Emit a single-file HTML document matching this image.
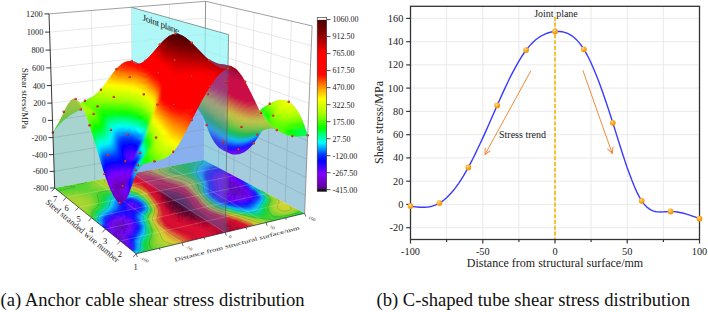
<!DOCTYPE html>
<html><head><meta charset="utf-8"><style>
html,body{margin:0;padding:0;background:#fff;width:708px;height:312px;overflow:hidden}
svg{display:block}
text{font-family:"Liberation Serif",serif}
</style></head><body>
<svg width="708" height="312" viewBox="0 0 708 312">
<defs>
<radialGradient id="dot" cx="0.38" cy="0.35" r="0.65">
<stop offset="0" stop-color="#ffe0a0"/><stop offset="0.45" stop-color="#fbad2a"/><stop offset="1" stop-color="#ef9500"/>
</radialGradient>
<radialGradient id="rdg" cx="0.4" cy="0.35" r="0.7">
<stop offset="0" stop-color="#f05050"/><stop offset="0.6" stop-color="#d01c1c"/><stop offset="1" stop-color="#a81010"/>
</radialGradient>
<circle id="rd" r="1.2" fill="url(#rdg)"/>
<filter id="bl2" x="-5%" y="-5%" width="110%" height="110%"><feGaussianBlur stdDeviation="1.0"/><feComponentTransfer><feFuncA type="linear" slope="3"/></feComponentTransfer></filter>
<clipPath id="sb"><path d="M159.8 44.5L148.2 58L145.4 60.6L142.6 62.6L139.9 63.7L138.2 63.3L135 61.7L131.8 60.9L134.5 63.1L137.2 64L139.1 63.9L154 74.4L156.9 77.6L164.3 87.2L167.2 90.4L168.8 91.7L174.7 94.7L177.7 95.1L183.7 96.4L186.6 97.5L189.6 99.5L192.6 102.2L197.1 107.7L203 116.3L206.2 125.1L209.4 132.9L210.9 136.3L214.1 141.9L217.3 146.1L218.9 147.7L223.7 150.8L225.8 151.6L229.7 153.5L232.8 154.4L236.2 154.6L239.3 154.3L244.3 152.2L247.7 149.7L249.5 148.1L252.9 144.4L258.2 137.2L262.1 131.1L263.5 130.3L267.5 128.9L271.5 128.4L275.4 129.1L278.7 131.2L282 132.9L286.8 134.9L291.7 136.1L294.9 136.5L299.7 136.5L304.5 135.9L307.7 135.2L304 124.2L300.3 115.6L298.4 112.2L296.5 109.2L292.6 104.6L288.8 101.7L284.9 100.2L283 99.9L279.1 100.1L275.3 101.1L269.7 103.7L264.1 107.1L259.6 110.4L249.2 89.2L243.9 79.2L242.2 76.3L240.3 73.7L238.5 71.4L236.8 69.6L235 68.3L231.2 66L223.8 64.2L220.1 64L216.5 62.9L209.2 59.5L205.7 57L195.2 46.2L190.1 41.3L185.1 37.2L181.8 35.3L178.7 34L175.5 33.8L172.1 34.6L168.9 36.1L165.8 38.4L162.8 41.3L159.8 44.5zM151.2 54.8L152.7 54L154.1 53.7L151.2 54.8zM157.3 54.7L154.6 53.7L156 54L157.3 54.7zM156.8 62.3L157.8 63.2L155.7 61.5L156.8 62.3zM157.5 59.2L155.2 57.7L156.4 58.4L157.5 59.2zM152.6 71.9L151.4 70.6L152 71.2L152.6 71.9zM151.6 67.3L152.7 68.5L150.4 66.4L151.6 67.3zM185.3 37.5L186.8 39L188.3 41.3L185.3 37.5zM185 39.3L182.2 35.9L183.7 37.3L185 39.3zM218.8 147L218.4 146.4L219.8 148.1L218.8 147zM281.4 108.2L282.2 107.5L280.6 109.1L281.4 108.2zM293.7 107.5L295.3 109.7L296.8 112.5L293.7 107.5zM283.3 101.8L283.7 101.5L282.9 102.2L283.3 101.8zM284 103.7L285 103.1L282.9 104.5L284 103.7zM280 107.3L280.7 106.5L281.4 105.8L280 107.3zM278.1 111.9L278 112L278.1 111.9L278.1 111.9zM281.1 120.4L282.8 122.4L284.4 125.2L281.1 120.4zM284.8 133.5L281.7 127.6L283.3 130.2L284.8 133.5z"/></clipPath>
<clipPath id="sf"><path d="M89.7 98.3L80.9 103L75.7 98.9L73.2 98.8L70.7 100.5L68.3 103.4L66 107.3L58.5 123.1L56.2 126.6L52.9 132.5L58.4 125.4L62.9 120.9L67.5 117.3L70.3 115.2L76.7 111.6L79.1 110.5L83.3 109.2L86.6 117.1L89.5 125.3L92.4 134.4L102.9 169.2L105.9 178.3L109 186.5L110.5 190.1L113.6 196.2L116.6 200.6L118.2 202L119.7 202.8L121.3 203.1L122.8 202.6L124.4 201.5L125.9 199.7L127.5 197L129.1 193.5L134.3 178.6L138.1 170.6L139.7 168L141.1 166.4L143.4 164.3L147.4 162.9L159.2 160.3L163.2 159L165.1 158.2L169 155.8L170.9 154.1L174.8 149.9L178.7 144.4L182.5 137.9L201.7 101L207.4 90.9L211.2 84.9L216.9 77.1L220.7 73.1L224.4 70.3L228.1 68.8L224.2 68.8L220.4 67.7L216.6 65.9L212.9 63.4L209.3 60.4L205.7 57L191.8 42.8L188.4 39.8L185.1 37.2L181.8 35.3L178.5 34.1L175.3 33.8L172.1 34.6L168.9 36.1L167.4 37.2L164.3 39.8L159.8 44.5L152.4 53.2L149.4 56.6L145.1 60.5L142.1 62.6L139.3 63.7L137.2 63.9L134.5 63L131.8 60.9L128.6 60.9L125.4 61.8L122.2 63.6L118.6 66.5L115.4 69.9L112.1 74L104 85.3L99.1 90.9L93 96.4L89.7 98.3zM116.3 71.8L115.6 72.7L116 72.2L116.3 71.8zM101.7 117.9L100.6 116L101.2 116.9L101.7 117.9zM103.3 87.5L104.4 87.6L102.4 88L103.3 87.5zM90.3 110.9L88.9 109L89.3 109.4L90.3 110.9zM70.4 106.2L70.8 105.5L71.3 104.9L70.4 106.2zM108.6 114.1L110.2 114.1L109.4 114.1L108.6 114.1zM108.7 87.3L108.8 87.3L108.7 87.3L108.7 87.3zM107 105.3L107.4 106L106.7 104.7L107 105.3zM109.3 92.3L107.5 89.8L108.4 90.9L109.3 92.3zM107.1 97.2L107.7 98.2L108.4 99.4L107.1 97.2zM108.3 94.3L108.1 94.5L107.8 94.8L108.3 94.3zM107.8 101.5L107.4 101.8L106.9 102.1L107.8 101.5zM105.5 116L105.6 116.1L105.4 115.8L105.5 116zM105.6 113.8L106.2 113.8L105.9 113.8L105.6 113.8zM123.2 187.9L126 185L124.6 186.6L123.2 187.9zM125.8 172.1L127.4 170L126.6 171.1L125.8 172.1zM130.2 166.1L130.2 166.1L130.2 166L130.2 166.1zM116.8 160.8L118.1 163.6L117.5 162.3L116.8 160.8zM114.6 186.8L113.4 184.8L115.7 188.3L114.6 186.8zM115.3 182.4L114.3 180.2L116.4 184.2L115.3 182.4zM116.1 176L115.2 174L116.9 177.7L116.1 176zM116.1 167.3L117.4 170.2L116.8 168.8L116.1 167.3zM112.9 189.9L111.8 188.3L114 191.1L112.9 189.9zM113.8 188.8L112.6 187.2L114.9 189.9L113.8 188.8zM118.8 66.7L119.9 65.8L121 65.1L118.8 66.7zM116.4 69.1L116.9 68.4L117.5 67.9L116.4 69.1zM121.5 189.6L120.1 190.6L118.6 191.2L121.5 189.6zM121.8 158.6L120.8 156.8L122.8 160L121.8 158.6zM122.4 188.5L120.9 189.6L119.3 190.2L122.4 188.5zM120.2 191.4L119.3 192.3L118.3 193L120.2 191.4zM126.7 154.9L125.8 153L127.6 156.6L126.7 154.9zM125 156.6L127.1 159.9L126.1 158.5L125 156.6zM128.1 161.9L129.8 162.3L129.7 162.3L128.1 161.9zM125.9 177.6L124.8 179L127.1 175.9L125.9 177.6zM125.3 183.2L124 184.7L126.6 181.4L125.3 183.2zM144.7 161.2L146 159.9L147.2 158.7L144.7 161.2zM145.3 156.9L146.5 155.5L147.7 154.2L145.3 156.9zM141.5 165.2L142 164.4L143.3 162.8L141.5 165.2zM152.1 155.5L153.6 157.6L155 160.6L152.1 155.5zM150.9 148.6L151.2 148.4L150.7 148.8L150.9 148.6zM150.4 151.6L151.4 150.8L149.4 152.5L150.4 151.6zM164.7 148.5L166.2 147.6L165.5 148.1L164.7 148.5zM165.4 130.1L166.4 130.8L167.4 131.5L165.4 130.1zM176.3 41.7L177.7 39.8L174.9 44.3L176.3 41.7zM171.8 34.8L168.9 38L170.4 36.1L171.8 34.8zM171.9 39.6L173.3 37.5L174.7 36L171.9 39.6zM170.4 144.4L169.3 145.3L168.2 146.2L170.4 144.4zM170.6 134.4L169 132.9L169.8 133.6L170.6 134.4zM168.9 138L170.3 136.6L169.6 137.3L168.9 138zM169.5 141.2L170.7 142.9L168.3 139.8L169.5 141.2zM215 77.9L213.4 78.2L216.6 77.2L215 77.9zM203.9 66.1L203.3 65.4L204.4 66.7L203.9 66.1zM204.8 74.6L203.8 73.7L202.8 72.7L204.8 74.6zM204.7 69.1L203 70.8L203.8 69.9L204.7 69.1zM203.3 78.1L203.8 77.5L204.2 77L203.3 78.1zM198.4 93.9L201.4 94.9L199.9 94.6L198.4 93.9zM201.3 87.3L200 86.5L198.7 85.6L201.3 87.3zM199.8 82.8L200.1 82.4L200.3 82.1L199.8 82.8z"/></clipPath>
<clipPath id="flc"><polygon points="54.7,188 203.9,160 304.6,213.3 136.1,253.8"/></clipPath>
<clipPath id="jpc"><polygon points="131.3,7.3 228.6,34.6 225.2,232.4 132.9,173.4"/></clipPath>
<clipPath id="band"><rect x="205.6" y="0" width="23" height="260"/></clipPath>
<clipPath id="curc"><polygon points="52.9,132.5 54.9,128.9 56.9,125.6 58.9,122.6 60.9,119.8 62.9,117.3 64.9,115.1 66.9,113 68.9,111.2 70.9,109.5 73,107.9 75,106.5 77,105.2 79,104 81,102.9 83,101.8 85,100.8 87,99.7 89,98.7 91,97.6 93,96.4 95,95 97,93.5 98.9,91.7 100.9,89.7 102.8,87.4 104.8,84.9 106.7,82.2 108.7,79.4 110.6,76.7 112.5,74 114.4,71.4 116.4,69 118.3,67 120.2,65.2 122.2,63.7 124.1,62.5 126,61.6 128,61 129.9,60.8 131.8,60.9 133.7,61.3 135.7,62 137.6,63 139.5,64.1 141.4,65.4 143.3,66.8 145.2,68.2 147.1,69.6 149,70.9 150.9,72.2 152.7,73.5 154.6,74.8 156.5,76 158.3,77.3 160.2,78.7 162,80.1 163.8,81.5 165.7,83 167.5,84.5 169.3,85.9 171.1,87.2 172.9,88.4 174.7,89.5 176.5,90.3 178.3,90.9 180.1,91.3 181.9,91.6 183.7,91.7 185.4,91.8 187.2,92 189,92.1 190.7,92.3 192.5,92.7 194.2,93.3 196,94 197.7,95.1 199.4,96.5 201.1,98.2 202.8,100.4 204.5,103 203.9,160 54.7,188"/><polygon points="307.7,135.2 305.9,129.4 304,124.2 302.1,119.7 300.2,115.6 298.3,112.2 296.4,109.2 294.5,106.7 292.6,104.6 290.7,103 288.7,101.7 286.8,100.8 284.9,100.2 283,99.9 281,99.9 279.1,100.1 277.2,100.5 275.3,101.1 273.4,101.9 271.5,102.8 269.7,103.8 267.8,104.8 266,105.9 264.1,107.1 262.3,108.4 260.5,109.8 258.6,111.2 256.8,112.7 255.1,114.3 253.3,115.9 251.5,117.6 249.8,119.4 248,121.2 246.3,123.1 244.6,124.8 242.9,126.5 241.2,128.1 239.5,129.4 237.8,130.6 236.2,131.5 234.6,132.2 233,132.5 231.4,132.6 229.8,132.3 228.2,131.8 226.7,131.1 225.1,130.1 223.6,129 222.1,127.6 220.6,126.1 219.1,124.4 217.6,122.6 216.1,120.6 214.6,118.6 213.2,116.5 211.7,114.3 210.2,112.1 208.8,109.8 207.4,107.5 205.9,105.2 204.5,103 203.9,160 304.6,213.3"/></clipPath>
<linearGradient id="cbg" x1="0" y1="0" x2="0" y2="1">
<stop offset="0" stop-color="#fff"/><stop offset="0.012" stop-color="#fff"/><stop offset="0.013" stop-color="#4a0000"/><stop offset="0.063" stop-color="#6e0000"/><stop offset="0.111" stop-color="#960000"/><stop offset="0.158" stop-color="#cc0000"/><stop offset="0.208" stop-color="#ff0000"/><stop offset="0.330" stop-color="#ff0800"/><stop offset="0.389" stop-color="#ff8000"/><stop offset="0.429" stop-color="#ffc000"/><stop offset="0.469" stop-color="#ffff00"/><stop offset="0.558" stop-color="#a0ff00"/><stop offset="0.637" stop-color="#00ff00"/><stop offset="0.680" stop-color="#00ff90"/><stop offset="0.720" stop-color="#00ffff"/><stop offset="0.753" stop-color="#00a0ff"/><stop offset="0.786" stop-color="#0040ff"/><stop offset="0.825" stop-color="#0000ff"/><stop offset="0.898" stop-color="#8000ff"/><stop offset="0.944" stop-color="#7000c8"/><stop offset="0.987" stop-color="#5a0090"/><stop offset="0.988" stop-color="#111"/><stop offset="1" stop-color="#111"/>
</linearGradient>
<marker id="ah" markerWidth="8" markerHeight="8" refX="7" refY="4" orient="auto" markerUnits="userSpaceOnUse">
<path d="M1,1 L7,4 L1,7" fill="none" stroke="#f08a3c" stroke-width="1"/>
</marker>
</defs>
<g id="rc">
<g stroke="#e8e8e8" stroke-width="0.9"><line x1="446.6" y1="6.3" x2="446.6" y2="239.5"/><line x1="482.8" y1="6.3" x2="482.8" y2="239.5"/><line x1="518.9" y1="6.3" x2="518.9" y2="239.5"/><line x1="555.0" y1="6.3" x2="555.0" y2="239.5"/><line x1="591.1" y1="6.3" x2="591.1" y2="239.5"/><line x1="627.2" y1="6.3" x2="627.2" y2="239.5"/><line x1="663.4" y1="6.3" x2="663.4" y2="239.5"/><line x1="410.5" y1="227.7" x2="699.5" y2="227.7"/><line x1="410.5" y1="204.4" x2="699.5" y2="204.4"/><line x1="410.5" y1="181.2" x2="699.5" y2="181.2"/><line x1="410.5" y1="157.9" x2="699.5" y2="157.9"/><line x1="410.5" y1="134.7" x2="699.5" y2="134.7"/><line x1="410.5" y1="111.4" x2="699.5" y2="111.4"/><line x1="410.5" y1="88.1" x2="699.5" y2="88.1"/><line x1="410.5" y1="64.9" x2="699.5" y2="64.9"/><line x1="410.5" y1="41.7" x2="699.5" y2="41.7"/><line x1="410.5" y1="18.4" x2="699.5" y2="18.4"/></g>
<g stroke="#3a3a3a" stroke-width="1.2"><line x1="406.2" y1="227.7" x2="410.5" y2="227.7"/><line x1="406.2" y1="204.4" x2="410.5" y2="204.4"/><line x1="406.2" y1="181.2" x2="410.5" y2="181.2"/><line x1="406.2" y1="157.9" x2="410.5" y2="157.9"/><line x1="406.2" y1="134.7" x2="410.5" y2="134.7"/><line x1="406.2" y1="111.4" x2="410.5" y2="111.4"/><line x1="406.2" y1="88.1" x2="410.5" y2="88.1"/><line x1="406.2" y1="64.9" x2="410.5" y2="64.9"/><line x1="406.2" y1="41.7" x2="410.5" y2="41.7"/><line x1="406.2" y1="18.4" x2="410.5" y2="18.4"/><line x1="410.5" y1="239.5" x2="410.5" y2="243.6"/><line x1="482.8" y1="239.5" x2="482.8" y2="243.6"/><line x1="555.0" y1="239.5" x2="555.0" y2="243.6"/><line x1="627.2" y1="239.5" x2="627.2" y2="243.6"/><line x1="699.5" y1="239.5" x2="699.5" y2="243.6"/><line x1="446.6" y1="239.5" x2="446.6" y2="241.9"/><line x1="518.9" y1="239.5" x2="518.9" y2="241.9"/><line x1="591.1" y1="239.5" x2="591.1" y2="241.9"/><line x1="663.4" y1="239.5" x2="663.4" y2="241.9"/></g>
<g font-size="10.3" fill="#222"><text x="403.3" y="231.1" text-anchor="end">-20</text><text x="403.3" y="207.8" text-anchor="end">0</text><text x="403.3" y="184.6" text-anchor="end">20</text><text x="403.3" y="161.3" text-anchor="end">40</text><text x="403.3" y="138.1" text-anchor="end">60</text><text x="403.3" y="114.8" text-anchor="end">80</text><text x="403.3" y="91.5" text-anchor="end">100</text><text x="403.3" y="68.3" text-anchor="end">120</text><text x="403.3" y="45.1" text-anchor="end">140</text><text x="403.3" y="21.8" text-anchor="end">160</text><text x="410.5" y="255.3" text-anchor="middle">-100</text><text x="482.8" y="255.3" text-anchor="middle">-50</text><text x="555.0" y="255.3" text-anchor="middle">0</text><text x="627.2" y="255.3" text-anchor="middle">50</text><text x="699.5" y="255.3" text-anchor="middle">100</text></g>
<line x1="555" y1="17" x2="555" y2="239.5" stroke="#f7b600" stroke-width="1.6" stroke-dasharray="3.9,1.9"/>
<rect x="410.5" y="6.3" width="289" height="233.2" fill="none" stroke="#333" stroke-width="1.3"/>
<path d="M410.5,206.1 L412.9,206.5 L415.3,206.8 L417.7,207.0 L420.1,207.2 L422.5,207.3 L424.9,207.2 L427.4,207.0 L429.8,206.7 L432.2,206.1 L434.6,205.4 L437.0,204.4 L439.4,203.1 L441.8,201.6 L444.2,199.8 L446.6,197.7 L449.0,195.3 L451.4,192.7 L453.9,189.8 L456.3,186.6 L458.7,183.3 L461.1,179.7 L463.5,175.8 L465.9,171.7 L468.3,167.4 L470.7,162.9 L473.1,158.2 L475.5,153.4 L477.9,148.3 L480.3,143.2 L482.8,137.9 L485.2,132.6 L487.6,127.2 L490.0,121.7 L492.4,116.3 L494.8,110.8 L497.2,105.4 L499.6,100.0 L502.0,94.6 L504.4,89.4 L506.8,84.2 L509.2,79.2 L511.6,74.4 L514.1,69.8 L516.5,65.3 L518.9,61.1 L521.3,57.2 L523.7,53.5 L526.1,50.1 L528.5,47.1 L530.9,44.4 L533.3,41.9 L535.7,39.8 L538.1,38.0 L540.5,36.4 L543.0,35.0 L545.4,33.9 L547.8,33.0 L550.2,32.3 L552.6,31.8 L555.0,31.5 L557.4,31.4 L559.8,31.5 L562.2,31.8 L564.6,32.3 L567.0,33.2 L569.5,34.3 L571.9,35.8 L574.3,37.7 L576.7,39.9 L579.1,42.6 L581.5,45.7 L583.9,49.3 L586.3,53.4 L588.7,58.0 L591.1,63.0 L593.5,68.5 L595.9,74.3 L598.4,80.5 L600.8,86.9 L603.2,93.7 L605.6,100.7 L608.0,107.9 L610.4,115.3 L612.8,122.8 L615.2,130.4 L617.6,138.1 L620.0,145.7 L622.4,153.3 L624.8,160.6 L627.2,167.7 L629.7,174.5 L632.1,180.8 L634.5,186.7 L636.9,192.1 L639.3,196.8 L641.7,200.8 L644.1,204.1 L646.5,206.7 L648.9,208.6 L651.3,210.1 L653.7,211.1 L656.1,211.7 L658.6,211.9 L661.0,212.0 L663.4,211.9 L665.8,211.7 L668.2,211.6 L670.6,211.5 L673.2,211.6 L675.9,211.8 L678.5,212.2 L681.1,212.7 L683.7,213.3 L686.4,214.1 L689.0,214.9 L691.6,215.8 L694.2,216.7 L696.9,217.7 L699.5,218.7" fill="none" stroke="#3a3aff" stroke-width="1.4"/>
<g fill="url(#dot)"><circle cx="410.5" cy="206.1" r="2.9"/>
<circle cx="439.4" cy="203.1" r="2.9"/>
<circle cx="468.3" cy="167.4" r="2.9"/>
<circle cx="497.2" cy="105.4" r="2.9"/>
<circle cx="526.1" cy="50.1" r="2.9"/>
<circle cx="555.0" cy="31.5" r="2.9"/>
<circle cx="583.9" cy="49.3" r="2.9"/>
<circle cx="612.8" cy="122.8" r="2.9"/>
<circle cx="641.7" cy="200.8" r="2.9"/>
<circle cx="670.6" cy="211.5" r="2.9"/>
<circle cx="699.5" cy="218.7" r="2.9"/></g>
<line x1="530.8" y1="70.9" x2="485" y2="154.5" stroke="#f08a3c" stroke-width="1" marker-end="url(#ah)"/>
<line x1="582.8" y1="70.2" x2="612.2" y2="153.4" stroke="#f08a3c" stroke-width="1" marker-end="url(#ah)"/>
<text x="556" y="17.2" font-size="10" text-anchor="middle" fill="#222">Joint plane</text>
<text x="499" y="138.3" font-size="10" fill="#222">Stress trend</text>
<text x="555" y="267.2" font-size="12" text-anchor="middle" fill="#222">Distance from structural surface/mm</text>
<text transform="translate(383,122.5) rotate(-90)" font-size="12" text-anchor="middle" fill="#222">Shear stress/MPa</text>
</g>
<text x="0.5" y="305.5" font-size="18.6" fill="#111">(a) Anchor cable shear stress distribution</text>
<text x="376.5" y="305.5" font-size="18.6" fill="#111">(b) C-shaped tube shear stress distribution</text>

<g id="lc">
<g stroke="#d9d9d9" stroke-width="0.6"><line x1="54.2" y1="171.4" x2="204.1" y2="144.8"/><line x1="204.1" y1="144.8" x2="305.3" y2="195.4"/><line x1="53.6" y1="154.6" x2="204.2" y2="129.4"/><line x1="204.2" y1="129.4" x2="306" y2="177.4"/><line x1="53.1" y1="137.6" x2="204.4" y2="113.9"/><line x1="204.4" y1="113.9" x2="306.8" y2="159.2"/><line x1="52.5" y1="120.4" x2="204.6" y2="98.3"/><line x1="204.6" y1="98.3" x2="307.5" y2="140.7"/><line x1="51.9" y1="103.1" x2="204.7" y2="82.5"/><line x1="204.7" y1="82.5" x2="308.3" y2="122.1"/><line x1="51.4" y1="85.6" x2="204.9" y2="66.5"/><line x1="204.9" y1="66.5" x2="309" y2="103.3"/><line x1="50.8" y1="67.9" x2="205.1" y2="50.5"/><line x1="205.1" y1="50.5" x2="309.8" y2="84.3"/><line x1="50.2" y1="50.1" x2="205.3" y2="34.2"/><line x1="205.3" y1="34.2" x2="310.6" y2="65"/><line x1="49.6" y1="32.1" x2="205.4" y2="17.9"/><line x1="205.4" y1="17.9" x2="311.3" y2="45.6"/><line x1="91.2" y1="10.5" x2="94.8" y2="180.5"/><line x1="131.3" y1="7.3" x2="132.9" y2="173.4"/><line x1="169.4" y1="4.2" x2="169.3" y2="166.5"/><line x1="291.5" y1="21.2" x2="285.2" y2="203.1"/><line x1="272.2" y1="16.7" x2="267" y2="193.4"/><line x1="254.1" y1="12.5" x2="249.9" y2="184.4"/><line x1="237" y1="8.6" x2="233.7" y2="175.8"/><line x1="220.8" y1="4.9" x2="218.4" y2="167.7"/></g>
<g stroke="#666" stroke-width="0.7"><line x1="205.6" y1="1.3" x2="203.9" y2="160"/></g>
<polygon points="131.3,7.3 228.6,34.6 225.2,232.4 132.9,173.4" fill="#8ef5f5" fill-opacity="0.7"/>
<polygon points="52.9,132.5 54.9,128.9 56.9,125.6 58.9,122.6 60.9,119.8 62.9,117.3 64.9,115.1 66.9,113 68.9,111.2 70.9,109.5 73,107.9 75,106.5 77,105.2 79,104 81,102.9 83,101.8 85,100.8 87,99.7 89,98.7 91,97.6 93,96.4 95,95 97,93.5 98.9,91.7 100.9,89.7 102.8,87.4 104.8,84.9 106.7,82.2 108.7,79.4 110.6,76.7 112.5,74 114.4,71.4 116.4,69 118.3,67 120.2,65.2 122.2,63.7 124.1,62.5 126,61.6 128,61 129.9,60.8 131.8,60.9 133.7,61.3 135.7,62 137.6,63 139.5,64.1 141.4,65.4 143.3,66.8 145.2,68.2 147.1,69.6 149,70.9 150.9,72.2 152.7,73.5 154.6,74.8 156.5,76 158.3,77.3 160.2,78.7 162,80.1 163.8,81.5 165.7,83 167.5,84.5 169.3,85.9 171.1,87.2 172.9,88.4 174.7,89.5 176.5,90.3 178.3,90.9 180.1,91.3 181.9,91.6 183.7,91.7 185.4,91.8 187.2,92 189,92.1 190.7,92.3 192.5,92.7 194.2,93.3 196,94 197.7,95.1 199.4,96.5 201.1,98.2 202.8,100.4 204.5,103 203.9,160 54.7,188" fill="#a8d4d0"/>
<polygon points="307.7,135.2 305.9,129.4 304,124.2 302.1,119.7 300.2,115.6 298.3,112.2 296.4,109.2 294.5,106.7 292.6,104.6 290.7,103 288.7,101.7 286.8,100.8 284.9,100.2 283,99.9 281,99.9 279.1,100.1 277.2,100.5 275.3,101.1 273.4,101.9 271.5,102.8 269.7,103.8 267.8,104.8 266,105.9 264.1,107.1 262.3,108.4 260.5,109.8 258.6,111.2 256.8,112.7 255.1,114.3 253.3,115.9 251.5,117.6 249.8,119.4 248,121.2 246.3,123.1 244.6,124.8 242.9,126.5 241.2,128.1 239.5,129.4 237.8,130.6 236.2,131.5 234.6,132.2 233,132.5 231.4,132.6 229.8,132.3 228.2,131.8 226.7,131.1 225.1,130.1 223.6,129 222.1,127.6 220.6,126.1 219.1,124.4 217.6,122.6 216.1,120.6 214.6,118.6 213.2,116.5 211.7,114.3 210.2,112.1 208.8,109.8 207.4,107.5 205.9,105.2 204.5,103 203.9,160 304.6,213.3" fill="#a4ccdc"/>
<g clip-path="url(#jpc)"><polygon points="52.9,132.5 54.9,128.9 56.9,125.6 58.9,122.6 60.9,119.8 62.9,117.3 64.9,115.1 66.9,113 68.9,111.2 70.9,109.5 73,107.9 75,106.5 77,105.2 79,104 81,102.9 83,101.8 85,100.8 87,99.7 89,98.7 91,97.6 93,96.4 95,95 97,93.5 98.9,91.7 100.9,89.7 102.8,87.4 104.8,84.9 106.7,82.2 108.7,79.4 110.6,76.7 112.5,74 114.4,71.4 116.4,69 118.3,67 120.2,65.2 122.2,63.7 124.1,62.5 126,61.6 128,61 129.9,60.8 131.8,60.9 133.7,61.3 135.7,62 137.6,63 139.5,64.1 141.4,65.4 143.3,66.8 145.2,68.2 147.1,69.6 149,70.9 150.9,72.2 152.7,73.5 154.6,74.8 156.5,76 158.3,77.3 160.2,78.7 162,80.1 163.8,81.5 165.7,83 167.5,84.5 169.3,85.9 171.1,87.2 172.9,88.4 174.7,89.5 176.5,90.3 178.3,90.9 180.1,91.3 181.9,91.6 183.7,91.7 185.4,91.8 187.2,92 189,92.1 190.7,92.3 192.5,92.7 194.2,93.3 196,94 197.7,95.1 199.4,96.5 201.1,98.2 202.8,100.4 204.5,103 203.9,160 54.7,188" fill="#88b0ee"/><polygon points="307.7,135.2 305.9,129.4 304,124.2 302.1,119.7 300.2,115.6 298.3,112.2 296.4,109.2 294.5,106.7 292.6,104.6 290.7,103 288.7,101.7 286.8,100.8 284.9,100.2 283,99.9 281,99.9 279.1,100.1 277.2,100.5 275.3,101.1 273.4,101.9 271.5,102.8 269.7,103.8 267.8,104.8 266,105.9 264.1,107.1 262.3,108.4 260.5,109.8 258.6,111.2 256.8,112.7 255.1,114.3 253.3,115.9 251.5,117.6 249.8,119.4 248,121.2 246.3,123.1 244.6,124.8 242.9,126.5 241.2,128.1 239.5,129.4 237.8,130.6 236.2,131.5 234.6,132.2 233,132.5 231.4,132.6 229.8,132.3 228.2,131.8 226.7,131.1 225.1,130.1 223.6,129 222.1,127.6 220.6,126.1 219.1,124.4 217.6,122.6 216.1,120.6 214.6,118.6 213.2,116.5 211.7,114.3 210.2,112.1 208.8,109.8 207.4,107.5 205.9,105.2 204.5,103 203.9,160 304.6,213.3" fill="#98d0e2"/></g>
<g stroke="#7d9cb0" stroke-width="0.55" opacity="0.75" clip-path="url(#curc)"><line x1="54.2" y1="171.4" x2="204.1" y2="144.8"/><line x1="204.1" y1="144.8" x2="305.3" y2="195.4"/><line x1="53.6" y1="154.6" x2="204.2" y2="129.4"/><line x1="204.2" y1="129.4" x2="306" y2="177.4"/><line x1="53.1" y1="137.6" x2="204.4" y2="113.9"/><line x1="204.4" y1="113.9" x2="306.8" y2="159.2"/><line x1="52.5" y1="120.4" x2="204.6" y2="98.3"/><line x1="204.6" y1="98.3" x2="307.5" y2="140.7"/><line x1="51.9" y1="103.1" x2="204.7" y2="82.5"/><line x1="204.7" y1="82.5" x2="308.3" y2="122.1"/><line x1="51.4" y1="85.6" x2="204.9" y2="66.5"/><line x1="204.9" y1="66.5" x2="309" y2="103.3"/><line x1="50.8" y1="67.9" x2="205.1" y2="50.5"/><line x1="205.1" y1="50.5" x2="309.8" y2="84.3"/><line x1="50.2" y1="50.1" x2="205.3" y2="34.2"/><line x1="205.3" y1="34.2" x2="310.6" y2="65"/><line x1="49.6" y1="32.1" x2="205.4" y2="17.9"/><line x1="205.4" y1="17.9" x2="311.3" y2="45.6"/><line x1="91.2" y1="10.5" x2="94.8" y2="180.5"/><line x1="131.3" y1="7.3" x2="132.9" y2="173.4"/><line x1="169.4" y1="4.2" x2="169.3" y2="166.5"/><line x1="291.5" y1="21.2" x2="285.2" y2="203.1"/><line x1="272.2" y1="16.7" x2="267" y2="193.4"/><line x1="254.1" y1="12.5" x2="249.9" y2="184.4"/><line x1="237" y1="8.6" x2="233.7" y2="175.8"/><line x1="220.8" y1="4.9" x2="218.4" y2="167.7"/></g>
<g clip-path="url(#flc)"><g fill="currentColor" stroke="currentColor" stroke-width="0.5" filter="url(#bl2)"><path color="#0ed1fe" d="M136.1 253.8l4-.9 -3.3-2.7 -3.9 1zM143.5 232.5l3.7-.8 -3.1-2.4 -3.7 .9zM144.1 229.3l3.6-.8 -3.1-2.3 -3.6 .8zM143.2 215l3.5-.7 -3-2.1 -3.5 .7zM102.5 215.5l3.6-.8 -2.8-2.1 -3.6 .7zM111.2 208.3l3.6-.7 -2.8-2.1 -3.5 .7zM112 205.5l3.5-.7 -2.7-2 -3.5 .7zM112.8 202.8l3.4-.7 -2.7-2 -3.4 .7zM113.5 200.1l3.5-.6 -2.7-2 -3.4 .7z"/><path color="#0ed4a8" d="M140.1 252.9l3.9-1 -3.3-2.6 -3.9 .9zM141.3 245.8l3.8-.9 -3.2-2.5 -3.9 .9zM141.9 242.4l3.8-.9 -3.3-2.5 -3.7 .9zM262.9 205.3l3.1-.7 -3.6-2 -3.1 .7zM257.1 190.4l3-.7 -3.5-1.8 -3 .7zM97 222.2l3.7-.8 -2.8-2.2 -3.7 .8zM147.6 208.6l3.5-.7 -3-2.1 -3.4 .8zM110.9 198.2l3.4-.7 -2.7-1.9 -3.4 .7z"/><path color="#0ed454" d="M144 251.9l3.9-.9 -3.3-2.6 -3.9 .9zM147.7 228.5l3.7-.8 -3.2-2.3 -3.6 .8zM227.2 210.6l3.3-.8 -3.5-2 -3.2 .7zM260.5 192.2l3-.6 -3.4-1.9 -3 .7zM95.2 217l3.6-.8 -2.7-2.1 -3.6 .8zM100.6 210.5l3.6-.7 -2.7-2.1 -3.6 .7zM108.2 196.3l3.4-.7 -2.6-1.9 -3.4 .7z"/><path color="#2dd432" d="M147.9 251l3.8-1 -3.3-2.5 -3.8 .9zM282.3 218.6l3.3-.7 -3.9-2.2 -3.2 .8zM285.6 217.9l3.2-.8 -3.9-2.2 -3.2 .8zM288.8 217.1l3.2-.8 -4-2.1 -3.1 .7zM292 216.3l3.1-.8 -3.9-2.1 -3.2 .8zM295.1 215.5l3.2-.7 -3.9-2.1 -3.2 .7zM258.4 218.2l3.3-.8 -3.8-2.2 -3.2 .8zM149.9 237.3l3.8-.9 -3.3-2.4 -3.7 .9zM150.4 234l3.7-.8 -3.2-2.4 -3.7 .9zM148.2 225.4l3.6-.8 -3.1-2.2 -3.6 .7zM264 194.1l3-.7 -3.5-1.8 -3 .6zM140 197.3l3.3-.7 -2.8-1.9 -3.3 .7zM100.6 200.3l3.4-.7 -2.6-1.9 -3.4 .6zM101.4 197.7l3.4-.7 -2.6-1.9 -3.4 .6zM125 192.9l3.4-.6 -2.7-1.9 -3.3 .7zM105.6 194.4l3.4-.7 -2.6-1.8 -3.3 .6zM109 193.7l3.4-.6 -2.6-1.9 -3.4 .7zM112.4 193.1l3.3-.7 -2.6-1.8 -3.3 .6zM57 189.9l3.4-.7 -2.3-1.8 -3.4 .6z"/><path color="#53d432" d="M151.7 250l3.9-.9 -3.4-2.6 -3.8 1zM262.2 220.3l3.3-.7 -3.8-2.2 -3.3 .8zM275.2 217.2l3.3-.7 -3.9-2.2 -3.2 .8zM271.4 215.1l3.2-.8 -3.8-2.1 -3.2 .8zM248.1 217.5l3.3-.7 -3.7-2.2 -3.2 .8zM91.5 217.8l3.7-.8 -2.7-2.1 -3.6 .7zM97.1 201l3.5-.7 -2.6-2 -3.5 .7zM95.4 196.4l3.4-.7 -2.5-1.8 -3.4 .6zM119 191.7l3.4-.6 -2.7-1.8 -3.3 .6zM96.3 193.9l3.4-.7 -2.5-1.9 -3.4 .7zM99.7 193.2l3.4-.7 -2.6-1.8 -3.3 .6zM103.1 192.5l3.3-.6 -2.5-1.9 -3.4 .7zM106.4 191.9l3.4-.7 -2.6-1.8 -3.3 .6zM75.3 190.9l3.4-.6 -2.4-1.9 -3.4 .7zM78.7 190.3l3.4-.7 -2.4-1.8 -3.4 .6zM59.2 191.7l3.5-.7 -2.3-1.8 -3.4 .7zM62.7 191l3.4-.6 -2.3-1.8 -3.4 .6zM66.1 190.4l3.4-.7 -2.3-1.8 -3.4 .7zM69.5 189.7l3.4-.6 -2.3-1.8 -3.4 .6zM72.9 189.1l3.4-.7 -2.3-1.8 -3.4 .7zM76.3 188.4l3.4-.6 -2.4-1.8 -3.3 .6zM79.7 187.8l3.4-.6 -2.4-1.8 -3.4 .6zM83.1 187.2l3.3-.7 -2.4-1.8 -3.3 .7zM67.2 187.9l3.4-.6 -2.3-1.8 -3.4 .6zM70.6 187.3l3.4-.7 -2.3-1.7 -3.4 .6zM74 186.6l3.3-.6 -2.3-1.8 -3.3 .7zM77.3 186l3.4-.6 -2.4-1.8 -3.3 .6zM80.7 185.4l3.3-.7 -2.3-1.7 -3.4 .6zM84 184.7l3.3-.6 -2.3-1.7 -3.3 .6z"/><path color="#6dd432" d="M155.6 249.1l3.8-.9 -3.3-2.6 -3.9 .9zM152.2 246.5l3.9-.9 -3.4-2.5 -3.8 .9zM278.5 216.5l3.2-.8 -3.9-2.1 -3.2 .7zM270.8 212.2l3.2-.7 -3.7-2.1 -3.2 .7zM270.3 209.4l3.1-.7 -3.7-2.1 -3.1 .7zM151.4 227.7l3.6-.8 -3.2-2.3 -3.6 .8zM271.7 200.5l3.1-.7 -3.7-1.9 -3 .7zM149.7 216.4l3.5-.8 -3-2.1 -3.5 .8zM151.1 207.9l3.4-.8 -3-2 -3.4 .7zM89.8 212.7l3.7-.7 -2.7-2.1 -3.6 .7zM95.3 206.4l3.5-.7 -2.6-2 -3.5 .7zM92 197.1l3.4-.7 -2.5-1.9 -3.4 .7zM89.5 195.2l3.4-.7 -2.5-1.8 -3.4 .6zM83.6 194l3.4-.7 -2.5-1.8 -3.4 .6zM87 193.3l3.4-.6 -2.5-1.9 -3.4 .7zM97.2 191.3l3.3-.6 -2.5-1.8 -3.3 .6zM100.5 190.7l3.4-.7 -2.6-1.8 -3.3 .7zM70.8 194.1l3.5-.7 -2.4-1.8 -3.4 .6zM74.3 193.4l3.4-.6 -2.4-1.9 -3.4 .7zM77.7 192.8l3.4-.7 -2.4-1.8 -3.4 .6zM91.3 190.1l3.4-.6 -2.5-1.8 -3.4 .6zM61.6 193.6l3.4-.7 -2.3-1.9 -3.5 .7zM88.8 188.3l3.4-.6 -2.4-1.8 -3.4 .6zM89.8 185.9l3.3-.6 -2.5-1.8 -3.3 .6zM90.6 183.5l3.3-.6 -2.4-1.8 -3.3 .6z"/><path color="#87d432" d="M159.4 248.2l3.8-.9 -3.4-2.6 -3.7 .9zM281.7 215.7l3.2-.8 -3.9-2.1 -3.2 .8zM297.5 211.9l3.1-.7 -3.9-2.1 -3.1 .7zM251.8 219.7l3.3-.8 -3.7-2.1 -3.3 .7zM274.6 214.3l3.2-.7 -3.8-2.1 -3.2 .7zM154.1 233.2l3.7-.9 -3.2-2.3 -3.7 .8zM149.2 219.4l3.6-.8 -3.1-2.2 -3.5 .8zM91.8 207.1l3.5-.7 -2.6-2 -3.5 .7zM92.7 204.4l3.5-.7 -2.6-2 -3.5 .7zM91.1 199.7l3.4-.7 -2.5-1.9 -3.5 .7zM88.5 197.8l3.5-.7 -2.5-1.9 -3.5 .7zM82.6 196.6l3.4-.7 -2.4-1.9 -3.5 .7zM73.2 196l3.5-.7 -2.4-1.9 -3.5 .7zM76.7 195.3l3.4-.6 -2.4-1.9 -3.4 .6zM98 188.9l3.3-.7 -2.5-1.8 -3.3 .6zM95.5 187l3.3-.6 -2.4-1.8 -3.3 .7zM93.1 185.3l3.3-.7 -2.5-1.7 -3.3 .6z"/><path color="#98d432" d="M163.2 247.3l3.8-.9 -3.4-2.6 -3.8 .9zM284.9 214.9l3.1-.7 -3.8-2.1 -3.2 .7zM294.4 212.7l3.1-.8 -3.9-2.1 -3.1 .8zM244.8 218.3l3.3-.8 -3.6-2.1 -3.3 .7zM274 211.5l3.2-.8 -3.8-2 -3.1 .7zM227.4 213.4l3.3-.8 -3.5-2 -3.2 .7zM86.2 213.5l3.6-.8 -2.6-2.1 -3.6 .8zM88.2 207.8l3.6-.7 -2.6-2 -3.6 .7zM90.1 202.4l3.5-.7 -2.5-2 -3.5 .7zM87.6 200.4l3.5-.7 -2.6-1.9 -3.4 .7zM125.7 190.4l3.3-.6 -2.7-1.8 -3.3 .6zM68.6 199.3l3.6-.7 -2.5-1.9 -3.5 .7zM72.2 198.6l3.4-.7 -2.4-1.9 -3.5 .7zM75.6 197.9l3.5-.7 -2.4-1.9 -3.5 .7zM98.8 186.4l3.3-.6 -2.4-1.8 -3.3 .6z"/><path color="#acd432" d="M167 246.4l3.8-.9 -3.4-2.6 -3.8 .9zM293.6 209.8l3.1-.7 -3.9-2 -3.1 .7zM237.9 216.9l3.3-.8 -3.6-2.1 -3.3 .8zM276 205.2l3.1-.7 -3.7-2 -3.1 .7zM153.6 212.8l3.5-.8 -3-2.1 -3.5 .8zM78.5 207.3l3.6-.8 -2.6-2 -3.5 .7zM82.1 206.5l3.5-.7 -2.5-2 -3.6 .7zM76 205.2l3.5-.7 -2.4-2 -3.6 .7zM79.5 204.5l3.6-.7 -2.5-2 -3.5 .7zM83.1 203.8l3.5-.7 -2.5-2 -3.5 .7zM137.7 192.8l3.3-.6 -2.8-1.9 -3.2 .7zM77.1 202.5l3.5-.7 -2.5-1.9 -3.5 .6zM80.6 201.8l3.5-.7 -2.5-1.9 -3.5 .7z"/><path color="#c0d432" d="M170.8 245.5l3.8-.9 -3.5-2.6 -3.7 .9zM284.2 212.1l3.1-.8 -3.8-2 -3.2 .7zM290.5 210.6l3.1-.8 -3.9-2 -3.1 .7zM160.7 238l3.7-.9 -3.3-2.4 -3.7 .9zM289.7 207.8l3.1-.7 -3.8-2.1 -3.1 .8zM231 215.5l3.3-.7 -3.6-2.2 -3.3 .8zM279.1 204.5l3.1-.7 -3.8-2 -3 .7zM155 226.9l3.6-.8 -3.2-2.3 -3.6 .8zM135 191l3.2-.7 -2.7-1.8 -3.3 .6zM123 188.6l3.3-.6 -2.6-1.8 -3.3 .6z"/><path color="#d4d432" d="M174.6 244.6l3.7-.9 -3.5-2.5 -3.7 .8zM283.5 209.3l3.1-.8 -3.8-2 -3.1 .7zM286.6 208.5l3.1-.7 -3.8-2 -3.1 .7zM149 200.4l3.4-.6 -2.9-2 -3.4 .7zM132.2 189.1l3.3-.6 -2.7-1.8 -3.2 .6zM126.3 188l3.3-.7 -2.7-1.8 -3.2 .7zM107 180.4l3.2-.6 -2.5-1.7 -3.2 .6z"/><path color="#dab432" d="M178.3 243.7l3.7-.9 -3.5-2.5 -3.7 .9zM146.6 195.9l3.3-.7 -2.8-1.8 -3.3 .6zM138.2 190.3l3.3-.6 -2.8-1.9 -3.2 .7zM110.2 179.8l3.2-.6 -2.5-1.7 -3.2 .6z"/><path color="#da8b32" d="M182 242.8l3.7-.9 -3.5-2.5 -3.7 .9zM252.7 225.8l3.3-.8 -3.7-2.3 -3.4 .8zM238.2 219.9l3.3-.8 -3.6-2.2 -3.4 .8zM149.5 197.8l3.3-.7 -2.9-1.9 -3.3 .7zM113.4 179.2l3.2-.6 -2.5-1.7 -3.2 .6z"/><path color="#da5332" d="M185.7 241.9l3.7-.9 -3.5-2.5 -3.7 .9zM182.2 239.4l3.7-.9 -3.5-2.4 -3.6 .9zM178.8 237l3.6-.9 -3.4-2.4 -3.6 .9zM152.4 199.8l3.3-.7 -2.9-2 -3.3 .7zM147.1 193.4l3.2-.7 -2.8-1.9 -3.2 .7z"/><path color="#da2c32" d="M189.4 241l3.7-.9 -3.6-2.4 -3.6 .8zM185.9 238.5l3.6-.8 -3.4-2.5 -3.7 .9zM172 232.2l3.6-.9 -3.3-2.3 -3.6 .8zM149.9 195.2l3.3-.6 -2.9-1.9 -3.2 .7zM124.9 181.4l3.2-.6 -2.6-1.7 -3.2 .6zM122.3 179.7l3.2-.6 -2.6-1.7 -3.1 .6zM122.9 177.4l3.2-.6 -2.5-1.7 -3.2 .6z"/><path color="#da0e32" d="M193.1 240.1l3.6-.9 -3.5-2.4 -3.7 .9zM186.1 235.2l3.6-.8 -3.5-2.4 -3.6 .9zM175.6 231.3l3.6-.8 -3.3-2.3 -3.6 .8zM162.6 222.2l3.5-.8 -3.2-2.2 -3.5 .8zM155.3 201.7l3.3-.7 -2.9-1.9 -3.3 .7zM152.8 197.1l3.3-.6 -2.9-1.9 -3.3 .6zM144.7 189l3.3-.6 -2.8-1.8 -3.2 .6zM139.8 183l3.1-.6 -2.6-1.7 -3.2 .6zM137.1 181.3l3.2-.6 -2.7-1.7 -3.2 .6zM140.3 180.7l3.1-.6 -2.7-1.7 -3.1 .6z"/><path color="#da0d32" d="M196.7 239.2l3.6-.8 -3.5-2.5 -3.6 .9zM245.9 227.4l3.4-.8 -3.7-2.3 -3.4 .8zM193.2 236.8l3.6-.9 -3.5-2.4 -3.6 .9zM189.7 234.4l3.6-.9 -3.5-2.3 -3.6 .8zM238.5 222.9l3.3-.8 -3.6-2.2 -3.4 .7zM182.6 232.9l3.6-.9 -3.4-2.3 -3.6 .8zM227.9 219.2l3.3-.7 -3.5-2.2 -3.4 .8zM172.3 229l3.6-.8 -3.3-2.3 -3.6 .8zM165.8 224.4l3.5-.8 -3.2-2.2 -3.5 .8zM162.9 219.2l3.5-.8 -3.1-2.1 -3.5 .7zM163.3 216.3l3.4-.8 -3.1-2.1 -3.4 .7zM147.5 190.8l3.3-.6 -2.8-1.8 -3.3 .6zM142.5 184.8l3.2-.6 -2.8-1.8 -3.1 .6zM142.9 182.4l3.2-.6 -2.7-1.7 -3.1 .6z"/><path color="#da0c32" d="M200.3 238.4l3.7-.9 -3.6-2.4 -3.6 .8zM196.8 235.9l3.6-.8 -3.6-2.4 -3.5 .8zM242.2 225.1l3.4-.8 -3.8-2.2 -3.3 .8zM193.3 233.5l3.5-.8 -3.4-2.4 -3.6 .9zM186.2 232l3.6-.8 -3.4-2.4 -3.6 .9zM189.8 231.2l3.6-.9 -3.5-2.3 -3.5 .8zM179.2 230.5l3.6-.8 -3.4-2.3 -3.5 .8zM169 226.7l3.6-.8 -3.3-2.3 -3.5 .8zM163.6 213.4l3.5-.8 -3.1-2.1 -3.5 .8zM160.9 208.5l3.4-.8 -3-2 -3.4 .7zM158.3 203.7l3.3-.7 -3-2 -3.3 .7zM155.7 199.1l3.3-.7 -2.9-1.9 -3.3 .6zM150.3 192.7l3.3-.7 -2.8-1.8 -3.3 .6zM145.2 186.6l3.2-.7 -2.7-1.7 -3.2 .6zM145.7 184.2l3.1-.7 -2.7-1.7 -3.2 .6z"/><path color="#da0b32" d="M204 237.5l3.5-.9 -3.6-2.4 -3.5 .9zM200.4 235.1l3.5-.9 -3.5-2.3 -3.6 .8zM196.8 232.7l3.6-.8 -3.5-2.4 -3.5 .8zM231.5 221.4l3.3-.8 -3.6-2.1 -3.3 .7zM182.8 229.7l3.6-.9 -3.4-2.2 -3.6 .8zM175.9 228.2l3.5-.8 -3.3-2.3 -3.5 .8zM172.6 225.9l3.5-.8 -3.2-2.3 -3.6 .8zM169.3 223.6l3.6-.8 -3.3-2.2 -3.5 .8zM166.1 221.4l3.5-.8 -3.2-2.2 -3.5 .8zM166.4 218.4l3.5-.8 -3.2-2.1 -3.4 .8zM153.2 194.6l3.3-.7 -2.9-1.9 -3.3 .7zM148 188.4l3.2-.7 -2.8-1.8 -3.2 .7zM148.4 185.9l3.2-.6 -2.8-1.8 -3.1 .7z"/><path color="#da0a32" d="M207.5 236.6l3.6-.8 -3.6-2.4 -3.6 .8zM242.5 228.2l3.4-.8 -3.7-2.3 -3.4 .8zM203.9 234.2l3.6-.8 -3.6-2.4 -3.5 .9zM238.8 225.9l3.4-.8 -3.7-2.2 -3.4 .8zM200.4 231.9l3.5-.9 -3.5-2.3 -3.5 .8zM235.1 223.7l3.4-.8 -3.7-2.3 -3.3 .8zM193.4 230.3l3.5-.8 -3.4-2.3 -3.6 .8zM196.9 229.5l3.5-.8 -3.4-2.3 -3.5 .8zM186.4 228.8l3.5-.8 -3.4-2.3 -3.5 .9zM189.9 228l3.6-.8 -3.5-2.3 -3.5 .8zM179.4 227.4l3.6-.8 -3.3-2.3 -3.6 .8zM183 226.6l3.5-.9 -3.3-2.2 -3.5 .8zM176.1 225.1l3.6-.8 -3.3-2.3 -3.5 .8zM169.6 220.6l3.5-.8 -3.2-2.2 -3.5 .8zM166.7 215.5l3.5-.8 -3.1-2.1 -3.5 .8zM164 210.5l3.4-.7 -3.1-2.1 -3.4 .8zM161.3 205.7l3.3-.7 -3-2 -3.3 .7zM150.8 190.2l3.2-.7 -2.8-1.8 -3.2 .7z"/><path color="#da0832" d="M211.1 235.8l3.6-.9 -3.6-2.4 -3.6 .9zM239.1 229l3.4-.8 -3.7-2.3 -3.4 .8zM200.4 228.7l3.5-.8 -3.4-2.3 -3.5 .8zM228.1 222.2l3.4-.8 -3.6-2.2 -3.4 .8zM167.1 212.6l3.4-.7 -3.1-2.1 -3.4 .7z"/><path color="#cb0832" d="M214.7 234.9l3.5-.8 -3.6-2.4 -3.5 .8zM235.4 226.7l3.4-.8 -3.7-2.2 -3.4 .8zM203.9 227.9l3.5-.9 -3.5-2.2 -3.4 .8zM179.9 221.3l3.5-.8 -3.3-2.2 -3.5 .8zM170.2 214.7l3.4-.7 -3.1-2.1 -3.4 .7zM161.6 203l3.4-.7 -3-2 -3.4 .7zM159 198.4l3.3-.7 -2.9-1.9 -3.3 .7zM156.5 193.9l3.2-.7 -2.9-1.8 -3.2 .6z"/><path color="#b80832" d="M218.2 234.1l3.5-.9 -3.6-2.3 -3.5 .8zM207.4 227l3.5-.8 -3.5-2.2 -3.5 .8zM183.4 220.5l3.4-.8 -3.3-2.2 -3.4 .8zM156.8 191.4l3.3-.7 -2.9-1.8 -3.2 .6z"/><path color="#aa0832" d="M221.7 233.2l3.5-.8 -3.6-2.4 -3.5 .9zM210.9 226.2l3.5-.8 -3.5-2.2 -3.5 .8zM203.9 224.8l3.5-.8 -3.5-2.3 -3.4 .8zM197 223.3l3.5-.8 -3.4-2.2 -3.5 .8zM180.1 218.3l3.4-.8 -3.2-2.2 -3.5 .8zM170.5 211.9l3.4-.8 -3.1-2 -3.4 .7zM164.6 205l3.4-.7 -3-2 -3.4 .7zM162 200.3l3.3-.7 -3-1.9 -3.3 .7z"/><path color="#8a356e" d="M225.2 232.4l3.5-.9 -3.7-2.3 -3.4 .8zM221.6 230l3.4-.8 -3.6-2.3 -3.4 .8zM218 227.7l3.4-.8 -3.6-2.3 -3.4 .8zM224.9 226.1l3.4-.8 -3.6-2.3 -3.4 .8zM214.3 222.4l3.4-.8 -3.5-2.2 -3.4 .8zM210.8 220.2l3.4-.8 -3.5-2.2 -3.4 .8zM207.3 218l3.4-.8 -3.4-2.1 -3.4 .7zM203.9 215.8l3.4-.7 -3.4-2.2 -3.3 .8zM200.6 213.7l3.3-.8 -3.3-2.1 -3.3 .8zM169.4 191.2l3.2-.6 -2.9-1.8 -3.2 .6zM160.1 190.7l3.2-.6 -2.9-1.9 -3.2 .7z"/><path color="#a30832" d="M228.7 231.5l3.5-.8 -3.7-2.3 -3.5 .8zM228.5 228.4l3.4-.9 -3.6-2.2 -3.4 .8zM176.8 216.1l3.5-.8 -3.2-2.1 -3.5 .8zM173.6 214l3.5-.8 -3.2-2.1 -3.4 .8z"/><path color="#b10832" d="M232.2 230.7l3.5-.8 -3.8-2.4 -3.4 .9zM218.1 230.9l3.5-.9 -3.6-2.3 -3.5 .8zM231.9 227.5l3.5-.8 -3.7-2.2 -3.4 .8zM214.5 228.5l3.5-.8 -3.6-2.3 -3.5 .8zM228.3 225.3l3.4-.8 -3.6-2.3 -3.4 .8zM190.2 221.9l3.4-.8 -3.3-2.2 -3.5 .8zM159.4 195.8l3.2-.7 -2.9-1.9 -3.2 .7z"/><path color="#be0832" d="M235.7 229.9l3.4-.9 -3.7-2.3 -3.5 .8zM214.6 231.7l3.5-.8 -3.6-2.4 -3.5 .9zM211 229.4l3.5-.9 -3.6-2.3 -3.5 .8zM200.5 225.6l3.4-.8 -3.4-2.3 -3.5 .8zM193.5 224.1l3.5-.8 -3.4-2.2 -3.4 .8zM167.4 209.8l3.4-.7 -3.1-2.1 -3.4 .7z"/><path color="#da3932" d="M249.3 226.6l3.4-.8 -3.8-2.3 -3.3 .8zM245.6 224.3l3.3-.8 -3.7-2.2 -3.4 .8zM175.4 234.6l3.6-.9 -3.4-2.4 -3.6 .9zM162.2 225.2l3.6-.8 -3.2-2.2 -3.6 .8zM159.4 220l3.5-.8 -3.1-2.2 -3.5 .8zM133.4 184.3l3.2-.6 -2.7-1.8 -3.2 .6zM127.5 183.1l3.2-.6 -2.6-1.7 -3.2 .6z"/><path color="#dad232" d="M256 225l3.4-.9 -3.8-2.2 -3.3 .8zM164.4 237.1l3.6-.8 -3.3-2.4 -3.6 .8zM158.2 229.2l3.6-.9 -3.2-2.2 -3.6 .8zM120.4 186.8l3.3-.6 -2.7-1.8 -3.2 .6zM114.5 185.7l3.3-.7 -2.6-1.7 -3.2 .6z"/><path color="#b9d432" d="M259.4 224.1l3.3-.8 -3.8-2.2 -3.3 .8zM163.6 243.8l3.8-.9 -3.4-2.4 -3.7 .8zM157.8 232.3l3.6-.8 -3.2-2.3 -3.6 .8zM278.4 201.8l3.1-.7 -3.7-2 -3 .7zM152.3 221.6l3.6-.8 -3.1-2.2 -3.6 .8zM153.2 215.6l3.5-.7 -3.1-2.1 -3.4 .7zM154.1 209.9l3.4-.7 -3-2.1 -3.4 .8zM151.5 205.1l3.4-.7 -3-2 -3.3 .7zM105.4 185.1l3.3-.6 -2.5-1.7 -3.3 .6zM103.7 181l3.3-.6 -2.5-1.7 -3.2 .6z"/><path color="#9ed432" d="M262.7 223.3l3.3-.7 -3.8-2.3 -3.3 .8zM288 214.2l3.2-.8 -3.9-2.1 -3.1 .8zM291.2 213.4l3.2-.7 -3.9-2.1 -3.2 .7zM156.5 242.2l3.8-.9 -3.4-2.4 -3.7 .8zM277.8 213.6l3.2-.8 -3.8-2.1 -3.2 .8zM156.9 238.9l3.8-.9 -3.3-2.4 -3.7 .8zM273.4 208.7l3.2-.8 -3.8-2 -3.1 .7zM154.6 230l3.6-.8 -3.2-2.3 -3.6 .8zM275.4 202.5l3-.7 -3.6-2 -3.1 .7zM151.8 224.6l3.6-.8 -3.1-2.2 -3.6 .8zM83.6 211.4l3.6-.8 -2.6-2 -3.6 .7zM89.2 205.1l3.5-.7 -2.6-2 -3.5 .7zM140.5 194.7l3.3-.7 -2.8-1.8 -3.3 .6zM84.1 201.1l3.5-.7 -2.5-1.9 -3.5 .7zM81.6 199.2l3.5-.7 -2.5-1.9 -3.5 .6zM110.5 188.7l3.3-.6 -2.5-1.8 -3.3 .6zM104.7 187.6l3.3-.7 -2.6-1.8 -3.3 .7z"/><path color="#7ad432" d="M266 222.6l3.3-.8 -3.8-2.2 -3.3 .7zM258.9 221.1l3.3-.8 -3.8-2.1 -3.3 .7zM152.7 243.1l3.8-.9 -3.3-2.5 -3.8 .9zM153.2 239.7l3.7-.8 -3.2-2.5 -3.8 .9zM153.7 236.4l3.7-.8 -3.3-2.4 -3.7 .8zM234.3 214.8l3.3-.8 -3.6-2.1 -3.3 .7zM272.3 203.2l3.1-.7 -3.7-2 -3.1 .7zM88.9 215.6l3.6-.7 -2.7-2.2 -3.6 .8zM90.8 209.9l3.6-.7 -2.6-2.1 -3.6 .7zM93.6 201.7l3.5-.7 -2.6-2 -3.4 .7zM122.4 191.1l3.3-.7 -2.7-1.8 -3.3 .7zM86 195.9l3.5-.7 -2.5-1.9 -3.4 .7zM113.1 190.6l3.3-.7 -2.6-1.8 -3.3 .6zM80.1 194.7l3.5-.7 -2.5-1.9 -3.4 .7zM103.9 190l3.3-.6 -2.5-1.8 -3.4 .6zM63.9 195.5l3.5-.7 -2.4-1.9 -3.4 .7zM67.4 194.8l3.4-.7 -2.3-1.9 -3.5 .7zM94.7 189.5l3.3-.6 -2.5-1.9 -3.3 .7zM92.2 187.7l3.3-.7 -2.4-1.7 -3.3 .6zM93.9 182.9l3.3-.6 -2.4-1.8 -3.3 .6z"/><path color="#60d432" d="M269.3 221.8l3.3-.8 -3.9-2.2 -3.2 .8zM241.2 216.1l3.3-.7 -3.6-2.1 -3.3 .7zM269.7 206.6l3.1-.7 -3.6-2 -3.2 .7zM148.7 222.4l3.6-.8 -3.1-2.2 -3.5 .7zM267.6 196l3-.7 -3.6-1.9 -3 .7zM145.7 201.1l3.3-.7 -2.9-1.9 -3.3 .7zM94.4 209.2l3.5-.8 -2.6-2 -3.5 .7zM96.2 203.7l3.5-.7 -2.6-2 -3.5 .7zM134.4 193.5l3.3-.7 -2.7-1.8 -3.3 .6zM94.5 199l3.5-.7 -2.6-1.9 -3.4 .7zM128.4 192.3l3.3-.7 -2.7-1.8 -3.3 .6zM92.9 194.5l3.4-.6 -2.5-1.9 -3.4 .7zM109.8 191.2l3.3-.6 -2.6-1.9 -3.3 .7zM90.4 192.7l3.4-.7 -2.5-1.9 -3.4 .7zM93.8 192l3.4-.7 -2.5-1.8 -3.4 .6zM81.1 192.1l3.4-.6 -2.4-1.9 -3.4 .7zM84.5 191.5l3.4-.7 -2.4-1.8 -3.4 .6zM87.9 190.8l3.4-.7 -2.5-1.8 -3.3 .7zM65 192.9l3.5-.7 -2.4-1.8 -3.4 .6zM68.5 192.2l3.4-.6 -2.4-1.9 -3.4 .7zM71.9 191.6l3.4-.7 -2.4-1.8 -3.4 .6zM82.1 189.6l3.4-.6 -2.4-1.8 -3.4 .6zM85.5 189l3.3-.7 -2.4-1.8 -3.3 .7zM86.4 186.5l3.4-.6 -2.5-1.8 -3.3 .6zM87.3 184.1l3.3-.6 -2.4-1.8 -3.2 .7z"/><path color="#47d432" d="M272.6 221l3.3-.8 -3.9-2.2 -3.3 .8zM265.5 219.6l3.2-.8 -3.8-2.2 -3.2 .8zM272 218l3.2-.8 -3.8-2.1 -3.2 .7zM148.9 244l3.8-.9 -3.3-2.5 -3.7 .9zM255.1 218.9l3.3-.7 -3.7-2.2 -3.3 .8zM150.2 213.5l3.4-.7 -3-2.1 -3.5 .7zM93.5 212l3.5-.8 -2.6-2 -3.6 .7zM98.8 205.7l3.5-.7 -2.6-2 -3.5 .7zM98 198.3l3.4-.6 -2.6-2 -3.4 .7zM98.8 195.7l3.4-.6 -2.5-1.9 -3.4 .7zM60.4 189.2l3.4-.6 -2.3-1.8 -3.4 .6zM63.8 188.6l3.4-.7 -2.3-1.8 -3.4 .7z"/><path color="#3ad432" d="M275.9 220.2l3.2-.8 -3.9-2.2 -3.2 .8zM279.1 219.4l3.2-.8 -3.8-2.1 -3.3 .7zM148.4 247.5l3.8-1 -3.3-2.5 -3.8 .9zM268.7 218.8l3.3-.8 -3.8-2.2 -3.3 .8zM268.2 215.8l3.2-.7 -3.8-2.1 -3.2 .7zM149.4 240.6l3.8-.9 -3.3-2.4 -3.7 .9zM267.6 213l3.2-.8 -3.7-2.1 -3.2 .8zM267.1 210.1l3.2-.7 -3.7-2.1 -3.2 .8zM150.9 230.8l3.7-.8 -3.2-2.3 -3.7 .8zM230.7 212.6l3.3-.7 -3.5-2.1 -3.3 .8zM269.2 203.9l3.1-.7 -3.7-2 -3.1 .7zM150.6 210.7l3.5-.8 -3-2 -3.5 .7zM92.5 214.9l3.6-.8 -2.6-2.1 -3.7 .7zM97.9 208.4l3.6-.7 -2.7-2 -3.5 .7zM142.8 199.2l3.3-.7 -2.8-1.9 -3.3 .7zM99.7 203l3.5-.8 -2.6-1.9 -3.5 .7zM137.2 195.4l3.3-.7 -2.8-1.9 -3.3 .7zM102.2 195.1l3.4-.7 -2.5-1.9 -3.4 .7zM115.7 192.4l3.3-.7 -2.6-1.8 -3.3 .7z"/><path color="#20d432" d="M298.3 214.8l3.1-.8 -3.9-2.1 -3.1 .8zM264.9 216.6l3.3-.8 -3.8-2.1 -3.2 .8zM237.6 214l3.3-.7 -3.6-2.1 -3.3 .7zM266.6 207.3l3.1-.7 -3.7-2 -3.1 .7zM268.6 201.2l3.1-.7 -3.6-1.9 -3.1 .7zM268.1 198.6l3-.7 -3.5-1.9 -3.1 .7zM97 211.2l3.6-.7 -2.7-2.1 -3.5 .8z"/><path color="#13d432" d="M301.4 214l3.2-.7 -4-2.1 -3.1 .7zM261.7 217.4l3.2-.8 -3.7-2.1 -3.3 .7zM251.4 216.8l3.3-.8 -3.7-2.1 -3.3 .7zM244.5 215.4l3.2-.8 -3.6-2.1 -3.2 .8zM94.2 220l3.7-.8 -2.7-2.2 -3.7 .8zM148.1 205.8l3.4-.7 -2.9-2 -3.4 .7zM101.5 207.7l3.5-.7 -2.7-2 -3.5 .7zM102.3 205l3.5-.8 -2.6-2 -3.5 .8zM103.2 202.2l3.5-.7 -2.7-1.9 -3.4 .7zM131.1 194.1l3.3-.6 -2.7-1.9 -3.3 .7zM104.8 197l3.4-.7 -2.6-1.9 -3.4 .7z"/><path color="#0e1efe" d="M132.9 251.2l3.9-1 -3.3-2.6 -3.8 1zM243.4 206.9l3.2-.7 -3.5-2 -3.2 .7zM249.8 205.5l3.2-.8 -3.6-2 -3.1 .8zM233.5 206.3l3.2-.7 -3.4-2 -3.2 .7zM255.7 201.3l3.1-.7 -3.5-1.9 -3.1 .7zM137.9 224.8l3.6-.9 -3-2.2 -3.6 .8zM226.9 205l3.2-.7 -3.4-2 -3.2 .7zM135.5 219.5l3.6-.8 -3-2.1 -3.6 .7zM250.6 189.2l3-.6 -3.3-1.8 -3 .6zM120.3 211.7l3.6-.7 -2.9-2.1 -3.5 .7zM121 208.9l3.5-.8 -2.8-2 -3.4 .7zM243.6 183.2l3-.6 -3.3-1.7 -2.9 .6z"/><path color="#0e9afe" d="M136.8 250.2l3.9-.9 -3.3-2.6 -3.9 .9zM240.5 210.4l3.3-.7 -3.6-2.1 -3.2 .7zM233.8 209.1l3.2-.8 -3.5-2 -3.2 .7zM259.3 203.3l3.1-.7 -3.6-2 -3.1 .7zM261.4 197.3l3.1-.6 -3.5-1.9 -3.1 .6zM101.6 218.4l3.6-.8 -2.7-2.1 -3.7 .7zM250.3 186.8l3-.7 -3.4-1.7 -3 .6zM106.1 214.7l3.6-.8 -2.8-2.1 -3.6 .8zM133.3 198.6l3.3-.7 -2.8-1.9 -3.3 .7z"/><path color="#0ed4ba" d="M140.7 249.3l3.9-.9 -3.3-2.6 -3.9 .9zM251 213.9l3.3-.8 -3.7-2.1 -3.2 .8zM257.5 212.4l3.2-.8 -3.7-2.1 -3.2 .8zM260.2 208.8l3.2-.7 -3.7-2.1 -3.1 .8zM265 199.3l3.1-.7 -3.6-1.9 -3.1 .6zM147.1 211.4l3.5-.7 -3-2.1 -3.4 .7zM98.8 216.2l3.7-.7 -2.8-2.2 -3.6 .8zM142.3 201.8l3.4-.7 -2.9-1.9 -3.4 .7zM108.5 206.2l3.5-.7 -2.7-2 -3.5 .7zM109.3 203.5l3.5-.7 -2.7-2 -3.4 .7zM136.6 197.9l3.4-.6 -2.8-1.9 -3.4 .6zM110.1 200.8l3.4-.7 -2.6-1.9 -3.4 .7zM124.4 195.5l3.3-.7 -2.7-1.9 -3.3 .7z"/><path color="#0ed43e" d="M144.6 248.4l3.8-.9 -3.3-2.6 -3.8 .9zM145.1 244.9l3.8-.9 -3.2-2.5 -3.8 .9zM145.7 241.5l3.7-.9 -3.2-2.4 -3.8 .8zM264.4 213.7l3.2-.7 -3.7-2.1 -3.2 .7zM263.9 210.9l3.2-.8 -3.7-2 -3.2 .7zM266 204.6l3.2-.7 -3.7-2 -3.1 .7zM145.7 220.1l3.5-.7 -3-2.2 -3.6 .7zM146.2 217.2l3.5-.8 -3-2.1 -3.5 .7zM96.1 214.1l3.6-.8 -2.7-2.1 -3.5 .8zM104 199.6l3.5-.7 -2.7-1.9 -3.4 .7zM121.7 193.6l3.3-.7 -2.6-1.8 -3.4 .6z"/><path color="#91d432" d="M156.1 245.6l3.7-.9 -3.3-2.5 -3.8 .9zM272.8 205.9l3.2-.7 -3.7-2 -3.1 .7zM271.1 197.9l3.1-.7 -3.6-1.9 -3 .7zM148.6 203.1l3.3-.7 -2.9-2 -3.3 .7zM87.2 210.6l3.6-.7 -2.6-2.1 -3.6 .8zM131.7 191.6l3.3-.6 -2.8-1.9 -3.2 .7zM85.1 198.5l3.4-.7 -2.5-1.9 -3.4 .7zM79.1 197.2l3.5-.6 -2.5-1.9 -3.4 .6zM116.4 189.9l3.3-.6 -2.6-1.9 -3.3 .7zM66.2 197.4l3.5-.7 -2.3-1.9 -3.5 .7zM69.7 196.7l3.5-.7 -2.4-1.9 -3.4 .7zM107.2 189.4l3.3-.7 -2.5-1.8 -3.3 .7zM101.3 188.2l3.4-.6 -2.6-1.8 -3.3 .6zM96.4 184.6l3.3-.6 -2.5-1.7 -3.3 .6zM97.2 182.3l3.3-.7 -2.5-1.7 -3.2 .6z"/><path color="#a5d432" d="M159.8 244.7l3.8-.9 -3.3-2.5 -3.8 .9zM255.6 221.9l3.3-.8 -3.8-2.2 -3.3 .8zM157.4 235.6l3.7-.9 -3.3-2.4 -3.7 .9zM274.8 199.8l3-.7 -3.6-1.9 -3.1 .7zM81 209.3l3.6-.7 -2.5-2.1 -3.6 .8zM84.6 208.6l3.6-.8 -2.6-2 -3.5 .7zM143.3 196.6l3.3-.7 -2.8-1.9 -3.3 .7zM85.6 205.8l3.6-.7 -2.6-2 -3.5 .7zM86.6 203.1l3.5-.7 -2.5-2 -3.5 .7zM73.5 203.2l3.6-.7 -2.5-2 -3.5 .7zM71.1 201.2l3.5-.7 -2.4-1.9 -3.6 .7zM74.6 200.5l3.5-.6 -2.5-2 -3.4 .7zM78.1 199.9l3.5-.7 -2.5-2 -3.5 .7zM119.7 189.3l3.3-.7 -2.6-1.8 -3.3 .6zM102.1 185.8l3.3-.7 -2.5-1.7 -3.2 .6zM99.7 184l3.2-.6 -2.4-1.8 -3.3 .7zM100.5 181.6l3.2-.6 -2.4-1.7 -3.3 .6z"/><path color="#ced432" d="M167.4 242.9l3.7-.9 -3.4-2.4 -3.7 .9zM252.3 222.7l3.3-.8 -3.8-2.2 -3.3 .8zM164 240.5l3.7-.9 -3.3-2.5 -3.7 .9zM241.5 219.1l3.3-.8 -3.6-2.2 -3.3 .8zM161.1 234.7l3.6-.8 -3.3-2.4 -3.6 .8zM282.8 206.5l3.1-.7 -3.7-2 -3.1 .7zM285.9 205.8l3.1-.8 -3.8-1.9 -3 .7zM108.7 184.5l3.3-.6 -2.5-1.8 -3.3 .7zM106.2 182.8l3.3-.7 -2.5-1.7 -3.3 .6z"/><path color="#dac832" d="M171.1 242l3.7-.8 -3.4-2.5 -3.7 .9zM167.7 239.6l3.7-.9 -3.4-2.4 -3.6 .8zM155.4 223.8l3.6-.8 -3.1-2.2 -3.6 .8zM154.5 207.1l3.4-.7 -3-2 -3.4 .7zM143.8 194l3.3-.6 -2.8-1.9 -3.3 .7zM141 192.2l3.3-.7 -2.8-1.8 -3.3 .6z"/><path color="#daaa32" d="M174.8 241.2l3.7-.9 -3.4-2.5 -3.7 .9zM164.7 233.9l3.7-.9 -3.3-2.3 -3.7 .8zM156.7 214.9l3.5-.8 -3.1-2.1 -3.5 .8zM157.1 212l3.4-.7 -3-2.1 -3.4 .7zM151.9 202.4l3.4-.7 -2.9-1.9 -3.4 .6zM129.6 187.3l3.2-.6 -2.7-1.8 -3.2 .6zM123.7 186.2l3.2-.7 -2.6-1.7 -3.3 .6zM117.8 185l3.2-.6 -2.5-1.8 -3.3 .7z"/><path color="#da8132" d="M178.5 240.3l3.7-.9 -3.4-2.4 -3.7 .8zM161.8 228.3l3.6-.8 -3.2-2.3 -3.6 .9zM132.8 186.7l3.2-.6 -2.6-1.8 -3.3 .6zM126.9 185.5l3.2-.6 -2.6-1.8 -3.2 .7zM121 184.4l3.3-.6 -2.6-1.8 -3.2 .6z"/><path color="#da1332" d="M189.5 237.7l3.7-.9 -3.5-2.4 -3.6 .8zM179 233.7l3.6-.8 -3.4-2.4 -3.6 .8zM142 187.2l3.2-.6 -2.7-1.8 -3.2 .6zM139.3 185.4l3.2-.6 -2.7-1.8 -3.2 .7zM136.6 183.7l3.2-.7 -2.7-1.7 -3.2 .6zM133.9 181.9l3.2-.6 -2.7-1.7 -3.1 .6zM131.3 180.2l3.1-.6 -2.6-1.7 -3.1 .6zM134.4 179.6l3.2-.6 -2.6-1.7 -3.2 .6zM137.6 179l3.1-.6 -2.6-1.7 -3.1 .6zM128.7 178.5l3.1-.6 -2.6-1.7 -3.1 .6zM131.8 177.9l3.2-.6 -2.6-1.7 -3.2 .6zM129.2 176.2l3.2-.6 -2.6-1.7 -3.1 .6zM132.4 175.6l3.1-.6 -2.6-1.6 -3.1 .5z"/><path color="#da0932" d="M207.5 233.4l3.6-.9 -3.6-2.3 -3.6 .8zM203.9 231l3.6-.8 -3.6-2.3 -3.5 .8zM193.5 227.2l3.5-.8 -3.5-2.3 -3.5 .8zM186.5 225.7l3.5-.8 -3.3-2.2 -3.5 .8zM179.7 224.3l3.5-.8 -3.3-2.2 -3.5 .7zM172.9 222.8l3.5-.8 -3.3-2.2 -3.5 .8zM169.9 217.6l3.5-.7 -3.2-2.2 -3.5 .8zM158.6 201l3.4-.7 -3-1.9 -3.3 .7zM156.1 196.5l3.3-.7 -2.9-1.9 -3.3 .7zM153.6 192l3.2-.6 -2.8-1.9 -3.2 .7zM151.2 187.7l3.2-.6 -2.8-1.8 -3.2 .6z"/><path color="#d20832" d="M211.1 232.5l3.5-.8 -3.6-2.3 -3.5 .8zM207.5 230.2l3.5-.8 -3.6-2.4 -3.5 .9zM231.7 224.5l3.4-.8 -3.6-2.3 -3.4 .8zM197 226.4l3.5-.8 -3.5-2.3 -3.5 .8zM190 224.9l3.5-.8 -3.3-2.2 -3.5 .8zM164.3 207.7l3.4-.7 -3.1-2 -3.3 .7zM154 189.5l3.2-.6 -2.8-1.8 -3.2 .6z"/><path color="#85356e" d="M225 229.2l3.5-.8 -3.6-2.3 -3.5 .8zM221.4 226.9l3.5-.8 -3.6-2.3 -3.5 .8zM214.4 225.4l3.4-.8 -3.5-2.2 -3.4 .8zM217.8 224.6l3.5-.8 -3.6-2.2 -3.4 .8zM210.9 223.2l3.4-.8 -3.5-2.2 -3.4 .7zM197.3 211.6l3.3-.8 -3.3-2 -3.3 .7zM187.8 200.1l3.3-.7 -3.2-2 -3.2 .7zM178.6 194.3l3.2-.7 -3-1.8 -3.2 .6z"/><path color="#daa032" d="M248.9 223.5l3.4-.8 -3.8-2.2 -3.3 .8zM171.4 238.7l3.7-.9 -3.4-2.4 -3.7 .9zM168 236.3l3.7-.9 -3.3-2.4 -3.7 .9zM227.7 216.3l3.3-.8 -3.6-2.1 -3.3 .8zM155.9 220.8l3.5-.8 -3.1-2.2 -3.5 .8zM156.3 217.8l3.5-.8 -3.1-2.1 -3.5 .7zM135.5 188.5l3.2-.7 -2.7-1.7 -3.2 .6z"/><path color="#4f08fe" d="M129.7 248.6l3.8-1 -3.1-2.5 -3.9 .9zM127.9 239.2l3.8-.9 -3.1-2.4 -3.8 .9zM133 231.8l3.7-.8 -3-2.3 -3.7 .8zM133.7 228.7l3.6-.9 -3-2.2 -3.7 .8zM108.3 231.3l3.8-.8 -2.9-2.3 -3.8 .8zM236.5 202.9l3.1-.7 -3.4-2 -3.2 .7zM247.6 189.9l3-.7 -3.3-1.8 -3 .6zM130.9 209.5l3.4-.8 -2.8-2 -3.5 .7zM128 207.4l3.5-.7 -2.9-2 -3.4 .7zM240.7 183.8l2.9-.6 -3.2-1.7 -3 .6zM128.6 204.7l3.5-.7 -2.8-2 -3.5 .7zM132.1 204l3.4-.7 -2.8-2 -3.4 .7zM237.1 179.8l3-.6 -3.2-1.7 -3 .6z"/><path color="#0e28fe" d="M133.5 247.6l3.9-.9 -3.2-2.5 -3.8 .9zM240.2 207.6l3.2-.7 -3.5-2 -3.2 .7zM103.5 223.6l3.7-.8 -2.9-2.2 -3.6 .8zM104.3 220.6l3.7-.8 -2.8-2.2 -3.6 .8zM108.8 216.9l3.6-.8 -2.7-2.2 -3.6 .8zM126.5 200l3.4-.7 -2.8-1.9 -3.4 .7z"/><path color="#0eacfe" d="M137.4 246.7l3.9-.9 -3.3-2.5 -3.8 .9zM138.7 239.9l3.7-.9 -3.1-2.4 -3.8 .9zM250.6 211l3.2-.7 -3.6-2.1 -3.2 .7zM256.6 206.8l3.1-.8 -3.6-2 -3.1 .7zM227 207.8l3.3-.8 -3.4-2 -3.3 .7zM261.9 200l3.1-.7 -3.6-2 -3 .7zM141.5 223.9l3.6-.8 -3-2.2 -3.6 .8zM144.7 206.6l3.4-.8 -2.9-2 -3.4 .7zM110.5 211.1l3.5-.7 -2.8-2.1 -3.5 .7zM117 199.5l3.4-.7 -2.7-2 -3.4 .7zM127.1 197.4l3.4-.7 -2.8-1.9 -3.3 .7z"/><path color="#b3d432" d="M160.3 241.3l3.7-.8 -3.3-2.5 -3.8 .9zM248.5 220.5l3.3-.8 -3.7-2.2 -3.3 .8zM281 212.8l3.2-.7 -3.9-2.1 -3.1 .7zM277.2 210.7l3.1-.7 -3.7-2.1 -3.2 .8zM276.6 207.9l3.1-.7 -3.7-2 -3.2 .7zM146.1 198.5l3.4-.7 -2.9-1.9 -3.3 .7zM129 189.8l3.2-.7 -2.6-1.8 -3.3 .7zM113.8 188.1l3.3-.7 -2.6-1.7 -3.2 .6zM108 186.9l3.3-.6 -2.6-1.8 -3.3 .6zM102.9 183.4l3.3-.6 -2.5-1.8 -3.2 .6z"/><path color="#da7732" d="M175.1 237.8l3.7-.8 -3.4-2.4 -3.7 .8zM171.7 235.4l3.7-.8 -3.4-2.4 -3.6 .8zM165.1 230.7l3.6-.9 -3.3-2.3 -3.6 .8zM157.5 209.2l3.4-.7 -3-2.1 -3.4 .7z"/><path color="#da1f32" d="M182.4 236.1l3.7-.9 -3.5-2.3 -3.6 .8zM234.8 220.6l3.4-.7 -3.7-2.2 -3.3 .8zM168.7 229.8l3.6-.8 -3.3-2.3 -3.6 .8zM165.4 227.5l3.6-.8 -3.2-2.3 -3.6 .8zM160.5 211.3l3.5-.8 -3.1-2 -3.4 .7zM157.9 206.4l3.4-.7 -3-2 -3.4 .7zM130.7 182.5l3.2-.6 -2.6-1.7 -3.2 .6zM128.1 180.8l3.2-.6 -2.6-1.7 -3.2 .6zM125.5 179.1l3.2-.6 -2.6-1.7 -3.2 .6zM135 177.3l3.1-.6 -2.6-1.7 -3.1 .6zM126.1 176.8l3.1-.6 -2.5-1.7 -3.1 .6z"/><path color="#da5f32" d="M241.8 222.1l3.4-.8 -3.7-2.2 -3.3 .8zM231.2 218.5l3.3-.8 -3.5-2.2 -3.3 .8zM159 223l3.6-.8 -3.2-2.2 -3.5 .8zM144.3 191.5l3.2-.7 -2.8-1.8 -3.2 .7zM138.7 187.8l3.3-.6 -2.7-1.8 -3.3 .7zM130.1 184.9l3.3-.6 -2.7-1.8 -3.2 .6zM124.3 183.8l3.2-.7 -2.6-1.7 -3.2 .6z"/><path color="#dabe32" d="M245.2 221.3l3.3-.8 -3.7-2.2 -3.3 .8zM234.5 217.7l3.4-.8 -3.6-2.1 -3.3 .7zM161.4 231.5l3.7-.8 -3.3-2.4 -3.6 .9zM112 183.9l3.2-.6 -2.5-1.8 -3.2 .6zM109.5 182.1l3.2-.6 -2.5-1.7 -3.2 .6z"/><path color="#c7d432" d="M287.3 211.3l3.2-.7 -3.9-2.1 -3.1 .8zM280.3 210l3.2-.7 -3.8-2.1 -3.1 .7zM279.7 207.2l3.1-.7 -3.7-2 -3.1 .7zM282.2 203.8l3-.7 -3.7-2 -3.1 .7zM152.8 218.6l3.5-.8 -3.1-2.2 -3.5 .8zM117.1 187.4l3.3-.6 -2.6-1.8 -3.3 .7zM111.3 186.3l3.2-.6 -2.5-1.8 -3.3 .6z"/><path color="#6f08ea" d="M126.5 246l3.9-.9 -3.2-2.5 -3.9 .9zM112.1 230.5l3.7-.8 -2.9-2.4 -3.7 .9zM127.6 224.1l3.7-.8 -3-2.2 -3.6 .8zM239.3 199.5l3.2-.7 -3.5-1.9 -3.1 .7zM242.5 198.8l3.1-.7 -3.4-1.9 -3.2 .7zM245.6 198.1l3.1-.6 -3.5-1.9 -3 .6zM124.7 221.9l3.6-.8 -2.9-2.2 -3.6 .8zM248.3 194.9l3.1-.7 -3.4-1.8 -3.1 .6zM226.3 197l3.1-.6 -3.3-1.9 -3.1 .6zM244.6 190.5l3-.6 -3.3-1.9 -3.1 .7zM237.7 184.5l3-.7 -3.3-1.7 -3 .6z"/><path color="#2e08fe" d="M130.4 245.1l3.8-.9 -3.2-2.5 -3.8 .9zM132.4 235.1l3.7-.9 -3.1-2.4 -3.7 .9zM239.9 204.9l3.2-.7 -3.5-2 -3.1 .7zM246.3 203.5l3.1-.8 -3.5-1.9 -3.1 .7zM106.3 225.9l3.7-.8 -2.8-2.3 -3.7 .8zM131.9 220.3l3.6-.8 -3-2.2 -3.5 .8zM126 215.9l3.6-.7 -2.9-2.2 -3.5 .8zM130.2 212.3l3.5-.7 -2.8-2.1 -3.5 .7zM137.2 210.8l3.5-.7 -2.9-2.1 -3.5 .7zM243.9 185.6l3-.6 -3.3-1.8 -2.9 .6zM125.2 205.4l3.4-.7 -2.8-2 -3.4 .7zM240.4 181.5l2.9-.6 -3.2-1.7 -3 .6z"/><path color="#0e3efe" d="M134.2 244.2l3.8-.9 -3.1-2.5 -3.9 .9zM134.9 240.8l3.8-.9 -3.2-2.4 -3.8 .8zM102.6 226.7l3.7-.8 -2.8-2.3 -3.7 .8zM117.5 209.6l3.5-.7 -2.7-2.1 -3.5 .8zM118.3 206.8l3.4-.7 -2.7-2 -3.5 .7zM129.9 199.3l3.4-.7 -2.8-1.9 -3.4 .7z"/><path color="#0ebffe" d="M138 243.3l3.9-.9 -3.2-2.5 -3.8 .9zM247.4 211.8l3.2-.8 -3.6-2.1 -3.2 .8zM253.8 210.3l3.2-.8 -3.6-2 -3.2 .7zM99.8 224.4l3.7-.8 -2.8-2.2 -3.7 .8z"/><path color="#8e356e" d="M221.3 223.8l3.4-.8 -3.6-2.2 -3.4 .8zM163.3 190.1l3.2-.7 -2.9-1.8 -3.2 .6z"/><path color="#9a356e" d="M224.7 223l3.4-.8 -3.6-2.2 -3.4 .8zM166.5 189.4l3.2-.6 -2.9-1.8 -3.2 .6zM157.2 188.9l3.2-.7 -2.8-1.8 -3.2 .7z"/><path color="#0ed469" d="M254.7 216l3.2-.8 -3.6-2.1 -3.3 .8zM261.2 214.5l3.2-.8 -3.7-2.1 -3.2 .8zM146.2 238.2l3.7-.9 -3.2-2.4 -3.7 .8zM263.4 208.1l3.2-.8 -3.7-2 -3.2 .7zM105.8 204.2l3.5-.7 -2.6-2 -3.5 .7zM111.6 195.6l3.4-.7 -2.6-1.8 -3.4 .6zM115 194.9l3.4-.6 -2.7-1.9 -3.3 .7zM118.4 194.3l3.3-.7 -2.7-1.9 -3.3 .7z"/><path color="#0ed47e" d="M257.9 215.2l3.3-.7 -3.7-2.1 -3.2 .7zM146.7 234.9l3.7-.9 -3.2-2.3 -3.7 .8zM147.2 231.7l3.7-.9 -3.2-2.3 -3.6 .8zM234 211.9l3.3-.7 -3.5-2.1 -3.3 .7zM145.1 223.1l3.6-.7 -3-2.3 -3.6 .8zM146.7 214.3l3.5-.8 -3.1-2.1 -3.4 .8zM105 207l3.5-.8 -2.7-2 -3.5 .8zM106.7 201.5l3.4-.7 -2.6-1.9 -3.5 .7zM133.8 196l3.4-.6 -2.8-1.9 -3.3 .6zM107.5 198.9l3.4-.7 -2.7-1.9 -3.4 .7zM127.7 194.8l3.4-.7 -2.7-1.8 -3.4 .6z"/><path color="#6808d3" d="M123.3 243.5l3.9-.9 -3.1-2.5 -3.8 .9zM118 235.2l3.8-.8 -3-2.4 -3.8 .8zM126.9 227.2l3.7-.8 -3-2.3 -3.6 .8zM117.4 223.5l3.6-.8 -2.9-2.3 -3.6 .8zM239 196.9l3.2-.7 -3.4-1.9 -3.1 .7zM242.2 196.2l3-.6 -3.4-1.9 -3 .6zM232.5 195.7l3.2-.7 -3.4-1.9 -3.1 .7zM237.9 186.9l3-.7 -3.2-1.7 -3 .6zM234.7 185.1l3-.6 -3.3-1.8 -3 .6zM231.4 183.3l3-.6 -3.2-1.7 -3 .6zM228.2 181.6l3-.6 -3.2-1.7 -2.9 .6z"/><path color="#6608fe" d="M127.2 242.6l3.8-.9 -3.1-2.5 -3.8 .9zM239.6 202.2l3.2-.7 -3.5-2 -3.1 .7zM242.8 201.5l3.1-.7 -3.4-2 -3.2 .7zM245.9 200.8l3.2-.7 -3.5-2 -3.1 .7zM131.3 223.3l3.6-.8 -3-2.2 -3.6 .8zM128.3 221.1l3.6-.8 -2.9-2.2 -3.6 .8zM110.8 222l3.7-.8 -2.9-2.2 -3.6 .8zM244.3 188l3-.6 -3.4-1.8 -3 .6zM131.5 206.7l3.4-.7 -2.8-2 -3.5 .7zM233.9 178.1l3-.6 -3.2-1.7 -2.9 .6zM227.7 174.7l2.9-.6 -3.1-1.6 -2.9 .6z"/><path color="#1708fe" d="M131 241.7l3.9-.9 -3.2-2.5 -3.8 .9zM131.7 238.3l3.8-.8 -3.1-2.4 -3.8 .8zM236.7 205.6l3.2-.7 -3.4-2 -3.2 .7zM252.6 202l3.1-.7 -3.5-1.9 -3.1 .7zM255.3 198.7l3.1-.7 -3.5-1.9 -3.1 .7zM105.4 229l3.8-.8 -2.9-2.3 -3.7 .8zM134.9 222.5l3.6-.8 -3-2.2 -3.6 .8zM108 219.8l3.6-.8 -2.8-2.1 -3.6 .7zM123.2 213.8l3.5-.8 -2.8-2 -3.6 .7zM123.9 211l3.5-.8 -2.9-2.1 -3.5 .8z"/><path color="#0ed4cc" d="M142.4 239l3.8-.8 -3.2-2.5 -3.7 .9zM254.3 213.1l3.2-.7 -3.7-2.1 -3.2 .7zM144.6 226.2l3.6-.8 -3.1-2.3 -3.6 .8zM142.6 217.9l3.6-.7 -3-2.2 -3.6 .8zM97.9 219.2l3.7-.8 -2.8-2.2 -3.6 .8zM103.3 212.6l3.6-.8 -2.7-2 -3.6 .7zM107.7 209l3.5-.7 -2.7-2.1 -3.5 .8zM139.4 199.9l3.4-.7 -2.8-1.9 -3.4 .6zM114.3 197.5l3.4-.7 -2.7-1.9 -3.4 .7z"/><path color="#da6c32" d="M168.4 233l3.6-.8 -3.3-2.4 -3.6 .9zM154.9 204.4l3.4-.7 -3-2 -3.4 .7zM141.5 189.7l3.2-.7 -2.7-1.8 -3.3 .6zM118.5 182.6l3.2-.6 -2.6-1.7 -3.2 .6zM115.9 180.9l3.2-.6 -2.5-1.7 -3.2 .6zM116.6 178.6l3.2-.6 -2.5-1.7 -3.2 .6z"/><path color="#9c0832" d="M207.4 224l3.5-.8 -3.5-2.3 -3.5 .8zM200.5 222.5l3.4-.8 -3.4-2.2 -3.4 .8zM186.8 219.7l3.5-.8 -3.3-2.2 -3.5 .8zM159.7 193.2l3.3-.6 -2.9-1.9 -3.3 .7z"/><path color="#96356e" d="M217.7 221.6l3.4-.8 -3.5-2.2 -3.4 .8zM191 202l3.2-.7 -3.1-1.9 -3.3 .7z"/><path color="#a6356e" d="M221.1 220.8l3.4-.8 -3.5-2.2 -3.4 .8zM210.7 217.2l3.4-.8 -3.4-2.1 -3.4 .8z"/><path color="#ab366e" d="M224.5 220l3.4-.8 -3.6-2.1 -3.3 .7zM214.1 216.4l3.4-.7 -3.5-2.2 -3.3 .8zM197.4 206l3.3-.7 -3.3-2 -3.3 .7zM194.2 201.3l3.3-.7 -3.2-1.9 -3.2 .7zM188.1 194.9l3.2-.7 -3.1-1.9 -3.2 .7zM185 193l3.2-.7 -3-1.8 -3.2 .6zM175.8 189.9l3.2-.6 -3-1.8 -3.1 .6zM172.9 188.1l3.1-.6 -2.9-1.8 -3.1 .6zM166.8 187l3.2-.7 -2.9-1.7 -3.2 .6zM160.8 185.8l3.1-.6 -2.8-1.8 -3.1 .6zM163.9 185.2l3.2-.6 -2.9-1.8 -3.1 .6zM151.6 185.3l3.2-.6 -2.8-1.8 -3.2 .6zM154.8 184.7l3.2-.7 -2.8-1.7 -3.2 .6zM158 184l3.1-.6 -2.8-1.7 -3.1 .6z"/><path color="#0ed493" d="M247.7 214.6l3.3-.7 -3.6-2.1 -3.3 .7zM260.7 211.6l3.2-.7 -3.7-2.1 -3.2 .7zM240.9 213.3l3.2-.8 -3.6-2.1 -3.2 .8zM265.5 201.9l3.1-.7 -3.6-1.9 -3.1 .7zM264.5 196.7l3.1-.7 -3.6-1.9 -3 .7zM99.7 213.3l3.6-.7 -2.7-2.1 -3.6 .7zM145.2 203.8l3.4-.7 -2.9-2 -3.4 .7zM104.2 209.8l3.5-.8 -2.7-2 -3.5 .7z"/><path color="#6208c3" d="M120.3 241l3.8-.9 -3.1-2.5 -3.8 .9zM123.3 228l3.6-.8 -2.9-2.3 -3.7 .8zM116.6 226.5l3.7-.8 -2.9-2.2 -3.7 .8zM120.3 225.7l3.7-.8 -3-2.2 -3.6 .8zM235.7 195l3.1-.7 -3.4-1.8 -3.1 .6zM238.8 194.3l3-.6 -3.3-1.9 -3.1 .7zM241.8 193.7l3.1-.7 -3.4-1.8 -3 .6zM232.3 193.1l3.1-.6 -3.3-1.9 -3.1 .7zM229 191.3l3.1-.7 -3.3-1.8 -3.1 .7zM238.2 189.3l3-.6 -3.3-1.8 -3 .6zM228.8 188.8l3.1-.6 -3.3-1.8 -3 .6zM234.9 187.5l3-.6 -3.2-1.8 -3.1 .6zM228.6 186.4l3-.7 -3.2-1.7 -3 .6zM231.6 185.7l3.1-.6 -3.3-1.8 -3 .7z"/><path color="#7108f1" d="M124.1 240.1l3.8-.9 -3.1-2.4 -3.8 .8zM124.8 236.8l3.8-.9 -3.1-2.4 -3.7 .9zM111.2 233.7l3.8-.9 -2.9-2.3 -3.8 .8zM130 229.5l3.7-.8 -3.1-2.3 -3.7 .8zM130.6 226.4l3.7-.8 -3-2.3 -3.7 .8zM236.2 200.2l3.1-.7 -3.4-1.9 -3.1 .7zM229.6 199l3.2-.7 -3.4-1.9 -3.1 .6zM231 178.7l2.9-.6 -3.1-1.7 -2.9 .6zM227.9 177l2.9-.6 -3.1-1.7 -3 .6z"/><path color="#0e33fe" d="M135.5 237.5l3.8-.9 -3.2-2.4 -3.7 .9zM253 204.7l3.1-.7 -3.5-2 -3.2 .7zM258.4 198l3-.7 -3.5-1.9 -3 .7zM257.9 195.4l3.1-.6 -3.5-1.9 -3 .7zM136.1 216.6l3.5-.8 -2.9-2.1 -3.6 .7zM140.2 212.9l3.5-.7 -3-2.1 -3.5 .7zM116.8 212.4l3.5-.7 -2.8-2.1 -3.5 .8zM119 204.1l3.4-.7 -2.7-2 -3.5 .7zM123.1 200.7l3.4-.7 -2.8-1.9 -3.3 .7z"/><path color="#0e88fe" d="M139.3 236.6l3.7-.9 -3.2-2.3 -3.7 .8zM139.1 218.7l3.5-.8 -3-2.1 -3.5 .8zM257.5 192.9l3-.7 -3.4-1.8 -3.1 .6zM100.7 221.4l3.6-.8 -2.7-2.2 -3.7 .8zM143.7 212.2l3.4-.8 -2.9-2.1 -3.5 .8zM114.8 207.6l3.5-.8 -2.8-2 -3.5 .7zM115.5 204.8l3.5-.7 -2.8-2 -3.4 .7zM116.2 202.1l3.5-.7 -2.7-1.9 -3.5 .6zM120.4 198.8l3.3-.7 -2.7-1.9 -3.3 .6zM123.7 198.1l3.4-.7 -2.7-1.9 -3.4 .7z"/><path color="#0ed4ef" d="M143 235.7l3.7-.8 -3.2-2.4 -3.7 .9zM257 209.5l3.2-.7 -3.6-2 -3.2 .7zM237.3 211.2l3.2-.8 -3.5-2.1 -3.2 .8zM259.7 206l3.2-.7 -3.6-2 -3.2 .7zM262.4 202.6l3.1-.7 -3.6-1.9 -3.1 .6zM142.1 220.9l3.6-.8 -3.1-2.2 -3.5 .8zM261 194.8l3-.7 -3.5-1.9 -3 .7zM253.6 188.6l3-.7 -3.3-1.8 -3 .7zM106.9 211.8l3.6-.7 -2.8-2.1 -3.5 .8zM130.5 196.7l3.3-.7 -2.7-1.9 -3.4 .7z"/><path color="#8d0832" d="M203.9 221.7l3.5-.8 -3.5-2.1 -3.4 .7zM183.5 217.5l3.5-.8 -3.3-2.1 -3.4 .7zM165 202.3l3.3-.7 -3-2 -3.3 .7z"/><path color="#81356e" d="M207.4 220.9l3.4-.7 -3.5-2.2 -3.4 .8zM190.8 204.7l3.3-.7 -3.1-2 -3.3 .7z"/><path color="#9e356e" d="M214.2 219.4l3.4-.8 -3.5-2.2 -3.4 .8zM184.9 195.5l3.2-.6 -3.1-1.9 -3.2 .6zM160.4 188.2l3.2-.6 -2.8-1.8 -3.2 .6z"/><path color="#ab356e" d="M217.6 218.6l3.4-.8 -3.5-2.1 -3.4 .7zM203.9 212.9l3.4-.7 -3.4-2.1 -3.3 .7zM191.1 199.4l3.2-.7 -3.1-2 -3.3 .7zM178.8 191.8l3.2-.7 -3-1.8 -3.2 .6zM169.7 188.8l3.2-.7 -2.9-1.8 -3.2 .7zM154.4 187.1l3.2-.7 -2.8-1.7 -3.2 .6zM157.6 186.4l3.2-.6 -2.8-1.8 -3.2 .7z"/><path color="#ab376e" d="M221 217.8l3.3-.7 -3.5-2.2 -3.3 .8zM210.7 214.3l3.3-.8 -3.4-2.1 -3.3 .8zM207.3 212.2l3.3-.8 -3.3-2 -3.4 .7zM203.9 210.1l3.4-.7 -3.4-2.1 -3.3 .7zM200.6 208l3.3-.7 -3.2-2 -3.3 .7zM197.4 203.3l3.3-.7 -3.2-2 -3.3 .7zM191.2 196.7l3.2-.6 -3.1-1.9 -3.2 .7zM182 191.1l3.2-.6 -3-1.9 -3.2 .7zM179 189.3l3.2-.7 -3-1.8 -3.2 .7zM170 186.3l3.1-.6 -2.9-1.8 -3.1 .7zM161.1 183.4l3.1-.6 -2.8-1.7 -3.1 .6zM148.8 183.5l3.2-.6 -2.7-1.7 -3.2 .6zM152 182.9l3.2-.6 -2.8-1.7 -3.1 .6zM155.2 182.3l3.1-.6 -2.8-1.7 -3.1 .6z"/><path color="#ab526e" d="M224.3 217.1l3.4-.8 -3.6-2.1 -3.3 .7zM214 213.5l3.3-.7 -3.4-2.1 -3.3 .7zM191.3 194.2l3.2-.7 -3.1-1.8 -3.2 .6zM176.3 185.1l3.1-.7 -2.9-1.7 -3.1 .6zM167.4 182.2l3.1-.6 -2.8-1.8 -3.1 .6zM150.1 176.6l3.1-.6 -2.7-1.7 -3.1 .6zM144.3 175.5l3.1-.6 -2.6-1.6 -3.1 .5z"/><path color="#0ed4dd" d="M244.1 212.5l3.3-.7 -3.6-2.1 -3.3 .7zM230.5 209.8l3.3-.7 -3.5-2.1 -3.3 .8zM117.7 196.8l3.3-.6 -2.6-1.9 -3.4 .6zM121 196.2l3.4-.7 -2.7-1.9 -3.3 .7z"/><path color="#6508cb" d="M117.2 238.5l3.8-.9 -3-2.4 -3.8 .9zM118.8 232l3.7-.8 -3-2.4 -3.7 .9zM122.5 231.2l3.8-.9 -3-2.3 -3.8 .8zM115.8 229.7l3.7-.9 -2.9-2.3 -3.7 .8zM124 224.9l3.6-.8 -2.9-2.2 -3.7 .8zM229.2 193.8l3.1-.7 -3.3-1.8 -3.1 .6zM241.5 191.2l3.1-.7 -3.4-1.8 -3 .6zM228.4 184l3-.7 -3.2-1.7 -3 .6z"/><path color="#6a08db" d="M121 237.6l3.8-.8 -3-2.4 -3.8 .8zM114.2 236.1l3.8-.9 -3-2.4 -3.8 .9zM121.8 234.4l3.7-.9 -3-2.3 -3.7 .8zM115 232.8l3.8-.8 -3-2.3 -3.7 .8zM126.3 230.3l3.7-.8 -3.1-2.3 -3.6 .8zM112.9 227.3l3.7-.8 -2.9-2.2 -3.7 .8zM121 222.7l3.7-.8 -2.9-2.2 -3.7 .7zM235.9 197.6l3.1-.7 -3.3-1.9 -3.2 .7zM245.2 195.6l3.1-.7 -3.4-1.9 -3.1 .7zM229.4 196.4l3.1-.7 -3.3-1.9 -3.1 .7zM244.9 193l3.1-.6 -3.4-1.9 -3.1 .7zM226.1 194.5l3.1-.7 -3.3-1.9 -3.1 .7zM241.2 188.7l3.1-.7 -3.4-1.8 -3 .7z"/><path color="#5a08fe" d="M128.6 235.9l3.8-.8 -3.1-2.4 -3.8 .8zM249.1 200.1l3.1-.7 -3.5-1.9 -3.1 .6zM229.8 201.6l3.2-.7 -3.4-1.9 -3.1 .7zM251.8 196.8l3.1-.7 -3.5-1.9 -3.1 .7zM251.4 194.2l3.1-.6 -3.5-1.9 -3 .7zM125.4 218.9l3.6-.8 -3-2.2 -3.5 .8zM134.3 208.7l3.5-.7 -2.9-2 -3.4 .7zM134.9 206l3.5-.7 -2.9-2 -3.4 .7z"/><path color="#0e14fe" d="M136.1 234.2l3.7-.8 -3.1-2.4 -3.7 .8zM246.6 206.2l3.2-.7 -3.5-2 -3.2 .7zM136.7 213.7l3.5-.8 -3-2.1 -3.5 .8zM112.4 216.1l3.6-.8 -2.8-2.1 -3.5 .7zM141.2 207.3l3.5-.7 -2.9-2.1 -3.4 .8zM121.7 206.1l3.5-.7 -2.8-2 -3.4 .7zM122.4 203.4l3.4-.7 -2.7-2 -3.4 .7zM132.7 201.3l3.4-.7 -2.8-2 -3.4 .7z"/><path color="#0e63fe" d="M139.8 233.4l3.7-.9 -3.1-2.3 -3.7 .8zM243.8 209.7l3.2-.8 -3.6-2 -3.2 .7zM256.1 204l3.2-.7 -3.6-2 -3.1 .7zM141 227l3.6-.8 -3.1-2.3 -3.6 .9zM144.2 209.3l3.4-.7 -2.9-2 -3.5 .7zM141.8 204.5l3.4-.7 -2.9-2 -3.4 .7zM136.1 200.6l3.3-.7 -2.8-2 -3.3 .7z"/><path color="#d80832" d="M183.2 223.5l3.5-.8 -3.3-2.2 -3.5 .8zM176.4 222l3.5-.7 -3.3-2.2 -3.5 .7zM173.1 219.8l3.5-.7 -3.2-2.2 -3.5 .7z"/><path color="#c50832" d="M186.7 222.7l3.5-.8 -3.4-2.2 -3.4 .8zM176.6 219.1l3.5-.8 -3.3-2.2 -3.4 .8zM173.4 216.9l3.4-.8 -3.2-2.1 -3.4 .7z"/><path color="#940832" d="M193.6 221.1l3.5-.8 -3.4-2.2 -3.4 .8zM167.7 207l3.4-.7 -3.1-2 -3.4 .7zM162.3 197.7l3.3-.7 -3-1.9 -3.2 .7z"/><path color="#860832" d="M197.1 220.3l3.4-.8 -3.4-2.1 -3.4 .7z"/><path color="#810832" d="M200.5 219.5l3.4-.7 -3.3-2.2 -3.5 .8zM190.3 218.9l3.4-.8 -3.3-2.1 -3.4 .7zM180.3 215.3l3.4-.7 -3.2-2.1 -3.4 .7zM170.8 209.1l3.4-.8 -3.1-2 -3.4 .7zM162.6 195.1l3.3-.7 -2.9-1.8 -3.3 .6z"/><path color="#78356e" d="M203.9 218.8l3.4-.8 -3.4-2.2 -3.3 .8zM194 209.5l3.3-.7 -3.2-2.1 -3.4 .8zM163 192.6l3.2-.7 -2.9-1.8 -3.2 .6z"/><path color="#ab386e" d="M217.5 215.7l3.3-.8 -3.5-2.1 -3.3 .7zM194.3 198.7l3.2-.7 -3.1-1.9 -3.2 .6zM176 187.5l3.2-.7 -2.9-1.7 -3.2 .6zM173.1 185.7l3.2-.6 -2.9-1.8 -3.2 .6zM167.1 184.6l3.1-.7 -2.8-1.7 -3.2 .6zM164.2 182.8l3.2-.6 -2.8-1.8 -3.2 .7zM158.3 181.7l3.1-.6 -2.7-1.8 -3.2 .7zM146.1 181.8l3.2-.6 -2.7-1.7 -3.2 .6zM149.3 181.2l3.1-.6 -2.7-1.7 -3.1 .6zM152.4 180.6l3.1-.6 -2.7-1.8 -3.1 .7zM155.5 180l3.2-.7 -2.8-1.7 -3.1 .6zM143.4 180.1l3.2-.6 -2.7-1.7 -3.2 .6zM146.6 179.5l3.1-.6 -2.7-1.7 -3.1 .6zM149.7 178.9l3.1-.7 -2.7-1.6 -3.1 .6z"/><path color="#ab776e" d="M220.8 214.9l3.3-.7 -3.4-2.2 -3.4 .8zM200.7 202.6l3.2-.7 -3.2-2 -3.2 .7zM188.3 189.8l3.2-.6 -3.1-1.8 -3.1 .6zM179.4 184.4l3.1-.6 -2.9-1.7 -3.1 .6zM159 177l3.1-.5 -2.8-1.7 -3 .6z"/><path color="#a7af6e" d="M224.1 214.2l3.3-.8 -3.4-2.1 -3.3 .7zM188.6 184.9l3.1-.6 -3-1.7 -3.1 .6zM185.6 183.2l3.1-.6 -3-1.8 -3 .6zM167.9 177.5l3.1-.6 -2.8-1.6 -3 .6z"/><path color="#0e51fe" d="M247 208.9l3.2-.7 -3.6-2 -3.2 .7zM250.2 208.2l3.2-.7 -3.6-2 -3.2 .7zM140.4 230.2l3.7-.9 -3.1-2.3 -3.7 .8zM237 208.3l3.2-.7 -3.5-2 -3.2 .7zM230.3 207l3.2-.7 -3.4-2 -3.2 .7zM258.8 200.6l3.1-.6 -3.5-2 -3.1 .7zM138.5 221.7l3.6-.8 -3-2.2 -3.6 .8zM254 191l3.1-.6 -3.5-1.8 -3 .6zM105.2 217.6l3.6-.7 -2.7-2.2 -3.6 .8zM113.2 213.2l3.6-.8 -2.8-2 -3.5 .7zM246.9 185l3-.6 -3.3-1.8 -3 .6zM138.9 202.5l3.4-.7 -2.9-1.9 -3.3 .7zM119.7 201.4l3.4-.7 -2.7-1.9 -3.4 .7z"/><path color="#0e76fe" d="M253.4 207.5l3.2-.7 -3.6-2.1 -3.2 .8zM139.6 215.8l3.6-.8 -3-2.1 -3.5 .8zM109.7 213.9l3.5-.7 -2.7-2.1 -3.6 .7zM114 210.4l3.5-.8 -2.7-2 -3.6 .7z"/><path color="#6c08e2" d="M125.5 233.5l3.8-.8 -3-2.4 -3.8 .9zM113.7 224.3l3.7-.8 -2.9-2.3 -3.7 .8zM232.8 198.3l3.1-.7 -3.4-1.9 -3.1 .7zM234.4 182.7l3-.6 -3.2-1.7 -3 .6zM231.2 181l3-.6 -3.2-1.7 -3 .6zM228 179.3l3-.6 -3.1-1.7 -3 .6z"/><path color="#7308f9" d="M129.3 232.7l3.7-.9 -3-2.3 -3.7 .8zM248.7 197.5l3.1-.7 -3.5-1.9 -3.1 .7zM110 225.1l3.7-.8 -2.9-2.3 -3.6 .8zM114.5 221.2l3.6-.8 -2.8-2.2 -3.7 .8zM118.1 220.4l3.7-.7 -2.9-2.2 -3.6 .7zM248 192.4l3-.7 -3.4-1.8 -3 .6zM240.9 186.2l3-.6 -3.2-1.8 -3 .7zM234.2 180.4l2.9-.6 -3.2-1.7 -2.9 .6z"/><path color="#0e0afe" d="M136.7 231l3.7-.8 -3.1-2.4 -3.6 .9zM137.3 227.8l3.7-.8 -3.1-2.2 -3.6 .8zM254.5 193.6l3-.7 -3.5-1.9 -3 .7zM132.5 217.3l3.6-.7 -3-2.2 -3.5 .8zM133.1 214.4l3.6-.7 -3-2.1 -3.5 .7zM116 215.3l3.6-.7 -2.8-2.2 -3.6 .8zM119.6 214.6l3.6-.8 -2.9-2.1 -3.5 .7zM140.7 210.1l3.5-.8 -3-2 -3.4 .7zM247.3 187.4l3-.6 -3.4-1.8 -3 .6z"/><path color="#da9632" d="M158.6 226.1l3.6-.9 -3.2-2.2 -3.6 .8zM115.2 183.3l3.3-.7 -2.6-1.7 -3.2 .6zM112.7 181.5l3.2-.6 -2.5-1.7 -3.2 .6z"/><path color="#760832" d="M193.7 218.1l3.4-.7 -3.3-2.2 -3.4 .8zM187 216.7l3.4-.7 -3.3-2.2 -3.4 .8zM168 204.3l3.3-.7 -3-2 -3.3 .7z"/><path color="#710832" d="M197.1 217.4l3.5-.8 -3.4-2.2 -3.4 .8zM165.6 197l3.3-.7 -3-1.9 -3.3 .7z"/><path color="#75356e" d="M200.6 216.6l3.3-.8 -3.3-2.1 -3.4 .7zM187.7 202.7l3.3-.7 -3.2-1.9 -3.3 .6z"/><path color="#aa356e" d="M207.3 215.1l3.4-.8 -3.4-2.1 -3.4 .7zM200.6 210.8l3.3-.7 -3.3-2.1 -3.3 .8zM194.1 204l3.3-.7 -3.2-2 -3.2 .7zM163.6 187.6l3.2-.6 -2.9-1.8 -3.1 .6z"/><path color="#ab9c6e" d="M217.3 212.8l3.4-.8 -3.5-2 -3.3 .7zM179.6 182.1l3.1-.7 -2.9-1.7 -3.1 .6zM162.1 176.5l3.1-.6 -2.8-1.7 -3.1 .6z"/><path color="#93af6e" d="M220.7 212l3.3-.7 -3.5-2.1 -3.3 .8zM188.7 182.6l3.1-.7 -3-1.7 -3.1 .6zM171 176.9l3.1-.6 -2.9-1.6 -3 .6z"/><path color="#62af6e" d="M224 211.3l3.2-.7 -3.4-2.1 -3.3 .7zM200.8 194.7l3.1-.6 -3.1-1.9 -3.2 .7zM183 176.8l3-.6 -2.9-1.6 -3 .6zM177.1 175.7l3-.5 -2.8-1.7 -3 .6zM168.7 170.8l3-.5 -2.7-1.6 -3 .5z"/><path color="#660832" d="M190.4 216l3.4-.8 -3.3-2.1 -3.4 .7zM193.8 215.2l3.4-.8 -3.3-2.1 -3.4 .8zM183.7 214.6l3.4-.8 -3.2-2.1 -3.4 .8zM168.3 201.6l3.3-.7 -3-2 -3.3 .7z"/><path color="#6f356e" d="M197.2 214.4l3.4-.7 -3.3-2.1 -3.4 .7zM175.4 195l3.2-.7 -3-1.9 -3.2 .7zM165.9 194.4l3.2-.6 -2.9-1.9 -3.2 .7zM169.1 193.8l3.3-.7 -3-1.9 -3.2 .7z"/><path color="#ab696e" d="M210.6 211.4l3.3-.7 -3.3-2.1 -3.3 .8zM194.4 196.1l3.2-.7 -3.1-1.9 -3.2 .7zM161.8 178.7l3.1-.6 -2.8-1.6 -3.1 .5zM144.8 173.3l3.1-.6 -2.7-1.7 -3 .6z"/><path color="#abae6e" d="M213.9 210.7l3.3-.7 -3.4-2.1 -3.2 .7zM207.2 206.6l3.3-.7 -3.3-2 -3.3 .7zM191.5 189.2l3.1-.7 -3-1.8 -3.2 .7zM176.7 180.3l3.1-.6 -2.9-1.7 -3.1 .6z"/><path color="#83af6e" d="M217.2 210l3.3-.8 -3.4-2 -3.3 .7zM197.6 192.9l3.2-.7 -3.1-1.9 -3.2 .7zM194.7 186.1l3.1-.6 -3.1-1.8 -3 .6z"/><path color="#43af6e" d="M220.5 209.2l3.3-.7 -3.4-2 -3.3 .7zM194.8 181.3l3.1-.6 -3-1.7 -3.1 .6zM183.1 174.6l3-.6 -2.8-1.7 -3 .6zM180.3 172.9l3-.6 -2.8-1.6 -3 .6zM177.5 171.3l3-.6 -2.8-1.6 -3 .6zM177.7 169.1l2.9-.5 -2.7-1.6 -3 .5zM180.6 168.6l3-.6 -2.8-1.6 -2.9 .6zM177.9 167l2.9-.6 -2.7-1.5 -3 .5z"/><path color="#30afb5" d="M223.8 208.5l3.2-.7 -3.4-2.1 -3.2 .8zM203.9 194.1l3.2-.7 -3.2-1.9 -3.1 .7zM195 174.5l3-.6 -2.9-1.7 -3 .6zM195.1 172.2l2.9-.5 -2.9-1.6 -2.9 .5zM195.1 170.1l3-.6 -2.9-1.6 -2.9 .6zM198.2 165.2l2.8-.5 -2.8-1.6 -2.9 .6zM201.1 162.6l2.8-.5 -2.8-1.5 -2.9 .5z"/><path color="#3908fe" d="M243.1 204.2l3.2-.7 -3.5-2 -3.2 .7zM226.7 202.3l3.1-.7 -3.3-1.9 -3.2 .6zM107.2 222.8l3.6-.8 -2.8-2.2 -3.7 .8zM129 218.1l3.5-.8 -2.9-2.1 -3.6 .7zM251 191.7l3-.7 -3.4-1.8 -3 .7zM111.6 219l3.7-.8 -2.9-2.1 -3.6 .8zM122.5 216.7l3.5-.8 -2.8-2.1 -3.6 .8zM133.7 211.6l3.5-.8 -2.9-2.1 -3.4 .8zM127.4 210.2l3.5-.7 -2.9-2.1 -3.5 .7z"/><path color="#2208fe" d="M249.4 202.7l3.2-.7 -3.5-1.9 -3.2 .7zM230.1 204.3l3.2-.7 -3.5-2 -3.1 .7zM254.9 196.1l3-.7 -3.4-1.8 -3.1 .6zM129.6 215.2l3.5-.8 -2.9-2.1 -3.5 .7zM126.7 213l3.5-.7 -2.8-2.1 -3.5 .8zM124.5 208.1l3.5-.7 -2.8-2 -3.5 .7zM138.4 205.3l3.4-.8 -2.9-2 -3.4 .8zM135.5 203.3l3.4-.8 -2.8-1.9 -3.4 .7zM125.8 202.7l3.5-.7 -2.8-2 -3.4 .7zM129.3 202l3.4-.7 -2.8-2 -3.4 .7z"/><path color="#5e08bb" d="M119.5 228.8l3.8-.8 -3-2.3 -3.7 .8zM235.4 192.5l3.1-.7 -3.3-1.8 -3.1 .6zM238.5 191.8l3-.6 -3.3-1.9 -3 .7zM232.1 190.6l3.1-.6 -3.3-1.8 -3.1 .6zM235.2 190l3-.7 -3.3-1.8 -3 .7zM231.9 188.2l3-.7 -3.3-1.8 -3 .7z"/><path color="#4408fe" d="M134.3 225.6l3.6-.8 -3-2.3 -3.6 .8zM233.3 203.6l3.2-.7 -3.5-2 -3.2 .7zM252.2 199.4l3.1-.7 -3.5-1.9 -3.1 .7zM115.3 218.2l3.6-.7 -2.9-2.2 -3.6 .8zM118.9 217.5l3.6-.8 -2.9-2.1 -3.6 .7zM137.8 208l3.4-.7 -2.8-2 -3.5 .7z"/><path color="#5d0832" d="M187.1 213.8l3.4-.7 -3.2-2.1 -3.4 .7zM190.5 213.1l3.4-.8 -3.3-2.1 -3.3 .8zM171.3 203.6l3.4-.7 -3.1-2 -3.3 .7z"/><path color="#6c356e" d="M193.9 212.3l3.4-.7 -3.3-2.1 -3.4 .7zM184.5 200.7l3.3-.6 -3.1-2 -3.3 .7z"/><path color="#ab716e" d="M207.3 209.4l3.3-.8 -3.4-2 -3.3 .7zM185.3 188l3.1-.6 -3-1.8 -3.1 .6zM182.3 186.2l3.1-.6 -2.9-1.8 -3.1 .6zM170.5 181.6l3.1-.7 -2.9-1.7 -3 .6zM150.5 174.3l3.1-.6 -2.7-1.6 -3 .6z"/><path color="#a3af6e" d="M210.6 208.6l3.2-.7 -3.3-2 -3.3 .7zM197.6 195.4l3.2-.7 -3.2-1.8 -3.1 .6zM182.7 181.4l3-.6 -2.9-1.7 -3 .6zM157 170.9l3-.5 -2.7-1.6 -3 .5z"/><path color="#79af6e" d="M213.8 207.9l3.3-.7 -3.3-2 -3.3 .7zM210.5 205.9l3.3-.7 -3.4-2 -3.2 .7zM203.9 199.2l3.2-.7 -3.2-1.9 -3.2 .7zM191.8 181.9l3-.6 -3-1.7 -3 .6zM179.9 177.4l3.1-.6 -2.9-1.6 -3 .5z"/><path color="#30af75" d="M217.1 207.2l3.3-.7 -3.4-2.1 -3.2 .8zM213.8 205.2l3.2-.8 -3.3-2 -3.3 .8zM200.8 189.7l3.1-.7 -3.1-1.8 -3.1 .7zM191.9 177.3l3.1-.6 -3-1.6 -3 .5zM189.1 173.4l3-.6 -2.9-1.6 -2.9 .6zM189.4 169l2.9-.5 -2.8-1.6 -3 .5zM186.7 165.3l2.9-.5 -2.8-1.6 -2.9 .6z"/><path color="#30afd5" d="M220.4 206.5l3.2-.8 -3.4-2 -3.2 .7zM203.9 189l3.1-.6 -3.1-1.8 -3.1 .6zM203.9 186.6l3.1-.6 -3.1-1.8 -3 .6zM198 176.1l2.9-.6 -2.9-1.6 -3 .6zM198 173.9l3-.6 -3-1.6 -2.9 .5zM198 171.7l3-.6 -2.9-1.6 -3 .6zM201 166.8l2.9-.6 -2.9-1.5 -2.8 .5zM203.9 164.1l2.9-.5 -2.9-1.5 -2.8 .5z"/><path color="#3077e8" d="M223.6 205.7l3.3-.7 -3.4-2 -3.3 .7zM207 186l3.1-.7 -3.1-1.7 -3.1 .6zM203.9 179.5l3-.6 -3-1.7 -3 .6zM203.9 172.7l3-.6 -3-1.6 -2.9 .6z"/><path color="#7108fe" d="M109.2 228.2l3.7-.9 -2.9-2.2 -3.7 .8zM233 200.9l3.2-.7 -3.4-1.9 -3.2 .7zM226.5 199.7l3.1-.7 -3.3-2 -3.2 .7zM121.8 219.7l3.6-.8 -2.9-2.2 -3.6 .8zM237.4 182.1l3-.6 -3.3-1.7 -2.9 .6zM230.8 176.4l2.9-.6 -3.1-1.7 -2.9 .6z"/><path color="#da4632" d="M159.8 217l3.5-.7 -3.1-2.2 -3.5 .8zM160.2 214.1l3.4-.7 -3.1-2.1 -3.4 .7zM136 186.1l3.3-.7 -2.7-1.7 -3.2 .6zM121.7 182l3.2-.6 -2.6-1.7 -3.2 .6zM119.1 180.3l3.2-.6 -2.5-1.7 -3.2 .6zM119.8 178l3.1-.6 -2.5-1.7 -3.1 .6z"/><path color="#7b0832" d="M177.1 213.2l3.4-.7 -3.2-2.1 -3.4 .7zM173.9 211.1l3.4-.7 -3.1-2.1 -3.4 .8zM165.3 199.6l3.3-.7 -3-1.9 -3.3 .7z"/><path color="#620832" d="M180.5 212.5l3.4-.8 -3.2-2.1 -3.4 .8zM177.3 210.4l3.4-.8 -3.2-2 -3.3 .7zM174.2 208.3l3.3-.7 -3.1-2 -3.3 .7zM168.6 198.9l3.3-.7 -3-1.9 -3.3 .7z"/><path color="#540832" d="M183.9 211.7l3.4-.7 -3.2-2.1 -3.4 .7zM187.3 211l3.3-.8 -3.2-2 -3.3 .7zM174.4 205.6l3.3-.8 -3-1.9 -3.4 .7z"/><path color="#65356e" d="M190.6 210.2l3.4-.7 -3.3-2 -3.3 .7zM181.4 198.8l3.3-.7 -3.1-1.9 -3.2 .7zM172.1 195.7l3.3-.7 -3-1.9 -3.3 .7z"/><path color="#a2356e" d="M197.3 208.8l3.3-.8 -3.2-2 -3.3 .7zM187.9 197.4l3.3-.7 -3.1-1.8 -3.2 .6zM181.8 193.6l3.2-.6 -3-1.9 -3.2 .7zM172.6 190.6l3.2-.7 -2.9-1.8 -3.2 .7z"/><path color="#ab626e" d="M203.9 207.3l3.3-.7 -3.3-2 -3.2 .7zM173.4 183.3l3.1-.6 -2.9-1.8 -3.1 .7zM164.6 180.4l3.1-.6 -2.8-1.7 -3.1 .6zM153.2 176l3.1-.6 -2.7-1.7 -3.1 .6z"/><path color="#30afe0" d="M217 204.4l3.2-.7 -3.3-2 -3.2 .7zM213.7 202.4l3.2-.7 -3.3-1.9 -3.2 .7zM200.9 180.1l3-.6 -3-1.7 -3 .6zM206.8 163.6l2.8-.6 -2.8-1.5 -2.9 .6z"/><path color="#3060e8" d="M220.2 203.7l3.3-.7 -3.4-2 -3.2 .7zM216.9 201.7l3.2-.7 -3.3-1.9 -3.2 .7zM207 183.6l3-.6 -3-1.8 -3.1 .6zM209.8 169.4l2.8-.6 -2.9-1.6 -2.9 .6z"/><path color="#3036e8" d="M223.5 203l3.2-.7 -3.4-2 -3.2 .7zM210 180.6l3-.6 -3.1-1.7 -3 .6zM209.9 176l3-.6 -3.1-1.6 -2.9 .6z"/><path color="#4f0832" d="M180.7 209.6l3.4-.7 -3.2-2 -3.4 .7zM184.1 208.9l3.3-.7 -3.2-2.1 -3.3 .8zM177.5 207.6l3.4-.7 -3.2-2.1 -3.3 .8zM174.7 202.9l3.3-.8 -3.1-1.9 -3.3 .7z"/><path color="#60356e" d="M187.4 208.2l3.3-.7 -3.2-2.1 -3.3 .7zM175.1 197.6l3.3-.7 -3-1.9 -3.3 .7z"/><path color="#72356e" d="M190.7 207.5l3.4-.8 -3.3-2 -3.3 .7z"/><path color="#92356e" d="M194.1 206.7l3.3-.7 -3.3-2 -3.3 .7zM175.6 192.4l3.2-.6 -3-1.9 -3.2 .7z"/><path color="#ab436e" d="M200.7 205.3l3.2-.7 -3.2-2 -3.3 .7zM188.2 192.3l3.2-.6 -3.1-1.9 -3.1 .7zM182.2 188.6l3.1-.6 -3-1.8 -3.1 .6zM170.2 183.9l3.2-.6 -2.9-1.7 -3.1 .6zM152.8 178.2l3.1-.6 -2.7-1.6 -3.1 .6zM143.9 177.8l3.1-.6 -2.7-1.7 -3.1 .6zM147 177.2l3.1-.6 -2.7-1.7 -3.1 .6zM138.1 176.7l3.1-.6 -2.6-1.7 -3.1 .6zM135.5 175l3.1-.6 -2.6-1.6 -3.1 .6z"/><path color="#ab966e" d="M203.9 204.6l3.3-.7 -3.3-2 -3.2 .7zM188.4 187.4l3.2-.7 -3-1.8 -3.2 .7z"/><path color="#87af6e" d="M207.2 203.9l3.2-.7 -3.2-2 -3.3 .7zM182.8 179.1l3.1-.6 -2.9-1.7 -3.1 .6zM165.4 173.6l3.1-.6 -2.8-1.6 -3 .6zM162.7 172l3-.6 -2.7-1.6 -3 .6zM163 169.8l3-.6 -2.7-1.6 -3 .6z"/><path color="#3baf6e" d="M210.4 203.2l3.3-.8 -3.3-1.9 -3.2 .7zM203.9 196.6l3.2-.7 -3.2-1.8 -3.1 .6zM200.8 192.2l3.1-.7 -3.1-1.8 -3.1 .6zM186.1 174l3-.6 -2.8-1.6 -3 .5zM183.3 172.3l3-.5 -2.9-1.6 -2.9 .5zM180.5 170.7l2.9-.5 -2.8-1.6 -2.9 .5zM183.4 170.2l3-.6 -2.8-1.6 -3 .6zM183.6 168l2.9-.6 -2.8-1.5 -2.9 .5zM180.8 166.4l2.9-.5 -2.7-1.6 -2.9 .6z"/><path color="#3635e8" d="M220.1 201l3.2-.7 -3.3-1.9 -3.2 .7zM216.8 199.1l3.2-.7 -3.3-1.9 -3.2 .7zM209.9 178.3l3-.6 -3-1.7 -3 .6zM212.8 173.2l2.9-.6 -3-1.6 -2.9 .6z"/><path color="#5735e8" d="M223.3 200.3l3.2-.6 -3.4-2 -3.1 .7zM220 198.4l3.1-.7 -3.3-1.9 -3.1 .7zM216.6 193.9l3.1-.6 -3.2-1.9 -3.1 .7zM216.5 191.4l3.1-.6 -3.2-1.9 -3.1 .7zM216.4 188.9l3.1-.6 -3.2-1.8 -3.1 .6zM218.7 174.2l3-.5 -3.1-1.7 -2.9 .6zM221.7 173.7l2.9-.6 -3.1-1.6 -2.9 .5zM224.6 173.1l2.9-.6 -3.1-1.6 -2.9 .6z"/><path color="#4b0832" d="M180.9 206.9l3.3-.8 -3.1-2 -3.4 .7zM177.7 204.8l3.4-.7 -3.1-2 -3.3 .8z"/><path color="#5a356e" d="M184.2 206.1l3.3-.7 -3.1-2 -3.3 .7z"/><path color="#69356e" d="M187.5 205.4l3.3-.7 -3.1-2 -3.3 .7zM178.4 196.9l3.2-.7 -3-1.9 -3.2 .7z"/><path color="#9baf6e" d="M203.9 201.9l3.3-.7 -3.3-2 -3.2 .7zM194.5 191l3.2-.7 -3.1-1.8 -3.1 .7zM162.4 174.2l3-.6 -2.7-1.6 -3 .6zM159.7 172.6l3-.6 -2.7-1.6 -3 .5z"/><path color="#52af6e" d="M207.2 201.2l3.2-.7 -3.3-2 -3.2 .7zM180.1 175.2l3-.6 -2.8-1.7 -3 .6zM171.5 172.5l3-.6 -2.8-1.6 -3 .5zM171.7 170.3l3-.6 -2.7-1.6 -3 .6zM174.9 167.5l3-.5 -2.8-1.6 -2.9 .6z"/><path color="#30afca" d="M210.4 200.5l3.2-.7 -3.3-1.9 -3.2 .6zM203.9 191.5l3.2-.6 -3.2-1.9 -3.1 .7zM198.1 169.5l2.9-.6 -2.9-1.6 -2.9 .6zM203.9 162.1l2.9-.6 -2.9-1.5 -2.8 .6z"/><path color="#306be8" d="M213.6 199.8l3.2-.7 -3.3-1.9 -3.2 .7zM203.9 177.2l3-.6 -3-1.7 -3 .6zM203.9 174.9l3-.5 -3-1.7 -2.9 .6zM206.8 170l3-.6 -3-1.6 -2.9 .6z"/><path color="#6c35e8" d="M223.1 197.7l3.2-.7 -3.3-1.9 -3.2 .7zM219.8 195.8l3.2-.7 -3.3-1.8 -3.1 .6zM221.8 175.9l2.9-.6 -3-1.6 -3 .5zM224.7 175.3l3-.6 -3.1-1.6 -2.9 .6z"/><path color="#6c0832" d="M171.1 206.3l3.3-.7 -3.1-2 -3.3 .7z"/><path color="#58356e" d="M181.1 204.1l3.3-.7 -3.1-2 -3.3 .7zM178 202.1l3.3-.7 -3.1-1.9 -3.3 .7zM174.9 200.2l3.3-.7 -3.1-1.9 -3.2 .6z"/><path color="#63356e" d="M184.4 203.4l3.3-.7 -3.2-2 -3.2 .7zM168.9 196.3l3.2-.6 -3-1.9 -3.2 .6z"/><path color="#ab4b6e" d="M197.5 200.6l3.2-.7 -3.2-1.9 -3.2 .7zM179.2 186.8l3.1-.6 -2.9-1.8 -3.1 .7zM158.7 179.3l3.1-.6 -2.8-1.7 -3.1 .6zM141.2 176.1l3.1-.6 -2.6-1.7 -3.1 .6zM138.6 174.4l3.1-.6 -2.6-1.6 -3.1 .6z"/><path color="#aba26e" d="M200.7 199.9l3.2-.7 -3.2-1.9 -3.2 .7zM194.5 193.5l3.1-.6 -3.1-1.9 -3.1 .7zM170.7 179.2l3.1-.6 -2.8-1.7 -3.1 .6zM159.3 174.8l3.1-.6 -2.7-1.6 -3.1 .5zM154 171.5l3-.6 -2.7-1.6 -3 .6z"/><path color="#30af9c" d="M207.1 198.5l3.2-.6 -3.2-2 -3.2 .7zM200.9 184.8l3-.6 -3-1.8 -3.1 .7zM197.9 180.7l3-.6 -3-1.7 -3 .6zM192.1 172.8l3-.6 -2.9-1.6 -3 .6zM192.2 170.6l2.9-.5 -2.8-1.6 -2.9 .5zM195.3 165.8l2.9-.6 -2.9-1.5 -2.8 .5zM195.3 163.7l2.9-.6 -2.8-1.5 -2.9 .6z"/><path color="#3082e8" d="M210.3 197.9l3.2-.7 -3.2-1.9 -3.2 .6zM207.1 193.4l3.1-.7 -3.1-1.8 -3.2 .6zM207.1 190.9l3.1-.7 -3.2-1.8 -3.1 .6zM207 188.4l3.1-.6 -3.1-1.8 -3.1 .6zM209.7 167.2l2.9-.5 -2.9-1.6 -2.9 .6zM212.6 166.7l2.8-.6 -2.9-1.5 -2.8 .5z"/><path color="#303ce8" d="M213.5 197.2l3.2-.7 -3.3-1.9 -3.1 .7zM210 183l3.1-.7 -3.1-1.7 -3 .6zM209.8 173.8l3-.6 -3-1.6 -2.9 .5zM215.6 170.4l2.9-.6 -3-1.5 -2.9 .5zM218.5 169.8l2.9-.5 -3-1.6 -2.9 .6z"/><path color="#5135e8" d="M216.7 196.5l3.1-.7 -3.2-1.9 -3.2 .7zM213 180l3-.6 -3.1-1.7 -3 .6zM215.8 174.8l2.9-.6 -3-1.6 -2.9 .6z"/><path color="#6c35e1" d="M223 195.1l3.1-.6 -3.3-1.9 -3.1 .7zM219.3 185.9l3.1-.7 -3.2-1.7 -3 .6zM219.2 183.5l3-.7 -3.1-1.7 -3 .6zM219.1 181.1l3-.6 -3.1-1.7 -3 .6zM221.9 178.2l3-.6 -3.1-1.7 -2.9 .6z"/><path color="#5d356e" d="M181.3 201.4l3.2-.7 -3.1-1.9 -3.2 .7zM178.2 199.5l3.2-.7 -3-1.9 -3.3 .7zM171.9 198.2l3.2-.6 -3-1.9 -3.2 .6z"/><path color="#ab846e" d="M197.5 198l3.2-.7 -3.1-1.9 -3.2 .7zM176.5 182.7l3.1-.6 -2.9-1.8 -3.1 .6zM167.7 179.8l3-.6 -2.8-1.7 -3 .6zM156.3 175.4l3-.6 -2.7-1.7 -3 .6z"/><path color="#8faf6e" d="M200.7 197.3l3.2-.7 -3.1-1.9 -3.2 .7zM191.7 184.3l3-.6 -2.9-1.8 -3.1 .7zM185.7 180.8l3.1-.6 -2.9-1.7 -3.1 .6z"/><path color="#30ade8" d="M207.1 195.9l3.2-.6 -3.2-1.9 -3.2 .7zM203.9 184.2l3.1-.6 -3.1-1.8 -3 .6zM201 168.9l2.9-.5 -2.9-1.6 -2.9 .5zM203.9 166.2l2.9-.5 -2.9-1.6 -2.9 .6z"/><path color="#304ee8" d="M210.3 195.3l3.1-.7 -3.2-1.9 -3.1 .7zM206.9 174.4l2.9-.6 -2.9-1.7 -3 .6z"/><path color="#3d35e8" d="M213.4 194.6l3.2-.7 -3.2-1.8 -3.2 .6zM213.3 189.6l3.1-.7 -3.2-1.8 -3.1 .7zM213.2 187.1l3.1-.6 -3.2-1.8 -3 .6zM215.7 172.6l2.9-.6 -3-1.6 -2.9 .6z"/><path color="#6d35e5" d="M219.7 193.3l3.1-.7 -3.2-1.8 -3.1 .6zM219.6 190.8l3.1-.7 -3.2-1.8 -3.1 .6zM219.5 188.3l3-.7 -3.2-1.7 -3 .6zM219 178.8l2.9-.6 -3-1.7 -3 .6z"/><path color="#6a35dc" d="M222.8 192.6l3.1-.7 -3.2-1.8 -3.1 .7zM224.9 177.6l3-.6 -3.2-1.7 -2.9 .6z"/><path color="#6635cf" d="M225.9 191.9l3.1-.6 -3.3-1.8 -3 .6zM225.7 189.5l3.1-.7 -3.2-1.8 -3.1 .6zM225.6 187l3-.6 -3.2-1.8 -3 .6zM225.4 184.6l3-.6 -3.2-1.8 -3 .6zM225.2 182.2l3-.6 -3.1-1.7 -3 .6z"/><path color="#590832" d="M171.6 200.9l3.3-.7 -3-2 -3.3 .7z"/><path color="#7d356e" d="M184.7 198.1l3.2-.7 -3-1.9 -3.3 .7zM181.6 196.2l3.3-.7 -3.1-1.9 -3.2 .7zM172.4 193.1l3.2-.7 -3-1.8 -3.2 .6zM166.2 191.9l3.2-.7 -2.9-1.8 -3.2 .7z"/><path color="#3048e8" d="M210.2 192.7l3.2-.6 -3.2-1.9 -3.1 .7zM210.2 190.2l3.1-.6 -3.2-1.8 -3.1 .6zM210.1 187.8l3.1-.7 -3.1-1.8 -3.1 .7zM206.9 178.9l3-.6 -3-1.7 -3 .6zM206.9 176.6l3-.6 -3-1.6 -3 .5zM209.8 171.6l2.9-.6 -2.9-1.6 -3 .6z"/><path color="#4335e8" d="M213.4 192.1l3.1-.7 -3.2-1.8 -3.1 .6zM213.1 184.7l3.1-.6 -3.1-1.8 -3.1 .7zM212.9 175.4l2.9-.6 -3-1.6 -3 .6zM218.6 172l2.9-.5 -3-1.7 -2.9 .6zM221.5 171.5l2.9-.6 -3-1.6 -2.9 .5z"/><path color="#6935d8" d="M222.7 190.1l3-.6 -3.2-1.9 -3 .7zM222.5 187.6l3.1-.6 -3.2-1.8 -3.1 .7zM222.4 185.2l3-.6 -3.2-1.8 -3 .7zM222.2 182.8l3-.6 -3.1-1.7 -3 .6zM222.1 180.5l3-.6 -3.2-1.7 -2.9 .6zM225.1 179.9l2.9-.6 -3.1-1.7 -3 .6z"/><path color="#ab8a6e" d="M191.4 191.7l3.1-.7 -3-1.8 -3.2 .6zM153.6 173.7l3-.6 -2.6-1.6 -3.1 .6z"/><path color="#69af6e" d="M197.7 190.3l3.1-.6 -3.1-1.8 -3.1 .6zM194.7 183.7l3.1-.6 -3-1.8 -3 .6zM185.9 178.5l3-.6 -2.9-1.7 -3 .6zM168.5 173l3-.5 -2.8-1.7 -3 .6zM169 168.7l3-.6 -2.7-1.6 -3 .6z"/><path color="#5e35e8" d="M216.3 186.5l3-.6 -3.1-1.8 -3.1 .6zM215.9 177.1l3-.6 -3.1-1.7 -2.9 .6z"/><path color="#ab3b6e" d="M185.2 190.5l3.1-.7 -3-1.8 -3.1 .6zM161.4 181.1l3.2-.7 -2.8-1.7 -3.1 .6zM140.7 178.4l3.2-.6 -2.7-1.7 -3.1 .6z"/><path color="#8baf6e" d="M194.6 188.5l3.1-.6 -3-1.8 -3.1 .6zM176.9 178l3-.6 -2.8-1.7 -3 .6zM168.2 175.3l3-.6 -2.7-1.7 -3.1 .6z"/><path color="#5aaf6e" d="M197.7 187.9l3.1-.7 -3-1.7 -3.1 .6zM174.3 174.1l3-.6 -2.8-1.6 -3 .6zM172 168.1l2.9-.6 -2.7-1.5 -2.9 .5z"/><path color="#30af82" d="M200.8 187.2l3.1-.6 -3-1.8 -3.1 .7zM194.9 179l3-.6 -2.9-1.7 -3.1 .6zM189.2 171.2l3-.6 -2.8-1.6 -3 .6zM189.5 166.9l2.9-.6 -2.8-1.5 -2.9 .5zM189.6 164.8l2.9-.6 -2.8-1.5 -2.9 .5zM192.5 164.2l2.8-.5 -2.8-1.5 -2.8 .5z"/><path color="#3042e8" d="M210.1 185.3l3-.6 -3.1-1.7 -3 .6zM212.7 171l2.9-.6 -3-1.6 -2.8 .6z"/><path color="#6535e8" d="M216.2 184.1l3-.6 -3.1-1.8 -3 .6zM216.1 181.7l3-.6 -3.1-1.7 -3 .6zM216 179.4l3-.6 -3.1-1.7 -3 .6zM218.9 176.5l2.9-.6 -3.1-1.7 -2.9 .6z"/><path color="#9faf6e" d="M191.6 186.7l3.1-.6 -3-1.8 -3.1 .6zM173.8 178.6l3.1-.6 -2.8-1.7 -3.1 .6zM165.2 175.9l3-.6 -2.8-1.7 -3 .6z"/><path color="#4baf6e" d="M197.8 185.5l3.1-.7 -3.1-1.7 -3.1 .6zM191.8 179.6l3.1-.6 -3-1.7 -3 .6zM188.9 177.9l3-.6 -2.9-1.7 -3 .6zM186 176.2l3-.6 -2.9-1.6 -3 .6zM177.3 173.5l3-.6 -2.8-1.6 -3 .6zM174.5 171.9l3-.6 -2.8-1.6 -3 .6zM174.7 169.7l3-.6 -2.8-1.6 -2.9 .6z"/><path color="#4a35e8" d="M213.1 182.3l3-.6 -3.1-1.7 -3 .6zM212.9 177.7l3-.6 -3-1.7 -3 .6z"/><path color="#ab906e" d="M185.4 185.6l3.2-.7 -3-1.7 -3.1 .6zM182.5 183.8l3.1-.6 -2.9-1.8 -3.1 .7zM173.6 180.9l3.1-.6 -2.9-1.7 -3.1 .6zM164.9 178.1l3-.6 -2.7-1.6 -3.1 .6zM150.9 172.1l3.1-.6 -2.7-1.6 -3 .6z"/><path color="#34af6e" d="M197.8 183.1l3.1-.7 -3-1.7 -3.1 .6zM189 175.6l3-.5 -2.9-1.7 -3 .6zM186.3 171.8l2.9-.6 -2.8-1.6 -3 .6zM186.4 169.6l3-.6 -2.9-1.6 -2.9 .6zM186.5 167.4l3-.5 -2.8-1.6 -3 .6zM183.7 165.9l3-.6 -2.8-1.5 -2.9 .5z"/><path color="#30afc0" d="M200.9 182.4l3-.6 -3-1.7 -3 .6zM197.9 178.4l3-.6 -2.9-1.7 -3 .6zM198.1 167.3l2.9-.5 -2.8-1.6 -2.9 .6zM201 164.7l2.9-.6 -2.8-1.5 -2.9 .5z"/><path color="#308de8" d="M203.9 181.8l3.1-.6 -3.1-1.7 -3 .6zM203.9 170.5l2.9-.5 -2.9-1.6 -2.9 .5zM206.8 167.8l2.9-.6 -2.9-1.5 -2.9 .5z"/><path color="#3055e8" d="M207 181.2l3-.6 -3.1-1.7 -3 .6zM206.9 172.1l2.9-.5 -3-1.6 -2.9 .5zM212.6 168.8l2.9-.5 -2.9-1.6 -2.9 .5zM215.5 168.3l2.9-.6 -3-1.6 -2.8 .6z"/><path color="#71af6e" d="M188.8 180.2l3-.6 -2.9-1.7 -3 .6zM171.2 174.7l3.1-.6 -2.8-1.6 -3 .5zM165.7 171.4l3-.6 -2.7-1.6 -3 .6z"/><path color="#30a2e8" d="M200.9 177.8l3-.6 -3-1.7 -2.9 .6zM201 171.1l2.9-.6 -2.9-1.6 -2.9 .6zM206.8 165.7l2.9-.6 -2.9-1.5 -2.9 .5zM209.7 165.1l2.8-.5 -2.9-1.6 -2.8 .6z"/><path color="#97af6e" d="M179.8 179.7l3-.6 -2.9-1.7 -3 .6zM160 170.4l3-.6 -2.7-1.6 -3 .6z"/><path color="#30afa8" d="M195 176.7l3-.6 -3-1.6 -3 .6zM195.2 167.9l2.9-.6 -2.8-1.5 -2.9 .5zM198.2 163.1l2.9-.5 -2.9-1.5 -2.8 .5z"/><path color="#3097e8" d="M200.9 175.5l3-.6 -2.9-1.6 -3 .6zM201 173.3l2.9-.6 -2.9-1.6 -3 .6zM203.9 168.4l2.9-.6 -2.9-1.6 -2.9 .6z"/><path color="#30af8f" d="M192 175.1l3-.6 -2.9-1.7 -3 .6zM192.3 168.5l2.9-.6 -2.8-1.6 -2.9 .6zM192.4 166.3l2.9-.5 -2.8-1.6 -2.9 .6z"/><path color="#7faf6e" d="M174.1 176.3l3-.6 -2.8-1.6 -3.1 .6zM166 169.2l3-.5 -2.7-1.6 -3 .5z"/><path color="#ab5a6e" d="M155.9 177.6l3.1-.6 -2.7-1.6 -3.1 .6zM147.4 174.9l3.1-.6 -2.6-1.6 -3.1 .6zM141.7 173.8l3.1-.5 -2.6-1.7 -3.1 .6z"/><path color="#aba86e" d="M156.6 173.1l3.1-.5 -2.7-1.7 -3 .6z"/><path color="#ab7e6e" d="M147.9 172.7l3-.6 -2.6-1.6 -3.1 .5z"/></g></g>
<g fill="none" stroke="#333" stroke-opacity="0.45" stroke-width="0.45"><path d="M109.4 232.2L109.6 230.8L109.4 229.3L109.3 228.1L109.1 227L109 225.7L109.1 224.3L109.4 223.1L110 222L111.4 220.5L112.5 219.7L114.9 218.7L116.2 218.3L118 217.9L120.9 217.6L123.8 217.8L126.3 218.4L129.4 220.1L131.5 222.1L132.4 223.4L133 225.3L133 226.6L132.8 227.9L132.3 229.1L131.7 230.1L131 231L130 232.3L128.8 233.8L128 234.7L127.4 235.7L127 236.9L126.8 238.3L126.9 240L127.5 242L127.9 243.2L128.4 244.5L129 246.4L129.4 248.3L129.4 248.4M241.6 200.3L240.1 200.5L236.8 200.6L234.9 200.5L231.6 200.1L228.9 199.6L226.6 199L222.9 197.5L220.3 195.9L218.6 194.1L218.1 193.2L217.9 192.2L217.9 191.1L217.9 190.1L217.9 189L217.9 188L217.7 187L217.5 186L217.2 185.1L217 184.1L216.7 183.2L216.5 182.2L216.3 181.3L216.2 180.3L216.2 179.3L216.4 178.3L216.9 177.3L217.3 176.5L217.8 175.9L219 174.9L219.9 174.4L221.8 173.7L224.3 173.4L226.6 173.4L229.1 173.9L232.1 175.2L234 176.7L234.7 177.5L235.5 178.4L236.9 180L237.6 180.9L238.7 181.9L240.2 183.3L241.1 184.2L243.1 185.8L244.1 186.6L246.1 188.3L247.2 189.2L249 190.8L249.8 191.7L250.6 192.8L251.1 194L251.2 195L251 195.9L250 197.2L249.2 197.8L247.5 198.7L246.5 199.1L244.2 199.8L241.6 200.3L241.6 200.3M133.4 206.8L131.7 206L131.8 204.9L133.2 204.6L134.9 205.3L134.8 206.4L133.4 206.8L133.4 206.8M103.8 227.7L103.5 225.9L103.3 224.6L103.2 223.4L103.1 222.3L103.3 221.1L103.7 219.8L104.5 218.5L105.6 217.2L106.5 216.5L108.2 215.4L109.6 214.6L111.9 213.5L113 213L115.2 211.9L116.2 211.3L118 210L118.6 209.1L119 208L119.2 206.9L119.3 205.6L119.3 204.3L119.4 203.2L119.8 202.1L120.3 201.2L121 200.5L122.8 199.3L124 198.9L126.7 198.3L128.3 198.2L131.7 198.5L134 199.1L135.9 199.8L138.7 201.3L140.9 203L142.1 204.2L143.2 205.8L143.6 206.8L143.6 207.9L143.1 209.1L142.1 210.4L141.2 211.1L140 212L138.6 213.1L137.8 213.8L136.9 215L136.6 216.2L136.7 217.4L137.1 218.6L138 220.6L138.5 221.7L139 222.8L139.6 224.6L139.9 226.2L139.9 227.5L139.8 228.8L139.4 230.1L138.9 231.2L138.4 232.2L137.7 233.2L136.8 234.6L135.8 236.1L135.2 237.2L134.6 238.3L134.2 239.5L133.9 240.8L133.8 242.3L133.9 243.9L134.1 245.7L134.2 247.2L134.2 248.6L133.9 250.1L133.2 251.5L133.2 251.5M243.7 181.1L244.8 182.4L245.6 183.2L247.1 184.7L248.3 185.7L250.1 187.1L251.4 188.2L253.4 189.8L254.5 190.7L255.9 192L257.1 193.4L257.8 194.4L258.3 195.4L258.5 196.4L258.3 197.6L257.8 198.7L257.3 199.4L256.6 200.2L255.6 201.3L254.9 201.9L253.4 203L252.7 203.6L251 204.6L250.1 205.2L248.1 206L245.6 206.6L242.7 206.8L240.6 206.8L238.4 206.6L235.1 206.2L232.2 205.7L229.6 205.1L227.2 204.5L224.4 203.6L221.3 202.4L218.1 200.8L215.5 199.2L213.3 197.4L212 196.3L210.7 194.8L210 193.8L209.5 192.8L209.2 191.7L209.2 190.6L209.2 189.7L209.3 188.7L209.4 187.7L209.4 186.7L209.3 185.7L209.1 184.7L208.7 183.6L208.3 182.4L207.7 181.2L207.3 180.2L206.9 179.3L206.7 178.4L206.5 177.5L206.3 176.5L206.4 175.6L206.5 174.6L206.8 173.6L207.1 172.7L207.5 172L207.9 171.4L208.6 170.5L209.5 169.7L210.2 169.2L211.8 168.3L213.8 167.7L216.3 167.4L217.8 167.4M98.7 223.6L98.3 222.1L98.1 221L98 219.9L98 218.5L98.2 217.2L98.7 216.1L99.4 215L100.7 213.6L101.7 212.7L102.6 212L104.4 210.6L105.3 209.9L106.4 209.1L107.8 207.7L108.4 206.8L108.9 205.9L109.4 204.9L109.7 203.8L110 202.7L110.2 201.6L110.5 200.5L110.9 199.5L111.5 198.5L112.8 197.2L113.8 196.6L116 195.6L117.2 195.3L119.8 194.7L121.3 194.5L124.5 194.3L126.9 194.4L130.2 194.7L132.7 195.2L134.7 195.9L136.4 196.5L139.2 198L141.5 199.7L143.5 201.4L144.4 202.3L146 204.1L146.7 205L147.5 206.6L147.8 208.1L147.7 209.3L147.4 210.3L146.9 211.2L146.3 212.1L145.3 213.2L144.3 214.5L143.7 215.4L143.3 216.4L143 217.6L143.1 218.9L143.5 220.6L143.9 221.7L144.3 222.8L144.9 224.4L145.5 226.2L145.8 227.4L145.9 228.7L145.9 229.9L145.6 231.3L145.2 232.6L144.6 234L144 235.1L143.4 236.1L142.8 237.1L142 238.6L141.3 240.1L140.8 241.6L140.6 242.9L140.4 244.4L140.4 245.8L140.4 247.1L140.2 248.6L139.8 250.1L139.1 251.3L138.2 252.2L136.1 253.8L136.1 253.8M251.4 185.2L253.3 186.7L254.6 187.7L256.5 189.2L258.4 190.7L259.8 191.7L261.4 193.2L262.6 194.4L263.4 195.3L264 196.4L264.3 197.5L264.3 198.5L264.1 199.7L263.5 200.8L263.1 201.6L262.6 202.3L261.7 203.7L261.2 204.4L260.8 205.1L260 206.5L259.5 207.4L259.1 208.2L258.4 209.2L257.6 210.3L256.8 210.9L254.8 211.9L251.9 212.3L250.1 212.3L246.2 212L243.6 211.7L241 211.2L238.3 210.7L235.4 210.1L232.4 209.3L229.6 208.6L227.2 208L225 207.3L221.6 206.1L219.2 205.1L216.1 203.5L213.5 201.8L211.3 200.1L210.3 199.2L208.4 197.4L207.5 196.5L205.8 194.7L205.2 193.8L204.5 192.9L204 191.5L203.7 190.4L203.5 189.3L203.5 188.3L203.5 187.3L203.4 186.3L203.2 185.2L202.8 184L202.4 183.1L201.9 182.2L201.1 181.2L200 179.7L199.4 178.9L198.6 177.9L197.7 176.4L197.2 175.5L196.9 174.6L196.7 173.8L196.6 172.9L196.6 171.9L196.7 171L196.9 170.1L197.2 169.1L197.5 168.3L197.8 167.6L198.2 166.9L198.7 166.2L199.6 165.1L200.1 164.6L200.9 164L202 163.1L202.6 162.6L203 161.9L202.5 160.9L201.8 160.4M273.9 220.7L269.7 219.1L267 218.9L265 218.7L261.5 218.4L258.3 218.1L255.8 217.7L253.2 217.2L250.3 216.7L247.4 216L244.2 215.2L241.1 214.4L238.6 213.8L236.1 213.1L233.7 212.5L231.1 211.8L227.7 210.8L224.2 209.8L222.1 209.1L220 208.4L216.3 206.9L213.3 205.3L210.9 203.5L208.8 201.7L207.9 200.8L206.1 199L205.2 198.1L203.7 196.5L202.7 195.4L201.7 194.3L200.5 192.7L199.9 191.8L199.4 190.8L198.8 189.5L198.5 188.3L198.3 187.2L198 186.1L197.7 185.1L197.3 184.2L196.7 183.3L195.3 181.6L194.4 180.8L192.3 179.3L189.9 177.9L187.1 176.6L185.5 175.9L182.1 174.9L179.6 174.3L177.4 173.9L175.2 173.4L173.3 172.8L170.5 171.6L169.6 170.4L169.8 169.6L170.3 168.9L171.7 167.9L172.4 167.4L173 166.7L173.3 165.8L173.3 165.8M261.4 190.4L263.6 192L265.8 193.7L266.9 194.6L268.4 196L269.5 197.3L270.1 198.4L270.3 199.4L270.3 200.6L270.1 201.5L269.8 202.3L269.4 203.1L268.8 204.5L268.4 205.4L268.2 206.3L268 207.2L268 208.2L268.1 209.4L268.4 210.6L268.9 211.7L269.7 213.1L271.1 214.9L272.3 215.9L274.3 216.7L278.1 216.8L279.7 216.7L282.6 216.2L285.4 215.7L288.1 215.2L290.6 214.6L293.1 214L295.5 213.3L297.7 212.5L298.7 212.1L300 210.8L300 210.8M92.8 218.8L92.4 217.6L92 216.5L91.7 215L91.8 213.6L92.2 212.4L92.7 211.4L93.4 210.5L94.6 209.3L95.8 208.2L96.5 207.3L97.3 206.5L98 205.4L98.5 204.2L98.8 203.1L98.8 202.1L98.7 200.9L98.3 199.2L98 198.1L97.7 197.2L97.5 196L97.5 194.7L97.9 193.8L98.8 193L100.8 192.1L103.4 191.5L106.3 191.2L109.3 190.9L110.9 190.8L114.1 190.7L115.8 190.6L119.1 190.6L120.9 190.6L124.5 190.8L126.4 191L128.5 191.2L130.8 191.6L133.3 192.2L136.7 193.3L138.4 194.1L140.9 195.6L143 197.3L144.3 198.4L145.7 199.9L147.3 201.7L148.1 202.6L149.4 204.3L150.1 205.4L150.7 206.4L151.2 208L151.4 209.3L151.2 210.5L150.9 211.5L150.5 212.5L150 213.4L149.2 214.7L148.5 216L148 217.2L147.9 218.4L148 219.6L148.3 220.8L148.7 221.9L149.4 223.5L150.2 225.2L150.7 226.3L151.2 227.5L151.8 229.4L152.1 231L152.1 232.3L152 233.7L151.7 235L151.4 236.2L151 237.3L150.5 238.5L150.1 239.6L149.7 240.8L149.4 242.3L149.3 243.6L149.6 245.3L150.6 247.5L151.7 248.7L153.7 249.6L153.7 249.6M64.6 186.2L67.9 186.5L69.7 186.6L72.7 186.3L74.7 186.1L74.8 187L72.9 187.8L70.3 188.3L67.5 188.8L64.8 189.4L62.2 189.9L59.5 190.5L58.2 190.9M86.9 182L85.8 182.4L83.5 183.1L81 183.7L78.2 184.1L77.1 183.8M261.4 223.7L259.1 222.9L255.1 221.6L252.2 220.7L249.9 219.9L246.8 218.9L243.1 217.7L240.8 217L238.4 216.3L235.2 215.3L231.7 214.3L229 213.5L226.6 212.9L224.2 212.2L221.2 211.3L217.7 210.1L215.8 209.3L212.4 207.8L209.6 206.1L207.4 204.3L206.4 203.3L204.8 201.5L204 200.5L202.6 198.9L201.5 197.8L200.5 196.6L199 195.1L198.2 194.2L196.6 192.4L195.9 191.6L194.8 190.2L194 188.9L193.5 187.9L193.1 187L192.4 185.7L191.5 184.4L190.7 183.5L188.6 182L185.7 180.6L184.1 180L181.2 179.1L178.3 178.4L176.1 177.8L174 177.3L172.1 176.7L169 175.8L166.9 175L164.3 173.9L162.6 173.1L160.4 171.7L159.5 171L158.9 169.7L159.2 169L160.1 168.3L160.1 168.3M276.7 198.6L278.3 199.9L279 200.9L279.2 202.1L278.6 203.3L278.3 204L277.9 204.8L277.5 206L277.5 207.2L277.9 208.4L278.8 209.4L281.7 210.7L284.2 211.1L287.5 210.9L289.8 210.3L291.2 209.1L291.3 208.1L290.7 206.9L289.6 205.6L289.2 205.2M105.7 178.5L104.9 179.5L104.5 180.4L104.4 181.4L104.8 182.3L106.5 183.8L109.5 185L111.7 185.6L114.1 186.1L116.6 186.5L118.7 186.8L120.7 187L122.9 187.3L125.9 187.6L128.8 188.1L131.3 188.5L133.5 189.1L135.5 189.7L137.5 190.4L140.2 191.7L142.7 193.2L144.7 194.9L145.8 195.9L147.2 197.5L148.2 198.7L149.4 200.2L150.2 201.3L151.5 202.9L152.2 203.9L153.4 205.8L153.9 206.8L154.4 207.8L154.7 209.1L154.8 210.5L154.7 211.6L154.4 212.7L154 213.7L153.5 214.9L152.9 216.2L152.5 217.4L152.4 218.7L152.5 219.8L152.8 221L153.5 222.4L154.5 224.3L155.2 225.3L156.3 227.1L157.3 228.6L158 229.7L159.2 232L159.8 233.2L160.3 234.4L161 236.1L161.7 238L162.3 239.2L164.4 241.4L168.5 243L171.4 243.7L174.2 244.3L174.9 244.5M253.6 225.5L250.5 223.6L246.8 221.9L244.9 221.1L240.7 219.5L238.6 218.8L235.7 217.8L232 216.7L229.3 215.9L226.9 215.2L224.6 214.5L221.5 213.6L217.8 212.5L215.7 211.7L212.9 210.6L210.3 209.4L207.4 207.7L205 205.9L204.1 205L202.4 203.1L201.7 202.1L200.9 201.1L199.5 199.3L198.7 198.4L197.4 196.9L196.3 195.7L194.7 194.2L193.5 193.1L191.7 191.4L190.7 190.5L188.9 188.9L188.1 188L186.3 186.4L184.1 184.9L181.3 183.5L178.6 182.4L176 181.6L174.1 181L171.6 180.2L168.7 179.3L167 178.7L163.7 177.4L162.1 176.8L159.1 175.6L157.6 174.9L154.6 173.7L153 173.1L150.1 172.1L147.8 171.4L145.8 170.9L145.8 170.9M115.6 176.6L114.9 177.5L114.5 178.3L114.5 179.4L115 180.3L117.1 181.8L119.1 182.5L121.8 183.2L124.2 183.7L126.4 184.1L128.7 184.5L131.1 185L133.8 185.7L136.4 186.5L138 187.2L140.9 188.6L143.3 190.1L145.4 191.7L147.3 193.3L148.2 194.2L149.6 195.9L150.3 196.8L151.6 198.6L152.2 199.6L153.1 200.8L154.2 202.4L154.8 203.3L156.1 205.2L156.7 206.2L157.3 207.2L158.1 209L158.4 210.3L158.6 211.5L158.5 212.6L158.3 213.8L157.9 215.1L157.5 216.1L157.3 217.2L157.1 218.4L157.3 219.8L157.7 221.1L158.3 222.2L159.6 224L160.6 225.3L162.6 227.4L163.7 228.4L166 230.5L168.5 232.5L171.4 234.4L174.7 236.3L176.5 237.2L180 239.1L183.2 241.1L184.6 242.1M246.9 227.2L246.2 226L243.6 224L240.2 222.2L237.1 220.9L234.1 219.8L231.8 219.1L228.8 218.1L225.3 217.1L222.4 216.3L220 215.6L217.7 214.9L214.1 213.6L211.7 212.6L208.3 211L206.7 210.2L204 208.5L202.8 207.6L200.8 205.7L199.9 204.8L198.5 202.9L197.8 201.9L197.2 200.9L195.9 199.1L195.1 198.1L194 196.9L192.4 195.4L190.4 193.7L189.3 192.9L186.9 191.3L184.3 189.8L182.7 189L179.9 187.7L177.2 186.6L174.7 185.8L172.9 185.1L169.4 183.9L167.6 183.3L165.7 182.7L162.2 181.5L160.2 180.9L158.1 180.4L155.8 179.9L152.9 179.5L150.7 179.5L147.8 179.8L145.5 180.3L143.5 181.2L142.8 181.8L142.5 182.6L142.8 183.9L143.6 185.1L144.4 186.1L145.9 187.6L147.6 189.2L148.5 190.1L150.1 191.7L150.9 192.6L152.3 194.3L153 195.2L154 196.8L154.7 198L155.3 198.9L156.3 200.6L157 201.8L157.6 202.7L158.9 204.6L159.6 205.6L160.5 207L161.5 208.6L162 209.6L162.5 210.8L163 212.3L163.1 213.6L163.1 214.9L163 216.1L162.9 217.3L162.9 218.6L163.2 219.9L163.7 221L164.8 222.4L166.4 224L169 226L172.3 227.7L174.3 228.5L176.6 229.3L179.8 230.2L182.7 231L185.7 231.6L188.9 232.5L191.8 233.6L194.9 235.6L196.1 237.5L196.3 238.9L196.3 239.3M239.2 229L239.2 227.7L238.7 226.5L236.4 224.4L232.9 222.6L230.8 221.8L227.6 220.8L224.1 219.7L221.4 219L219 218.3L216.7 217.6L212.6 216L210.8 215.2L207.4 213.6L204.4 211.9L201.6 210.1L199.3 208.3L197.4 206.6L196.4 205.5L195.5 204.3L194.3 202.6L193.7 201.6L193.1 200.6L191.8 198.8L191 197.9L189.2 196.1L188.1 195.3L185.6 193.7L183.7 192.7L181.1 191.5L178.4 190.5L175.7 189.6L173.7 189L171.4 188.2L168.3 187.4L165.5 186.6L163.2 186.1L160.6 185.7L158.6 185.5L155.6 185.7L155.5 185.7L153.6 186.6L153.2 187.4L153.3 188.5L153.9 190L154.4 190.9L155 191.8L156.1 193.6L156.7 194.5L157.4 195.6L158.3 197.2L158.9 198.2L159.4 199.2L160.3 201L161 202L161.5 203L162.9 204.9L163.6 205.9L164.8 207.5L165.8 208.8L166.8 210L168 211.7L168.7 212.7L169.8 214.5L170.7 215.8L171.4 216.8L173.4 218.8L176.4 220.6L178.5 221.3L181.1 222L183.9 222.6L186.8 223.2L189.6 223.8L192.3 224.4L195 225.1L198.4 226.1L202 227.3L204.1 228.1L207.8 229.8L210.5 231.9L211.8 233.6L212.5 235.4L212.5 235.4M199.2 219.3L202.8 219.2L203.9 218L203.4 216.9L201.5 214.9L200.5 214L198.3 212.1L196.6 210.6L195.1 209.3L193.2 207.4L192.3 206.4L190.9 204.8L190 203.5L189.4 202.6L188.4 200.9L187.5 199.7L186.8 198.8L184.9 197L182.3 195.4L179.2 194L177.3 193.3L174.9 192.6L172 191.8L169.4 191.3L167.2 190.9L164.2 190.9L163.4 191L162.1 192L161.9 193L162.3 194.3L162.7 195.3L163.1 196.3L163.6 197.4L164.3 199L164.9 200.1L165.4 201.1L166.1 202.5L167.2 204L167.9 205L169.5 206.8L170.4 207.8L172.5 209.6L174.8 211.4L177.5 213.1L180.8 214.8L182.7 215.5L185.9 216.6L189.1 217.5L192 218.2L194.6 218.7L197 219.1L199.2 219.3L199.2 219.3"/></g>
<g stroke="#fff" stroke-opacity="0.3" stroke-width="0.6"><line x1="94.8" y1="180.5" x2="182" y2="242.8"/><line x1="132.9" y1="173.4" x2="225.2" y2="232.4"/><line x1="169.3" y1="166.5" x2="266" y2="222.6"/><line x1="120.3" y1="241" x2="285.2" y2="203.1"/><line x1="105.4" y1="229" x2="267" y2="193.4"/><line x1="91.5" y1="217.8" x2="249.9" y2="184.4"/><line x1="78.5" y1="207.3" x2="233.7" y2="175.8"/><line x1="66.2" y1="197.4" x2="218.4" y2="167.7"/></g>
<g clip-path="url(#sb)"><g fill="currentColor" stroke="currentColor" stroke-width="0.45" stroke-linejoin="round" filter="url(#bl2)"><path color="#2893e9" d="M204.5 103.8l1.4 1.4 -1.4-2.2 -1.4-2.2z"/><path color="#28afe9" d="M203.1 102.4l1.4 1.4 -1.4-3 -1.4-1.9z"/><path color="#2876e9" d="M205.9 106.6l1.5 .9 -1.5-2.3 -1.4-1.4z"/><path color="#28c8e9" d="M201.7 101.2l1.4 1.2 -1.4-3.5 -1.4-1.6z"/><path color="#288ae9" d="M204.5 105.7l1.4 .9 -1.4-2.8 -1.4-1.4z"/><path color="#2859e9" d="M207.4 109.4l1.4 .4 -1.4-2.3 -1.5-.9z"/><path color="#28c9d5" d="M200.2 100.1l1.5 1.1 -1.4-3.9 -1.5-1.3z"/><path color="#289de9" d="M203.1 104.8l1.4 .9 -1.4-3.3 -1.4-1.2z"/><path color="#2866e9" d="M205.9 108.9l1.5 .5 -1.5-2.8 -1.4-.9z"/><path color="#2849e9" d="M208.8 112.1l1.4 0 -1.4-2.3 -1.4-.4z"/><path color="#28c9c2" d="M198.8 99l1.4 1.1 -1.4-4.1 -1.4-1.1z"/><path color="#28afe9" d="M201.6 103.9l1.5 .9 -1.4-3.6 -1.5-1.1z"/><path color="#2875e9" d="M204.5 108.2l1.4 .7 -1.4-3.2 -1.4-.9z"/><path color="#284de9" d="M207.4 111.9l1.4 .2 -1.4-2.7 -1.5-.5z"/><path color="#28c9b1" d="M197.4 98.1l1.4 .9 -1.4-4.1 -1.4-.9z"/><path color="#28c1e9" d="M200.2 102.9l1.4 1 -1.4-3.8 -1.4-1.1z"/><path color="#2884e9" d="M203.1 107.4l1.4 .8 -1.4-3.4 -1.5-.9z"/><path color="#2853e9" d="M205.9 111.4l1.5 .5 -1.5-3 -1.4-.7z"/><path color="#28c9a2" d="M195.9 97.3l1.5 .8 -1.4-4.1 -1.5-.6z"/><path color="#28c9e0" d="M198.8 101.9l1.4 1 -1.4-3.9 -1.4-.9z"/><path color="#2894e9" d="M201.6 106.5l1.5 .9 -1.5-3.5 -1.4-1z"/><path color="#2835e9" d="M210.3 117.3l2.9-.8 -3-4.4 -2.8-.2z"/><path color="#285de9" d="M204.5 110.7l1.4 .7 -1.4-3.2 -1.4-.8z"/><path color="#28c993" d="M194.5 96.6l1.4 .7 -1.4-3.9 -1.4-.5z"/><path color="#2840e9" d="M207.4 114.3l1.4 .3 -1.4-2.7 -1.5-.5z"/><path color="#28c9d1" d="M197.3 101l1.5 .9 -1.4-3.8 -1.5-.8z"/><path color="#28a5e9" d="M200.2 105.5l1.4 1 -1.4-3.6 -1.4-1z"/><path color="#286ce9" d="M203 109.8l1.5 .9 -1.4-3.3 -1.5-.9z"/><path color="#28c986" d="M193 95.9l1.5 .7 -1.4-3.7 -1.5-.4z"/><path color="#2846e9" d="M205.9 113.7l1.5 .6 -1.5-2.9 -1.4-.7z"/><path color="#28c9c2" d="M195.9 100l1.4 1 -1.4-3.7 -1.4-.7z"/><path color="#28b7e9" d="M198.7 104.4l1.5 1.1 -1.4-3.6 -1.5-.9z"/><path color="#2a30e9" d="M208.8 117.1l1.5 .2 -1.5-2.7 -1.4-.3z"/><path color="#287de9" d="M201.6 108.8l1.4 1 -1.4-3.3 -1.4-1z"/><path color="#28c97b" d="M191.5 95.3l1.5 .6 -1.4-3.4 -1.5-.3z"/><path color="#284ee9" d="M204.5 112.9l1.4 .8 -1.4-3 -1.5-.9z"/><path color="#28c9b3" d="M194.4 99.1l1.5 .9 -1.4-3.4 -1.5-.7z"/><path color="#2834e9" d="M207.4 116.5l1.4 .6 -1.4-2.8 -1.5-.6z"/><path color="#28c9e9" d="M197.3 103.3l1.4 1.1 -1.4-3.4 -1.4-1z"/><path color="#4130e9" d="M213.2 121.9l2.9-1.3 -2.9-4.1 -2.9 .8z"/><path color="#28c971" d="M190.1 94.7l1.4 .6 -1.4-3.1 -1.4-.1z"/><path color="#288fe9" d="M200.2 107.6l1.4 1.2 -1.4-3.3 -1.5-1.1z"/><path color="#2858e9" d="M203 111.9l1.5 1 -1.5-3.1 -1.4-1z"/><path color="#28c9a5" d="M192.9 98.2l1.5 .9 -1.4-3.2 -1.5-.6z"/><path color="#283be9" d="M205.9 115.7l1.5 .8 -1.5-2.8 -1.4-.8z"/><path color="#28c968" d="M188.6 94.2l1.5 .5 -1.4-2.6 -1.5-.1z"/><path color="#28c9d8" d="M195.8 102.1l1.5 1.2 -1.4-3.3 -1.5-.9z"/><path color="#28a3e9" d="M198.7 106.4l1.5 1.2 -1.5-3.2 -1.4-1.1z"/><path color="#28c995" d="M191.5 97.3l1.4 .9 -1.4-2.9 -1.4-.6z"/><path color="#286be9" d="M201.6 110.6l1.4 1.3 -1.4-3.1 -1.4-1.2z"/><path color="#3f30e9" d="M210.3 121.5l2.9 .4 -2.9-4.6 -2.9-.8z"/><path color="#2844e9" d="M204.5 114.7l1.4 1 -1.4-2.8 -1.5-1z"/><path color="#28c9c7" d="M194.4 101l1.4 1.1 -1.4-3 -1.5-.9z"/><path color="#2e30e9" d="M207.4 118.4l1.4 .7 -1.4-2.6 -1.5-.8z"/><path color="#28b7e9" d="M197.2 105l1.5 1.4 -1.4-3.1 -1.5-1.2z"/><path color="#28c986" d="M190 96.4l1.5 .9 -1.4-2.6 -1.5-.5z"/><path color="#2880e9" d="M200.1 109.3l1.5 1.3 -1.4-3 -1.5-1.2z"/><path color="#284fe9" d="M203 113.4l1.5 1.3 -1.5-2.8 -1.4-1.3z"/><path color="#28c9b5" d="M192.9 99.8l1.5 1.2 -1.5-2.8 -1.4-.9z"/><path color="#28c966" d="M187.1 94.9l2.9 1.5 -2.8-4.4 -3-.2z"/><path color="#5930e9" d="M216.1 125.9l3-1.5 -3-3.8 -2.9 1.3z"/><path color="#2834e9" d="M205.9 117.3l1.5 1.1 -1.5-2.7 -1.4-1z"/><path color="#28c9e6" d="M195.8 103.7l1.4 1.3 -1.4-2.9 -1.4-1.1z"/><path color="#3e30e9" d="M208.8 120.8l1.5 .7 -1.5-2.4 -1.4-.7z"/><path color="#2897e9" d="M198.7 107.8l1.4 1.5 -1.4-2.9 -1.5-1.4z"/><path color="#28c9a4" d="M191.4 98.7l1.5 1.1 -1.4-2.5 -1.5-.9z"/><path color="#2860e9" d="M201.6 112l1.4 1.4 -1.4-2.8 -1.5-1.3z"/><path color="#283fe9" d="M204.5 116l1.4 1.3 -1.4-2.6 -1.5-1.3z"/><path color="#28c9d1" d="M194.3 102.3l1.5 1.4 -1.4-2.7 -1.5-1.2z"/><path color="#5a30e9" d="M213.2 125.7l2.9 .2 -2.9-4 -2.9-.4z"/><path color="#3430e9" d="M207.4 119.8l1.4 1 -1.4-2.4 -1.5-1.1z"/><path color="#28c951" d="M184.1 93.5l3 1.4 -2.9-3.1 -2.9-.3z"/><path color="#28aee9" d="M197.2 106.3l1.5 1.5 -1.5-2.8 -1.4-1.3z"/><path color="#28c990" d="M190 97.6l1.4 1.1 -1.4-2.3 -1.5-.8z"/><path color="#4d30e9" d="M210.3 123l1.4 .7 -1.4-2.2 -1.5-.7z"/><path color="#2878e9" d="M200.1 110.4l1.5 1.6 -1.5-2.7 -1.4-1.5z"/><path color="#284ce9" d="M203 114.6l1.5 1.4 -1.5-2.6 -1.4-1.4z"/><path color="#28c9bc" d="M192.9 100.9l1.4 1.4 -1.4-2.5 -1.5-1.1z"/><path color="#2830e9" d="M205.9 118.5l1.5 1.3 -1.5-2.5 -1.4-1.3z"/><path color="#28c6e9" d="M195.8 104.7l1.4 1.6 -1.4-2.6 -1.5-1.4z"/><path color="#28c97d" d="M188.5 96.5l1.5 1.1 -1.5-2 -1.4-.7z"/><path color="#4330e9" d="M208.8 122l1.5 1 -1.5-2.2 -1.4-1z"/><path color="#6c30e9" d="M219.1 129.2l3-1.6 -3-3.2 -3 1.5z"/><path color="#2892e9" d="M198.7 108.7l1.4 1.7 -1.4-2.6 -1.5-1.5z"/><path color="#33c950" d="M181.1 92.5l3 1 -2.8-2 -3-.6z"/><path color="#28c9a8" d="M191.4 99.5l1.5 1.4 -1.5-2.2 -1.4-1.1z"/><path color="#285ce9" d="M201.6 112.9l1.4 1.7 -1.4-2.6 -1.5-1.6z"/><path color="#5930e9" d="M211.8 125.1l1.4 .6 -1.5-2 -1.4-.7z"/><path color="#283de9" d="M204.5 117l1.4 1.5 -1.4-2.5 -1.5-1.4z"/><path color="#28c9d4" d="M194.3 103.1l1.5 1.6 -1.5-2.4 -1.4-1.4z"/><path color="#3730e9" d="M207.4 120.7l1.4 1.3 -1.4-2.2 -1.5-1.3z"/><path color="#28ace9" d="M197.2 107l1.5 1.7 -1.5-2.4 -1.4-1.6z"/><path color="#28c992" d="M189.9 98.3l1.5 1.2 -1.4-1.9 -1.5-1.1z"/><path color="#5030e9" d="M210.3 124.1l1.5 1 -1.5-2.1 -1.5-1z"/><path color="#6f30e9" d="M216.2 129.2l2.9 0 -3-3.3 -2.9-.2z"/><path color="#2877e9" d="M200.1 111.2l1.5 1.7 -1.5-2.5 -1.4-1.7z"/><path color="#284be9" d="M203 115.3l1.5 1.7 -1.5-2.4 -1.4-1.7z"/><path color="#40c950" d="M178.1 91.7l3 .8 -2.8-1.6 -3-1.1z"/><path color="#28c9bd" d="M192.8 101.5l1.5 1.6 -1.4-2.2 -1.5-1.4z"/><path color="#28c96b" d="M186.9 96l3 2.3 -2.8-3.4 -3-1.4z"/><path color="#2930e9" d="M205.9 119.3l1.5 1.4 -1.5-2.2 -1.4-1.5z"/><path color="#28c7e9" d="M195.7 105.3l1.5 1.7 -1.4-2.3 -1.5-1.6z"/><path color="#4430e9" d="M208.9 122.9l1.4 1.2 -1.5-2.1 -1.4-1.3z"/><path color="#2894e9" d="M198.6 109.3l1.5 1.9 -1.4-2.5 -1.5-1.7z"/><path color="#285ee9" d="M201.6 113.5l1.4 1.8 -1.4-2.4 -1.5-1.7z"/><path color="#28c9a6" d="M191.3 100l1.5 1.5 -1.4-2 -1.5-1.2z"/><path color="#283ee9" d="M204.5 117.6l1.4 1.7 -1.4-2.3 -1.5-1.7z"/><path color="#6330e9" d="M213.3 127.8l2.9 1.4 -3-3.5 -2.9-1.6z"/><path color="#7430e6" d="M222.2 131.8l2.9-1.7 -3-2.5 -3 1.6z"/><path color="#28c9d1" d="M194.3 103.5l1.4 1.8 -1.4-2.2 -1.5-1.6z"/><path color="#4fc950" d="M175.1 91.2l3 .5 -2.8-1.9 -3-1.7z"/><path color="#3630e9" d="M207.4 121.4l1.5 1.5 -1.5-2.2 -1.5-1.4z"/><path color="#2bc950" d="M184 94.4l2.9 1.6 -2.8-2.5 -3-1z"/><path color="#28b0e9" d="M197.2 107.4l1.4 1.9 -1.4-2.3 -1.5-1.7z"/><path color="#5030e9" d="M210.3 124.9l1.5 1.1 -1.5-1.9 -1.4-1.2z"/><path color="#28c98d" d="M189.9 98.6l1.4 1.4 -1.4-1.7 -1.5-1.2z"/><path color="#287ce9" d="M200.1 111.6l1.5 1.9 -1.5-2.3 -1.5-1.9z"/><path color="#284ee9" d="M203 115.7l1.5 1.9 -1.5-2.3 -1.4-1.8z"/><path color="#28c9b8" d="M192.8 101.9l1.5 1.6 -1.5-2 -1.5-1.5z"/><path color="#7330e4" d="M219.2 132l3-.2 -3.1-2.6 -2.9 0z"/><path color="#2831e9" d="M205.9 119.7l1.5 1.7 -1.5-2.1 -1.4-1.7z"/><path color="#28c9e5" d="M195.7 105.6l1.5 1.8 -1.5-2.1 -1.4-1.8z"/><path color="#28c975" d="M188.4 97.4l1.5 1.2 -1.5-1.5 -1.5-1.1z"/><path color="#4230e9" d="M208.9 123.4l1.4 1.5 -1.4-2 -1.5-1.5z"/><path color="#5fc950" d="M172.1 90.6l3 .6 -2.8-3.1 -3-2.2z"/><path color="#289ae9" d="M198.6 109.6l1.5 2 -1.5-2.3 -1.4-1.9z"/><path color="#3ac950" d="M180.9 93.6l3.1 .8 -2.9-1.9 -3-.8z"/><path color="#5a30e9" d="M211.8 126.7l1.5 1.1 -1.5-1.8 -1.5-1.1z"/><path color="#2865e9" d="M201.6 113.8l1.4 1.9 -1.4-2.2 -1.5-1.9z"/><path color="#28c99f" d="M191.3 100.3l1.5 1.6 -1.5-1.9 -1.4-1.4z"/><path color="#75c950" d="M169.2 87.8l1.5 .7 -1.4-2.6 -1.5-1.2z"/><path color="#2841e9" d="M204.5 117.9l1.4 1.8 -1.4-2.1 -1.5-1.9z"/><path color="#28c9ca" d="M194.2 103.8l1.5 1.8 -1.4-2.1 -1.5-1.6z"/><path color="#3330e9" d="M207.4 121.8l1.5 1.6 -1.5-2 -1.5-1.7z"/><path color="#7430e9" d="M216.3 131l2.9 1 -3-2.8 -2.9-1.4z"/><path color="#28b8e9" d="M197.2 107.6l1.4 2 -1.4-2.2 -1.5-1.8z"/><path color="#4d30e9" d="M210.4 125.4l1.4 1.3 -1.5-1.8 -1.4-1.5z"/><path color="#81c950" d="M167.7 86.9l1.5 .9 -1.4-3.1 -1.5-1.2z"/><path color="#28c984" d="M189.8 98.9l1.5 1.4 -1.4-1.7 -1.5-1.2z"/><path color="#7330e1" d="M225.2 133.7l3-1.9 -3.1-1.7 -2.9 1.7z"/><path color="#2884e9" d="M200.1 111.8l1.5 2 -1.5-2.2 -1.5-2z"/><path color="#44c950" d="M177.9 93.5l3 .1 -2.8-1.9 -3-.5z"/><path color="#2852e9" d="M203 116l1.5 1.9 -1.5-2.2 -1.4-1.9z"/><path color="#28c9b0" d="M192.7 102l1.5 1.8 -1.4-1.9 -1.5-1.6z"/><path color="#62c950" d="M170.6 90.2l1.5 .4 -1.4-2.1 -1.5-.7z"/><path color="#28c95d" d="M186.8 96.6l3 2.3 -2.9-2.9 -2.9-1.6z"/><path color="#2836e9" d="M206 120l1.4 1.8 -1.5-2.1 -1.4-1.8z"/><path color="#8bc950" d="M166.1 85.9l1.6 1 -1.4-3.4 -1.5-1.2z"/><path color="#28c9dd" d="M195.7 105.7l1.5 1.9 -1.5-2 -1.5-1.8z"/><path color="#3e30e9" d="M208.9 123.8l1.5 1.6 -1.5-2 -1.5-1.6z"/><path color="#28a3e9" d="M198.6 109.7l1.5 2.1 -1.5-2.2 -1.4-2z"/><path color="#7230de" d="M222.3 134.3l2.9-.6 -3-1.9 -3 .2z"/><path color="#6ac950" d="M169 89.6l1.6 .6 -1.4-2.4 -1.5-.9z"/><path color="#286ee9" d="M201.6 113.9l1.4 2.1 -1.4-2.2 -1.5-2z"/><path color="#28c994" d="M191.3 100.5l1.4 1.5 -1.4-1.7 -1.5-1.4z"/><path color="#6130e9" d="M213.4 129l2.9 2 -3-3.2 -2.9-2.4z"/><path color="#92c950" d="M164.6 84.9l1.5 1 -1.3-3.6 -1.6-1.3z"/><path color="#4bc950" d="M174.9 93.5l3 0 -2.8-2.3 -3-.6z"/><path color="#2846e9" d="M204.5 118.1l1.5 1.9 -1.5-2.1 -1.5-1.9z"/><path color="#28c9c0" d="M194.2 103.9l1.5 1.8 -1.5-1.9 -1.5-1.8z"/><path color="#2e30e9" d="M207.4 122.1l1.5 1.7 -1.5-2 -1.4-1.8z"/><path color="#74c950" d="M167.5 88.8l1.5 .8 -1.3-2.7 -1.6-1z"/><path color="#33c950" d="M183.8 95.4l3 1.2 -2.8-2.2 -3.1-.8z"/><path color="#28c2e9" d="M197.1 107.7l1.5 2 -1.4-2.1 -1.5-1.9z"/><path color="#4930e9" d="M210.4 125.8l1.5 1.4 -1.5-1.8 -1.5-1.6z"/><path color="#99c950" d="M163.1 83.6l1.5 1.3 -1.4-3.9 -1.5-1.2z"/><path color="#288ee9" d="M200.1 111.9l1.5 2 -1.5-2.1 -1.5-2.1z"/><path color="#7330e2" d="M219.4 133.8l2.9 .5 -3.1-2.3 -2.9-1z"/><path color="#2859e9" d="M203 116.1l1.5 2 -1.5-2.1 -1.4-2.1z"/><path color="#80c950" d="M166 87.9l1.5 .9 -1.4-2.9 -1.5-1z"/><path color="#28c9a6" d="M192.7 102.1l1.5 1.8 -1.5-1.9 -1.4-1.5z"/><path color="#283be9" d="M206 120.2l1.4 1.9 -1.4-2.1 -1.5-1.9z"/><path color="#54c950" d="M171.8 93.2l3.1 .3 -2.8-2.9 -3.1-1z"/><path color="#7c00f2" d="M228.4 134.9l3-2.3 -3.2-.8 -3 1.9z"/><path color="#a0c950" d="M161.5 82.3l1.6 1.3 -1.4-3.8 -1.5-1.1z"/><path color="#3930e9" d="M208.9 124.1l1.5 1.7 -1.5-2 -1.5-1.7z"/><path color="#28c9d2" d="M195.7 105.8l1.4 1.9 -1.4-2 -1.5-1.8z"/><path color="#3dc950" d="M180.8 95.1l3 .3 -2.9-1.8 -3-.1z"/><path color="#28c976" d="M189.7 99.2l3 2.9 -2.9-3.2 -3-2.3z"/><path color="#28aee9" d="M198.6 109.8l1.5 2.1 -1.5-2.2 -1.5-2z"/><path color="#5330e9" d="M211.9 127.7l1.5 1.3 -1.5-1.8 -1.5-1.4z"/><path color="#8ac950" d="M164.5 86.6l1.5 1.3 -1.4-3 -1.5-1.3z"/><path color="#2879e9" d="M201.6 114l1.4 2.1 -1.4-2.2 -1.5-2z"/><path color="#284ce9" d="M204.5 118.2l1.5 2 -1.5-2.1 -1.5-2z"/><path color="#a8c950" d="M160 80.8l1.5 1.5 -1.3-3.6 -1.6-1.1z"/><path color="#7130dc" d="M225.4 136.1l3-1.2 -3.2-1.2 -2.9 .6z"/><path color="#28c9b6" d="M194.2 103.9l1.5 1.9 -1.5-1.9 -1.5-1.8z"/><path color="#7130e9" d="M216.4 132.4l3 1.4 -3.1-2.8 -2.9-2z"/><path color="#2830e9" d="M207.5 122.3l1.4 1.8 -1.5-2 -1.4-1.9z"/><path color="#92c950" d="M162.9 85.1l1.6 1.5 -1.4-3 -1.6-1.3z"/><path color="#63c950" d="M168.8 91.7l3 1.5 -2.8-3.6 -3-1.7z"/><path color="#4430e9" d="M210.4 126.1l1.5 1.6 -1.5-1.9 -1.5-1.7z"/><path color="#28c9e4" d="M197.1 107.7l1.5 2.1 -1.5-2.1 -1.4-1.9z"/><path color="#42c950" d="M177.7 95.1l3.1 0 -2.9-1.6 -3 0z"/><path color="#289ae9" d="M200.1 111.9l1.5 2.1 -1.5-2.1 -1.5-2.1z"/><path color="#b0c950" d="M158.5 79.2l1.5 1.6 -1.4-3.2 -1.5-1.1z"/><path color="#79c950" d="M165.8 88.8l1.6 1.3 -1.4-2.2 -1.5-1.3z"/><path color="#5d30e9" d="M213.4 129.5l1.5 1.2 -1.5-1.7 -1.5-1.3z"/><path color="#2864e9" d="M203 116.2l1.5 2 -1.5-2.1 -1.4-2.1z"/><path color="#2ac950" d="M186.7 97.3l3 1.9 -2.9-2.6 -3-1.2z"/><path color="#28c999" d="M192.7 102.2l1.5 1.7 -1.5-1.8 -1.5-1.5z"/><path color="#9bc950" d="M161.4 83.3l1.5 1.8 -1.4-2.8 -1.5-1.5z"/><path color="#2841e9" d="M206 120.4l1.5 1.9 -1.5-2.1 -1.5-2z"/><path color="#7130dc" d="M222.4 136.3l3-.2 -3.1-1.8 -2.9-.5z"/><path color="#3430e9" d="M209 124.4l1.4 1.7 -1.5-2 -1.4-1.8z"/><path color="#28c9c7" d="M195.6 105.8l1.5 1.9 -1.4-1.9 -1.5-1.9z"/><path color="#b8c950" d="M156.9 77.6l1.6 1.6 -1.4-2.7 -1.6-1.1z"/><path color="#89c950" d="M164.3 87.2l1.5 1.6 -1.3-2.2 -1.6-1.5z"/><path color="#4f30e9" d="M211.9 128.1l1.5 1.4 -1.5-1.8 -1.5-1.6z"/><path color="#28bbe9" d="M198.6 109.8l1.5 2.1 -1.5-2.1 -1.5-2.1z"/><path color="#48c950" d="M174.7 94.7l3 .4 -2.8-1.6 -3.1-.3z"/><path color="#28c97d" d="M191.2 100.7l1.5 1.5 -1.5-1.6 -1.5-1.4z"/><path color="#2885e9" d="M201.6 114l1.4 2.2 -1.4-2.2 -1.5-2.1z"/><path color="#a5c950" d="M159.8 81.4l1.6 1.9 -1.4-2.5 -1.5-1.6z"/><path color="#6630e9" d="M214.9 131.3l1.5 1.1 -1.5-1.7 -1.5-1.2z"/><path color="#6cc950" d="M167.2 90.4l1.6 1.3 -1.4-1.6 -1.6-1.3z"/><path color="#2852e9" d="M204.5 118.4l1.5 2 -1.5-2.2 -1.5-2z"/><path color="#7f00fb" d="M231.6 135.4l3-3.2 -3.2 .4 -3 2.3z"/><path color="#bfc950" d="M155.3 76l1.6 1.6 -1.4-2.2 -1.5-1.1z"/><path color="#28c9aa" d="M194.1 103.9l1.5 1.9 -1.4-1.9 -1.5-1.7z"/><path color="#2835e9" d="M207.5 122.6l1.5 1.8 -1.5-2.1 -1.5-1.9z"/><path color="#39c950" d="M183.7 96.3l3 1 -2.9-1.9 -3-.3z"/><path color="#93c950" d="M162.8 85.2l1.5 2 -1.4-2.1 -1.5-1.8z"/><path color="#3f30e9" d="M210.5 126.5l1.4 1.6 -1.5-2 -1.4-1.7z"/><path color="#28c9d8" d="M197.1 107.7l1.5 2.1 -1.5-2.1 -1.5-1.9z"/><path color="#7330e3" d="M219.5 135.6l2.9 .7 -3-2.5 -3-1.4z"/><path color="#afc950" d="M158.3 79.3l1.5 2.1 -1.3-2.2 -1.6-1.6z"/><path color="#71a57a" d="M165.7 88.6l1.5 1.8 -1.4-1.6 -1.5-1.6z"/><path color="#5930e9" d="M213.5 130l1.4 1.3 -1.5-1.8 -1.5-1.4z"/><path color="#28a6e9" d="M200.1 111.9l1.5 2.1 -1.5-2.1 -1.5-2.1z"/><path color="#7a00ea" d="M228.6 137.6l3-2.2 -3.2-.5 -3 1.2z"/><path color="#2870e9" d="M203 116.2l1.5 2.2 -1.5-2.2 -1.4-2.2z"/><path color="#56c950" d="M171.6 93.1l3.1 1.6 -2.9-1.5 -3-1.5z"/><path color="#28c98c" d="M192.6 102.2l1.5 1.7 -1.4-1.7 -1.5-1.5z"/><path color="#89a57a" d="M161.2 83l1.6 2.2 -1.4-1.9 -1.6-1.9z"/><path color="#2847e9" d="M206 120.6l1.5 2 -1.5-2.2 -1.5-2z"/><path color="#2e30e9" d="M209 124.7l1.5 1.8 -1.5-2.1 -1.5-1.8z"/><path color="#9da57a" d="M156.7 77.2l1.6 2.1 -1.4-1.7 -1.6-1.6z"/><path color="#34a5c7" d="M195.6 105.7l1.5 2 -1.5-1.9 -1.5-1.9z"/><path color="#42c950" d="M180.6 95.7l3.1 .6 -2.9-1.2 -3.1 0z"/><path color="#7da57a" d="M164.2 86.5l1.5 2.1 -1.4-1.4 -1.5-2z"/><path color="#28c960" d="M189.6 99.5l3 2.7 -2.9-3 -3-1.9z"/><path color="#4a30e9" d="M212 128.6l1.5 1.4 -1.6-1.9 -1.4-1.6z"/><path color="#34a3e8" d="M198.6 109.7l1.5 2.2 -1.5-2.1 -1.5-2.1z"/><path color="#7030d9" d="M225.6 138.7l3-1.1 -3.2-1.5 -3 .2z"/><path color="#a29b7a" d="M153.6 73.1l3.1 4.1 -2.7-2.9 -3.1-2.1z"/><path color="#2892e9" d="M201.6 114.1l1.4 2.1 -1.4-2.2 -1.5-2.1z"/><path color="#91a57a" d="M159.7 80.6l1.5 2.4 -1.4-1.6 -1.5-2.1z"/><path color="#285be9" d="M204.5 118.5l1.5 2.1 -1.5-2.2 -1.5-2.2z"/><path color="#6c30e9" d="M216.5 133.9l3 1.7 -3.1-3.2 -2.9-2.4z"/><path color="#6b00ff" d="M234.7 133.7l1.5-2.2 -1.6 .7 -1.5 1.8z"/><path color="#283be9" d="M207.5 122.8l1.5 1.9 -1.5-2.1 -1.5-2z"/><path color="#34a5b1" d="M194.1 103.9l1.5 1.8 -1.5-1.8 -1.5-1.7z"/><path color="#85a57a" d="M162.6 84l1.6 2.5 -1.4-1.3 -1.6-2.2z"/><path color="#8000ff" d="M233.2 135.5l1.5-1.8 -1.6 .3 -1.5 1.4z"/><path color="#68a57a" d="M168.5 89.8l3.1 3.3 -2.8-1.4 -3.1-3.1z"/><path color="#3a30e9" d="M210.5 126.9l1.5 1.7 -1.5-2.1 -1.5-1.8z"/><path color="#34a5d3" d="M197.1 107.6l1.5 2.1 -1.5-2 -1.5-2z"/><path color="#4da57a" d="M177.5 94.8l3.1 .9 -2.9-.6 -3-.4z"/><path color="#5530e9" d="M213.5 130.6l1.5 1.3 -1.5-1.9 -1.5-1.4z"/><path color="#9aa57a" d="M158.1 78.1l1.6 2.5 -1.4-1.3 -1.6-2.1z"/><path color="#3495e8" d="M200.1 111.9l1.5 2.2 -1.5-2.2 -1.5-2.2z"/><path color="#7ba57a" d="M165.6 87.2l1.5 2.3 -1.4-.9 -1.5-2.1z"/><path color="#35c950" d="M186.6 97.5l3 2 -2.9-2.2 -3-1z"/><path color="#287ce9" d="M203 116.3l1.5 2.2 -1.5-2.3 -1.4-2.1z"/><path color="#7130db" d="M222.6 138.7l3 0 -3.2-2.4 -2.9-.7z"/><path color="#34a59b" d="M192.6 102.2l1.5 1.7 -1.5-1.7 -1.5-1.5z"/><path color="#284de9" d="M206 120.8l1.5 2 -1.5-2.2 -1.5-2.1z"/><path color="#8fa57a" d="M161 81.4l1.6 2.6 -1.4-1 -1.5-2.4z"/><path color="#a2887a" d="M150.4 69.5l3.2 3.6 -2.7-.9 -3.2-2.2z"/><path color="#2930e9" d="M209 125.1l1.5 1.8 -1.5-2.2 -1.5-1.9z"/><path color="#34a5be" d="M195.6 105.6l1.5 2 -1.5-1.9 -1.5-1.8z"/><path color="#4630e9" d="M212 129.1l1.5 1.5 -1.5-2 -1.5-1.7z"/><path color="#a2a37a" d="M156.5 75.7l1.6 2.4 -1.4-.9 -1.5-2.1z"/><path color="#7c00f1" d="M231.7 138.7l3.1-3.4 -3.2 .1 -3 2.2z"/><path color="#5800ff" d="M236.3 133.1l1.5-2.5 -1.6 .9 -1.5 2.2z"/><path color="#84a57a" d="M164 84.7l1.6 2.5 -1.4-.7 -1.6-2.5z"/><path color="#34a5e0" d="M198.6 109.7l1.5 2.2 -1.5-2.2 -1.5-2.1z"/><path color="#6030e9" d="M215 132.7l1.5 1.2 -1.5-2 -1.5-1.3z"/><path color="#58a57a" d="M174.5 92.8l3 2 -2.8-.1 -3.1-1.6z"/><path color="#7300ff" d="M234.8 135.3l1.5-2.2 -1.6 .6 -1.5 1.8z"/><path color="#34a587" d="M191.1 100.7l1.5 1.5 -1.5-1.5 -1.5-1.2z"/><path color="#3486e8" d="M201.6 114.1l1.4 2.2 -1.4-2.2 -1.5-2.2z"/><path color="#2866e9" d="M204.5 118.6l1.5 2.2 -1.5-2.3 -1.5-2.2z"/><path color="#99a57a" d="M159.5 78.7l1.5 2.7 -1.3-.8 -1.6-2.5z"/><path color="#62a57a" d="M171.5 91.7l1.5 1.5 -1.4-.1 -1.5-1.4z"/><path color="#2840e9" d="M207.5 123.1l1.5 2 -1.5-2.3 -1.5-2z"/><path color="#7ba57a" d="M167 87.5l1.5 2.3 -1.4-.3 -1.5-2.3z"/><path color="#49a57a" d="M183.5 95.8l3.1 1.7 -2.9-1.2 -3.1-.6z"/><path color="#34a5a6" d="M194.1 103.7l1.5 1.9 -1.5-1.7 -1.5-1.7z"/><path color="#a2967a" d="M155 73.3l1.5 2.4 -1.3-.6 -1.6-2z"/><path color="#7330e3" d="M219.6 137.7l3 1 -3.1-3.1 -3-1.7z"/><path color="#3630e9" d="M210.5 127.3l1.5 1.8 -1.5-2.2 -1.5-1.8z"/><path color="#7700e1" d="M228.7 140.9l3-2.2 -3.1-1.1 -3 1.1z"/><path color="#8ea57a" d="M162.4 81.9l1.6 2.8 -1.4-.7 -1.6-2.6z"/><path color="#34a5ca" d="M197.1 107.5l1.5 2.2 -1.5-2.1 -1.5-2z"/><path color="#5230e9" d="M213.5 131.3l1.5 1.4 -1.5-2.1 -1.5-1.5z"/><path color="#a2777a" d="M147.3 66.8l3.1 2.7 -2.7 .5 -3.1-2.3z"/><path color="#349ee8" d="M200.1 111.8l1.5 2.3 -1.5-2.2 -1.5-2.2z"/><path color="#70a57a" d="M169.9 89.8l1.6 1.9 -1.4 0 -1.6-1.9z"/><path color="#6b30e9" d="M216.6 134.7l1.4 1.1 -1.5-1.9 -1.5-1.2z"/><path color="#a2a37a" d="M157.9 76l1.6 2.7 -1.4-.6 -1.6-2.4z"/><path color="#2888e9" d="M203 116.3l1.5 2.3 -1.5-2.3 -1.4-2.2z"/><path color="#34a590" d="M192.6 102l1.5 1.7 -1.5-1.5 -1.5-1.5z"/><path color="#84a57a" d="M165.4 84.9l1.6 2.6 -1.4-.3 -1.6-2.5z"/><path color="#a2897a" d="M153.4 71.2l1.6 2.1 -1.4-.2 -1.6-1.9z"/><path color="#2852e9" d="M206 120.9l1.5 2.2 -1.5-2.3 -1.5-2.2z"/><path color="#4200ff" d="M237.9 132.4l1.6-3 -1.7 1.2 -1.5 2.5z"/><path color="#2834e9" d="M209 125.4l1.5 1.9 -1.5-2.2 -1.5-2z"/><path color="#6300ff" d="M236.4 135.1l1.5-2.7 -1.6 .7 -1.5 2.2z"/><path color="#6f30d4" d="M225.7 141.8l3-.9 -3.1-2.2 -3 0z"/><path color="#4330e9" d="M212.1 129.6l1.4 1.7 -1.5-2.2 -1.5-1.8z"/><path color="#99a57a" d="M160.9 79.1l1.5 2.8 -1.4-.5 -1.5-2.7z"/><path color="#34a5b3" d="M195.6 105.4l1.5 2.1 -1.5-1.9 -1.5-1.9z"/><path color="#55a57a" d="M180.4 93.9l3.1 1.9 -2.9-.1 -3.1-.9z"/><path color="#7f00ff" d="M234.9 137.3l1.5-2.2 -1.6 .2 -1.5 1.9z"/><path color="#68a57a" d="M172.9 91.3l1.6 1.5 -1.5 .4 -1.5-1.5z"/><path color="#39a57a" d="M189.5 98.8l3.1 3.2 -3-2.5 -3-2z"/><path color="#5e30e9" d="M215.1 133.5l1.5 1.2 -1.6-2 -1.5-1.4z"/><path color="#7da57a" d="M168.4 87.4l1.5 2.4 -1.4 0 -1.5-2.3z"/><path color="#5ca57a" d="M177.4 93.5l1.6 .9 -1.5 .4 -1.5-.8z"/><path color="#34a5d7" d="M198.6 109.5l1.5 2.3 -1.5-2.1 -1.5-2.2z"/><path color="#a2957a" d="M156.3 73.5l1.6 2.5 -1.4-.3 -1.5-2.4z"/><path color="#7c00f1" d="M233.4 139.2l1.5-1.9 -1.6-.1 -1.6 1.5z"/><path color="#a27e7a" d="M151.8 69.2l1.6 2 -1.4 0 -1.6-1.7z"/><path color="#348fe8" d="M201.6 114l1.4 2.3 -1.4-2.2 -1.5-2.3z"/><path color="#a2677a" d="M144.1 65l3.2 1.8 -2.7 .9 -3.2-2.3z"/><path color="#7530e9" d="M218.1 136.8l1.5 .9 -1.6-1.9 -1.4-1.1z"/><path color="#8fa57a" d="M163.8 82.1l1.6 2.8 -1.4-.2 -1.6-2.8z"/><path color="#2872e9" d="M204.6 118.7l1.4 2.2 -1.5-2.3 -1.5-2.3z"/><path color="#2846e9" d="M207.6 123.3l1.4 2.1 -1.5-2.3 -1.5-2.2z"/><path color="#34a59a" d="M194 103.4l1.6 2 -1.5-1.7 -1.5-1.7z"/><path color="#3230e9" d="M210.6 127.8l1.5 1.8 -1.6-2.3 -1.5-1.9z"/><path color="#a2a27a" d="M159.3 76.2l1.6 2.9 -1.4-.4 -1.6-2.7z"/><path color="#75a57a" d="M171.4 89.3l1.5 2 -1.4 .4 -1.6-1.9z"/><path color="#64a57a" d="M175.9 92.2l1.5 1.3 -1.4 .5 -1.5-1.2z"/><path color="#5030e9" d="M213.6 132l1.5 1.5 -1.6-2.2 -1.4-1.7z"/><path color="#86a57a" d="M166.8 84.8l1.6 2.6 -1.4 .1 -1.6-2.6z"/><path color="#a2877a" d="M154.8 71.1l1.5 2.4 -1.3-.2 -1.6-2.1z"/><path color="#7030d8" d="M222.7 141.5l3 .3 -3.1-3.1 -3-1z"/><path color="#34a5bf" d="M197 107.2l1.6 2.3 -1.5-2 -1.5-2.1z"/><path color="#6a30e9" d="M216.6 135.7l1.5 1.1 -1.5-2.1 -1.5-1.2z"/><path color="#2900ff" d="M239.6 131.6l1.6-3.5 -1.7 1.3 -1.6 3z"/><path color="#34a5e4" d="M200.1 111.6l1.5 2.4 -1.5-2.2 -1.5-2.3z"/><path color="#5100ff" d="M238.1 134.6l1.5-3 -1.7 .8 -1.5 2.7z"/><path color="#9aa57a" d="M162.3 79.1l1.5 3 -1.4-.2 -1.5-2.8z"/><path color="#347fe8" d="M203.1 116.3l1.5 2.4 -1.6-2.4 -1.4-2.3z"/><path color="#7200ff" d="M236.5 137.3l1.6-2.7 -1.7 .5 -1.5 2.2z"/><path color="#7700e1" d="M231.9 142.8l3.1-3.3 -3.3-.8 -3 2.2z"/><path color="#4da57a" d="M186.5 95.8l3 3 -2.9-1.3 -3.1-1.7z"/><path color="#285ae9" d="M206.1 121.1l1.5 2.2 -1.6-2.4 -1.4-2.2z"/><path color="#6fa57a" d="M174.3 90.6l1.6 1.6 -1.4 .6 -1.6-1.5z"/><path color="#a2587a" d="M140.9 64l3.2 1 -2.7 .4 -3.2-2.1z"/><path color="#34a582" d="M192.5 101.5l1.5 1.9 -1.4-1.4 -1.6-1.7z"/><path color="#80a57a" d="M169.8 87l1.6 2.3 -1.5 .5 -1.5-2.4z"/><path color="#7d00f5" d="M235 139.5l1.5-2.2 -1.6 0 -1.5 1.9z"/><path color="#a2927a" d="M157.7 73.5l1.6 2.7 -1.4-.2 -1.6-2.5z"/><path color="#2838e9" d="M209.1 125.8l1.5 2 -1.6-2.4 -1.4-2.1z"/><path color="#63a57a" d="M178.9 92.8l1.5 1.1 -1.4 .5 -1.6-.9z"/><path color="#3f30e9" d="M212.1 130.2l1.5 1.8 -1.5-2.4 -1.5-1.8z"/><path color="#a27a7a" d="M153.2 69l1.6 2.1 -1.4 .1 -1.6-2z"/><path color="#91a57a" d="M165.3 81.9l1.5 2.9 -1.4 .1 -1.6-2.8z"/><path color="#34a5a5" d="M195.5 104.9l1.5 2.3 -1.4-1.8 -1.6-2z"/><path color="#5d30e9" d="M215.1 134.3l1.5 1.4 -1.5-2.2 -1.5-1.5z"/><path color="#a26d7a" d="M150 66l3.2 3 -2.8 .5 -3.1-2.7z"/><path color="#34a5cb" d="M198.5 109.1l1.6 2.5 -1.5-2.1 -1.6-2.3z"/><path color="#a2a07a" d="M160.7 76.2l1.6 2.9 -1.4 0 -1.6-2.9z"/><path color="#7300d3" d="M228.9 144.7l3-1.9 -3.2-1.9 -3 .9z"/><path color="#7ba57a" d="M172.8 88.6l1.5 2 -1.4 .7 -1.5-2z"/><path color="#349ae8" d="M201.6 113.8l1.5 2.5 -1.5-2.3 -1.5-2.4z"/><path color="#6da57a" d="M177.3 91.4l1.6 1.4 -1.5 .7 -1.5-1.3z"/><path color="#3da57a" d="M191 99.6l1.5 1.9 -1.5-1.2 -1.5-1.5z"/><path color="#7330e1" d="M219.7 140.1l3 1.4 -3.1-3.8 -3-2z"/><path color="#346fe8" d="M204.6 118.7l1.5 2.4 -1.5-2.4 -1.5-2.4z"/><path color="#89a57a" d="M168.2 84.4l1.6 2.6 -1.4 .4 -1.6-2.6z"/><path color="#a2837a" d="M156.1 70.9l1.6 2.6 -1.4 0 -1.5-2.4z"/><path color="#284be9" d="M207.6 123.6l1.5 2.2 -1.5-2.5 -1.5-2.2z"/><path color="#2d30e9" d="M210.6 128.3l1.5 1.9 -1.5-2.4 -1.5-2z"/><path color="#c14e50" d="M137.7 63.4l3.2 .6 -2.7-.7 -3.2-1.6z"/><path color="#9ca57a" d="M163.7 79l1.6 2.9 -1.5 .2 -1.5-3z"/><path color="#34a58a" d="M194 102.7l1.5 2.2 -1.5-1.5 -1.5-1.9z"/><path color="#3c00ff" d="M239.7 134.1l1.6-3.5 -1.7 1 -1.5 3z"/><path color="#0e00ff" d="M241.3 130.6l1.6-4.1 -1.7 1.6 -1.6 3.5z"/><path color="#4d30e9" d="M213.6 132.7l1.5 1.6 -1.5-2.3 -1.5-1.8z"/><path color="#6400ff" d="M238.2 137.2l1.5-3.1 -1.6 .5 -1.6 2.7z"/><path color="#61a57a" d="M183.4 92.8l3.1 3 -3 0 -3.1-1.9z"/><path color="#6a30e9" d="M216.7 136.7l1.5 1.2 -1.6-2.2 -1.5-1.4z"/><path color="#7f00fb" d="M236.6 139.8l1.6-2.6 -1.7 .1 -1.5 2.2z"/><path color="#79a57a" d="M175.8 89.7l1.5 1.7 -1.4 .8 -1.6-1.6z"/><path color="#a28f7a" d="M159.1 73.4l1.6 2.8 -1.4 0 -1.6-2.7z"/><path color="#34a5b1" d="M197 106.7l1.5 2.4 -1.5-1.9 -1.5-2.3z"/><path color="#84a57a" d="M171.2 86.3l1.6 2.3 -1.4 .7 -1.6-2.3z"/><path color="#6ca57a" d="M180.4 92l1.5 1.4 -1.5 .5 -1.5-1.1z"/><path color="#a2767a" d="M154.6 68.7l1.5 2.2 -1.3 .2 -1.6-2.1z"/><path color="#6d30cd" d="M225.9 145.2l3-.5 -3.2-2.9 -3-.3z"/><path color="#34a5d9" d="M200 111.2l1.6 2.6 -1.5-2.2 -1.6-2.5z"/><path color="#a25b7a" d="M146.8 64.4l3.2 1.6 -2.7 .8 -3.2-1.8z"/><path color="#94a57a" d="M166.7 81.5l1.5 2.9 -1.4 .4 -1.5-2.9z"/><path color="#348ae8" d="M203.1 116.1l1.5 2.6 -1.5-2.4 -1.5-2.5z"/><path color="#2865e9" d="M206.1 121.2l1.5 2.4 -1.5-2.5 -1.5-2.4z"/><path color="#283de9" d="M209.1 126.1l1.5 2.2 -1.5-2.5 -1.5-2.2z"/><path color="#3aa57a" d="M192.5 100.5l1.5 2.2 -1.5-1.2 -1.5-1.9z"/><path color="#3c30e9" d="M212.1 130.8l1.5 1.9 -1.5-2.5 -1.5-1.9z"/><path color="#a29c7a" d="M162.1 76l1.6 3 -1.4 .1 -1.6-2.9z"/><path color="#c14350" d="M134.5 63.1l3.2 .3 -2.7-1.7 -3.2-.8z"/><path color="#5c30e9" d="M215.2 135.2l1.5 1.5 -1.6-2.4 -1.5-1.6z"/><path color="#80a57a" d="M174.2 87.7l1.6 2 -1.5 .9 -1.5-2z"/><path color="#77a57a" d="M178.8 90.5l1.6 1.5 -1.5 .8 -1.6-1.4z"/><path color="#a2807a" d="M157.5 70.8l1.6 2.6 -1.4 .1 -1.6-2.6z"/><path color="#8da57a" d="M169.7 83.7l1.5 2.6 -1.4 .7 -1.6-2.6z"/><path color="#34a594" d="M195.5 104.2l1.5 2.5 -1.5-1.8 -1.5-2.2z"/><path color="#a2697a" d="M153 67l1.6 1.7 -1.4 .3 -1.6-1.7z"/><path color="#7430e8" d="M218.2 139l1.5 1.1 -1.5-2.2 -1.5-1.2z"/><path color="#7800e4" d="M235.2 144.5l3.1-4.6 -3.3-.4 -3.1 3.3z"/><path color="#50a57a" d="M189.4 96.2l3.1 4.3 -3-1.7 -3-3z"/><path color="#34a5be" d="M198.5 108.5l1.5 2.7 -1.5-2.1 -1.5-2.4z"/><path color="#9fa57a" d="M165.1 78.6l1.6 2.9 -1.4 .4 -1.6-2.9z"/><path color="#5400ff" d="M239.8 137l1.6-3.5 -1.7 .6 -1.5 3.1z"/><path color="#2600ff" d="M241.4 133.5l1.6-4.1 -1.7 1.2 -1.6 3.5z"/><path color="#34a5e8" d="M201.6 113.4l1.5 2.7 -1.5-2.3 -1.6-2.6z"/><path color="#7b00ff" d="M238.3 139.9l1.5-2.9 -1.6 .2 -1.6 2.6z"/><path color="#000dff" d="M243 129.4l1.6-4.6 -1.7 1.7 -1.6 4.1z"/><path color="#3479e8" d="M204.6 118.6l1.5 2.6 -1.5-2.5 -1.5-2.6z"/><path color="#a2507a" d="M143.6 63.9l3.2 .5 -2.7 .6 -3.2-1z"/><path color="#2851e9" d="M207.6 123.7l1.5 2.4 -1.5-2.5 -1.5-2.4z"/><path color="#6e30d3" d="M222.8 144.4l3.1 .8 -3.2-3.7 -3-1.4z"/><path color="#a28c7a" d="M160.5 73.2l1.6 2.8 -1.4 .2 -1.6-2.8z"/><path color="#2930e9" d="M210.6 128.7l1.5 2.1 -1.5-2.5 -1.5-2.2z"/><path color="#7100cc" d="M232.1 147.2l3.1-2.7 -3.3-1.7 -3 1.9z"/><path color="#7ea57a" d="M177.3 88.7l1.5 1.8 -1.5 .9 -1.5-1.7z"/><path color="#4b30e9" d="M213.7 133.4l1.5 1.8 -1.6-2.5 -1.5-1.9z"/><path color="#89a57a" d="M172.7 85.4l1.5 2.3 -1.4 .9 -1.6-2.3z"/><path color="#a25e7a" d="M151.4 65.6l1.6 1.4 -1.4 .3 -1.6-1.3z"/><path color="#63a57a" d="M186.4 94.1l1.5 1.8 -1.4-.1 -1.6-1.5z"/><path color="#75a57a" d="M181.8 91.2l1.6 1.6 -1.5 .6 -1.5-1.4z"/><path color="#a2727a" d="M155.9 68.5l1.6 2.3 -1.4 .1 -1.5-2.2z"/><path color="#6a30e9" d="M216.7 137.6l1.5 1.4 -1.5-2.3 -1.5-1.5z"/><path color="#98a57a" d="M168.1 81l1.6 2.7 -1.5 .7 -1.5-2.9z"/><path color="#36a57a" d="M194 101.7l1.5 2.5 -1.5-1.5 -1.5-2.2z"/><path color="#7230df" d="M219.8 141.3l1.5 1 -1.6-2.2 -1.5-1.1z"/><path color="#a2987a" d="M163.5 75.7l1.6 2.9 -1.4 .4 -1.6-3z"/><path color="#34a59f" d="M197 105.8l1.5 2.7 -1.5-1.8 -1.5-2.5z"/><path color="#34a5cc" d="M200 110.6l1.6 2.8 -1.6-2.2 -1.5-2.7z"/><path color="#a27c7a" d="M158.9 70.6l1.6 2.6 -1.4 .2 -1.6-2.6z"/><path color="#3495e8" d="M203.1 115.8l1.5 2.8 -1.5-2.5 -1.5-2.7z"/><path color="#86a57a" d="M175.7 86.6l1.6 2.1 -1.5 1 -1.6-2z"/><path color="#7da57a" d="M180.3 89.5l1.5 1.7 -1.4 .8 -1.6-1.5z"/><path color="#70a57a" d="M184.9 92.3l1.5 1.8 -1.5 .2 -1.5-1.5z"/><path color="#3466e8" d="M206.1 121.1l1.5 2.6 -1.5-2.5 -1.5-2.6z"/><path color="#a2647a" d="M154.4 66.7l1.5 1.8 -1.3 .2 -1.6-1.7z"/><path color="#2842e9" d="M209.1 126.4l1.5 2.3 -1.5-2.6 -1.5-2.4z"/><path color="#a24a7a" d="M140.4 63.9l3.2 0 -2.7 .1 -3.2-.6z"/><path color="#92a57a" d="M171.1 82.9l1.6 2.5 -1.5 .9 -1.5-2.6z"/><path color="#6d00c2" d="M229.1 148.4l3-1.2 -3.2-2.5 -3 .5z"/><path color="#3930e9" d="M212.2 131.4l1.5 2 -1.6-2.6 -1.5-2.1z"/><path color="#5a30e9" d="M215.2 136l1.5 1.6 -1.5-2.4 -1.5-1.8z"/><path color="#a2a37a" d="M166.5 78.2l1.6 2.8 -1.4 .5 -1.6-2.9z"/><path color="#47a57a" d="M192.5 99.2l1.5 2.5 -1.5-1.2 -1.5-2.1z"/><path color="#4300ff" d="M241.5 136.6l1.6-3.9 -1.7 .8 -1.6 3.5z"/><path color="#6f00ff" d="M239.9 140l1.6-3.4 -1.7 .4 -1.5 2.9z"/><path color="#7430e7" d="M218.3 140l1.5 1.3 -1.6-2.3 -1.5-1.4z"/><path color="#0f00ff" d="M243.1 132.7l1.6-4.5 -1.7 1.2 -1.6 4.1z"/><path color="#7c00f2" d="M238.4 142.8l1.5-2.8 -1.6-.1 -1.6 2.5z"/><path color="#a2887a" d="M161.9 72.9l1.6 2.8 -1.4 .3 -1.6-2.8z"/><path color="#0029ff" d="M244.7 128.2l1.6-5.1 -1.7 1.7 -1.6 4.6z"/><path color="#7600dd" d="M236.8 145.1l1.6-2.3 -1.7-.4 -1.5 2.1z"/><path color="#7030d7" d="M221.3 143.5l1.5 .9 -1.5-2.1 -1.5-1z"/><path color="#34a57f" d="M195.5 103l1.5 2.8 -1.5-1.6 -1.5-2.5z"/><path color="#67a57a" d="M187.9 94.1l1.5 2.1 -1.5-.3 -1.5-1.8z"/><path color="#a2587a" d="M152.8 65.3l1.6 1.4 -1.4 .3 -1.6-1.4z"/><path color="#a26d7a" d="M157.3 68.3l1.6 2.3 -1.4 .2 -1.6-2.3z"/><path color="#84a57a" d="M178.7 87.6l1.6 1.9 -1.5 1 -1.5-1.8z"/><path color="#7ba57a" d="M183.3 90.4l1.6 1.9 -1.5 .5 -1.6-1.6z"/><path color="#8ea57a" d="M174.1 84.4l1.6 2.2 -1.5 1.1 -1.5-2.3z"/><path color="#34a5ad" d="M198.5 107.6l1.5 3 -1.5-2.1 -1.5-2.7z"/><path color="#a24f7a" d="M149.6 63.6l3.2 1.7 -2.8 .7 -3.2-1.6z"/><path color="#9ca57a" d="M169.5 80.3l1.6 2.6 -1.4 .8 -1.6-2.7z"/><path color="#34a5da" d="M201.6 112.8l1.5 3 -1.5-2.4 -1.6-2.8z"/><path color="#3483e8" d="M204.6 118.3l1.5 2.8 -1.5-2.5 -1.5-2.8z"/><path color="#2858e9" d="M207.6 123.8l1.5 2.6 -1.5-2.7 -1.5-2.6z"/><path color="#2833e9" d="M210.7 129.1l1.5 2.3 -1.6-2.7 -1.5-2.3z"/><path color="#c14550" d="M137.2 64l3.2-.1 -2.7-.5 -3.2-.3z"/><path color="#4930e9" d="M213.7 134.1l1.5 1.9 -1.5-2.6 -1.5-2z"/><path color="#a2937a" d="M164.9 75.3l1.6 2.9 -1.4 .4 -1.6-2.9z"/><path color="#6930e9" d="M216.8 138.5l1.5 1.5 -1.6-2.4 -1.5-1.6z"/><path color="#59a57a" d="M190.9 96.7l1.6 2.5 -1.5-.8 -1.6-2.2z"/><path color="#6b30c6" d="M226 148.2l3.1 .2 -3.2-3.2 -3.1-.8z"/><path color="#7230de" d="M219.8 142.4l1.5 1.1 -1.5-2.2 -1.5-1.3z"/><path color="#a2787a" d="M160.3 70.3l1.6 2.6 -1.4 .3 -1.6-2.6z"/><path color="#76a57a" d="M186.3 92l1.6 2.1 -1.5 0 -1.5-1.8z"/><path color="#a25e7a" d="M155.7 66.4l1.6 1.9 -1.4 .2 -1.5-1.8z"/><path color="#82a57a" d="M181.8 88.5l1.5 1.9 -1.5 .8 -1.5-1.7z"/><path color="#8ca57a" d="M177.2 85.5l1.5 2.1 -1.4 1.1 -1.6-2.1z"/><path color="#44a57a" d="M194 100.2l1.5 2.8 -1.5-1.3 -1.5-2.5z"/><path color="#98a57a" d="M172.6 82l1.5 2.4 -1.4 1 -1.6-2.5z"/><path color="#7000c9" d="M235.4 149.2l3.1-3.6 -3.3-1.1 -3.1 2.7z"/><path color="#6200ff" d="M241.6 139.9l1.6-3.7 -1.7 .4 -1.6 3.4z"/><path color="#a29d7a" d="M168 77.6l1.5 2.7 -1.4 .7 -1.6-2.8z"/><path color="#7e00f8" d="M240 143l1.6-3.1 -1.7 .1 -1.5 2.8z"/><path color="#3100ff" d="M243.2 136.2l1.6-4.3 -1.7 .8 -1.6 3.9z"/><path color="#34a58a" d="M197 104.6l1.5 3 -1.5-1.8 -1.5-2.8z"/><path color="#7700e1" d="M238.5 145.6l1.5-2.6 -1.6-.2 -1.6 2.3z"/><path color="#34a5bc" d="M200.1 109.7l1.5 3.1 -1.6-2.2 -1.5-3z"/><path color="#0008ff" d="M244.8 131.9l1.6-5 -1.7 1.3 -1.6 4.5z"/><path color="#2848e9" d="M209.2 126.7l1.5 2.4 -1.6-2.7 -1.5-2.6z"/><path color="#3530e9" d="M212.2 131.9l1.5 2.2 -1.5-2.7 -1.5-2.3z"/><path color="#a2457a" d="M146.3 63.1l3.3 .5 -2.8 .8 -3.2-.5z"/><path color="#3470e8" d="M206.1 121l1.5 2.8 -1.5-2.7 -1.5-2.8z"/><path color="#34a2e8" d="M203.1 115.3l1.5 3 -1.5-2.5 -1.5-3z"/><path color="#a2837a" d="M163.4 72.6l1.5 2.7 -1.4 .4 -1.6-2.8z"/><path color="#5930e9" d="M215.3 136.8l1.5 1.7 -1.6-2.5 -1.5-1.9z"/><path color="#6aa57a" d="M189.4 94.3l1.5 2.4 -1.5-.5 -1.5-2.1z"/><path color="#7430e7" d="M218.3 141l1.5 1.4 -1.5-2.4 -1.5-1.5z"/><path color="#004aff" d="M246.4 126.9l1.6-5.7 -1.7 1.9 -1.6 5.1z"/><path color="#a2527a" d="M154.1 64.9l1.6 1.5 -1.3 .3 -1.6-1.4z"/><path color="#a2687a" d="M158.8 68l1.5 2.3 -1.4 .3 -1.6-2.3z"/><path color="#7fa57a" d="M184.8 89.8l1.5 2.2 -1.4 .3 -1.6-1.9z"/><path color="#8aa57a" d="M180.2 86.5l1.6 2 -1.5 1 -1.6-1.9z"/><path color="#94a57a" d="M175.6 83.3l1.6 2.2 -1.5 1.1 -1.6-2.2z"/><path color="#6900b7" d="M232.3 151l3.1-1.8 -3.3-2 -3 1.2z"/><path color="#a1a57a" d="M171 79.5l1.6 2.5 -1.5 .9 -1.6-2.6z"/><path color="#58a57a" d="M192.4 97.5l1.6 2.7 -1.5-1 -1.6-2.5z"/><path color="#6d30d0" d="M223 146.7l3 1.5 -3.2-3.8 -3-2z"/><path color="#a28d7a" d="M166.4 74.9l1.6 2.7 -1.5 .6 -1.6-2.9z"/><path color="#40a57a" d="M195.5 101.6l1.5 3 -1.5-1.6 -1.5-2.8z"/><path color="#a2737a" d="M161.8 70l1.6 2.6 -1.5 .3 -1.6-2.6z"/><path color="#7aa57a" d="M187.9 91.8l1.5 2.5 -1.5-.2 -1.6-2.1z"/><path color="#2838e9" d="M210.7 129.6l1.5 2.3 -1.5-2.8 -1.5-2.4z"/><path color="#4630e9" d="M213.8 134.7l1.5 2.1 -1.6-2.7 -1.5-2.2z"/><path color="#2864e9" d="M207.7 123.9l1.5 2.8 -1.6-2.9 -1.5-2.8z"/><path color="#34a598" d="M198.5 106.5l1.6 3.2 -1.6-2.1 -1.5-3z"/><path color="#a2587a" d="M157.2 66.1l1.6 1.9 -1.5 .3 -1.6-1.9z"/><path color="#a2417a" d="M143.1 63.3l3.2-.2 -2.7 .8 -3.2 0z"/><path color="#348fe8" d="M204.6 118l1.5 3 -1.5-2.7 -1.5-3z"/><path color="#6830e9" d="M216.8 139.4l1.5 1.6 -1.5-2.5 -1.5-1.7z"/><path color="#34a5cc" d="M201.6 112.1l1.5 3.2 -1.5-2.5 -1.5-3.1z"/><path color="#87a57a" d="M183.2 87.7l1.6 2.1 -1.5 .6 -1.5-1.9z"/><path color="#92a57a" d="M178.6 84.4l1.6 2.1 -1.5 1.1 -1.5-2.1z"/><path color="#7230de" d="M219.9 143.4l1.5 1.2 -1.6-2.2 -1.5-1.4z"/><path color="#9da57a" d="M174 81l1.6 2.3 -1.5 1.1 -1.5-2.4z"/><path color="#8000ff" d="M241.7 143.1l1.6-3.4 -1.7 .2 -1.6 3.1z"/><path color="#5300ff" d="M243.3 139.7l1.6-4.1 -1.7 .6 -1.6 3.7z"/><path color="#7900e6" d="M240.1 145.8l1.6-2.7 -1.7-.1 -1.5 2.6z"/><path color="#1d00ff" d="M244.9 135.6l1.6-4.6 -1.7 .9 -1.6 4.3z"/><path color="#a2977a" d="M169.4 76.9l1.6 2.6 -1.5 .8 -1.5-2.7z"/><path color="#6ba57a" d="M190.9 94.7l1.5 2.8 -1.5-.8 -1.5-2.4z"/><path color="#6800b5" d="M229.2 151.3l3.1-.3 -3.2-2.6 -3.1-.2z"/><path color="#0020ff" d="M246.5 131l1.6-5.4 -1.7 1.3 -1.6 5z"/><path color="#a27e7a" d="M164.8 72.2l1.6 2.7 -1.5 .4 -1.5-2.7z"/><path color="#a24c7a" d="M155.6 64.5l1.6 1.6 -1.5 .3 -1.6-1.5z"/><path color="#a2637a" d="M160.2 67.7l1.6 2.3 -1.5 .3 -1.5-2.3z"/><path color="#83a57a" d="M186.3 89.4l1.6 2.4 -1.6 .2 -1.5-2.2z"/><path color="#55a57a" d="M194 98.5l1.5 3.1 -1.5-1.4 -1.6-2.7z"/><path color="#007eff" d="M248.1 125.6l1.7-6.2 -1.8 1.8 -1.6 5.7z"/><path color="#3130e9" d="M212.2 132.5l1.6 2.2 -1.6-2.8 -1.5-2.3z"/><path color="#a2427a" d="M152.3 62.5l3.3 2 -2.8 .8 -3.2-1.7z"/><path color="#8fa57a" d="M181.7 85.6l1.5 2.1 -1.4 .8 -1.6-2z"/><path color="#5630e9" d="M215.3 137.5l1.5 1.9 -1.5-2.6 -1.5-2.1z"/><path color="#284de9" d="M209.2 126.9l1.5 2.7 -1.5-2.9 -1.5-2.8z"/><path color="#a2407a" d="M139.9 63.8l3.2-.5 -2.7 .6 -3.2 .1z"/><path color="#9aa57a" d="M177.1 82.2l1.5 2.2 -1.4 1.1 -1.6-2.2z"/><path color="#39a57a" d="M197 103.3l1.5 3.2 -1.5-1.9 -1.5-3z"/><path color="#347be8" d="M206.1 120.9l1.6 3 -1.6-2.9 -1.5-3z"/><path color="#7430e8" d="M218.4 141.9l1.5 1.5 -1.6-2.4 -1.5-1.6z"/><path color="#a29e7a" d="M172.4 78.6l1.6 2.4 -1.4 1 -1.6-2.5z"/><path color="#34a5dd" d="M203.1 114.8l1.5 3.2 -1.5-2.7 -1.5-3.2z"/><path color="#34a5a8" d="M200.1 108.8l1.5 3.3 -1.5-2.4 -1.6-3.2z"/><path color="#a2877a" d="M167.8 74.3l1.6 2.6 -1.4 .7 -1.6-2.7z"/><path color="#6f30d6" d="M221.5 145.6l1.5 1.1 -1.6-2.1 -1.5-1.2z"/><path color="#7200cd" d="M238.7 150.3l3.1-4.3 -3.3-.4 -3.1 3.6z"/><path color="#7ca57a" d="M189.4 92l1.5 2.7 -1.5-.4 -1.5-2.5z"/><path color="#a26e7a" d="M163.2 69.7l1.6 2.5 -1.4 .4 -1.6-2.6z"/><path color="#a2537a" d="M158.6 65.7l1.6 2 -1.4 .3 -1.6-1.9z"/><path color="#8ca57a" d="M184.7 87.1l1.6 2.3 -1.5 .4 -1.6-2.1z"/><path color="#7400ff" d="M243.4 142.9l1.6-3.6 -1.7 .4 -1.6 3.4z"/><path color="#7a00ec" d="M241.8 146l1.6-3.1 -1.7 .2 -1.6 2.7z"/><path color="#4300ff" d="M245 139.3l1.6-4.3 -1.7 .6 -1.6 4.1z"/><path color="#98a57a" d="M180.1 83.4l1.6 2.2 -1.5 .9 -1.6-2.1z"/><path color="#6aa57a" d="M192.4 95.5l1.6 3 -1.6-1 -1.5-2.8z"/><path color="#6930c3" d="M226.2 150.4l3 .9 -3.2-3.1 -3-1.5z"/><path color="#a2a37a" d="M175.5 80l1.6 2.2 -1.5 1.1 -1.6-2.3z"/><path color="#4330e9" d="M213.8 135.4l1.5 2.1 -1.5-2.8 -1.6-2.2z"/><path color="#0800ff" d="M246.6 135l1.6-5 -1.7 1 -1.6 4.6z"/><path color="#283ce9" d="M210.7 130l1.5 2.5 -1.5-2.9 -1.5-2.7z"/><path color="#6630e9" d="M216.9 140.2l1.5 1.7 -1.6-2.5 -1.5-1.9z"/><path color="#a28f7a" d="M170.9 76.2l1.5 2.4 -1.4 .9 -1.6-2.6z"/><path color="#6800b4" d="M235.6 152.7l3.1-2.4 -3.3-1.1 -3.1 1.8z"/><path color="#2870e9" d="M207.7 124l1.5 2.9 -1.5-3 -1.6-3z"/><path color="#50a57a" d="M195.5 100l1.5 3.3 -1.5-1.7 -1.5-3.1z"/><path color="#7230df" d="M220 144.3l1.5 1.3 -1.6-2.2 -1.5-1.5z"/><path color="#a23a7a" d="M149.1 61.7l3.2 .8 -2.7 1.1 -3.3-.5z"/><path color="#a2787a" d="M166.2 71.8l1.6 2.5 -1.4 .6 -1.6-2.7z"/><path color="#349ce8" d="M204.6 117.7l1.5 3.2 -1.5-2.9 -1.5-3.2z"/><path color="#0037ff" d="M248.2 130l1.7-5.8 -1.8 1.4 -1.6 5.4z"/><path color="#34a580" d="M198.5 105.4l1.6 3.4 -1.6-2.3 -1.5-3.2z"/><path color="#34a5bc" d="M201.6 111.4l1.5 3.4 -1.5-2.7 -1.5-3.3z"/><path color="#a25d7a" d="M161.6 67.4l1.6 2.3 -1.4 .3 -1.6-2.3z"/><path color="#a2467a" d="M157 64.1l1.6 1.6 -1.4 .4 -1.6-1.6z"/><path color="#86a57a" d="M187.8 89.3l1.6 2.7 -1.5-.2 -1.6-2.4z"/><path color="#6d30cf" d="M223.1 147.7l1.5 1 -1.6-2 -1.5-1.1z"/><path color="#94a57a" d="M183.2 84.8l1.5 2.3 -1.5 .6 -1.5-2.1z"/><path color="#00b2ff" d="M249.9 124.2l1.6-6.6 -1.7 1.8 -1.7 6.2z"/><path color="#a0a57a" d="M178.5 81.2l1.6 2.2 -1.5 1 -1.5-2.2z"/><path color="#a2967a" d="M173.9 77.7l1.6 2.3 -1.5 1 -1.6-2.4z"/><path color="#7ca57a" d="M190.9 92.5l1.5 3 -1.5-.8 -1.5-2.7z"/><path color="#a2817a" d="M169.3 73.7l1.6 2.5 -1.5 .7 -1.6-2.6z"/><path color="#5430e9" d="M215.4 138.2l1.5 2 -1.6-2.7 -1.5-2.1z"/><path color="#2e30e9" d="M212.3 133.1l1.5 2.3 -1.6-2.9 -1.5-2.5z"/><path color="#2852e9" d="M209.2 127.3l1.5 2.7 -1.5-3.1 -1.5-2.9z"/><path color="#7530e9" d="M218.5 142.7l1.5 1.6 -1.6-2.4 -1.5-1.7z"/><path color="#a2687a" d="M164.6 69.4l1.6 2.4 -1.4 .4 -1.6-2.5z"/><path color="#6500ac" d="M232.5 153.5l3.1-.8 -3.3-1.7 -3.1 .3z"/><path color="#a24d7a" d="M160 65.4l1.6 2 -1.4 .3 -1.6-2z"/><path color="#3485e8" d="M206.2 121l1.5 3 -1.6-3.1 -1.5-3.2z"/><path color="#67a57a" d="M193.9 96.7l1.6 3.3 -1.5-1.5 -1.6-3z"/><path color="#a23a7a" d="M145.9 61.8l3.2-.1 -2.8 1.4 -3.2 .2z"/><path color="#7030d7" d="M221.6 146.5l1.5 1.2 -1.6-2.1 -1.5-1.3z"/><path color="#6500ff" d="M245.1 142.6l1.6-3.8 -1.7 .5 -1.6 3.6z"/><path color="#8fa57a" d="M186.2 86.8l1.6 2.5 -1.5 .1 -1.6-2.3z"/><path color="#7d00f4" d="M243.5 145.8l1.6-3.2 -1.7 .3 -1.6 3.1z"/><path color="#34a5d0" d="M203.1 114.4l1.5 3.3 -1.5-2.9 -1.5-3.4z"/><path color="#48a57a" d="M197 101.9l1.5 3.5 -1.5-2.1 -1.5-3.3z"/><path color="#3000ff" d="M246.7 138.8l1.6-4.6 -1.7 .8 -1.6 4.3z"/><path color="#34a594" d="M200.1 107.9l1.5 3.5 -1.5-2.6 -1.6-3.4z"/><path color="#7600dc" d="M241.9 148.4l1.6-2.6 -1.7 .2 -1.6 2.4z"/><path color="#9da57a" d="M181.6 82.6l1.6 2.2 -1.5 .8 -1.6-2.2z"/><path color="#a29b7a" d="M177 79.1l1.5 2.1 -1.4 1 -1.6-2.2z"/><path color="#6b30c9" d="M224.7 149.5l1.5 .9 -1.6-1.7 -1.5-1z"/><path color="#000dff" d="M248.3 134.2l1.6-5.3 -1.7 1.1 -1.6 5z"/><path color="#7100ca" d="M240.4 150.5l1.5-2.1 -1.7 0 -1.5 1.9z"/><path color="#a2887a" d="M172.3 75.4l1.6 2.3 -1.5 .9 -1.5-2.4z"/><path color="#a2727a" d="M167.7 71.3l1.6 2.4 -1.5 .6 -1.6-2.5z"/><path color="#87a57a" d="M189.3 89.6l1.6 2.9 -1.5-.5 -1.6-2.7z"/><path color="#a2577a" d="M163 67.1l1.6 2.3 -1.4 .3 -1.6-2.3z"/><path color="#a2407a" d="M158.4 63.7l1.6 1.7 -1.4 .3 -1.6-1.6z"/><path color="#005bff" d="M249.9 128.9l1.7-6 -1.7 1.3 -1.7 5.8z"/><path color="#4030e9" d="M213.8 136.1l1.6 2.1 -1.6-2.8 -1.5-2.3z"/><path color="#6430e9" d="M216.9 141l1.6 1.7 -1.6-2.5 -1.5-2z"/><path color="#2840e9" d="M210.8 130.5l1.5 2.6 -1.6-3.1 -1.5-2.7z"/><path color="#7230e0" d="M220 145.1l1.6 1.4 -1.6-2.2 -1.5-1.6z"/><path color="#287ae9" d="M207.7 124.3l1.5 3 -1.5-3.3 -1.5-3z"/><path color="#a23a7a" d="M155.2 61.2l3.2 2.5 -2.8 .8 -3.3-2z"/><path color="#98a57a" d="M184.7 84.3l1.5 2.5 -1.5 .3 -1.5-2.3z"/><path color="#a23a7a" d="M142.6 62.6l3.3-.8 -2.8 1.5 -3.2 .5z"/><path color="#7ba57a" d="M192.4 93.5l1.5 3.2 -1.5-1.2 -1.5-3z"/><path color="#34a5e7" d="M204.6 117.7l1.6 3.3 -1.6-3.3 -1.5-3.3z"/><path color="#6800b3" d="M229.5 153l3 .5 -3.3-2.2 -3-.9z"/><path color="#a2a07a" d="M180 80.4l1.6 2.2 -1.5 .8 -1.6-2.2z"/><path color="#00e4ff" d="M251.6 122.9l1.7-7 -1.8 1.7 -1.6 6.6z"/><path color="#6e30d0" d="M223.2 148.5l1.5 1 -1.6-1.8 -1.5-1.2z"/><path color="#a28e7a" d="M175.4 76.9l1.6 2.2 -1.5 .9 -1.6-2.3z"/><path color="#34a5ab" d="M201.6 110.9l1.5 3.5 -1.5-3 -1.5-3.5z"/><path color="#61a57a" d="M195.5 98.5l1.5 3.4 -1.5-1.9 -1.6-3.3z"/><path color="#a27a7a" d="M170.7 73.1l1.6 2.3 -1.4 .8 -1.6-2.5z"/><path color="#3ea57a" d="M198.5 104.3l1.6 3.6 -1.6-2.5 -1.5-3.5z"/><path color="#a2627a" d="M166.1 69l1.6 2.3 -1.5 .5 -1.6-2.4z"/><path color="#a2477a" d="M161.4 65l1.6 2.1 -1.4 .3 -1.6-2z"/><path color="#91a57a" d="M187.8 86.9l1.5 2.7 -1.5-.3 -1.6-2.5z"/><path color="#8000fe" d="M245.2 145.5l1.6-3.3 -1.7 .4 -1.6 3.2z"/><path color="#5400ff" d="M246.8 142.2l1.6-4.1 -1.7 .7 -1.6 3.8z"/><path color="#6b00bb" d="M238.9 153.3l3.2-2.9 -3.4-.1 -3.1 2.4z"/><path color="#7800e5" d="M243.6 148.3l1.6-2.8 -1.7 .3 -1.6 2.6z"/><path color="#5230e9" d="M215.4 139l1.5 2 -1.5-2.8 -1.6-2.1z"/><path color="#2b30e9" d="M212.3 133.8l1.5 2.3 -1.5-3 -1.5-2.6z"/><path color="#1d00ff" d="M248.4 138.1l1.7-4.7 -1.8 .8 -1.6 4.6z"/><path color="#7330e9" d="M218.5 143.5l1.5 1.6 -1.5-2.4 -1.6-1.7z"/><path color="#2857e9" d="M209.2 127.8l1.6 2.7 -1.6-3.2 -1.5-3z"/><path color="#a1a57a" d="M183.1 82l1.6 2.3 -1.5 .5 -1.6-2.2z"/><path color="#7300d1" d="M242.1 150.4l1.5-2.1 -1.7 .1 -1.5 2.1z"/><path color="#a2937a" d="M178.5 78.3l1.5 2.1 -1.5 .8 -1.5-2.1z"/><path color="#0021ff" d="M250.1 133.4l1.6-5.5 -1.8 1 -1.6 5.3z"/><path color="#7030d8" d="M221.6 147.2l1.6 1.3 -1.6-2 -1.6-1.4z"/><path color="#87a57a" d="M190.8 90.4l1.6 3.1 -1.5-1 -1.6-2.9z"/><path color="#28a8e9" d="M206.2 121.2l1.5 3.1 -1.5-3.3 -1.6-3.3z"/><path color="#a2817a" d="M173.8 74.7l1.6 2.2 -1.5 .8 -1.6-2.3z"/><path color="#a26c7a" d="M169.1 70.8l1.6 2.3 -1.4 .6 -1.6-2.4z"/><path color="#a23a7a" d="M151.9 59.8l3.3 1.4 -2.9 1.3 -3.2-.8z"/><path color="#34a5c4" d="M203.1 114.3l1.5 3.4 -1.5-3.3 -1.5-3.5z"/><path color="#a2517a" d="M164.5 66.7l1.6 2.3 -1.5 .4 -1.6-2.3z"/><path color="#a23a7a" d="M159.8 63.2l1.6 1.8 -1.4 .4 -1.6-1.7z"/><path color="#79a57a" d="M193.9 95l1.6 3.5 -1.6-1.8 -1.5-3.2z"/><path color="#0087ff" d="M251.7 127.9l1.7-6.4 -1.8 1.4 -1.7 6z"/><path color="#34a581" d="M200.1 107.3l1.5 3.6 -1.5-3 -1.6-3.6z"/><path color="#57a57a" d="M197 100.8l1.5 3.5 -1.5-2.4 -1.5-3.4z"/><path color="#9ba57a" d="M186.2 84.2l1.6 2.7 -1.6-.1 -1.5-2.5z"/><path color="#6a30c6" d="M226.4 151.6l3.1 1.4 -3.3-2.6 -3-1.9z"/><path color="#6600af" d="M235.9 154.5l3-1.2 -3.3-.6 -3.1 .8z"/><path color="#3e30e9" d="M213.9 137l1.5 2 -1.6-2.9 -1.5-2.3z"/><path color="#6230e9" d="M217 141.8l1.5 1.7 -1.6-2.5 -1.5-2z"/><path color="#a2997a" d="M181.5 79.8l1.6 2.2 -1.5 .6 -1.6-2.2z"/><path color="#2843e9" d="M210.8 131.3l1.5 2.5 -1.5-3.3 -1.6-2.7z"/><path color="#a2867a" d="M176.9 76.2l1.6 2.1 -1.5 .8 -1.6-2.2z"/><path color="#00ffe9" d="M253.4 121.5l1.7-7.2 -1.8 1.6 -1.7 7z"/><path color="#7330e2" d="M220.1 145.8l1.5 1.4 -1.6-2.1 -1.5-1.6z"/><path color="#a2747a" d="M172.2 72.5l1.6 2.2 -1.5 .7 -1.6-2.3z"/><path color="#2882e9" d="M207.7 124.9l1.5 2.9 -1.5-3.5 -1.5-3.1z"/><path color="#a25b7a" d="M167.5 68.5l1.6 2.3 -1.4 .5 -1.6-2.3z"/><path color="#a23a7a" d="M158.2 61.7l1.6 1.5 -1.4 .5 -1.6-1.4z"/><path color="#92a57a" d="M189.3 87.4l1.5 3 -1.5-.8 -1.5-2.7z"/><path color="#a2417a" d="M162.9 64.6l1.6 2.1 -1.5 .4 -1.6-2.1z"/><path color="#28c9db" d="M204.7 117.9l1.5 3.3 -1.6-3.5 -1.5-3.4z"/><path color="#7000ff" d="M246.9 145l1.6-3.5 -1.7 .7 -1.6 3.3z"/><path color="#4100ff" d="M248.5 141.5l1.7-4.2 -1.8 .8 -1.6 4.1z"/><path color="#7b00ef" d="M245.4 147.8l1.5-2.8 -1.7 .5 -1.6 2.8z"/><path color="#a2397a" d="M148.6 59.7l3.3 .1 -2.8 1.9 -3.2 .1z"/><path color="#0700ff" d="M250.2 137.3l1.6-4.9 -1.7 1 -1.7 4.7z"/><path color="#85a57a" d="M192.4 91.7l1.5 3.3 -1.5-1.5 -1.6-3.1z"/><path color="#34a59d" d="M201.6 110.7l1.5 3.6 -1.5-3.4 -1.5-3.6z"/><path color="#7500db" d="M243.8 150.1l1.6-2.3 -1.8 .5 -1.5 2.1z"/><path color="#a2a17a" d="M184.6 81.8l1.6 2.4 -1.5 .1 -1.6-2.3z"/><path color="#4aa57a" d="M198.5 103.7l1.6 3.6 -1.6-3 -1.5-3.5z"/><path color="#70a57a" d="M195.4 97.2l1.6 3.6 -1.5-2.3 -1.6-3.5z"/><path color="#a28c7a" d="M180 77.7l1.5 2.1 -1.5 .6 -1.5-2.1z"/><path color="#0037ff" d="M251.8 132.4l1.7-5.7 -1.8 1.2 -1.6 5.5z"/><path color="#a27a7a" d="M175.3 74l1.6 2.2 -1.5 .7 -1.6-2.2z"/><path color="#5030e9" d="M215.5 140l1.5 1.8 -1.6-2.8 -1.5-2z"/><path color="#2930e9" d="M212.4 134.7l1.5 2.3 -1.6-3.2 -1.5-2.5z"/><path color="#a2397a" d="M156.6 60.4l1.6 1.3 -1.4 .6 -1.6-1.1z"/><path color="#a2657a" d="M170.6 70.3l1.6 2.2 -1.5 .6 -1.6-2.3z"/><path color="#7130e9" d="M218.6 144.3l1.5 1.5 -1.6-2.3 -1.5-1.7z"/><path color="#6700b1" d="M232.8 154.4l3.1 .1 -3.4-1 -3-.5z"/><path color="#a24b7a" d="M165.9 66.3l1.6 2.2 -1.4 .5 -1.6-2.3z"/><path color="#285be9" d="M209.3 128.6l1.5 2.7 -1.6-3.5 -1.5-2.9z"/><path color="#a23a7a" d="M161.2 62.7l1.7 1.9 -1.5 .4 -1.6-1.8z"/><path color="#9da57a" d="M187.7 84.6l1.6 2.8 -1.5-.5 -1.6-2.7z"/><path color="#00b2ff" d="M253.5 126.7l1.6-6.6 -1.7 1.4 -1.7 6.4z"/><path color="#28afe9" d="M206.2 121.8l1.5 3.1 -1.5-3.7 -1.5-3.3z"/><path color="#6f30d4" d="M223.3 149.6l3.1 2 -3.2-3.1 -3.1-2.7z"/><path color="#a2397a" d="M145.4 60.6l3.2-.9 -2.7 2.1 -3.3 .8z"/><path color="#a2937a" d="M183 79.5l1.6 2.3 -1.5 .2 -1.6-2.2z"/><path color="#28c9ab" d="M203.1 114.5l1.6 3.4 -1.6-3.6 -1.5-3.6z"/><path color="#91a57a" d="M190.8 88.5l1.6 3.2 -1.6-1.3 -1.5-3z"/><path color="#a2807a" d="M178.4 75.6l1.6 2.1 -1.5 .6 -1.6-2.1z"/><path color="#a26d7a" d="M173.7 71.9l1.6 2.1 -1.5 .7 -1.6-2.2z"/><path color="#00ffba" d="M255.1 120.1l1.7-7.4 -1.7 1.6 -1.7 7.2z"/><path color="#39a57a" d="M200.1 107.1l1.5 3.6 -1.5-3.4 -1.6-3.6z"/><path color="#a2547a" d="M169 68.1l1.6 2.2 -1.5 .5 -1.6-2.3z"/><path color="#a23a7a" d="M159.6 61l1.6 1.7 -1.4 .5 -1.6-1.5z"/><path color="#81a57a" d="M193.9 93.7l1.5 3.5 -1.5-2.2 -1.5-3.3z"/><path color="#3d30e9" d="M213.9 138l1.6 2 -1.6-3 -1.5-2.3z"/><path color="#a23b7a" d="M164.3 64.2l1.6 2.1 -1.4 .4 -1.6-2.1z"/><path color="#64a57a" d="M197 100l1.5 3.7 -1.5-2.9 -1.6-3.6z"/><path color="#7100cd" d="M242.4 152.8l3.1-3.3 -3.4 .9 -3.2 2.9z"/><path color="#6130e9" d="M217 142.8l1.6 1.5 -1.6-2.5 -1.5-1.8z"/><path color="#2844e9" d="M210.8 132.3l1.6 2.4 -1.6-3.4 -1.5-2.7z"/><path color="#5c00ff" d="M248.7 144.2l1.6-3.6 -1.8 .9 -1.6 3.5z"/><path color="#7f00fc" d="M247.1 147.1l1.6-2.9 -1.8 .8 -1.5 2.8z"/><path color="#2b00ff" d="M250.3 140.6l1.6-4.3 -1.7 1 -1.7 4.2z"/><path color="#7330e4" d="M220.2 146.6l1.5 1.3 -1.6-2.1 -1.5-1.5z"/><path color="#a29e7a" d="M186.1 82l1.6 2.6 -1.5-.4 -1.6-2.4z"/><path color="#2886e9" d="M207.7 125.7l1.6 2.9 -1.6-3.7 -1.5-3.1z"/><path color="#7900e7" d="M245.5 149.5l1.6-2.4 -1.7 .7 -1.6 2.3z"/><path color="#000fff" d="M251.9 136.3l1.7-5 -1.8 1.1 -1.6 4.9z"/><path color="#6c00bf" d="M229.7 153.4l3.1 1 -3.3-1.4 -3.1-1.4z"/><path color="#a2867a" d="M181.5 77.3l1.5 2.2 -1.5 .3 -1.5-2.1z"/><path color="#28c9d4" d="M204.7 118.5l1.5 3.3 -1.5-3.9 -1.6-3.4z"/><path color="#a2737a" d="M176.8 73.5l1.6 2.1 -1.5 .6 -1.6-2.2z"/><path color="#005aff" d="M253.6 131.3l1.6-5.8 -1.7 1.2 -1.7 5.7z"/><path color="#a2397a" d="M158 59.5l1.6 1.5 -1.4 .7 -1.6-1.3z"/><path color="#a25d7a" d="M172.1 69.8l1.6 2.1 -1.5 .6 -1.6-2.2z"/><path color="#9ca57a" d="M189.2 85.5l1.6 3 -1.5-1.1 -1.6-2.8z"/><path color="#a2447a" d="M167.4 65.9l1.6 2.2 -1.5 .4 -1.6-2.2z"/><path color="#a23a7a" d="M162.7 62.1l1.6 2.1 -1.4 .4 -1.7-1.9z"/><path color="#28c971" d="M201.6 110.9l1.5 3.6 -1.5-3.8 -1.5-3.6z"/><path color="#a2397a" d="M154.7 57.5l3.3 2 -2.8 1.7 -3.3-1.4z"/><path color="#6c00be" d="M239.3 154.3l3.1-1.5 -3.5 .5 -3 1.2z"/><path color="#5030e9" d="M215.5 141.1l1.5 1.7 -1.5-2.8 -1.6-2z"/><path color="#2930e9" d="M212.4 135.9l1.5 2.1 -1.5-3.3 -1.6-2.4z"/><path color="#8ea57a" d="M192.3 90.3l1.6 3.4 -1.5-2 -1.6-3.2z"/><path color="#53a57a" d="M198.5 103.4l1.6 3.7 -1.6-3.4 -1.5-3.7z"/><path color="#00deff" d="M255.2 125.5l1.7-6.7 -1.8 1.3 -1.6 6.6z"/><path color="#6f30e9" d="M218.6 145.3l1.6 1.3 -1.6-2.3 -1.6-1.5z"/><path color="#7ba57a" d="M195.4 96.4l1.6 3.6 -1.6-2.8 -1.5-3.5z"/><path color="#285de9" d="M209.3 129.7l1.5 2.6 -1.5-3.7 -1.6-2.9z"/><path color="#a2907a" d="M184.6 79.6l1.5 2.4 -1.5-.2 -1.6-2.3z"/><path color="#7130dd" d="M221.8 148.5l1.5 1.1 -1.6-1.7 -1.5-1.3z"/><path color="#a27a7a" d="M179.9 75.2l1.6 2.1 -1.5 .4 -1.6-2.1z"/><path color="#28b3e9" d="M206.2 122.6l1.5 3.1 -1.5-3.9 -1.5-3.3z"/><path color="#a2657a" d="M175.2 71.4l1.6 2.1 -1.5 .5 -1.6-2.1z"/><path color="#a24d7a" d="M170.5 67.6l1.6 2.2 -1.5 .5 -1.6-2.2z"/><path color="#00ff8b" d="M256.9 118.8l1.7-7.6 -1.8 1.5 -1.7 7.4z"/><path color="#a2397a" d="M161.1 60.2l1.6 1.9 -1.5 .6 -1.6-1.7z"/><path color="#a23a7a" d="M165.8 63.7l1.6 2.2 -1.5 .4 -1.6-2.1z"/><path color="#28c9a3" d="M203.1 115l1.6 3.5 -1.6-4 -1.5-3.6z"/><path color="#a29d7a" d="M187.7 82.7l1.5 2.8 -1.5-.9 -1.6-2.6z"/><path color="#4500ff" d="M250.5 143.2l1.6-3.7 -1.8 1.1 -1.6 3.6z"/><path color="#6e00ff" d="M248.9 146.2l1.6-3 -1.8 1 -1.6 2.9z"/><path color="#1300ff" d="M252.1 139.5l1.6-4.4 -1.8 1.2 -1.6 4.3z"/><path color="#3e30e9" d="M214 139.2l1.5 1.9 -1.6-3.1 -1.5-2.1z"/><path color="#6030e9" d="M217.1 143.8l1.5 1.5 -1.6-2.5 -1.5-1.7z"/><path color="#7d00f5" d="M247.3 148.6l1.6-2.4 -1.8 .9 -1.6 2.4z"/><path color="#39c950" d="M200 107.2l1.6 3.7 -1.5-3.8 -1.6-3.7z"/><path color="#6b00bc" d="M236.2 154.6l3.1-.3 -3.4 .2 -3.1-.1z"/><path color="#2843e9" d="M210.9 133.5l1.5 2.4 -1.6-3.6 -1.5-2.6z"/><path color="#a2397a" d="M151.5 56.9l3.2 .6 -2.8 2.3 -3.3-.1z"/><path color="#0026ff" d="M253.7 135.1l1.7-5 -1.8 1.2 -1.7 5z"/><path color="#6d30ce" d="M226.6 152l3.1 1.4 -3.3-1.8 -3.1-2z"/><path color="#a2827a" d="M183 77.2l1.6 2.4 -1.6-.1 -1.5-2.2z"/><path color="#9aa57a" d="M190.8 87.1l1.5 3.2 -1.5-1.8 -1.6-3z"/><path color="#7430e5" d="M220.2 147.4l1.6 1.1 -1.6-1.9 -1.6-1.3z"/><path color="#6da57a" d="M197 99.6l1.5 3.8 -1.5-3.4 -1.6-3.6z"/><path color="#7800e4" d="M245.7 150.6l1.6-2 -1.8 .9 -1.6 1.9z"/><path color="#a26e7a" d="M178.3 73.1l1.6 2.1 -1.5 .4 -1.6-2.1z"/><path color="#88a57a" d="M193.9 92.8l1.5 3.6 -1.5-2.7 -1.6-3.4z"/><path color="#2887e9" d="M207.8 126.8l1.5 2.9 -1.6-4 -1.5-3.1z"/><path color="#a2567a" d="M173.6 69.3l1.6 2.1 -1.5 .5 -1.6-2.1z"/><path color="#a2397a" d="M159.4 58.6l1.7 1.6 -1.5 .8 -1.6-1.5z"/><path color="#0085ff" d="M255.4 130.1l1.6-5.9 -1.8 1.3 -1.6 5.8z"/><path color="#a23d7a" d="M168.9 65.4l1.6 2.2 -1.5 .5 -1.6-2.2z"/><path color="#a2397a" d="M164.2 61.5l1.6 2.2 -1.5 .5 -1.6-2.1z"/><path color="#7500d8" d="M244.1 152l1.6-1.4 -1.8 .8 -1.5 1.4z"/><path color="#28c9d0" d="M204.7 119.3l1.5 3.3 -1.5-4.1 -1.6-3.5z"/><path color="#a28e7a" d="M186.1 80.1l1.6 2.6 -1.6-.7 -1.5-2.4z"/><path color="#00fff3" d="M257 124.2l1.7-6.8 -1.8 1.4 -1.7 6.7z"/><path color="#5030e9" d="M215.6 142.2l1.5 1.6 -1.6-2.7 -1.5-1.9z"/><path color="#28c967" d="M201.6 111.3l1.5 3.7 -1.5-4.1 -1.6-3.7z"/><path color="#2a30e9" d="M212.4 137.1l1.6 2.1 -1.6-3.3 -1.5-2.4z"/><path color="#a2757a" d="M181.4 75l1.6 2.2 -1.5 .1 -1.6-2.1z"/><path color="#a2397a" d="M157.8 57.2l1.6 1.4 -1.4 .9 -1.6-1.2zM148.2 58l3.3-1.1 -2.9 2.8 -3.2 .9z"/><path color="#6e30e9" d="M218.7 146.2l1.5 1.2 -1.6-2.1 -1.5-1.5z"/><path color="#a25e7a" d="M176.7 70.9l1.6 2.2 -1.5 .4 -1.6-2.1z"/><path color="#285ce9" d="M209.3 130.9l1.6 2.6 -1.6-3.8 -1.5-2.9z"/><path color="#a2a07a" d="M189.2 84l1.6 3.1 -1.6-1.6 -1.5-2.8z"/><path color="#a2467a" d="M172 67.1l1.6 2.2 -1.5 .5 -1.6-2.2z"/><path color="#5ec950" d="M198.5 103.4l1.5 3.8 -1.5-3.8 -1.5-3.8z"/><path color="#a23a7a" d="M167.2 63.1l1.7 2.3 -1.5 .5 -1.6-2.2z"/><path color="#a2397a" d="M162.5 59.4l1.7 2.1 -1.5 .6 -1.6-1.9z"/><path color="#00ff54" d="M258.7 117.4l1.8-7.6 -1.9 1.4 -1.7 7.6z"/><path color="#95a57a" d="M192.3 89.3l1.6 3.5 -1.6-2.5 -1.5-3.2z"/><path color="#81a57a" d="M195.4 95.9l1.6 3.7 -1.6-3.2 -1.5-3.6z"/><path color="#640bd4" d="M233.1 154l3.1 .6 -3.4-.2 -3.1-1z"/><path color="#28b5e9" d="M206.2 123.6l1.6 3.2 -1.6-4.2 -1.5-3.3z"/><path color="#2a00ff" d="M252.2 141.9l1.7-3.7 -1.8 1.3 -1.6 3.7z"/><path color="#5400ff" d="M250.6 145l1.6-3.1 -1.7 1.3 -1.6 3z"/><path color="#0008ff" d="M253.9 138.2l1.6-4.4 -1.8 1.3 -1.6 4.4z"/><path color="#a2807a" d="M184.5 77.6l1.6 2.5 -1.5-.5 -1.6-2.4z"/><path color="#7130db" d="M223.5 150.4l3.1 1.6 -3.3-2.4 -3.1-2.2z"/><path color="#7500ff" d="M249 147.5l1.6-2.5 -1.7 1.2 -1.6 2.4z"/><path color="#a2387a" d="M156.2 56.2l1.6 1 -1.4 1.1 -1.7-.8z"/><path color="#003fff" d="M255.5 133.8l1.7-5.1 -1.8 1.4 -1.7 5z"/><path color="#28c99d" d="M203.1 115.7l1.6 3.6 -1.6-4.3 -1.5-3.7z"/><path color="#a2687a" d="M179.8 72.8l1.6 2.2 -1.5 .2 -1.6-2.1z"/><path color="#3f30e9" d="M214 140.4l1.6 1.8 -1.6-3 -1.6-2.1z"/><path color="#a24f7a" d="M175.1 68.8l1.6 2.1 -1.5 .5 -1.6-2.1z"/><path color="#7d00f5" d="M247.4 149.5l1.6-2 -1.7 1.1 -1.6 2z"/><path color="#6030e9" d="M217.2 144.9l1.5 1.3 -1.6-2.4 -1.5-1.6z"/><path color="#2842e9" d="M210.9 134.7l1.5 2.4 -1.5-3.6 -1.6-2.6z"/><path color="#a23a7a" d="M170.3 64.8l1.7 2.3 -1.5 .5 -1.6-2.2z"/><path color="#a2397a" d="M160.9 57.6l1.6 1.8 -1.4 .8 -1.7-1.6z"/><path color="#00b3ff" d="M257.2 128.7l1.6-5.9 -1.8 1.4 -1.6 5.9z"/><path color="#a2397a" d="M165.6 60.8l1.6 2.3 -1.4 .6 -1.6-2.2z"/><path color="#a2907a" d="M187.6 81.1l1.6 2.9 -1.5-1.3 -1.6-2.6z"/><path color="#7400d7" d="M242.7 152.9l3.2-1.9 -3.5 1.8 -3.1 1.5z"/><path color="#3fc950" d="M200 107.5l1.6 3.8 -1.6-4.1 -1.5-3.8z"/><path color="#2887e9" d="M207.8 127.9l1.5 3 -1.5-4.1 -1.6-3.2z"/><path color="#7900e8" d="M245.9 151l1.5-1.5 -1.7 1.1 -1.6 1.4z"/><path color="#75a57a" d="M196.9 99.5l1.6 3.9 -1.5-3.8 -1.6-3.7z"/><path color="#a1a57a" d="M190.7 86l1.6 3.3 -1.5-2.2 -1.6-3.1z"/><path color="#00ffc7" d="M258.8 122.8l1.7-6.7 -1.8 1.3 -1.7 6.8z"/><path color="#8ea57a" d="M193.8 92.2l1.6 3.7 -1.5-3.1 -1.6-3.5z"/><path color="#a2737a" d="M182.9 75.1l1.6 2.5 -1.5-.4 -1.6-2.2z"/><path color="#28c9cd" d="M204.7 120.1l1.5 3.5 -1.5-4.3 -1.6-3.6z"/><path color="#a2587a" d="M178.2 70.6l1.6 2.2 -1.5 .3 -1.6-2.2z"/><path color="#a2387a" d="M159.3 56l1.6 1.6 -1.5 1 -1.6-1.4z"/><path color="#a23f7a" d="M173.5 66.5l1.6 2.3 -1.5 .5 -1.6-2.2z"/><path color="#670bdf" d="M230 153l3.1 1 -3.4-.6 -3.1-1.4z"/><path color="#a23a7a" d="M168.7 62.4l1.6 2.4 -1.4 .6 -1.7-2.3z"/><path color="#2b30e9" d="M212.5 138.3l1.5 2.1 -1.6-3.3 -1.5-2.4z"/><path color="#5130e9" d="M215.6 143.3l1.6 1.6 -1.6-2.7 -1.6-1.8z"/><path color="#a2397a" d="M164 58.5l1.6 2.3 -1.4 .7 -1.7-2.1z"/><path color="#28c95f" d="M201.6 111.9l1.5 3.8 -1.5-4.4 -1.6-3.8z"/><path color="#00ff1f" d="M260.5 116.1l1.8-7.7 -1.8 1.4 -1.8 7.6z"/><path color="#a2807a" d="M186 78.3l1.6 2.8 -1.5-1 -1.6-2.5z"/><path color="#285ae9" d="M209.3 132l1.6 2.7 -1.6-3.8 -1.5-3z"/><path color="#660bdd" d="M239.6 153.6l3.1-.7 -3.4 1.4 -3.1 .3z"/><path color="#0d00ff" d="M254 140.4l1.7-3.8 -1.8 1.6 -1.7 3.7z"/><path color="#7430e9" d="M220.4 148.7l3.1 1.7 -3.3-3 -3-2.5z"/><path color="#3700ff" d="M252.4 143.5l1.6-3.1 -1.8 1.5 -1.6 3.1z"/><path color="#66c950" d="M198.5 103.5l1.5 4 -1.5-4.1 -1.6-3.9z"/><path color="#0023ff" d="M255.7 136.6l1.6-4.3 -1.8 1.5 -1.6 4.4z"/><path color="#a2637a" d="M181.3 72.7l1.6 2.4 -1.5-.1 -1.6-2.2z"/><path color="#28b5e9" d="M206.2 124.5l1.6 3.4 -1.6-4.3 -1.5-3.5z"/><path color="#a2947a" d="M189.2 82.7l1.5 3.3 -1.5-2 -1.6-2.9z"/><path color="#5800ff" d="M250.8 146l1.6-2.5 -1.8 1.5 -1.6 2.5z"/><path color="#a2387a" d="M157.6 54.8l1.7 1.2 -1.5 1.2 -1.6-1z"/><path color="#006fff" d="M257.3 132.3l1.7-5.1 -1.8 1.5 -1.7 5.1z"/><path color="#a2387a" d="M154.3 53.7l3.3 1.1 -2.9 2.7 -3.2-.6z"/><path color="#a2487a" d="M176.6 68.3l1.6 2.3 -1.5 .3 -1.6-2.1z"/><path color="#85a57a" d="M195.4 95.5l1.5 4 -1.5-3.6 -1.6-3.7z"/><path color="#9ba57a" d="M192.3 88.5l1.5 3.7 -1.5-2.9 -1.6-3.3z"/><path color="#a23a7a" d="M171.8 64.2l1.7 2.3 -1.5 .6 -1.7-2.3z"/><path color="#7300ff" d="M249.2 148.1l1.6-2.1 -1.8 1.5 -1.6 2z"/><path color="#a2387a" d="M162.4 56.5l1.6 2 -1.5 .9 -1.6-1.8z"/><path color="#a2397a" d="M167.1 60l1.6 2.4 -1.5 .7 -1.6-2.3z"/><path color="#00e2ff" d="M259 127.2l1.7-5.9 -1.9 1.5 -1.6 5.9z"/><path color="#28c998" d="M203.1 116.3l1.6 3.8 -1.6-4.4 -1.5-3.8z"/><path color="#3f30e9" d="M214 141.4l1.6 1.9 -1.6-2.9 -1.5-2.1z"/><path color="#2842e9" d="M210.9 135.7l1.6 2.6 -1.6-3.6 -1.6-2.7z"/><path color="#5f30e9" d="M217.2 145.7l1.6 1.3 -1.6-2.1 -1.6-1.6z"/><path color="#a2727a" d="M184.4 75.6l1.6 2.7 -1.5-.7 -1.6-2.5z"/><path color="#7f00fa" d="M247.6 149.7l1.6-1.6 -1.8 1.4 -1.5 1.5z"/><path color="#00ff9a" d="M260.7 121.3l1.7-6.6 -1.9 1.4 -1.7 6.7z"/><path color="#2887e9" d="M207.8 128.8l1.5 3.2 -1.5-4.1 -1.6-3.4z"/><path color="#46c950" d="M200 107.7l1.6 4.2 -1.6-4.4 -1.5-4z"/><path color="#a2537a" d="M179.7 70.4l1.6 2.3 -1.5 .1 -1.6-2.2z"/><path color="#6a0beb" d="M226.8 152l3.2 1 -3.4-1 -3.1-1.6z"/><path color="#a23a7a" d="M175 66l1.6 2.3 -1.5 .5 -1.6-2.3z"/><path color="#7c00f1" d="M246.1 150.9l1.5-1.2 -1.7 1.3 -1.6 1.2z"/><path color="#a2837a" d="M187.6 79.6l1.6 3.1 -1.6-1.6 -1.6-2.8z"/><path color="#a2387a" d="M160.7 54.7l1.7 1.8 -1.5 1.1 -1.6-1.6z"/><path color="#680be1" d="M236.5 153.4l3.1 .2 -3.4 1 -3.1-.6z"/><path color="#a2397a" d="M170.2 61.7l1.6 2.5 -1.5 .6 -1.6-2.4z"/><path color="#7ba57a" d="M196.9 99.3l1.6 4.2 -1.6-4 -1.5-4z"/><path color="#a2387a" d="M165.5 57.6l1.6 2.4 -1.5 .8 -1.6-2.3zM151 54.9l3.3-1.2 -2.8 3.2 -3.3 1.1z"/><path color="#28c9ca" d="M204.7 120.8l1.5 3.7 -1.5-4.4 -1.6-3.8z"/><path color="#0cff00" d="M262.4 114.7l1.7-7.6 -1.8 1.3 -1.8 7.7z"/><path color="#a29b7a" d="M190.7 84.9l1.6 3.6 -1.6-2.5 -1.5-3.3z"/><path color="#93a57a" d="M193.8 91.5l1.6 4 -1.6-3.3 -1.5-3.7z"/><path color="#2b30e9" d="M212.5 139.1l1.5 2.3 -1.5-3.1 -1.6-2.6z"/><path color="#6c0bef" d="M244.5 151.8l1.6-.9 -1.8 1.3 -1.6 .7z"/><path color="#4f30e9" d="M215.7 144l1.5 1.7 -1.6-2.4 -1.6-1.9z"/><path color="#a2607a" d="M182.8 72.9l1.6 2.7 -1.5-.5 -1.6-2.4z"/><path color="#285be9" d="M209.4 132.7l1.5 3 -1.6-3.7 -1.5-3.2z"/><path color="#28c957" d="M201.6 112.1l1.5 4.2 -1.5-4.4 -1.6-4.2z"/><path color="#0013ff" d="M255.9 138.6l1.6-3.7 -1.8 1.7 -1.7 3.8z"/><path color="#1600ff" d="M254.2 141.7l1.7-3.1 -1.9 1.8 -1.6 3.1z"/><path color="#0041ff" d="M257.5 134.9l1.6-4.4 -1.8 1.8 -1.6 4.3z"/><path color="#6930e9" d="M218.8 147.5l1.6 1.2 -1.6-1.7 -1.6-1.3z"/><path color="#a2427a" d="M178.1 67.9l1.6 2.5 -1.5 .2 -1.6-2.3z"/><path color="#a2377a" d="M159.1 53.3l1.6 1.4 -1.4 1.3 -1.7-1.2z"/><path color="#3800ff" d="M252.6 144.3l1.6-2.6 -1.8 1.8 -1.6 2.5z"/><path color="#a23a7a" d="M173.3 63.5l1.7 2.5 -1.5 .5 -1.7-2.3z"/><path color="#00a3ff" d="M259.1 130.5l1.7-5 -1.8 1.7 -1.7 5.1z"/><path color="#a2397a" d="M168.6 59.1l1.6 2.6 -1.5 .7 -1.6-2.4z"/><path color="#a2387a" d="M163.8 55.3l1.7 2.3 -1.5 .9 -1.6-2z"/><path color="#28b9e9" d="M206.2 125.1l1.6 3.7 -1.6-4.3 -1.5-3.7z"/><path color="#a2737a" d="M186 76.5l1.6 3.1 -1.6-1.3 -1.6-2.7z"/><path color="#67a57a" d="M198.5 103.3l1.5 4.4 -1.5-4.2 -1.6-4.2z"/><path color="#5300ff" d="M251 146.4l1.6-2.1 -1.8 1.7 -1.6 2.1z"/><path color="#00ffea" d="M260.8 125.5l1.7-5.7 -1.8 1.5 -1.7 5.9z"/><path color="#a2897a" d="M189.1 81.3l1.6 3.6 -1.5-2.2 -1.6-3.1z"/><path color="#8aa57a" d="M195.4 94.9l1.5 4.4 -1.5-3.8 -1.6-4z"/><path color="#6800ff" d="M249.4 148.1l1.6-1.7 -1.8 1.7 -1.6 1.6z"/><path color="#a24e7a" d="M181.2 70.3l1.6 2.6 -1.5-.2 -1.6-2.3z"/><path color="#a2377a" d="M157.4 52.3l1.7 1 -1.5 1.5 -1.6-.8z"/><path color="#a2a57a" d="M192.2 87.5l1.6 4 -1.5-3 -1.6-3.6z"/><path color="#3d30e9" d="M214.1 141.9l1.6 2.1 -1.7-2.6 -1.5-2.3z"/><path color="#28c990" d="M203.1 116.6l1.6 4.2 -1.6-4.5 -1.5-4.2z"/><path color="#6a0be9" d="M233.4 152.8l3.1 .6 -3.4 .6 -3.1-1z"/><path color="#7330e4" d="M223.7 150.8l3.1 1.2 -3.3-1.6 -3.1-1.7z"/><path color="#00ff65" d="M262.5 119.8l1.7-6.5 -1.8 1.4 -1.7 6.6z"/><path color="#2843e9" d="M210.9 136.3l1.6 2.8 -1.6-3.4 -1.5-3z"/><path color="#5b30e9" d="M217.3 146.1l1.5 1.4 -1.6-1.8 -1.5-1.7z"/><path color="#a23a7a" d="M176.5 65.4l1.6 2.5 -1.5 .4 -1.6-2.3z"/><path color="#a2397a" d="M171.7 60.9l1.6 2.6 -1.5 .7 -1.6-2.5z"/><path color="#a2377a" d="M162.2 53.4l1.6 1.9 -1.4 1.2 -1.7-1.8z"/><path color="#690bfe" d="M247.9 149.4l1.5-1.3 -1.8 1.6 -1.5 1.2z"/><path color="#a2387a" d="M166.9 56.5l1.7 2.6 -1.5 .9 -1.6-2.4z"/><path color="#288be9" d="M207.8 129.2l1.6 3.5 -1.6-3.9 -1.6-3.7z"/><path color="#4fa57a" d="M200 107.6l1.6 4.5 -1.6-4.4 -1.5-4.4z"/><path color="#2bff00" d="M264.2 113.3l1.8-7.4 -1.9 1.2 -1.7 7.6z"/><path color="#a2607a" d="M184.4 73.4l1.6 3.1 -1.6-.9 -1.6-2.7z"/><path color="#a2377a" d="M155.8 52l1.6 .3 -1.4 1.7 -1.7-.3z"/><path color="#6d0bf4" d="M243.1 151.4l3.2-1.1 -3.6 2.6 -3.1 .7z"/><path color="#700bfd" d="M246.3 150.3l1.6-.9 -1.8 1.5 -1.6 .9z"/><path color="#28c9c3" d="M204.7 120.9l1.5 4.2 -1.5-4.3 -1.6-4.2z"/><path color="#a23c7a" d="M179.6 67.6l1.6 2.7 -1.5 .1 -1.6-2.5z"/><path color="#7fa57a" d="M196.9 98.6l1.6 4.7 -1.6-4 -1.5-4.4z"/><path color="#a2767a" d="M187.5 77.7l1.6 3.6 -1.5-1.7 -1.6-3.1z"/><path color="#a2397a" d="M174.8 62.8l1.7 2.6 -1.5 .6 -1.7-2.5z"/><path color="#0034ff" d="M257.7 136.5l1.6-3.7 -1.8 2.1 -1.6 3.7z"/><path color="#a2377a" d="M160.5 51.8l1.7 1.6 -1.5 1.3 -1.6-1.4z"/><path color="#2831e9" d="M212.5 139.3l1.6 2.6 -1.6-2.8 -1.6-2.8z"/><path color="#007cff" d="M259.3 132.8l1.7-4.2 -1.9 1.9 -1.6 4.4z"/><path color="#000eff" d="M256.1 139.6l1.6-3.1 -1.8 2.1 -1.7 3.1z"/><path color="#4b30e9" d="M215.7 144.2l1.6 1.9 -1.6-2.1 -1.6-2.1z"/><path color="#9aa57a" d="M193.8 90.4l1.6 4.5 -1.6-3.4 -1.6-4z"/><path color="#a2907a" d="M190.7 83.4l1.5 4.1 -1.5-2.6 -1.6-3.6z"/><path color="#a2377a" d="M154.1 52.2l1.7-.2 -1.5 1.7 -1.6 .3z"/><path color="#a2387a" d="M170.1 58.1l1.6 2.8 -1.5 .8 -1.6-2.6z"/><path color="#00dbff" d="M261 128.6l1.7-4.9 -1.9 1.8 -1.7 5z"/><path color="#a2387a" d="M165.3 54.1l1.6 2.4 -1.4 1.1 -1.7-2.3z"/><path color="#1300ff" d="M254.5 142.2l1.6-2.6 -1.9 2.1 -1.6 2.6z"/><path color="#2862e9" d="M209.4 132.9l1.5 3.4 -1.5-3.6 -1.6-3.5z"/><path color="#37a57a" d="M201.6 111.8l1.5 4.8 -1.5-4.5 -1.6-4.5z"/><path color="#00ffb7" d="M262.7 123.7l1.7-5.5 -1.9 1.6 -1.7 5.7z"/><path color="#6c0bf2" d="M230.2 152.2l3.2 .6 -3.4 .2 -3.2-1z"/><path color="#2f00ff" d="M252.9 144.4l1.6-2.2 -1.9 2.1 -1.6 2.1z"/><path color="#a24b7a" d="M182.8 70.4l1.6 3 -1.6-.5 -1.6-2.6z"/><path color="#a2377a" d="M152.5 53.3l1.6-1.1 -1.4 1.8 -1.7 .9z"/><path color="#6a30e9" d="M220.6 148.9l3.1 1.9 -3.3-2.1 -3.1-2.6z"/><path color="#34a0e8" d="M206.3 125l1.5 4.2 -1.6-4.1 -1.5-4.2z"/><path color="#a2377a" d="M158.9 50.7l1.6 1.1 -1.4 1.5 -1.7-1z"/><path color="#00ff2c" d="M264.4 118.2l1.7-6.3 -1.9 1.4 -1.7 6.5z"/><path color="#a23a7a" d="M178 64.8l1.6 2.8 -1.5 .3 -1.6-2.5z"/><path color="#4500ff" d="M251.3 146.2l1.6-1.8 -1.9 2 -1.6 1.7z"/><path color="#70a57a" d="M198.5 102.6l1.5 5 -1.5-4.3 -1.6-4.7z"/><path color="#a2397a" d="M173.2 59.9l1.6 2.9 -1.5 .7 -1.6-2.6z"/><path color="#6d0bf5" d="M240 151.7l3.1-.3 -3.5 2.2 -3.1-.2z"/><path color="#a2617a" d="M185.9 74.2l1.6 3.5 -1.5-1.2 -1.6-3.1z"/><path color="#a2377a" d="M163.7 51.9l1.6 2.2 -1.5 1.2 -1.6-1.9z"/><path color="#a2387a" d="M168.4 55.3l1.7 2.8 -1.5 1 -1.7-2.6z"/><path color="#3e37e8" d="M214.2 141.8l1.5 2.4 -1.6-2.3 -1.6-2.6z"/><path color="#510bfe" d="M249.7 147.6l1.6-1.4 -1.9 1.9 -1.5 1.3z"/><path color="#90a57a" d="M195.3 93.7l1.6 4.9 -1.5-3.7 -1.6-4.5z"/><path color="#49ff00" d="M266.1 111.9l1.7-7.1 -1.8 1.1 -1.8 7.4z"/><path color="#34a59c" d="M203.1 116.1l1.6 4.8 -1.6-4.3 -1.5-4.8z"/><path color="#3449e8" d="M211 136l1.5 3.3 -1.6-3 -1.5-3.4z"/><path color="#a27b7a" d="M189.1 79.3l1.6 4.1 -1.6-2.1 -1.6-3.6z"/><path color="#5437e8" d="M217.3 146l1.6 1.7 -1.6-1.6 -1.6-1.9z"/><path color="#a29a7a" d="M192.2 85.9l1.6 4.5 -1.6-2.9 -1.5-4.1z"/><path color="#9f377a" d="M157.2 50.2l1.7 .5 -1.5 1.6 -1.6-.3z"/><path color="#a23a7a" d="M181.2 67.3l1.6 3.1 -1.6-.1 -1.6-2.7z"/><path color="#3481e8" d="M207.8 128.8l1.6 4.1 -1.6-3.7 -1.5-4.2z"/><path color="#590bfe" d="M248.1 148.6l1.6-1 -1.8 1.8 -1.6 .9z"/><path color="#a2397a" d="M176.4 61.9l1.6 2.9 -1.5 .6 -1.7-2.6z"/><path color="#59a57a" d="M200 106.6l1.6 5.2 -1.6-4.2 -1.5-5z"/><path color="#a0377a" d="M162 50.2l1.7 1.7 -1.5 1.5 -1.7-1.6z"/><path color="#a2387a" d="M171.6 57l1.6 2.9 -1.5 1 -1.6-2.8z"/><path color="#6f0bfa" d="M227.1 151.5l3.1 .7 -3.4-.2 -3.1-1.2z"/><path color="#a2377a" d="M166.8 52.7l1.6 2.6 -1.5 1.2 -1.6-2.4z"/><path color="#006cff" d="M259.6 134.2l1.6-3.6 -1.9 2.2 -1.6 3.7z"/><path color="#9e377a" d="M155.6 50.4l1.6-.2 -1.4 1.8 -1.7 .2z"/><path color="#00bcff" d="M261.2 130.6l1.7-4.1 -1.9 2.1 -1.7 4.2z"/><path color="#a24a7a" d="M184.3 70.7l1.6 3.5 -1.5-.8 -1.6-3z"/><path color="#0033ff" d="M257.9 137.3l1.7-3.1 -1.9 2.3 -1.6 3.1z"/><path color="#00ffe7" d="M262.9 126.5l1.6-4.7 -1.8 1.9 -1.7 4.9z"/><path color="#34a5c1" d="M204.7 120.2l1.6 4.8 -1.6-4.1 -1.6-4.8z"/><path color="#5e0bfe" d="M246.5 149.4l1.6-.8 -1.8 1.7 -1.6 .7z"/><path color="#0014ff" d="M256.3 139.9l1.6-2.6 -1.8 2.3 -1.6 2.6z"/><path color="#86a57a" d="M196.9 97.2l1.6 5.4 -1.6-4 -1.6-4.9z"/><path color="#00ff7e" d="M264.5 121.8l1.7-5.4 -1.8 1.8 -1.7 5.5z"/><path color="#6f0bfa" d="M236.8 151.6l3.2 .1 -3.5 1.7 -3.1-.6z"/><path color="#343de8" d="M212.6 138.7l1.6 3.1 -1.7-2.5 -1.5-3.3z"/><path color="#4737e8" d="M215.8 143.8l1.5 2.2 -1.6-1.8 -1.5-2.4z"/><path color="#a2647a" d="M187.5 75.2l1.6 4.1 -1.6-1.6 -1.6-3.5z"/><path color="#0700ff" d="M254.7 142.1l1.6-2.2 -1.8 2.3 -1.6 2.2z"/><path color="#a2397a" d="M179.5 64.2l1.7 3.1 -1.6 .3 -1.6-2.8z"/><path color="#a0377a" d="M153.9 51.5l1.7-1.1 -1.5 1.8 -1.6 1.1z"/><path color="#a2a57a" d="M193.8 88.6l1.5 5.1 -1.5-3.3 -1.6-4.5z"/><path color="#08ff00" d="M266.2 116.4l1.7-6 -1.8 1.5 -1.7 6.3z"/><path color="#3467e8" d="M209.4 132.1l1.6 3.9 -1.6-3.1 -1.6-4.1z"/><path color="#9b377a" d="M160.3 49l1.7 1.2 -1.5 1.6 -1.6-1.1z"/><path color="#a2827a" d="M190.6 81.2l1.6 4.7 -1.5-2.5 -1.6-4.1z"/><path color="#5937e8" d="M219 147.4l1.6 1.5 -1.7-1.2 -1.6-1.7z"/><path color="#a2387a" d="M174.7 58.9l1.7 3 -1.6 .9 -1.6-2.9z"/><path color="#42a57a" d="M201.6 110.6l1.5 5.5 -1.5-4.3 -1.6-5.2z"/><path color="#610bfe" d="M244.9 149.9l1.6-.5 -1.8 1.6 -1.6 .4z"/><path color="#290bfe" d="M253.1 143.9l1.6-1.8 -1.8 2.3 -1.6 1.8z"/><path color="#a2377a" d="M169.9 54.1l1.7 2.9 -1.5 1.1 -1.7-2.8z"/><path color="#a1377a" d="M165.1 50.4l1.7 2.3 -1.5 1.4 -1.6-2.2z"/><path color="#67ff00" d="M267.9 110.4l1.8-6.6 -1.9 1 -1.7 7.1z"/><path color="#34a5df" d="M206.3 124l1.5 4.8 -1.5-3.8 -1.6-4.8z"/><path color="#a23a7a" d="M182.7 67.1l1.6 3.6 -1.5-.3 -1.6-3.1z"/><path color="#360bfe" d="M251.5 145.4l1.6-1.5 -1.8 2.3 -1.6 1.4z"/><path color="#7ba57a" d="M198.5 100.9l1.5 5.7 -1.5-4 -1.6-5.4z"/><path color="#98377a" d="M158.7 48.4l1.6 .6 -1.4 1.7 -1.7-.5z"/><path color="#a2397a" d="M177.9 61l1.6 3.2 -1.5 .6 -1.6-2.9z"/><path color="#3637e8" d="M214.2 141l1.6 2.8 -1.6-2 -1.6-3.1z"/><path color="#6437e8" d="M223.9 150.1l3.2 1.4 -3.4-.7 -3.1-1.9z"/><path color="#a24a7a" d="M185.9 71.2l1.6 4 -1.6-1 -1.6-3.5z"/><path color="#3f0bfe" d="M249.9 146.6l1.6-1.2 -1.8 2.2 -1.6 1z"/><path color="#34a587" d="M203.2 114.6l1.5 5.6 -1.6-4.1 -1.5-5.5z"/><path color="#3451e8" d="M211 135l1.6 3.7 -1.6-2.7 -1.6-3.9z"/><path color="#a2387a" d="M173.1 55.8l1.6 3.1 -1.5 1 -1.6-2.9z"/><path color="#4d37e8" d="M217.4 145.4l1.6 2 -1.7-1.4 -1.5-2.2z"/><path color="#9a377a" d="M163.5 48.6l1.6 1.8 -1.4 1.5 -1.7-1.7z"/><path color="#99a57a" d="M195.3 91.7l1.6 5.5 -1.6-3.5 -1.5-5.1z"/><path color="#a2377a" d="M168.3 51.3l1.6 2.8 -1.5 1.2 -1.6-2.6z"/><path color="#6c0bfe" d="M233.7 151.3l3.1 .3 -3.4 1.2 -3.2-.6z"/><path color="#a26a7a" d="M189 76.6l1.6 4.6 -1.5-1.9 -1.6-4.1z"/><path color="#97377a" d="M157 48.6l1.7-.2 -1.5 1.8 -1.6 .2z"/><path color="#a28b7a" d="M192.2 83.5l1.6 5.1 -1.6-2.7 -1.6-4.7z"/><path color="#00fffe" d="M263.1 128.1l1.6-4 -1.8 2.4 -1.7 4.1z"/><path color="#00b4ff" d="M261.4 131.6l1.7-3.5 -1.9 2.5 -1.6 3.6z"/><path color="#3492e8" d="M207.9 127.4l1.5 4.7 -1.6-3.3 -1.5-4.8z"/><path color="#00ffa9" d="M264.7 124.1l1.7-4.5 -1.9 2.2 -1.6 4.7z"/><path color="#0072ff" d="M259.8 134.6l1.6-3 -1.8 2.6 -1.7 3.1z"/><path color="#460bfe" d="M248.3 147.5l1.6-.9 -1.8 2 -1.6 .8z"/><path color="#a2397a" d="M181.1 63.6l1.6 3.5 -1.5 .2 -1.7-3.1z"/><path color="#00ff3a" d="M266.4 119.6l1.7-5 -1.9 1.8 -1.7 5.4z"/><path color="#69a57a" d="M200 104.7l1.6 5.9 -1.6-4 -1.5-5.7z"/><path color="#003cff" d="M258.2 137.2l1.6-2.6 -1.9 2.7 -1.6 2.6z"/><path color="#98377a" d="M155.4 49.8l1.6-1.2 -1.4 1.8 -1.7 1.1z"/><path color="#2cff00" d="M268.1 114.6l1.7-5.6 -1.9 1.4 -1.7 6z"/><path color="#94377a" d="M161.8 47.2l1.7 1.4 -1.5 1.6 -1.7-1.2z"/><path color="#a2387a" d="M176.3 57.7l1.6 3.3 -1.5 .9 -1.7-3z"/><path color="#1424fe" d="M256.6 139.5l1.6-2.3 -1.9 2.7 -1.6 2.2z"/><path color="#34a5ab" d="M204.7 118.4l1.6 5.6 -1.6-3.8 -1.5-5.6z"/><path color="#560bfe" d="M243.6 149l3.1-.8 -3.6 3.2 -3.1 .3z"/><path color="#a2377a" d="M171.5 52.7l1.6 3.1 -1.5 1.2 -1.7-2.9z"/><path color="#4a0bfe" d="M246.7 148.2l1.6-.7 -1.8 1.9 -1.6 .5z"/><path color="#9a377a" d="M166.6 48.9l1.7 2.4 -1.5 1.4 -1.7-2.3z"/><path color="#85ff00" d="M269.8 109l1.7-6.2 -1.8 1 -1.8 6.6z"/><path color="#a23a7a" d="M184.2 67.2l1.7 4 -1.6-.5 -1.6-3.6z"/><path color="#90a57a" d="M196.9 94.9l1.6 6 -1.6-3.7 -1.6-5.5z"/><path color="#3e37e8" d="M215.9 142.8l1.5 2.6 -1.6-1.6 -1.6-2.8z"/><path color="#3447e8" d="M212.7 137.5l1.5 3.5 -1.6-2.3 -1.6-3.7z"/><path color="#1414fe" d="M255 141.4l1.6-1.9 -1.9 2.6 -1.6 1.8z"/><path color="#347ae8" d="M209.5 130.5l1.5 4.5 -1.6-2.9 -1.5-4.7z"/><path color="#a24c7a" d="M187.4 72l1.6 4.6 -1.5-1.4 -1.6-4z"/><path color="#a2957a" d="M193.8 86l1.5 5.7 -1.5-3.1 -1.6-5.1z"/><path color="#90377a" d="M160.2 46.6l1.6 .6 -1.5 1.8 -1.6-.6z"/><path color="#a2387a" d="M179.4 60.1l1.7 3.5 -1.6 .6 -1.6-3.2z"/><path color="#180bfe" d="M253.4 143l1.6-1.6 -1.9 2.5 -1.6 1.5z"/><path color="#640bfe" d="M230.5 151l3.2 .3 -3.5 .9 -3.1-.7z"/><path color="#a2717a" d="M190.6 78.2l1.6 5.3 -1.6-2.3 -1.6-4.6z"/><path color="#53a57a" d="M201.6 108.4l1.6 6.2 -1.6-4 -1.6-5.9z"/><path color="#5437e8" d="M220.8 147.3l3.1 2.8 -3.3-1.2 -3.2-3.5z"/><path color="#a2377a" d="M174.6 54.4l1.7 3.3 -1.6 1.2 -1.6-3.1z"/><path color="#93377a" d="M165 46.9l1.6 2 -1.5 1.5 -1.6-1.8z"/><path color="#9d377a" d="M169.8 49.8l1.7 2.9 -1.6 1.4 -1.6-2.8z"/><path color="#34a5c9" d="M206.3 121.9l1.6 5.5 -1.6-3.4 -1.6-5.6z"/><path color="#220bfe" d="M251.8 144.3l1.6-1.3 -1.9 2.4 -1.6 1.2z"/><path color="#8f377a" d="M158.5 46.8l1.7-.2 -1.5 1.8 -1.7 .2z"/><path color="#a2397a" d="M182.6 63.2l1.6 4 -1.5-.1 -1.6-3.5z"/><path color="#86a57a" d="M198.5 98.3l1.5 6.4 -1.5-3.8 -1.6-6z"/><path color="#530bfe" d="M240.4 149.4l3.2-.4 -3.6 2.7 -3.2-.1z"/><path color="#00ffb7" d="M265 125.4l1.7-3.8 -2 2.5 -1.6 4z"/><path color="#00ff5f" d="M266.7 121.6l1.6-4.2 -1.9 2.2 -1.7 4.5z"/><path color="#343fe8" d="M214.3 139.5l1.6 3.3 -1.7-1.8 -1.5-3.5z"/><path color="#00fffe" d="M263.3 128.7l1.7-3.3 -1.9 2.7 -1.7 3.5z"/><path color="#08ff00" d="M268.3 117.4l1.7-4.7 -1.9 1.9 -1.7 5z"/><path color="#2a0bfe" d="M250.2 145.4l1.6-1.1 -1.9 2.3 -1.6 .9z"/><path color="#4237e8" d="M217.5 144.2l1.6 2.3 -1.7-1.1 -1.5-2.6z"/><path color="#00c0ff" d="M261.7 131.7l1.6-3 -1.9 2.9 -1.6 3z"/><path color="#3466e8" d="M211.1 133.1l1.6 4.4 -1.7-2.5 -1.5-4.5z"/><path color="#91377a" d="M156.8 48l1.7-1.2 -1.5 1.8 -1.6 1.2z"/><path color="#51ff00" d="M270 112.7l1.7-5.1 -1.9 1.4 -1.7 5.6z"/><path color="#a2387a" d="M177.8 56.5l1.6 3.6 -1.5 .9 -1.6-3.3z"/><path color="#3fa57a" d="M203.2 112.1l1.5 6.3 -1.5-3.8 -1.6-6.2z"/><path color="#a23a7a" d="M185.8 67.4l1.6 4.6 -1.5-.8 -1.7-4z"/><path color="#8d377a" d="M163.3 45.5l1.7 1.4 -1.5 1.7 -1.7-1.4z"/><path color="#a2a17a" d="M195.3 88.7l1.6 6.2 -1.6-3.2 -1.5-5.7z"/><path color="#0088ff" d="M260.1 134.3l1.6-2.6 -1.9 2.9 -1.6 2.6z"/><path color="#a1ff00" d="M271.7 107.6l1.7-5.7 -1.9 .9 -1.7 6.2z"/><path color="#a1377a" d="M173 51.2l1.6 3.2 -1.5 1.4 -1.6-3.1z"/><path color="#94377a" d="M168.2 47.3l1.6 2.5 -1.5 1.5 -1.7-2.4z"/><path color="#a2507a" d="M189 73l1.6 5.2 -1.6-1.6 -1.6-4.6z"/><path color="#a2787a" d="M192.2 80.2l1.6 5.8 -1.6-2.5 -1.6-5.3z"/><path color="#144bfe" d="M258.5 136.6l1.6-2.3 -1.9 2.9 -1.6 2.3z"/><path color="#34a5e1" d="M207.9 125.1l1.6 5.4 -1.6-3.1 -1.6-5.5z"/><path color="#300bfe" d="M248.6 146.2l1.6-.8 -1.9 2.1 -1.6 .7z"/><path color="#580bfe" d="M227.3 150.1l3.2 .9 -3.4 .5 -3.2-1.4z"/><path color="#a2387a" d="M181 59.3l1.6 3.9 -1.5 .4 -1.7-3.5z"/><path color="#7ca57a" d="M200.1 101.8l1.5 6.6 -1.6-3.7 -1.5-6.4z"/><path color="#1433fe" d="M256.8 138.6l1.7-2 -1.9 2.9 -1.6 1.9z"/><path color="#89377a" d="M161.6 44.8l1.7 .7 -1.5 1.7 -1.6-.6z"/><path color="#340bfe" d="M247 146.9l1.6-.7 -1.9 2 -1.6 .5z"/><path color="#a2377a" d="M176.2 53l1.6 3.5 -1.5 1.2 -1.7-3.3z"/><path color="#34a589" d="M204.8 115.6l1.5 6.3 -1.6-3.5 -1.5-6.3z"/><path color="#1425fe" d="M255.2 140.3l1.6-1.7 -1.8 2.8 -1.6 1.6z"/><path color="#4f0bfe" d="M237.2 149.6l3.2-.2 -3.6 2.2 -3.1-.3z"/><path color="#343ae8" d="M216 141.1l1.5 3.1 -1.6-1.4 -1.6-3.3z"/><path color="#8c377a" d="M166.5 45.2l1.7 2.1 -1.6 1.6 -1.6-2z"/><path color="#3456e8" d="M212.7 135.4l1.6 4.1 -1.6-2 -1.6-4.4z"/><path color="#96377a" d="M171.3 48.2l1.7 3 -1.5 1.5 -1.7-2.9z"/><path color="#a2397a" d="M184.2 62.9l1.6 4.5 -1.6-.2 -1.6-4z"/><path color="#9ca57a" d="M196.9 91.7l1.6 6.6 -1.6-3.4 -1.6-6.2z"/><path color="#4437e8" d="M219.2 145.1l1.6 2.2 -1.7-.8 -1.6-2.3z"/><path color="#87377a" d="M160 45l1.6-.2 -1.4 1.8 -1.7 .2z"/><path color="#141afe" d="M253.6 141.8l1.6-1.5 -1.8 2.7 -1.6 1.3z"/><path color="#3496e8" d="M209.6 128l1.5 5.1 -1.6-2.6 -1.6-5.4z"/><path color="#360bfe" d="M245.4 147.4l1.6-.5 -1.9 1.8 -1.5 .3z"/><path color="#a23a7a" d="M187.4 67.9l1.6 5.1 -1.6-1 -1.6-4.6z"/><path color="#a2817a" d="M193.7 82.4l1.6 6.3 -1.5-2.7 -1.6-5.8z"/><path color="#00ff0e" d="M268.6 119.1l1.6-3.9 -1.9 2.2 -1.6 4.2z"/><path color="#a2567a" d="M190.6 74.4l1.6 5.8 -1.6-2 -1.6-5.2z"/><path color="#6ba57a" d="M201.6 105.3l1.6 6.8 -1.6-3.7 -1.5-6.6z"/><path color="#33ff00" d="M270.2 115.2l1.7-4.3 -1.9 1.8 -1.7 4.7z"/><path color="#a2377a" d="M179.4 55.4l1.6 3.9 -1.6 .8 -1.6-3.6z"/><path color="#00ff67" d="M266.9 122.6l1.7-3.5 -1.9 2.5 -1.7 3.8z"/><path color="#75ff00" d="M271.9 110.9l1.7-4.7 -1.9 1.4 -1.7 5.1z"/><path color="#89377a" d="M158.3 46.3l1.7-1.3 -1.5 1.8 -1.7 1.2z"/><path color="#00ffb1" d="M265.3 125.8l1.6-3.2 -1.9 2.8 -1.7 3.3z"/><path color="#85377a" d="M164.8 43.8l1.7 1.4 -1.5 1.7 -1.7-1.4z"/><path color="#afff00" d="M273.6 106.2l1.7-5.1 -1.9 .8 -1.7 5.7z"/><path color="#1411fe" d="M252 143l1.6-1.2 -1.8 2.5 -1.6 1.1z"/><path color="#00ffed" d="M263.6 128.7l1.7-2.9 -2 2.9 -1.6 3z"/><path color="#9b377a" d="M174.5 49.7l1.7 3.3 -1.6 1.4 -1.6-3.2z"/><path color="#34a5a7" d="M206.4 118.9l1.5 6.2 -1.6-3.2 -1.5-6.3z"/><path color="#8d377a" d="M169.7 45.6l1.6 2.6 -1.5 1.6 -1.6-2.5z"/><path color="#5037e8" d="M224.2 147.8l3.1 2.3 -3.4 0 -3.1-2.8z"/><path color="#00dbff" d="M262 131.3l1.6-2.6 -1.9 3 -1.6 2.6z"/><path color="#93a57a" d="M198.5 94.8l1.6 7 -1.6-3.5 -1.6-6.6z"/><path color="#a2387a" d="M182.6 58.6l1.6 4.3 -1.6 .3 -1.6-3.9z"/><path color="#140bfe" d="M250.4 144l1.6-1 -1.8 2.4 -1.6 .8z"/><path color="#344de8" d="M214.4 137.3l1.6 3.8 -1.7-1.6 -1.6-4.1z"/><path color="#490bfe" d="M234 149.6l3.2 0 -3.5 1.7 -3.2-.3z"/><path color="#3437e8" d="M217.6 142.4l1.6 2.7 -1.7-.9 -1.5-3.1z"/><path color="#1486fe" d="M260.4 133.6l1.6-2.3 -1.9 3 -1.6 2.3z"/><path color="#81377a" d="M163.1 43.1l1.7 .7 -1.5 1.7 -1.7-.7z"/><path color="#3484e8" d="M211.2 130.5l1.5 4.9 -1.6-2.3 -1.5-5.1z"/><path color="#57a57a" d="M203.2 108.8l1.6 6.8 -1.6-3.5 -1.6-6.8z"/><path color="#1467fe" d="M258.7 135.6l1.7-2 -1.9 3 -1.7 2z"/><path color="#a0377a" d="M177.7 51.7l1.7 3.7 -1.6 1.1 -1.6-3.5z"/><path color="#4337e8" d="M220.9 145.8l1.6 1.9 -1.7-.4 -1.6-2.2z"/><path color="#a2397a" d="M185.8 62.9l1.6 5 -1.6-.5 -1.6-4.5z"/><path color="#a28b7a" d="M195.3 84.9l1.6 6.8 -1.6-3 -1.6-6.3z"/><path color="#84377a" d="M168 43.5l1.7 2.1 -1.5 1.7 -1.7-2.1z"/><path color="#1a0bfe" d="M248.8 144.8l1.6-.8 -1.8 2.2 -1.6 .7z"/><path color="#90377a" d="M172.9 46.6l1.6 3.1 -1.5 1.5 -1.7-3z"/><path color="#a23a7a" d="M189 68.7l1.6 5.7 -1.6-1.4 -1.6-5.1z"/><path color="#a25d7a" d="M192.2 76.1l1.5 6.3 -1.5-2.2 -1.6-5.8z"/><path color="#144dfe" d="M257.1 137.5l1.6-1.9 -1.9 3 -1.6 1.7z"/><path color="#34a5c1" d="M208 122.1l1.6 5.9 -1.7-2.9 -1.5-6.2z"/><path color="#7f377a" d="M161.5 43.3l1.6-.2 -1.5 1.7 -1.6 .2z"/><path color="#8aa57a" d="M200.1 98.1l1.5 7.2 -1.5-3.5 -1.6-7z"/><path color="#2b0bfe" d="M244 146.6l3.2-1.1 -3.6 3.5 -3.2 .4z"/><path color="#a2377a" d="M180.9 54.4l1.7 4.2 -1.6 .7 -1.6-3.9z"/><path color="#1e0bfe" d="M247.2 145.5l1.6-.7 -1.8 2.1 -1.6 .5z"/><path color="#1438fe" d="M255.5 139l1.6-1.5 -1.9 2.8 -1.6 1.5z"/><path color="#98ff00" d="M273.9 109.1l1.6-4.1 -1.9 1.2 -1.7 4.7z"/><path color="#bdff00" d="M275.5 105l1.7-4.5 -1.9 .6 -1.7 5.1z"/><path color="#5fff00" d="M272.2 112.9l1.7-3.8 -2 1.8 -1.7 4.3z"/><path color="#29ff00" d="M270.5 116.5l1.7-3.6 -2 2.3 -1.6 3.9z"/><path color="#81377a" d="M159.8 44.5l1.7-1.2 -1.5 1.7 -1.7 1.3z"/><path color="#7d377a" d="M166.3 42.1l1.7 1.4 -1.5 1.7 -1.7-1.4z"/><path color="#3449e8" d="M216.1 138.9l1.5 3.5 -1.6-1.3 -1.6-3.8z"/><path color="#00ff0e" d="M268.9 119.8l1.6-3.3 -1.9 2.6 -1.7 3.5z"/><path color="#44a57a" d="M204.8 112.3l1.6 6.6 -1.6-3.3 -1.6-6.8z"/><path color="#94377a" d="M176.1 48.2l1.6 3.5 -1.5 1.3 -1.7-3.3z"/><path color="#400bfe" d="M230.8 149l3.2 .6 -3.5 1.4 -3.2-.9z"/><path color="#3475e8" d="M212.8 132.7l1.6 4.6 -1.7-1.9 -1.5-4.9z"/><path color="#85377a" d="M171.2 44l1.7 2.6 -1.6 1.6 -1.6-2.6z"/><path color="#00ff59" d="M267.2 122.8l1.7-3 -2 2.8 -1.6 3.2z"/><path color="#3437e8" d="M219.3 143.2l1.6 2.6 -1.7-.7 -1.6-2.7z"/><path color="#142efe" d="M253.9 140.4l1.6-1.4 -1.9 2.8 -1.6 1.2z"/><path color="#a2977a" d="M196.9 87.7l1.6 7.1 -1.6-3.1 -1.6-6.8z"/><path color="#a2387a" d="M184.1 58.1l1.7 4.8 -1.6 0 -1.6-4.3z"/><path color="#00ff9c" d="M265.6 125.6l1.6-2.8 -1.9 3 -1.7 2.9z"/><path color="#34a5d5" d="M209.6 124.9l1.6 5.6 -1.6-2.5 -1.6-5.9z"/><path color="#14c3dc" d="M263.9 128.1l1.7-2.5 -2 3.1 -1.6 2.6z"/><path color="#4037e8" d="M222.6 146l1.6 1.8 -1.7-.1 -1.6-1.9z"/><path color="#a2397a" d="M187.3 63.2l1.7 5.5 -1.6-.8 -1.6-5z"/><path color="#a2677a" d="M193.7 78.1l1.6 6.8 -1.6-2.5 -1.5-6.3z"/><path color="#79377a" d="M164.7 41.4l1.6 .7 -1.5 1.7 -1.7-.7z"/><path color="#1425fe" d="M252.3 141.6l1.6-1.2 -1.9 2.6 -1.6 1z"/><path color="#80a57a" d="M201.7 101.6l1.5 7.2 -1.6-3.5 -1.5-7.2z"/><path color="#a23a7a" d="M190.5 69.9l1.7 6.2 -1.6-1.7 -1.6-5.7z"/><path color="#9a377a" d="M179.3 50.5l1.6 3.9 -1.5 1 -1.7-3.7z"/><path color="#14c2fe" d="M262.3 130.5l1.6-2.4 -1.9 3.2 -1.6 2.3z"/><path color="#2a0bfe" d="M240.8 147.3l3.2-.7 -3.6 2.8 -3.2 .2z"/><path color="#7c377a" d="M169.5 41.9l1.7 2.1 -1.5 1.6 -1.7-2.1z"/><path color="#89377a" d="M174.4 45.1l1.7 3.1 -1.6 1.5 -1.6-3.1z"/><path color="#34a57c" d="M206.5 115.6l1.5 6.5 -1.6-3.2 -1.6-6.6z"/><path color="#14a3fe" d="M260.7 132.6l1.6-2.1 -1.9 3.1 -1.7 2z"/><path color="#141efe" d="M250.7 142.7l1.6-1.1 -1.9 2.4 -1.6 .8z"/><path color="#346ae8" d="M214.5 134.6l1.6 4.3 -1.7-1.6 -1.6-4.6z"/><path color="#3447e8" d="M217.7 140l1.6 3.2 -1.7-.8 -1.5-3.5z"/><path color="#a2a37a" d="M198.5 90.8l1.6 7.3 -1.6-3.3 -1.6-7.1z"/><path color="#a2377a" d="M182.5 53.6l1.6 4.5 -1.5 .5 -1.7-4.2z"/><path color="#1487fe" d="M259 134.5l1.7-1.9 -2 3 -1.6 1.9z"/><path color="#c9ff00" d="M277.5 103.8l1.6-3.7 -1.9 .4 -1.7 4.5z"/><path color="#aeff00" d="M275.8 107.4l1.7-3.6 -2 1.2 -1.6 4.1z"/><path color="#34a5e7" d="M211.3 127.5l1.5 5.2 -1.6-2.2 -1.6-5.6z"/><path color="#3438e8" d="M221 143.7l1.6 2.3 -1.7-.2 -1.6-2.6z"/><path color="#88ff00" d="M274.1 110.8l1.7-3.4 -1.9 1.7 -1.7 3.8z"/><path color="#1419fe" d="M249.1 143.5l1.6-.8 -1.9 2.1 -1.6 .7z"/><path color="#2e0bfe" d="M227.6 147.2l3.2 1.8 -3.5 1.1 -3.1-2.3z"/><path color="#75377a" d="M167.9 40.5l1.6 1.4 -1.5 1.6 -1.7-1.4z"/><path color="#73a57a" d="M203.3 105.1l1.5 7.2 -1.6-3.5 -1.5-7.2z"/><path color="#59ff00" d="M272.5 114l1.6-3.2 -1.9 2.1 -1.7 3.6z"/><path color="#8e377a" d="M177.6 46.9l1.7 3.6 -1.6 1.2 -1.6-3.5z"/><path color="#146efe" d="M257.4 136.2l1.6-1.7 -1.9 3 -1.6 1.5z"/><path color="#a2387a" d="M185.7 58l1.6 5.2 -1.5-.3 -1.7-4.8z"/><path color="#a2727a" d="M195.3 80.5l1.6 7.2 -1.6-2.8 -1.6-6.8z"/><path color="#7e377a" d="M172.7 42.5l1.7 2.6 -1.5 1.5 -1.7-2.6z"/><path color="#2dff00" d="M270.8 117l1.7-3 -2 2.5 -1.6 3.3z"/><path color="#a2397a" d="M188.9 63.9l1.6 6 -1.5-1.2 -1.7-5.5z"/><path color="#a23c7a" d="M192.1 71.4l1.6 6.7 -1.5-2 -1.7-6.2z"/><path color="#34a597" d="M208.1 118.7l1.5 6.2 -1.6-2.8 -1.5-6.5z"/><path color="#03ff00" d="M269.2 119.8l1.6-2.8 -1.9 2.8 -1.7 3z"/><path color="#3b37e8" d="M224.3 146l1.6 1.6 -1.7 .2 -1.6-1.8z"/><path color="#270bfe" d="M237.6 147.6l3.2-.3 -3.6 2.3 -3.2 0z"/><path color="#1416fe" d="M247.4 144.3l1.7-.8 -1.9 2 -1.6 .6z"/><path color="#1459fe" d="M255.8 137.8l1.6-1.6 -1.9 2.8 -1.6 1.4z"/><path color="#75377a" d="M162.8 41.3l3.4-1.5 -3.1 3.3 -3.3 1.4z"/><path color="#00ff3d" d="M267.5 122.5l1.7-2.7 -2 3 -1.6 2.8z"/><path color="#72377a" d="M166.2 39.8l1.7 .7 -1.6 1.6 -1.6-.7z"/><path color="#99a57a" d="M200.1 94.2l1.6 7.4 -1.6-3.5 -1.6-7.3z"/><path color="#95377a" d="M180.9 49.5l1.6 4.1 -1.6 .8 -1.6-3.9z"/><path color="#14c39e" d="M265.9 125l1.6-2.5 -1.9 3.1 -1.7 2.5z"/><path color="#1447fe" d="M254.2 139.2l1.6-1.4 -1.9 2.6 -1.6 1.2z"/><path color="#3463e8" d="M216.2 136.1l1.5 3.9 -1.6-1.1 -1.6-4.3z"/><path color="#75377a" d="M171.1 40.4l1.6 2.1 -1.5 1.5 -1.7-2.1z"/><path color="#82377a" d="M176 43.7l1.6 3.2 -1.5 1.3 -1.7-3.1z"/><path color="#1413fe" d="M245.8 144.9l1.6-.6 -1.8 1.8 -1.6 .5z"/><path color="#3447e8" d="M219.4 140.8l1.6 2.9 -1.7-.5 -1.6-3.2z"/><path color="#60a57a" d="M204.9 108.6l1.6 7 -1.7-3.3 -1.5-7.2z"/><path color="#3498e8" d="M212.9 129.7l1.6 4.9 -1.7-1.9 -1.5-5.2z"/><path color="#14c3c3" d="M264.2 127.3l1.7-2.3 -2 3.1 -1.6 2.4z"/><path color="#a0377a" d="M184.1 53.2l1.6 4.8 -1.6 .1 -1.6-4.5z"/><path color="#a27d7a" d="M196.9 83.4l1.6 7.4 -1.6-3.1 -1.6-7.2z"/><path color="#d4ff00" d="M279.4 102.9l1.6-3 -1.9 .2 -1.6 3.7z"/><path color="#1438fe" d="M252.5 140.4l1.7-1.2 -1.9 2.4 -1.6 1.1z"/><path color="#343ce8" d="M222.7 143.9l1.6 2.1 -1.7 0 -1.6-2.3z"/><path color="#14c3e3" d="M262.6 129.5l1.6-2.2 -1.9 3.2 -1.6 2.1z"/><path color="#beff00" d="M277.7 105.9l1.7-3 -1.9 .9 -1.7 3.6z"/><path color="#34a5af" d="M209.7 121.6l1.6 5.9 -1.7-2.6 -1.5-6.2z"/><path color="#a2387a" d="M187.3 58.3l1.6 5.6 -1.6-.7 -1.6-5.2z"/><path color="#a2457a" d="M193.7 73.5l1.6 7 -1.6-2.4 -1.6-6.7z"/><path color="#a8ff00" d="M276.1 108.8l1.6-2.9 -1.9 1.5 -1.7 3.4z"/><path color="#70377a" d="M169.4 38.9l1.7 1.5 -1.6 1.5 -1.6-1.4z"/><path color="#14c1fe" d="M260.9 131.5l1.7-2 -1.9 3.1 -1.7 1.9z"/><path color="#88377a" d="M179.2 45.8l1.7 3.7 -1.6 1 -1.7-3.6z"/><path color="#8fa57a" d="M201.7 97.7l1.6 7.4 -1.6-3.5 -1.6-7.4z"/><path color="#a2397a" d="M190.5 65.1l1.6 6.3 -1.6-1.5 -1.6-6z"/><path color="#1e0bfe" d="M234.4 147.2l3.2 .4 -3.6 2 -3.2-.6z"/><path color="#1431fe" d="M250.9 141.5l1.6-1.1 -1.8 2.3 -1.6 .8z"/><path color="#88ff00" d="M274.4 111.6l1.7-2.8 -2 2 -1.6 3.2z"/><path color="#77377a" d="M174.3 41l1.7 2.7 -1.6 1.4 -1.7-2.6z"/><path color="#1d0bfe" d="M231 147.5l1.6 .7 -1.8 .8 -1.6-.7z"/><path color="#3437e8" d="M226 145.7l1.6 1.5 -1.7 .4 -1.6-1.6z"/><path color="#4fa57a" d="M206.5 112l1.6 6.7 -1.6-3.1 -1.6-7z"/><path color="#14a6fe" d="M259.3 133.4l1.6-1.9 -1.9 3 -1.6 1.7z"/><path color="#60ff00" d="M272.8 114.3l1.6-2.7 -1.9 2.4 -1.7 3z"/><path color="#3461e8" d="M217.8 137.1l1.6 3.7 -1.7-.8 -1.5-3.9z"/><path color="#348fe8" d="M214.6 131.5l1.6 4.6 -1.7-1.5 -1.6-4.9z"/><path color="#142cfe" d="M249.3 142.4l1.6-.9 -1.8 2 -1.7 .8z"/><path color="#3aff00" d="M271.1 116.9l1.7-2.6 -2 2.7 -1.6 2.8z"/><path color="#91377a" d="M182.4 48.8l1.7 4.4 -1.6 .4 -1.6-4.1z"/><path color="#a28b7a" d="M198.5 86.6l1.6 7.6 -1.6-3.4 -1.6-7.4z"/><path color="#6d377a" d="M167.7 38.3l1.7 .6 -1.5 1.6 -1.7-.7z"/><path color="#148efe" d="M257.7 135.1l1.6-1.7 -1.9 2.8 -1.6 1.6z"/><path color="#344ae8" d="M221.1 141.1l1.6 2.8 -1.7-.2 -1.6-2.9z"/><path color="#14ff00" d="M269.5 119.5l1.6-2.6 -1.9 2.9 -1.7 2.7z"/><path color="#34a5c1" d="M211.4 124.1l1.5 5.6 -1.6-2.2 -1.6-5.9z"/><path color="#7b377a" d="M177.5 42.5l1.7 3.3 -1.6 1.1 -1.6-3.2z"/><path color="#70377a" d="M172.6 39l1.7 2 -1.6 1.5 -1.6-2.1z"/><path color="#85a57a" d="M203.3 101.4l1.6 7.2 -1.6-3.5 -1.6-7.4z"/><path color="#141cfe" d="M244.4 144.5l3.3-1.3 -3.7 3.4 -3.2 .7z"/><path color="#140dfe" d="M229.4 146.5l1.6 1 -1.8 .8 -1.6-1.1z"/><path color="#ddff00" d="M281.3 102.2l1.7-2.3 -2 0 -1.6 3z"/><path color="#9e377a" d="M185.7 53.2l1.6 5.1 -1.6-.3 -1.6-4.8z"/><path color="#14c359" d="M267.8 121.9l1.7-2.4 -2 3 -1.6 2.5z"/><path color="#1429fe" d="M247.7 143.2l1.6-.8 -1.9 1.9 -1.6 .6z"/><path color="#1479fe" d="M256.1 136.7l1.6-1.6 -1.9 2.7 -1.6 1.4z"/><path color="#a2527a" d="M195.3 76.1l1.6 7.3 -1.6-2.9 -1.6-7z"/><path color="#3442e8" d="M224.4 143.7l1.6 2 -1.7 .3 -1.6-2.1z"/><path color="#a2387a" d="M188.9 59.1l1.6 6 -1.6-1.2 -1.6-5.6z"/><path color="#cdff00" d="M279.7 104.6l1.6-2.4 -1.9 .7 -1.7 3z"/><path color="#a2397a" d="M192.1 66.7l1.6 6.8 -1.6-2.1 -1.6-6.3z"/><path color="#3ea57a" d="M208.2 115.2l1.5 6.4 -1.6-2.9 -1.6-6.7z"/><path color="#14c382" d="M266.2 124.3l1.6-2.4 -1.9 3.1 -1.7 2.3z"/><path color="#1467fe" d="M254.4 138.1l1.7-1.4 -1.9 2.5 -1.7 1.2z"/><path color="#bcff00" d="M278 107l1.7-2.4 -2 1.3 -1.6 2.9z"/><path color="#83377a" d="M180.8 45l1.6 3.8 -1.5 .7 -1.7-3.7z"/><path color="#14c3a9" d="M264.5 126.5l1.7-2.2 -2 3 -1.6 2.2z"/><path color="#a2997a" d="M200.1 90.2l1.6 7.5 -1.6-3.5 -1.6-7.6z"/><path color="#6b377a" d="M170.9 37.6l1.7 1.4 -1.5 1.4 -1.7-1.5z"/><path color="#72377a" d="M175.9 39.8l1.6 2.7 -1.5 1.2 -1.7-2.7z"/><path color="#3489e8" d="M216.3 132.9l1.5 4.2 -1.6-1 -1.6-4.6z"/><path color="#141bfe" d="M227.8 145.1l1.6 1.4 -1.8 .7 -1.6-1.5z"/><path color="#aaff00" d="M276.4 109.4l1.6-2.4 -1.9 1.8 -1.7 2.8z"/><path color="#1414fe" d="M232.8 146.6l1.6 .6 -1.8 1 -1.6-.7z"/><path color="#3463e8" d="M219.5 137.8l1.6 3.3 -1.7-.3 -1.6-3.7z"/><path color="#1457fe" d="M252.8 139.3l1.6-1.2 -1.9 2.3 -1.6 1.1z"/><path color="#14c3c8" d="M262.9 128.6l1.6-2.1 -1.9 3 -1.7 2z"/><path color="#7ba57a" d="M205 105l1.5 7 -1.6-3.4 -1.6-7.2z"/><path color="#34a5ce" d="M213 126.3l1.6 5.2 -1.7-1.8 -1.5-5.6z"/><path color="#141efe" d="M241.2 145.2l3.2-.7 -3.6 2.8 -3.2 .3z"/><path color="#91ff00" d="M274.7 111.8l1.7-2.4 -2 2.2 -1.6 2.7z"/><path color="#8f377a" d="M184 48.6l1.7 4.6 -1.6 0 -1.7-4.4z"/><path color="#a2617a" d="M196.9 79.2l1.6 7.4 -1.6-3.2 -1.6-7.3z"/><path color="#6b377a" d="M165.9 38.5l3.3-1.5 -3 2.8 -3.4 1.5z"/><path color="#344fe8" d="M222.9 141.1l1.5 2.6 -1.7 .2 -1.6-2.8z"/><path color="#14c3e4" d="M261.2 130.6l1.7-2 -2 2.9 -1.6 1.9z"/><path color="#68377a" d="M169.2 37l1.7 .6 -1.5 1.3 -1.7-.6z"/><path color="#144bfe" d="M251.2 140.5l1.6-1.2 -1.9 2.2 -1.6 .9z"/><path color="#34a581" d="M209.8 118.1l1.6 6 -1.7-2.5 -1.5-6.4z"/><path color="#6eff00" d="M273.1 114.3l1.6-2.5 -1.9 2.5 -1.7 2.6z"/><path color="#e4ff00" d="M283.3 101.8l1.6-1.6 -1.9-.3 -1.7 2.3z"/><path color="#9e377a" d="M187.3 53.6l1.6 5.5 -1.6-.8 -1.6-5.1z"/><path color="#76377a" d="M179.1 41.6l1.7 3.4 -1.6 .8 -1.7-3.3z"/><path color="#a2397a" d="M193.7 69l1.6 7.1 -1.6-2.6 -1.6-6.8z"/><path color="#6b377a" d="M174.2 37.8l1.7 2 -1.6 1.2 -1.7-2z"/><path color="#14c2fe" d="M259.6 132.4l1.6-1.8 -1.9 2.8 -1.6 1.7z"/><path color="#9fa57a" d="M201.8 94l1.5 7.4 -1.6-3.7 -1.6-7.5z"/><path color="#141ffe" d="M231.2 145.6l1.6 1 -1.8 .9 -1.6-1z"/><path color="#a2387a" d="M190.5 60.4l1.6 6.3 -1.6-1.6 -1.6-6z"/><path color="#4bff00" d="M271.4 116.7l1.7-2.4 -2 2.6 -1.6 2.6z"/><path color="#344ae8" d="M226.2 143.2l1.6 1.9 -1.8 .6 -1.6-2z"/><path color="#d9ff00" d="M281.6 103.6l1.7-1.8 -2 .4 -1.6 2.4z"/><path color="#1442fe" d="M249.5 141.4l1.7-.9 -1.9 1.9 -1.6 .8z"/><path color="#6ba57a" d="M206.6 108.5l1.6 6.7 -1.7-3.2 -1.5-7z"/><path color="#28ff00" d="M269.8 119l1.6-2.3 -1.9 2.8 -1.7 2.4z"/><path color="#14aafe" d="M258 134.2l1.6-1.8 -1.9 2.7 -1.6 1.6z"/><path color="#3489e8" d="M218 133.8l1.5 4 -1.7-.7 -1.5-4.2z"/><path color="#7f377a" d="M182.4 44.5l1.6 4.1 -1.6 .2 -1.6-3.8z"/><path color="#34a5d7" d="M214.7 128.1l1.6 4.8 -1.7-1.4 -1.6-5.2z"/><path color="#cdff00" d="M280 105.5l1.6-1.9 -1.9 1 -1.7 2.4z"/><path color="#a2727a" d="M198.6 82.7l1.5 7.5 -1.6-3.6 -1.6-7.4z"/><path color="#18c346" d="M268.1 121.3l1.7-2.3 -2 2.9 -1.6 2.4z"/><path color="#346be8" d="M221.3 138l1.6 3.1 -1.8 0 -1.6-3.3z"/><path color="#143cfe" d="M247.9 142.3l1.6-.9 -1.8 1.8 -1.6 .7z"/><path color="#1496fe" d="M256.3 135.8l1.7-1.6 -1.9 2.5 -1.7 1.4z"/><path color="#1427fe" d="M238 144.9l3.2 .3 -3.6 2.4 -3.2-.4z"/><path color="#6e377a" d="M177.4 38.9l1.7 2.7 -1.6 .9 -1.6-2.7z"/><path color="#34a594" d="M211.5 120.7l1.5 5.6 -1.6-2.2 -1.6-6z"/><path color="#142cfe" d="M229.5 144.2l1.7 1.4 -1.8 .9 -1.6-1.4z"/><path color="#14c366" d="M266.5 123.6l1.6-2.3 -1.9 3 -1.7 2.2z"/><path color="#1427fe" d="M234.5 145.5l1.7 .6 -1.8 1.1 -1.6-.6z"/><path color="#bfff00" d="M278.4 107.5l1.6-2 -2 1.5 -1.6 2.4z"/><path color="#94a57a" d="M203.4 97.8l1.6 7.2 -1.7-3.6 -1.5-7.4z"/><path color="#8d377a" d="M185.6 48.8l1.7 4.8 -1.6-.4 -1.7-4.6z"/><path color="#a23a7a" d="M195.3 72l1.6 7.2 -1.6-3.1 -1.6-7.1z"/><path color="#1484fe" d="M254.7 137.2l1.6-1.4 -1.9 2.3 -1.6 1.2z"/><path color="#345be8" d="M224.6 140.8l1.6 2.4 -1.8 .5 -1.5-2.6z"/><path color="#14c38c" d="M264.8 125.8l1.7-2.2 -2 2.9 -1.6 2.1z"/><path color="#143afe" d="M246.3 143l1.6-.7 -1.8 1.6 -1.7 .6z"/><path color="#afff00" d="M276.7 109.7l1.7-2.2 -2 1.9 -1.7 2.4z"/><path color="#9f377a" d="M188.9 54.7l1.6 5.7 -1.6-1.3 -1.6-5.5z"/><path color="#a2387a" d="M192.1 62.5l1.6 6.5 -1.6-2.3 -1.6-6.3z"/><path color="#5aa57a" d="M208.2 111.8l1.6 6.3 -1.6-2.9 -1.6-6.7z"/><path color="#73377a" d="M180.7 41.1l1.7 3.4 -1.6 .5 -1.7-3.4z"/><path color="#14c3b0" d="M263.2 127.9l1.6-2.1 -1.9 2.8 -1.7 2z"/><path color="#67377a" d="M175.8 36.9l1.6 2 -1.5 .9 -1.7-2z"/><path color="#1475fe" d="M253.1 138.5l1.6-1.3 -1.9 2.1 -1.6 1.2z"/><path color="#9eff00" d="M275.1 111.8l1.6-2.1 -2 2.1 -1.6 2.5z"/><path color="#a2827a" d="M200.2 86.5l1.6 7.5 -1.7-3.8 -1.5-7.5z"/><path color="#1432fe" d="M232.9 144.6l1.6 .9 -1.7 1.1 -1.6-1z"/><path color="#1441fe" d="M228 142.4l1.5 1.8 -1.7 .9 -1.6-1.9z"/><path color="#63377a" d="M172.4 34.9l3.4 2 -3.2 2.1 -3.4-2z"/><path color="#34a5da" d="M216.4 129.4l1.6 4.4 -1.7-.9 -1.6-4.8z"/><path color="#14c3cc" d="M261.5 129.9l1.7-2 -2 2.7 -1.6 1.8z"/><path color="#7eff00" d="M273.4 114.1l1.7-2.3 -2 2.5 -1.7 2.4z"/><path color="#348ee8" d="M219.7 134.3l1.6 3.7 -1.8-.2 -1.5-4z"/><path color="#8aa57a" d="M205 101.5l1.6 7 -1.6-3.5 -1.6-7.2z"/><path color="#34a5a2" d="M213.1 122.8l1.6 5.3 -1.7-1.8 -1.5-5.6z"/><path color="#146afe" d="M251.4 139.6l1.7-1.1 -1.9 2 -1.7 .9z"/><path color="#7d377a" d="M184 44.6l1.6 4.2 -1.6-.2 -1.6-4.1z"/><path color="#e8ff00" d="M285.6 102.7l3.1-1 -3.8-1.5 -3.3 3.4z"/><path color="#dbff00" d="M282 104.4l1.6-1.5 -2 .7 -1.6 1.9z"/><path color="#a2437a" d="M197 75.4l1.6 7.3 -1.7-3.5 -1.6-7.2z"/><path color="#5cff00" d="M271.8 116.4l1.6-2.3 -2 2.6 -1.6 2.3z"/><path color="#14c3e6" d="M259.9 131.8l1.6-1.9 -1.9 2.5 -1.6 1.8z"/><path color="#3478e8" d="M223 137.8l1.6 3 -1.7 .3 -1.6-3.1z"/><path color="#6a377a" d="M179 38.4l1.7 2.7 -1.6 .5 -1.7-2.7z"/><path color="#4ca57a" d="M209.9 114.7l1.6 6 -1.7-2.6 -1.6-6.3z"/><path color="#8e377a" d="M187.2 49.6l1.7 5.1 -1.6-1.1 -1.7-4.8z"/><path color="#1462fe" d="M249.8 140.6l1.6-1 -1.9 1.8 -1.6 .9z"/><path color="#3bff00" d="M270.1 118.7l1.7-2.3 -2 2.6 -1.7 2.3z"/><path color="#a2387a" d="M193.7 65.2l1.6 6.8 -1.6-3 -1.6-6.5z"/><path color="#1446fe" d="M231.3 143.2l1.6 1.4 -1.7 1 -1.7-1.4z"/><path color="#d1ff00" d="M280.4 106l1.6-1.6 -2 1.1 -1.6 2z"/><path color="#14c3fd" d="M258.2 133.5l1.7-1.7 -1.9 2.4 -1.7 1.6z"/><path color="#a2377a" d="M190.5 56.5l1.6 6 -1.6-2.1 -1.6-5.7z"/><path color="#a2937a" d="M201.8 90.5l1.6 7.3 -1.6-3.8 -1.6-7.5z"/><path color="#143ffe" d="M236.4 144.3l1.6 .6 -1.8 1.2 -1.7-.6z"/><path color="#346ee8" d="M226.4 140l1.6 2.4 -1.8 .8 -1.6-2.4z"/><path color="#19ff00" d="M268.5 120.9l1.6-2.2 -2 2.6 -1.6 2.3z"/><path color="#62377a" d="M169 36.2l3.4-1.3 -3.2 2.1 -3.3 1.5z"/><path color="#80a57a" d="M206.6 105.1l1.6 6.7 -1.6-3.3 -1.6-7z"/><path color="#c4ff00" d="M278.7 107.8l1.7-1.8 -2 1.5 -1.7 2.2z"/><path color="#1450fe" d="M244.9 142.3l3.3-.9 -3.8 3.1 -3.2 .7z"/><path color="#14affe" d="M256.6 135.1l1.6-1.6 -1.9 2.3 -1.6 1.4z"/><path color="#145ffe" d="M248.2 141.4l1.6-.8 -1.9 1.7 -1.6 .7z"/><path color="#71377a" d="M182.3 41.1l1.7 3.5 -1.6-.1 -1.7-3.4z"/><path color="#14c34f" d="M266.8 123.2l1.7-2.3 -2 2.7 -1.7 2.2z"/><path color="#64377a" d="M177.3 36.3l1.7 2.1 -1.6 .5 -1.6-2z"/><path color="#a2577a" d="M198.6 79.3l1.6 7.2 -1.6-3.8 -1.6-7.3z"/><path color="#34a5d8" d="M218.1 130.1l1.6 4.2 -1.7-.5 -1.6-4.4z"/><path color="#34a5aa" d="M214.8 124.4l1.6 5 -1.7-1.3 -1.6-5.3z"/><path color="#b6ff00" d="M277.1 109.8l1.6-2 -2 1.9 -1.6 2.1z"/><path color="#149efe" d="M255 136.6l1.6-1.5 -1.9 2.1 -1.6 1.3z"/><path color="#1454fe" d="M234.7 143.3l1.7 1 -1.9 1.2 -1.6-.9z"/><path color="#3499e8" d="M221.4 134.2l1.6 3.6 -1.7 .2 -1.6-3.7z"/><path color="#1466fe" d="M229.7 141.4l1.6 1.8 -1.8 1 -1.5-1.8z"/><path color="#14c375" d="M265.1 125.3l1.7-2.1 -2 2.6 -1.6 2.1z"/><path color="#7d377a" d="M185.6 45.3l1.6 4.3 -1.6-.8 -1.6-4.2z"/><path color="#41a57a" d="M211.5 117.2l1.6 5.6 -1.6-2.1 -1.6-6z"/><path color="#a2a37a" d="M203.4 94.5l1.6 7 -1.6-3.7 -1.6-7.3z"/><path color="#a2397a" d="M195.3 68.5l1.7 6.9 -1.7-3.4 -1.6-6.8z"/><path color="#e6ff00" d="M284 103.7l1.6-1 -2 .2 -1.6 1.5z"/><path color="#a6ff00" d="M275.4 111.9l1.7-2.1 -2 2 -1.7 2.3z"/><path color="#14c399" d="M263.5 127.4l1.6-2.1 -1.9 2.6 -1.7 2z"/><path color="#90377a" d="M188.8 51.2l1.7 5.3 -1.6-1.8 -1.7-5.1z"/><path color="#1491fe" d="M253.3 137.8l1.7-1.2 -1.9 1.9 -1.7 1.1z"/><path color="#3489e8" d="M224.8 137.1l1.6 2.9 -1.8 .8 -1.6-3z"/><path color="#a2377a" d="M192.1 59l1.6 6.2 -1.6-2.7 -1.6-6z"/><path color="#68377a" d="M180.6 38.2l1.7 2.9 -1.6 0 -1.7-2.7z"/><path color="#77a57a" d="M208.3 108.3l1.6 6.4 -1.7-2.9 -1.6-6.7z"/><path color="#8cff00" d="M273.8 114l1.6-2.1 -2 2.2 -1.6 2.3z"/><path color="#14c3b8" d="M261.8 129.5l1.7-2.1 -2 2.5 -1.6 1.9z"/><path color="#dfff00" d="M282.3 105l1.7-1.3 -2 .7 -1.6 1.6z"/><path color="#a26d7a" d="M200.2 83.3l1.6 7.2 -1.6-4 -1.6-7.2z"/><path color="#1464fe" d="M241.6 142.1l3.3 .2 -3.7 2.9 -3.2-.3z"/><path color="#146ffe" d="M233.1 141.9l1.6 1.4 -1.8 1.3 -1.6-1.4z"/><path color="#1489fe" d="M251.7 138.9l1.6-1.1 -1.9 1.8 -1.6 1z"/><path color="#6bff00" d="M272.1 116.3l1.7-2.3 -2 2.4 -1.7 2.3z"/><path color="#1467fe" d="M238.2 143l1.6 .6 -1.8 1.3 -1.6-.6z"/><path color="#148cfe" d="M228.1 139l1.6 2.4 -1.7 1 -1.6-2.4z"/><path color="#14c3d1" d="M260.2 131.3l1.6-1.8 -1.9 2.3 -1.7 1.7z"/><path color="#70377a" d="M183.9 41.5l1.7 3.8 -1.6-.7 -1.7-3.5z"/><path color="#98a57a" d="M205.1 98.3l1.5 6.8 -1.6-3.6 -1.6-7z"/><path color="#34a5ab" d="M216.5 125.4l1.6 4.7 -1.7-.7 -1.6-5z"/><path color="#d5ff00" d="M280.7 106.5l1.6-1.5 -1.9 1 -1.7 1.8z"/><path color="#4aff00" d="M270.4 118.5l1.7-2.2 -2 2.4 -1.6 2.2z"/><path color="#34a5d0" d="M219.8 130.2l1.6 4 -1.7 .1 -1.6-4.2z"/><path color="#a23a7a" d="M197 72.3l1.6 7 -1.6-3.9 -1.7-6.9z"/><path color="#62377a" d="M178.9 36l1.7 2.2 -1.6 .2 -1.7-2.1z"/><path color="#3aa57a" d="M213.2 119.1l1.6 5.3 -1.7-1.6 -1.6-5.6z"/><path color="#1484fe" d="M250 139.8l1.7-.9 -1.9 1.7 -1.6 .8z"/><path color="#14c3e7" d="M258.5 133.1l1.7-1.8 -2 2.2 -1.6 1.6z"/><path color="#eaff00" d="M289.5 103.7l3.1 .9 -3.9-2.9 -3.1 1z"/><path color="#7f377a" d="M187.2 46.6l1.6 4.6 -1.6-1.6 -1.6-4.3z"/><path color="#5e377a" d="M175.5 33.8l3.4 2.2 -3.1 .9 -3.4-2z"/><path color="#28ff00" d="M268.8 120.8l1.6-2.3 -1.9 2.4 -1.7 2.3z"/><path color="#34a5e4" d="M223.2 133.7l1.6 3.4 -1.8 .7 -1.6-3.6z"/><path color="#a2387a" d="M193.7 62.2l1.6 6.3 -1.6-3.3 -1.6-6.2z"/><path color="#c9ff00" d="M279.1 108.2l1.6-1.7 -2 1.3 -1.6 2z"/><path color="#6aa57a" d="M210 111.1l1.5 6.1 -1.6-2.5 -1.6-6.4z"/><path color="#95377a" d="M190.5 53.5l1.6 5.5 -1.6-2.5 -1.7-5.3z"/><path color="#147efe" d="M236.6 142l1.6 1 -1.8 1.3 -1.7-1z"/><path color="#148ffe" d="M231.5 140.1l1.6 1.8 -1.8 1.3 -1.6-1.8z"/><path color="#a27e7a" d="M201.8 87.4l1.6 7.1 -1.6-4 -1.6-7.2z"/><path color="#14c3f9" d="M256.9 134.7l1.6-1.6 -1.9 2 -1.6 1.5z"/><path color="#08ff00" d="M267.1 123l1.7-2.2 -2 2.4 -1.7 2.1z"/><path color="#67377a" d="M182.2 38.5l1.7 3 -1.6-.4 -1.7-2.9z"/><path color="#bbff00" d="M277.4 110.1l1.7-1.9 -2 1.6 -1.7 2.1z"/><path color="#349fe8" d="M226.5 136.1l1.6 2.9 -1.7 1 -1.6-2.9z"/><path color="#8fa57a" d="M206.7 101.8l1.6 6.5 -1.7-3.2 -1.5-6.8z"/><path color="#00ff28" d="M265.4 125.2l1.7-2.2 -2 2.3 -1.6 2.1z"/><path color="#14b8fe" d="M255.2 136.1l1.7-1.4 -1.9 1.9 -1.7 1.2z"/><path color="#a23e7a" d="M198.6 76.3l1.6 7 -1.6-4 -1.6-7z"/><path color="#abff00" d="M275.7 112.1l1.7-2 -2 1.8 -1.6 2.1z"/><path color="#71377a" d="M185.5 42.6l1.7 4 -1.6-1.3 -1.7-3.8z"/><path color="#00ff59" d="M263.8 127.3l1.6-2.1 -1.9 2.2 -1.7 2.1z"/><path color="#149afe" d="M235 140.5l1.6 1.5 -1.9 1.3 -1.6-1.4z"/><path color="#38a57a" d="M214.9 120.3l1.6 5.1 -1.7-1 -1.6-5.3z"/><path color="#34a5a4" d="M218.2 125.7l1.6 4.5 -1.7-.1 -1.6-4.7z"/><path color="#14affe" d="M253.6 137.3l1.6-1.2 -1.9 1.7 -1.6 1.1z"/><path color="#ecff00" d="M286.3 104.5l3.2-.8 -3.9-1 -3.3 2.3z"/><path color="#1491fe" d="M240 141.5l1.6 .6 -1.8 1.5 -1.6-.6z"/><path color="#a2387a" d="M195.3 65.8l1.7 6.5 -1.7-3.8 -1.6-6.3z"/><path color="#5c377a" d="M172.1 34.6l3.4-.8 -3.1 1.1 -3.4 1.3z"/><path color="#95ff00" d="M274.1 114.3l1.6-2.2 -1.9 1.9 -1.7 2.3z"/><path color="#a28f7a" d="M203.5 91.4l1.6 6.9 -1.7-3.8 -1.6-7.1z"/><path color="#14b6fe" d="M229.9 137.7l1.6 2.4 -1.8 1.3 -1.6-2.4z"/><path color="#60a57a" d="M211.6 113.3l1.6 5.8 -1.7-1.9 -1.5-6.1z"/><path color="#61377a" d="M180.5 36.2l1.7 2.3 -1.6-.3 -1.7-2.2z"/><path color="#84377a" d="M188.8 48.6l1.7 4.9 -1.7-2.3 -1.6-4.6z"/><path color="#34a5c1" d="M221.6 129.8l1.6 3.9 -1.8 .5 -1.6-4z"/><path color="#00ff85" d="M262.1 129.3l1.7-2 -2 2.2 -1.6 1.8z"/><path color="#9c377a" d="M192.1 56.4l1.6 5.8 -1.6-3.2 -1.6-5.5z"/><path color="#75ff00" d="M272.4 116.5l1.7-2.2 -2 2 -1.7 2.2z"/><path color="#149cfe" d="M248.6 139.3l3.3-1.1 -3.7 3.2 -3.3 .9z"/><path color="#1496fe" d="M245.1 140.9l1.7 0 -1.9 1.4 -1.6 .1z"/><path color="#14aafe" d="M251.9 138.2l1.7-.9 -1.9 1.6 -1.7 .9z"/><path color="#87a57a" d="M208.4 104.8l1.6 6.3 -1.7-2.8 -1.6-6.5z"/><path color="#00ffa8" d="M260.4 131.2l1.7-1.9 -1.9 2 -1.7 1.8z"/><path color="#34a5cf" d="M224.9 132.7l1.6 3.4 -1.7 1 -1.6-3.4z"/><path color="#a2547a" d="M200.2 80.4l1.6 7 -1.6-4.1 -1.6-7z"/><path color="#53ff00" d="M270.7 118.8l1.7-2.3 -2 2 -1.6 2.3z"/><path color="#68377a" d="M183.8 39.4l1.7 3.2 -1.6-1.1 -1.7-3z"/><path color="#14aafe" d="M238.4 140.5l1.6 1 -1.8 1.5 -1.6-1z"/><path color="#14bcfe" d="M233.3 138.6l1.7 1.9 -1.9 1.4 -1.6-1.8z"/><path color="#00ffc4" d="M258.8 132.9l1.6-1.7 -1.9 1.9 -1.6 1.6z"/><path color="#cbff00" d="M279.4 108.9l1.6-1.8 -1.9 1.1 -1.7 1.9z"/><path color="#32ff00" d="M269.1 121.1l1.6-2.3 -1.9 2 -1.7 2.2z"/><path color="#a29e7a" d="M205.1 95.1l1.6 6.7 -1.6-3.5 -1.6-6.9z"/><path color="#e0ff00" d="M283 106.7l3.3-2.2 -4 .5 -3.2 3.2z"/><path color="#14a6fe" d="M243.5 140.6l1.6 .3 -1.8 1.5 -1.7-.3z"/><path color="#a2397a" d="M197 69.7l1.6 6.6 -1.6-4 -1.7-6.5z"/><path color="#14c3de" d="M228.3 134.8l1.6 2.9 -1.8 1.3 -1.6-2.9z"/><path color="#deff00" d="M293.4 107l3 2.2 -3.8-4.6 -3.1-.9z"/><path color="#74377a" d="M187.1 44.4l1.7 4.2 -1.6-2 -1.7-4z"/><path color="#14c3e2" d="M257.1 134.4l1.7-1.5 -1.9 1.8 -1.7 1.4z"/><path color="#12ff00" d="M267.4 123.3l1.7-2.2 -2 1.9 -1.7 2.2z"/><path color="#3ba57a" d="M216.6 120.8l1.6 4.9 -1.7-.3 -1.6-5.1z"/><path color="#a2377a" d="M193.7 59.8l1.6 6 -1.6-3.6 -1.6-5.8z"/><path color="#bdff00" d="M277.7 110.8l1.7-1.9 -2 1.2 -1.7 2z"/><path color="#8a377a" d="M190.4 51.3l1.7 5.1 -1.6-2.9 -1.7-4.9z"/><path color="#5ca57a" d="M213.3 114.8l1.6 5.5 -1.7-1.2 -1.6-5.8z"/><path color="#34a594" d="M220 125.4l1.6 4.4 -1.8 .4 -1.6-4.5z"/><path color="#a26a7a" d="M201.9 84.5l1.6 6.9 -1.7-4 -1.6-7z"/><path color="#61377a" d="M182.1 36.9l1.7 2.5 -1.6-.9 -1.7-2.3z"/><path color="#00ff15" d="M265.7 125.5l1.7-2.2 -2 1.9 -1.6 2.1z"/><path color="#14c3f8" d="M236.8 139l1.6 1.5 -1.8 1.5 -1.6-1.5z"/><path color="#81a57a" d="M210 107.3l1.6 6 -1.6-2.2 -1.6-6.3z"/><path color="#adff00" d="M276.1 112.8l1.6-2 -2 1.3 -1.6 2.2z"/><path color="#14c3ed" d="M255.5 135.7l1.6-1.3 -1.9 1.7 -1.6 1.2z"/><path color="#14bcfe" d="M241.9 140l1.6 .6 -1.9 1.5 -1.6-.6z"/><path color="#14c3dd" d="M231.7 136.1l1.6 2.5 -1.8 1.5 -1.6-2.4z"/><path color="#34a5ab" d="M223.4 128.8l1.5 3.9 -1.7 1 -1.6-3.9z"/><path color="#5b377a" d="M178.7 34l3.4 2.9 -3.2-.9 -3.4-2.2z"/><path color="#00ff44" d="M264.1 127.6l1.6-2.1 -1.9 1.8 -1.7 2z"/><path color="#9ea57a" d="M206.8 98.3l1.6 6.5 -1.7-3 -1.6-6.7z"/><path color="#a23a7a" d="M198.6 73.7l1.6 6.7 -1.6-4.1 -1.6-6.6z"/><path color="#99ff00" d="M274.4 115l1.7-2.2 -2 1.5 -1.7 2.2z"/><path color="#14befe" d="M247 139.4l1.6-.1 -1.8 1.6 -1.7 0z"/><path color="#6a377a" d="M185.4 40.9l1.7 3.5 -1.6-1.8 -1.7-3.2z"/><path color="#14c3f1" d="M253.8 136.7l1.7-1 -1.9 1.6 -1.7 .9z"/><path color="#34a5b6" d="M226.7 131.3l1.6 3.5 -1.8 1.3 -1.6-3.4z"/><path color="#00ff6d" d="M262.4 129.5l1.7-1.9 -2 1.7 -1.7 1.9z"/><path color="#c6ff00" d="M296.8 110.7l1.5 1.5 -1.9-3 -1.5-1.4z"/><path color="#78ff00" d="M272.7 117.2l1.7-2.2 -2 1.5 -1.7 2.3z"/><path color="#a2387a" d="M195.3 63.5l1.7 6.2 -1.7-3.9 -1.6-6z"/><path color="#7a377a" d="M188.7 46.8l1.7 4.5 -1.6-2.7 -1.7-4.2z"/><path color="#d7ff00" d="M281.4 108.2l1.6-1.5 -2 .4 -1.6 1.8z"/><path color="#14c3ea" d="M240.3 138.9l1.6 1.1 -1.9 1.5 -1.6-1z"/><path color="#93377a" d="M192 54.4l1.7 5.4 -1.6-3.4 -1.7-5.1z"/><path color="#14c3d5" d="M235.2 137l1.6 2 -1.8 1.5 -1.7-1.9z"/><path color="#a27b7a" d="M203.5 88.3l1.6 6.8 -1.6-3.7 -1.6-6.9z"/><path color="#ebff00" d="M290.2 106.7l3.2 .3 -3.9-3.3 -3.2 .8z"/><path color="#00ff90" d="M260.7 131.3l1.7-1.8 -2 1.7 -1.6 1.7z"/><path color="#57ff00" d="M271.1 119.5l1.6-2.3 -2 1.6 -1.6 2.3z"/><path color="#5da57a" d="M215.1 115.5l1.5 5.3 -1.7-.5 -1.6-5.5z"/><path color="#14c3f0" d="M245.4 139.1l1.6 .3 -1.9 1.5 -1.6-.3z"/><path color="#43a57a" d="M218.4 120.6l1.6 4.8 -1.8 .3 -1.6-4.9z"/><path color="#7ea57a" d="M211.7 109l1.6 5.8 -1.7-1.5 -1.6-6z"/><path color="#14c3af" d="M230.1 133.1l1.6 3 -1.8 1.6 -1.6-2.9z"/><path color="#caff00" d="M279.7 110l1.7-1.8 -2 .7 -1.7 1.9z"/><path color="#62377a" d="M183.7 38.1l1.7 2.8 -1.6-1.5 -1.7-2.5z"/><path color="#36ff00" d="M269.4 121.7l1.7-2.2 -2 1.6 -1.7 2.2z"/><path color="#00ffa7" d="M259.1 132.8l1.6-1.5 -1.9 1.6 -1.7 1.5z"/><path color="#a23d7a" d="M200.2 77.8l1.7 6.7 -1.7-4.1 -1.6-6.7z"/><path color="#34a57e" d="M221.8 124.5l1.6 4.3 -1.8 1 -1.6-4.4z"/><path color="#5a3050" d="M175.3 33.9l3.4 .1 -3.2-.2 -3.4 .8z"/><path color="#97a57a" d="M208.4 101l1.6 6.3 -1.6-2.5 -1.6-6.5z"/><path color="#d4ff00" d="M295.3 109.7l1.5 1 -1.9-2.9 -1.5-.8z"/><path color="#b3ff00" d="M298.7 114.2l1.5 1.4 -1.9-3.4 -1.5-1.5z"/><path color="#bbff00" d="M278.1 111.9l1.6-1.9 -2 .8 -1.6 2z"/><path color="#18ff00" d="M267.7 123.9l1.7-2.2 -2 1.6 -1.7 2.2z"/><path color="#14c3ca" d="M238.6 137.3l1.7 1.6 -1.9 1.6 -1.6-1.5z"/><path color="#6e377a" d="M187.1 42.9l1.6 3.9 -1.6-2.4 -1.7-3.5z"/><path color="#a2387a" d="M197 67.4l1.6 6.3 -1.6-4 -1.7-6.2z"/><path color="#14c3c9" d="M257.4 134.2l1.7-1.4 -2 1.6 -1.6 1.3z"/><path color="#34a58e" d="M225.1 127.4l1.6 3.9 -1.8 1.4 -1.5-3.9z"/><path color="#14c3d9" d="M243.7 138.4l1.7 .7 -1.9 1.5 -1.6-.6z"/><path color="#14c3ac" d="M233.6 134.4l1.6 2.6 -1.9 1.6 -1.6-2.5z"/><path color="#a2897a" d="M205.2 91.7l1.6 6.6 -1.7-3.2 -1.6-6.8z"/><path color="#9c377a" d="M193.7 57.8l1.6 5.7 -1.6-3.7 -1.7-5.4z"/><path color="#81377a" d="M190.4 49.6l1.6 4.8 -1.6-3.1 -1.7-4.5z"/><path color="#00ff08" d="M266 126l1.7-2.1 -2 1.6 -1.6 2.1z"/><path color="#abff00" d="M276.4 114l1.7-2.1 -2 .9 -1.7 2.2z"/><path color="#e7ff00" d="M286.9 108.1l3.3-1.4 -3.9-2.2 -3.3 2.2z"/><path color="#14c3d9" d="M252.4 136.3l3.3-1.1 -3.8 3 -3.3 1.1z"/><path color="#14c3db" d="M248.9 137.9l1.6-.1 -1.9 1.5 -1.6 .1z"/><path color="#14c3cd" d="M255.7 135.2l1.7-1 -1.9 1.5 -1.7 1z"/><path color="#00ff32" d="M264.3 128l1.7-2 -1.9 1.6 -1.7 1.9z"/><path color="#14c372" d="M228.5 129.6l1.6 3.5 -1.8 1.7 -1.6-3.5z"/><path color="#96ff00" d="M274.7 116.1l1.7-2.1 -2 1 -1.7 2.2z"/><path color="#a2527a" d="M201.9 81.6l1.6 6.7 -1.6-3.8 -1.7-6.7z"/><path color="#97ff00" d="M300.6 118.4l1.5 1.3 -1.9-4.1 -1.5-1.4z"/><path color="#c0ff00" d="M297.2 113.2l1.5 1 -1.9-3.5 -1.5-1z"/><path color="#7da57a" d="M213.5 109.9l1.6 5.6 -1.8-.7 -1.6-5.8z"/><path color="#63a57a" d="M216.8 115.5l1.6 5.1 -1.8 .2 -1.5-5.3z"/><path color="#14c3bc" d="M242.1 137.2l1.6 1.2 -1.8 1.6 -1.6-1.1z"/><path color="#14c3a2" d="M237 135.2l1.6 2.1 -1.8 1.7 -1.6-2z"/><path color="#65377a" d="M185.4 39.8l1.7 3.1 -1.7-2 -1.7-2.8z"/><path color="#93a57a" d="M210.1 102.9l1.6 6.1 -1.7-1.7 -1.6-6.3z"/><path color="#76ff00" d="M273 118.4l1.7-2.3 -2 1.1 -1.6 2.3z"/><path color="#00ff56" d="M262.7 129.8l1.6-1.8 -1.9 1.5 -1.7 1.8z"/><path color="#4fa57a" d="M220.2 119.8l1.6 4.7 -1.8 .9 -1.6-4.8z"/><path color="#a2397a" d="M198.6 71.3l1.6 6.5 -1.6-4.1 -1.6-6.3z"/><path color="#14c3c7" d="M247.3 137.5l1.6 .4 -1.9 1.5 -1.6-.3z"/><path color="#14c374" d="M232 131.3l1.6 3.1 -1.9 1.7 -1.6-3z"/><path color="#a2947a" d="M206.8 94.5l1.6 6.5 -1.6-2.7 -1.6-6.6z"/><path color="#56ff00" d="M271.3 120.6l1.7-2.2 -1.9 1.1 -1.7 2.2z"/><path color="#72377a" d="M188.7 45.4l1.7 4.2 -1.7-2.8 -1.6-3.9z"/><path color="#a2377a" d="M195.3 61.4l1.7 6 -1.7-3.9 -1.6-5.7z"/><path color="#00ff71" d="M261 131.4l1.7-1.6 -2 1.5 -1.6 1.5z"/><path color="#43a57a" d="M223.5 123.1l1.6 4.3 -1.7 1.4 -1.6-4.3z"/><path color="#d3ff00" d="M294 112.4l3.2 .8 -3.8-6.2 -3.2-.3z"/><path color="#5c377a" d="M182 35.5l3.4 4.3 -3.3-2.9 -3.4-2.9z"/><path color="#8a377a" d="M192 52.7l1.7 5.1 -1.7-3.4 -1.6-4.8z"/><path color="#d7ff00" d="M283.7 110.6l3.2-2.5 -3.9-1.4 -3.3 3.3z"/><path color="#61ff00" d="M302.5 123.3l1.5 .9 -1.9-4.5 -1.5-1.3z"/><path color="#37ff00" d="M269.7 122.7l1.6-2.1 -1.9 1.1 -1.7 2.2z"/><path color="#a7ff00" d="M299.1 117.4l1.5 1 -1.9-4.2 -1.5-1z"/><path color="#a2647a" d="M203.5 85l1.7 6.7 -1.7-3.4 -1.6-6.7z"/><path color="#14c396" d="M240.5 135.5l1.6 1.7 -1.8 1.7 -1.7-1.6z"/><path color="#00ff83" d="M259.3 132.7l1.7-1.3 -1.9 1.4 -1.7 1.4z"/><path color="#3ca57a" d="M227 125.7l1.5 3.9 -1.8 1.7 -1.6-3.9z"/><path color="#14c3ae" d="M245.6 136.7l1.7 .8 -1.9 1.6 -1.7-.7z"/><path color="#1bff00" d="M268 124.8l1.7-2.1 -2 1.2 -1.7 2.1z"/><path color="#14c36f" d="M235.4 132.5l1.6 2.7 -1.8 1.8 -1.6-2.6z"/><path color="#a23a7a" d="M200.3 75l1.6 6.6 -1.7-3.8 -1.6-6.5z"/><path color="#22ff00" d="M304.3 129l1.6 .4 -1.9-5.2 -1.5-.9z"/><path color="#14c3b3" d="M250.8 136.3l1.6 0 -1.9 1.5 -1.6 .1z"/><path color="#14c3a9" d="M257.7 133.8l1.6-1.1 -1.9 1.5 -1.7 1z"/><path color="#80a57a" d="M215.2 110l1.6 5.5 -1.7 0 -1.6-5.6z"/><path color="#69377a" d="M187 41.8l1.7 3.6 -1.6-2.5 -1.7-3.1z"/><path color="#91a57a" d="M211.9 104l1.6 5.9 -1.8-.9 -1.6-6.1z"/><path color="#02ff00" d="M266.3 126.8l1.7-2 -2 1.2 -1.7 2z"/><path color="#beff00" d="M280.3 114l3.4-3.4 -4-.6 -3.3 4z"/><path color="#73ff00" d="M300.9 122.6l1.6 .7 -1.9-4.9 -1.5-1z"/><path color="#6fa57a" d="M218.6 114.7l1.6 5.1 -1.8 .8 -1.6-5.1z"/><path color="#a2387a" d="M197 65.1l1.6 6.2 -1.6-3.9 -1.7-6z"/><path color="#1ec346" d="M230.4 127.7l1.6 3.6 -1.9 1.8 -1.6-3.5z"/><path color="#b0ff00" d="M297.5 116.9l1.6 .5 -1.9-4.2 -1.6-.6z"/><path color="#a29b7a" d="M208.5 96.6l1.6 6.3 -1.7-1.9 -1.6-6.5z"/><path color="#79377a" d="M190.3 48.1l1.7 4.6 -1.6-3.1 -1.7-4.2z"/><path color="#93377a" d="M193.6 56l1.7 5.4 -1.6-3.6 -1.7-5.1z"/><path color="#00ff42" d="M306.1 135.6l1.6-.4 -1.8-5.8 -1.6-.4z"/><path color="#00ff1f" d="M264.6 128.6l1.7-1.8 -2 1.2 -1.6 1.8z"/><path color="#14c388" d="M244 135.5l1.6 1.2 -1.9 1.7 -1.6-1.2z"/><path color="#60a57a" d="M221.9 118.4l1.6 4.7 -1.7 1.4 -1.6-4.7z"/><path color="#14c366" d="M238.9 133.3l1.6 2.2 -1.9 1.8 -1.6-2.1z"/><path color="#d5ff00" d="M290.8 113l3.2-.6 -3.8-5.7 -3.3 1.4z"/><path color="#583050" d="M178.5 34.1l3.5 1.4 -3.3-1.5 -3.4-.1z"/><path color="#a2727a" d="M205.2 87.9l1.6 6.6 -1.6-2.8 -1.7-6.7z"/><path color="#6fff00" d="M273.3 119.9l1.7-2.1 -2 .6 -1.7 2.2z"/><path color="#14c39b" d="M249.2 135.9l1.6 .4 -1.9 1.6 -1.6-.4z"/><path color="#2bff00" d="M302.7 128.8l1.6 .2 -1.8-5.7 -1.6-.7z"/><path color="#00ff3a" d="M262.9 130.2l1.7-1.6 -1.9 1.2 -1.7 1.6z"/><path color="#1ec346" d="M233.8 129.3l1.6 3.2 -1.8 1.9 -1.6-3.1z"/><path color="#a0ff00" d="M277 117.8l3.3-3.8 -3.9 0 -3.4 4.4z"/><path color="#7fff00" d="M299.3 122.2l1.6 .4 -1.8-5.2 -1.6-.5z"/><path color="#61377a" d="M185.3 38.9l1.7 2.9 -1.6-2 -1.7-2.5z"/><path color="#57a57a" d="M225.4 121.3l1.6 4.4 -1.9 1.7 -1.6-4.3z"/><path color="#a23a7a" d="M201.9 78.3l1.6 6.7 -1.6-3.4 -1.6-6.6z"/><path color="#b5ff00" d="M295.9 116.7l1.6 .2 -1.9-4.3 -1.6-.2z"/><path color="#52ff00" d="M271.6 122l1.7-2.1 -2 .7 -1.6 2.1z"/><path color="#00ff47" d="M304.5 135.9l1.6-.3 -1.8-6.6 -1.6-.2z"/><path color="#00ff4a" d="M261.3 131.5l1.6-1.3 -1.9 1.2 -1.7 1.3z"/><path color="#a2387a" d="M198.6 68.6l1.7 6.4 -1.7-3.7 -1.6-6.2z"/><path color="#6d377a" d="M188.6 44.1l1.7 4 -1.6-2.7 -1.7-3.6z"/><path color="#37ff00" d="M269.9 124l1.7-2 -1.9 .7 -1.7 2.1z"/><path color="#14c35c" d="M242.4 133.7l1.6 1.8 -1.9 1.7 -1.6-1.7z"/><path color="#14c37a" d="M247.5 135.1l1.7 .8 -1.9 1.6 -1.7-.8z"/><path color="#48c346" d="M228.8 123.6l1.6 4.1 -1.9 1.9 -1.5-3.9z"/><path color="#32ff00" d="M301.1 128.6l1.6 .2 -1.8-6.2 -1.6-.4z"/><path color="#9c377a" d="M195.3 59.3l1.7 5.8 -1.7-3.7 -1.7-5.4z"/><path color="#93a57a" d="M213.6 104.2l1.6 5.8 -1.7-.1 -1.6-5.9z"/><path color="#82377a" d="M192 51l1.6 5 -1.6-3.3 -1.7-4.6z"/><path color="#a29e7a" d="M210.2 97.8l1.7 6.2 -1.8-1.1 -1.6-6.3z"/><path color="#21c346" d="M237.3 130.5l1.6 2.8 -1.9 1.9 -1.6-2.7z"/><path color="#85a57a" d="M217 109.4l1.6 5.3 -1.8 .8 -1.6-5.5z"/><path color="#87ff00" d="M297.7 122.1l1.6 .1 -1.8-5.3 -1.6-.2z"/><path color="#b7ff00" d="M294.3 116.7l1.6 0 -1.9-4.3 -1.6 .1z"/><path color="#cbff00" d="M287.5 114.7l3.3-1.7 -3.9-4.9 -3.2 2.5z"/><path color="#14c389" d="M256.3 133.5l3.3-1 -3.9 2.7 -3.3 1.1z"/><path color="#1fff00" d="M268.3 125.9l1.6-1.9 -1.9 .8 -1.7 2z"/><path color="#5b377a" d="M183.6 36.8l1.7 2.1 -1.6-1.6 -1.7-1.8z"/><path color="#14c37f" d="M259.6 132.5l1.7-1 -2 1.2 -1.6 1.1z"/><path color="#14c385" d="M252.7 134.8l1.7 .1 -2 1.4 -1.6 0z"/><path color="#a27a7a" d="M206.9 90.1l1.6 6.5 -1.7-2.1 -1.6-6.6z"/><path color="#00ff48" d="M302.9 136.2l1.6-.3 -1.8-7.1 -1.6-.2z"/><path color="#7ca57a" d="M220.3 113.4l1.6 5 -1.7 1.4 -1.6-5.1z"/><path color="#45c346" d="M232.2 125.5l1.6 3.8 -1.8 2 -1.6-3.6z"/><path color="#a2487a" d="M203.6 81.2l1.6 6.7 -1.7-2.9 -1.6-6.7z"/><path color="#0bff00" d="M266.6 127.6l1.7-1.7 -2 .9 -1.7 1.8z"/><path color="#80ff00" d="M275.3 119.8l1.7-2 -2 0 -1.7 2.1z"/><path color="#37ff00" d="M299.6 128.6l1.5 0 -1.8-6.4 -1.6-.1z"/><path color="#64377a" d="M186.9 40.8l1.7 3.3 -1.6-2.3 -1.7-2.9z"/><path color="#14c352" d="M245.9 133.7l1.6 1.4 -1.9 1.6 -1.6-1.2z"/><path color="#74a57a" d="M223.8 116.6l1.6 4.7 -1.9 1.8 -1.6-4.7z"/><path color="#b7ff00" d="M292.7 117.1l1.6-.4 -1.9-4.2 -1.6 .5z"/><path color="#25c346" d="M240.8 131.3l1.6 2.4 -1.9 1.8 -1.6-2.2z"/><path color="#a2397a" d="M200.3 71.8l1.6 6.5 -1.6-3.3 -1.7-6.4z"/><path color="#8cff00" d="M296.1 122.1l1.6 0 -1.8-5.4 -1.6 0z"/><path color="#14c369" d="M251.1 134.3l1.6 .5 -1.9 1.5 -1.6-.4z"/><path color="#00ff06" d="M264.9 129.1l1.7-1.5 -2 1 -1.7 1.6z"/><path color="#00ff47" d="M301.3 136.4l1.6-.2 -1.8-7.6 -1.5 0z"/><path color="#66ff00" d="M273.6 121.7l1.7-1.9 -2 .1 -1.7 2.1z"/><path color="#72377a" d="M190.3 46.6l1.7 4.4 -1.7-2.9 -1.7-4z"/><path color="#a2377a" d="M197 62.5l1.6 6.1 -1.6-3.5 -1.7-5.8z"/><path color="#8b377a" d="M193.6 54l1.7 5.3 -1.7-3.3 -1.6-5z"/><path color="#baff00" d="M284.2 117.2l3.3-2.5 -3.8-4.1 -3.4 3.4z"/><path color="#46c346" d="M235.7 127.1l1.6 3.4 -1.9 2 -1.6-3.2z"/><path color="#6ea57a" d="M227.2 119.2l1.6 4.4 -1.8 2.1 -1.6-4.4z"/><path color="#3bff00" d="M297.9 128.6l1.7 0 -1.9-6.5 -1.6 0z"/><path color="#4dff00" d="M271.9 123.6l1.7-1.9 -2 .3 -1.7 2z"/><path color="#b4ff00" d="M291 117.6l1.7-.5 -1.9-4.1 -1.6 .8z"/><path color="#a29c7a" d="M212 98.2l1.6 6 -1.7-.2 -1.7-6.2z"/><path color="#98a57a" d="M215.3 103.7l1.7 5.7 -1.8 .6 -1.6-5.8z"/><path color="#a27e7a" d="M208.6 91.4l1.6 6.4 -1.7-1.2 -1.6-6.5z"/><path color="#8dff00" d="M294.5 122.3l1.6-.2 -1.8-5.4 -1.6 .4z"/><path color="#5e377a" d="M185.2 38.2l1.7 2.6 -1.6-1.9 -1.7-2.1z"/><path color="#29c346" d="M244.3 131.8l1.6 1.9 -1.9 1.8 -1.6-1.8z"/><path color="#00ff43" d="M299.7 136.5l1.6-.1 -1.7-7.8 -1.7 0z"/><path color="#14c346" d="M249.4 133.4l1.7 .9 -1.9 1.6 -1.7-.8z"/><path color="#a2527a" d="M205.3 83.5l1.6 6.6 -1.7-2.2 -1.6-6.7z"/><path color="#8da57a" d="M218.7 108.1l1.6 5.3 -1.7 1.3 -1.6-5.3z"/><path color="#37ff00" d="M270.2 125.4l1.7-1.8 -2 .4 -1.6 1.9z"/><path color="#70c346" d="M230.6 121.3l1.6 4.2 -1.8 2.2 -1.6-4.1z"/><path color="#48c346" d="M239.2 128.4l1.6 2.9 -1.9 2 -1.6-2.8z"/><path color="#57377a" d="M181.8 35.3l3.4 2.9 -3.2-2.7 -3.5-1.4z"/><path color="#14c357" d="M254.6 133.3l1.7 .2 -1.9 1.4 -1.7-.1z"/><path color="#a2397a" d="M202 74.6l1.6 6.6 -1.7-2.9 -1.6-6.5z"/><path color="#b0ff00" d="M289.4 118.3l1.6-.7 -1.8-3.8 -1.7 .9z"/><path color="#68377a" d="M188.6 42.9l1.7 3.7 -1.7-2.5 -1.7-3.3z"/><path color="#3eff00" d="M296.3 128.7l1.6-.1 -1.8-6.5 -1.6 .2z"/><path color="#a4ff00" d="M280.9 120l3.3-2.8 -3.9-3.2 -3.3 3.8z"/><path color="#86a57a" d="M222.1 111.6l1.7 5 -1.9 1.8 -1.6-5z"/><path color="#25ff00" d="M268.5 127l1.7-1.6 -1.9 .5 -1.7 1.7z"/><path color="#8cff00" d="M292.9 122.6l1.6-.3 -1.8-5.2 -1.7 .5z"/><path color="#a2377a" d="M198.6 65.6l1.7 6.2 -1.7-3.2 -1.6-6.1z"/><path color="#79377a" d="M191.9 49.2l1.7 4.8 -1.6-3 -1.7-4.4z"/><path color="#93377a" d="M195.3 56.9l1.7 5.6 -1.7-3.2 -1.7-5.3z"/><path color="#00ff3d" d="M298.1 136.5l1.6 0 -1.8-7.9 -1.6 .1z"/><path color="#6ec346" d="M234.1 123.2l1.6 3.9 -1.9 2.2 -1.6-3.8z"/><path color="#02ff00" d="M263.5 130.3l3.4-1.9 -4 1.8 -3.3 2.3z"/><path color="#2dc346" d="M247.8 131.9l1.6 1.5 -1.9 1.7 -1.6-1.4z"/><path color="#abff00" d="M287.8 119.2l1.6-.9 -1.9-3.6 -1.6 1.2z"/><path color="#82a57a" d="M225.6 114.4l1.6 4.8 -1.8 2.1 -1.6-4.7z"/><path color="#19ff00" d="M266.9 128.4l1.6-1.4 -1.9 .6 -1.7 1.5z"/><path color="#49c346" d="M242.7 129.4l1.6 2.4 -1.9 1.9 -1.6-2.4z"/><path color="#1bc346" d="M253 132.8l1.6 .5 -1.9 1.5 -1.6-.5z"/><path color="#40ff00" d="M294.7 128.9l1.6-.2 -1.8-6.4 -1.6 .3z"/><path color="#89ff00" d="M291.3 123.1l1.6-.5 -1.9-5 -1.6 .7z"/><path color="#7dff00" d="M277.5 123l3.4-3 -3.9-2.2 -3.4 3.9z"/><path color="#60377a" d="M186.9 39.9l1.7 3 -1.7-2.1 -1.7-2.6z"/><path color="#a27d7a" d="M210.4 91.9l1.6 6.3 -1.8-.4 -1.6-6.4z"/><path color="#a2977a" d="M213.7 97.8l1.6 5.9 -1.7 .5 -1.6-6z"/><path color="#a2587a" d="M207 84.9l1.6 6.5 -1.7-1.3 -1.6-6.6z"/><path color="#6ec346" d="M237.6 124.9l1.6 3.5 -1.9 2.1 -1.6-3.4z"/><path color="#00ff34" d="M296.5 136.5l1.6 0 -1.8-7.8 -1.6 .2z"/><path color="#a5ff00" d="M286.1 120.2l1.7-1 -1.9-3.3 -1.7 1.3z"/><path color="#93c346" d="M229 116.8l1.6 4.5 -1.8 2.3 -1.6-4.4z"/><path color="#9fa57a" d="M217.1 102.6l1.6 5.5 -1.7 1.3 -1.7-5.7z"/><path color="#a23a7a" d="M203.6 76.9l1.7 6.6 -1.7-2.3 -1.6-6.6z"/><path color="#6d377a" d="M190.2 45.1l1.7 4.1 -1.6-2.6 -1.7-3.7z"/><path color="#42ff00" d="M293.1 129.1l1.6-.2 -1.8-6.3 -1.6 .5z"/><path color="#84ff00" d="M289.6 123.7l1.7-.6 -1.9-4.8 -1.6 .9z"/><path color="#a2387a" d="M200.3 68.2l1.7 6.4 -1.7-2.8 -1.7-6.2z"/><path color="#32c346" d="M251.4 131.7l1.6 1.1 -1.9 1.5 -1.7-.9z"/><path color="#4bc346" d="M246.2 129.9l1.6 2 -1.9 1.8 -1.6-1.9z"/><path color="#80377a" d="M193.6 51.8l1.7 5.1 -1.7-2.9 -1.7-4.8z"/><path color="#9a377a" d="M197 59.7l1.6 5.9 -1.6-3.1 -1.7-5.6z"/><path color="#97a57a" d="M220.5 106.4l1.6 5.2 -1.8 1.8 -1.6-5.3z"/><path color="#1ec346" d="M260.2 130.9l3.3-.6 -3.9 2.2 -3.3 1z"/><path color="#9bff00" d="M284.5 121.3l1.6-1.1 -1.9-3 -1.7 1.4z"/><path color="#91c346" d="M232.5 118.9l1.6 4.3 -1.9 2.3 -1.6-4.2z"/><path color="#24c346" d="M256.6 131.9l1.6 .2 -1.9 1.4 -1.7-.2z"/><path color="#6ec346" d="M241.1 126.3l1.6 3.1 -1.9 1.9 -1.6-2.9z"/><path color="#00ff28" d="M294.9 136.4l1.6 .1 -1.8-7.6 -1.6 .2z"/><path color="#58ff00" d="M274.2 125.7l3.3-2.7 -3.9-1.3 -3.4 3.7z"/><path color="#92a57a" d="M224 109.4l1.6 5 -1.8 2.2 -1.7-5z"/><path color="#7fff00" d="M288 124.3l1.6-.6 -1.8-4.5 -1.7 1z"/><path color="#43ff00" d="M291.5 129.3l1.6-.2 -1.8-6 -1.7 .6z"/><path color="#8eff00" d="M282.8 122.4l1.7-1.1 -2-2.7 -1.6 1.4z"/><path color="#63377a" d="M188.5 41.6l1.7 3.5 -1.6-2.2 -1.7-3z"/><path color="#90c346" d="M236 120.8l1.6 4.1 -1.9 2.2 -1.6-3.9z"/><path color="#4dc346" d="M249.7 130.2l1.7 1.5 -2 1.7 -1.6-1.5z"/><path color="#37c346" d="M255 131.3l1.6 .6 -2 1.4 -1.6-.5z"/><path color="#a2587a" d="M208.7 85.6l1.7 6.3 -1.8-.5 -1.6-6.5z"/><path color="#00ff1b" d="M293.3 136.3l1.6 .1 -1.8-7.3 -1.6 .2z"/><path color="#acc346" d="M227.4 112l1.6 4.8 -1.8 2.4 -1.6-4.8z"/><path color="#a2787a" d="M212.1 91.8l1.6 6 -1.7 .4 -1.6-6.3z"/><path color="#6dc346" d="M244.6 127.4l1.6 2.5 -1.9 1.9 -1.6-2.4z"/><path color="#a23a7a" d="M205.4 78.4l1.6 6.5 -1.7-1.4 -1.7-6.6z"/><path color="#78ff00" d="M286.4 125l1.6-.7 -1.9-4.1 -1.6 1.1z"/><path color="#71377a" d="M191.9 47.3l1.7 4.5 -1.7-2.6 -1.7-4.1z"/><path color="#a2387a" d="M202 70.4l1.6 6.5 -1.6-2.3 -1.7-6.4z"/><path color="#a28d7a" d="M215.5 96.9l1.6 5.7 -1.8 1.1 -1.6-5.9z"/><path color="#45ff00" d="M289.9 129.6l1.6-.3 -1.9-5.6 -1.6 .6z"/><path color="#40ff00" d="M270.8 127.7l3.4-2 -4-.3 -3.3 3z"/><path color="#a0377a" d="M198.6 62.2l1.7 6 -1.7-2.6 -1.6-5.9z"/><path color="#88377a" d="M195.3 54.3l1.7 5.4 -1.7-2.8 -1.7-5.1z"/><path color="#5a377a" d="M185.1 37.2l3.4 4.4 -3.3-3.4 -3.4-2.9z"/><path color="#8fc346" d="M239.5 122.6l1.6 3.7 -1.9 2.1 -1.6-3.5z"/><path color="#a29b7a" d="M218.9 100.9l1.6 5.5 -1.8 1.7 -1.6-5.5z"/><path color="#a9c346" d="M230.9 114.2l1.6 4.7 -1.9 2.4 -1.6-4.5z"/><path color="#72ff00" d="M284.7 125.7l1.7-.7 -1.9-3.7 -1.7 1.1z"/><path color="#00ff0a" d="M291.7 136l1.6 .3 -1.8-7 -1.6 .3z"/><path color="#4fc346" d="M253.3 130.1l1.7 1.2 -2 1.5 -1.6-1.1z"/><path color="#6cc346" d="M248.1 128.1l1.6 2.1 -1.9 1.7 -1.6-2z"/><path color="#46ff00" d="M288.2 129.8l1.7-.2 -1.9-5.3 -1.6 .7z"/><path color="#6fff00" d="M281.4 127l3.3-1.3 -3.8-5.7 -3.4 3z"/><path color="#a2a47a" d="M222.4 104.2l1.6 5.2 -1.9 2.2 -1.6-5.2z"/><path color="#3fc346" d="M258.6 130.6l1.6 .3 -2 1.2 -1.6-.2z"/><path color="#a7c346" d="M234.4 116.3l1.6 4.5 -1.9 2.4 -1.6-4.3z"/><path color="#8dc346" d="M243 124.1l1.6 3.3 -1.9 2 -1.6-3.1z"/><path color="#67377a" d="M190.2 43.5l1.7 3.8 -1.7-2.2 -1.7-3.5z"/><path color="#3bff00" d="M267.5 128.9l3.3-1.2 -3.9 .7 -3.4 1.9z"/><path color="#9fa57a" d="M225.8 106.9l1.6 5.1 -1.8 2.4 -1.6-5z"/><path color="#05ff00" d="M290.1 135.7l1.6 .3 -1.8-6.4 -1.7 .2z"/><path color="#76377a" d="M193.6 49.5l1.7 4.8 -1.7-2.5 -1.7-4.5z"/><path color="#a23a7a" d="M207.1 79.2l1.6 6.4 -1.7-.7 -1.6-6.5z"/><path color="#49ff00" d="M286.6 130l1.6-.2 -1.8-4.8 -1.7 .7z"/><path color="#a2547a" d="M210.5 85.6l1.6 6.2 -1.7 .1 -1.7-6.3z"/><path color="#a2387a" d="M203.7 72l1.7 6.4 -1.8-1.5 -1.6-6.5z"/><path color="#a2377a" d="M200.3 64.3l1.7 6.1 -1.7-2.2 -1.7-6z"/><path color="#8e377a" d="M197 56.6l1.6 5.6 -1.6-2.5 -1.7-5.4z"/><path color="#a2707a" d="M213.9 91l1.6 5.9 -1.8 .9 -1.6-6z"/><path color="#6bc346" d="M251.7 128.5l1.6 1.6 -1.9 1.6 -1.7-1.5z"/><path color="#53c346" d="M256.9 129.8l1.7 .8 -2 1.3 -1.6-.6z"/><path color="#a6c346" d="M237.9 118.4l1.6 4.2 -1.9 2.3 -1.6-4.1z"/><path color="#8bc346" d="M246.5 125.4l1.6 2.7 -1.9 1.8 -1.6-2.5z"/><path color="#a2807a" d="M217.3 95.4l1.6 5.5 -1.8 1.7 -1.6-5.7z"/><path color="#c2c346" d="M229.3 109.3l1.6 4.9 -1.9 2.6 -1.6-4.8z"/><path color="#62ff00" d="M278.1 128l3.3-1 -3.9-4 -3.3 2.7z"/><path color="#5f377a" d="M188.5 40.5l1.7 3 -1.7-1.9 -1.7-2.6z"/><path color="#4cff00" d="M284.9 130.1l1.7-.1 -1.9-4.3 -1.7 .7z"/><path color="#11ff00" d="M288.4 135.3l1.7 .4 -1.9-5.9 -1.6 .2z"/><path color="#a28b7a" d="M220.7 98.9l1.7 5.3 -1.9 2.2 -1.6-5.5z"/><path color="#a3c346" d="M241.4 120.3l1.6 3.8 -1.9 2.2 -1.6-3.7z"/><path color="#4dc346" d="M264.2 128.7l3.3 .2 -4 1.4 -3.3 .6z"/><path color="#6a377a" d="M191.9 45.4l1.7 4.1 -1.7-2.2 -1.7-3.8z"/><path color="#c0c346" d="M232.8 111.5l1.6 4.8 -1.9 2.6 -1.6-4.7z"/><path color="#6bc346" d="M255.3 128.6l1.6 1.2 -1.9 1.5 -1.7-1.2z"/><path color="#89c346" d="M250.1 126.3l1.6 2.2 -2 1.7 -1.6-2.1z"/><path color="#58c346" d="M260.5 129.3l1.7 .4 -2 1.2 -1.6-.3z"/><path color="#7b377a" d="M195.3 51.5l1.7 5.1 -1.7-2.3 -1.7-4.8z"/><path color="#50ff00" d="M283.3 130.2l1.6-.1 -1.9-3.7 -1.6 .6z"/><path color="#a2927a" d="M224.2 101.7l1.6 5.2 -1.8 2.5 -1.6-5.2z"/><path color="#93377a" d="M198.7 58.6l1.6 5.7 -1.7-2.1 -1.6-5.6z"/><path color="#1fff00" d="M286.8 134.8l1.6 .5 -1.8-5.3 -1.7 .1z"/><path color="#a2377a" d="M202 65.9l1.7 6.1 -1.7-1.6 -1.7-6.1z"/><path color="#a2397a" d="M205.4 73l1.7 6.2 -1.7-.8 -1.7-6.4z"/><path color="#5a377a" d="M186.7 38.4l1.8 2.1 -1.7-1.5 -1.7-1.8z"/><path color="#a23a7a" d="M208.8 79.5l1.7 6.1 -1.8 0 -1.6-6.4z"/><path color="#a0c346" d="M244.9 122.1l1.6 3.3 -1.9 2 -1.6-3.3z"/><path color="#bec346" d="M236.3 113.8l1.6 4.6 -1.9 2.4 -1.6-4.5z"/><path color="#a24b7a" d="M212.2 85.1l1.7 5.9 -1.8 .8 -1.6-6.2z"/><path color="#5fff00" d="M274.8 128.6l3.3-.6 -3.9-2.3 -3.4 2z"/><path color="#cba946" d="M227.7 104.2l1.6 5.1 -1.9 2.7 -1.6-5.1z"/><path color="#a2627a" d="M215.7 89.8l1.6 5.6 -1.8 1.5 -1.6-5.9z"/><path color="#87c346" d="M253.6 126.8l1.7 1.8 -2 1.5 -1.6-1.6z"/><path color="#61377a" d="M190.2 42.1l1.7 3.3 -1.7-1.9 -1.7-3z"/><path color="#6cc346" d="M258.9 128.4l1.6 .9 -1.9 1.3 -1.7-.8z"/><path color="#2eff00" d="M285.2 134.3l1.6 .5 -1.9-4.7 -1.6 .1z"/><path color="#bbc346" d="M239.8 116l1.6 4.3 -1.9 2.3 -1.6-4.2z"/><path color="#9dc346" d="M248.5 123.5l1.6 2.8 -2 1.8 -1.6-2.7z"/><path color="#a2717a" d="M219.1 93.5l1.6 5.4 -1.8 2 -1.6-5.5z"/><path color="#6e377a" d="M193.6 47.2l1.7 4.3 -1.7-2 -1.7-4.1z"/><path color="#cbae46" d="M231.2 106.5l1.6 5 -1.9 2.7 -1.6-4.9z"/><path color="#80377a" d="M197 53.5l1.7 5.1 -1.7-2 -1.7-5.1z"/><path color="#96377a" d="M200.4 60.2l1.6 5.7 -1.7-1.6 -1.6-5.7z"/><path color="#a2797a" d="M222.6 96.5l1.6 5.2 -1.8 2.5 -1.7-5.3z"/><path color="#4eff00" d="M282 132.9l3.2 1.4 -3.8-7.3 -3.3 1z"/><path color="#b7c346" d="M243.3 118.1l1.6 4 -1.9 2 -1.6-3.8z"/><path color="#a2377a" d="M203.8 67.1l1.6 5.9 -1.7-1 -1.7-6.1z"/><path color="#85c346" d="M257.2 127.1l1.7 1.3 -2 1.4 -1.6-1.2z"/><path color="#5b377a" d="M188.4 39.8l1.8 2.3 -1.7-1.6 -1.8-2.1z"/><path color="#6bff00" d="M271.5 128.4l3.3 .2 -4-.9 -3.3 1.2z"/><path color="#a2387a" d="M207.2 73.5l1.6 6 -1.7-.3 -1.7-6.2z"/><path color="#6fc346" d="M262.5 128.1l1.7 .6 -2 1 -1.7-.4z"/><path color="#cbb146" d="M234.7 108.8l1.6 5 -1.9 2.5 -1.6-4.8z"/><path color="#99c346" d="M252 124.6l1.6 2.2 -1.9 1.7 -1.6-2.2z"/><path color="#a23a7a" d="M210.6 79.3l1.6 5.8 -1.7 .5 -1.7-6.1z"/><path color="#a27e7a" d="M226.1 99l1.6 5.2 -1.9 2.7 -1.6-5.2z"/><path color="#a23f7a" d="M214 84.1l1.7 5.7 -1.8 1.2 -1.7-5.9z"/><path color="#64377a" d="M191.8 43.8l1.8 3.4 -1.7-1.8 -1.7-3.3z"/><path color="#b2c346" d="M246.9 120.1l1.6 3.4 -2 1.9 -1.6-3.3z"/><path color="#cbb646" d="M238.2 111.2l1.6 4.8 -1.9 2.4 -1.6-4.6z"/><path color="#a2517a" d="M217.5 88.1l1.6 5.4 -1.8 1.9 -1.6-5.6z"/><path color="#71377a" d="M195.3 49l1.7 4.5 -1.7-2 -1.7-4.3z"/><path color="#84c346" d="M260.9 127.2l1.6 .9 -2 1.2 -1.6-.9z"/><path color="#96c346" d="M255.6 125.3l1.6 1.8 -1.9 1.5 -1.7-1.8z"/><path color="#cb8746" d="M229.6 101.4l1.6 5.1 -1.9 2.8 -1.6-5.1z"/><path color="#84377a" d="M198.7 55.1l1.7 5.1 -1.7-1.6 -1.7-5.1z"/><path color="#acc346" d="M250.4 121.7l1.6 2.9 -1.9 1.7 -1.6-2.8z"/><path color="#cbbd46" d="M241.7 113.7l1.6 4.4 -1.9 2.2 -1.6-4.3z"/><path color="#98377a" d="M202.1 61.6l1.7 5.5 -1.8-1.2 -1.6-5.7z"/><path color="#a25d7a" d="M221 91.2l1.6 5.3 -1.9 2.4 -1.6-5.4z"/><path color="#6aff00" d="M278.7 131.2l3.3 1.7 -3.9-4.9 -3.3 .6z"/><path color="#a2377a" d="M205.5 67.9l1.7 5.6 -1.8-.5 -1.6-5.9z"/><path color="#5e377a" d="M190.1 41.3l1.7 2.5 -1.6-1.7 -1.8-2.3z"/><path color="#76c346" d="M268.2 127.3l3.3 1.1 -4 .5 -3.3-.2z"/><path color="#cb8b46" d="M233.1 103.7l1.6 5.1 -1.9 2.7 -1.6-5z"/><path color="#a2387a" d="M208.9 73.6l1.7 5.7 -1.8 .2 -1.6-6z"/><path color="#93c346" d="M259.2 125.7l1.7 1.5 -2 1.2 -1.7-1.3z"/><path color="#85c346" d="M264.5 127.1l1.7 .8 -2 .8 -1.7-.6z"/><path color="#c9c346" d="M245.3 116l1.6 4.1 -2 2 -1.6-4z"/><path color="#a2647a" d="M224.4 93.8l1.7 5.2 -1.9 2.7 -1.6-5.2z"/><path color="#a2397a" d="M212.4 78.6l1.6 5.5 -1.8 1 -1.6-5.8z"/><path color="#67377a" d="M193.5 45.4l1.8 3.6 -1.7-1.8 -1.8-3.4z"/><path color="#a7c346" d="M254 122.9l1.6 2.4 -2 1.5 -1.6-2.2z"/><path color="#cb9046" d="M236.6 106.2l1.6 5 -1.9 2.6 -1.6-5z"/><path color="#a23a7a" d="M215.8 82.8l1.7 5.3 -1.8 1.7 -1.7-5.7z"/><path color="#74377a" d="M197 50.7l1.7 4.4 -1.7-1.6 -1.7-4.5z"/><path color="#cb5e46" d="M227.9 96.2l1.7 5.2 -1.9 2.8 -1.6-5.2z"/><path color="#c2c346" d="M248.8 118.2l1.6 3.5 -1.9 1.8 -1.6-3.4z"/><path color="#87377a" d="M200.4 56.6l1.7 5 -1.7-1.4 -1.7-5.1z"/><path color="#91c346" d="M262.9 126l1.6 1.1 -2 1 -1.6-.9z"/><path color="#cb9846" d="M240.1 108.8l1.6 4.9 -1.9 2.3 -1.6-4.8z"/><path color="#a23e7a" d="M219.3 86.1l1.7 5.1 -1.9 2.3 -1.6-5.4z"/><path color="#a2c346" d="M257.6 123.8l1.6 1.9 -2 1.4 -1.6-1.8z"/><path color="#99377a" d="M203.8 62.6l1.7 5.3 -1.7-.8 -1.7-5.5z"/><path color="#60377a" d="M191.8 42.8l1.7 2.6 -1.7-1.6 -1.7-2.5z"/><path color="#8dff00" d="M275.5 129.1l3.2 2.1 -3.9-2.6 -3.3-.2z"/><path color="#a2377a" d="M207.3 68.3l1.6 5.3 -1.7-.1 -1.7-5.6z"/><path color="#cb6346" d="M231.5 98.5l1.6 5.2 -1.9 2.8 -1.6-5.1z"/><path color="#bbc346" d="M252.4 120l1.6 2.9 -2 1.7 -1.6-2.9z"/><path color="#cba146" d="M243.7 111.5l1.6 4.5 -2 2.1 -1.6-4.4z"/><path color="#a2467a" d="M222.8 88.8l1.6 5 -1.8 2.7 -1.6-5.3z"/><path color="#a2387a" d="M210.7 73.3l1.7 5.3 -1.8 .7 -1.7-5.7z"/><path color="#6a377a" d="M195.2 47.1l1.8 3.6 -1.7-1.7 -1.8-3.6z"/><path color="#91c346" d="M266.5 126.3l1.7 1 -2 .6 -1.7-.8z"/><path color="#cb6946" d="M235 101l1.6 5.2 -1.9 2.6 -1.6-5.1z"/><path color="#9ec346" d="M261.2 124.5l1.7 1.5 -2 1.2 -1.7-1.5z"/><path color="#a2397a" d="M214.2 77.6l1.6 5.2 -1.8 1.3 -1.6-5.5z"/><path color="#cbae46" d="M247.2 114.1l1.6 4.1 -1.9 1.9 -1.6-4.1z"/><path color="#77377a" d="M198.7 52.2l1.7 4.4 -1.7-1.5 -1.7-4.4z"/><path color="#b4c346" d="M256 121.4l1.6 2.4 -2 1.5 -1.6-2.4z"/><path color="#a24b7a" d="M226.3 91.1l1.6 5.1 -1.8 2.8 -1.7-5.2z"/><path color="#89377a" d="M202.1 57.8l1.7 4.8 -1.7-1 -1.7-5z"/><path color="#a2397a" d="M217.7 81.1l1.6 5 -1.8 2 -1.7-5.3z"/><path color="#cb7046" d="M238.5 103.7l1.6 5.1 -1.9 2.4 -1.6-5z"/><path color="#99377a" d="M205.6 63.3l1.7 5 -1.8-.4 -1.7-5.3z"/><path color="#cbbb46" d="M250.8 116.5l1.6 3.5 -2 1.7 -1.6-3.5z"/><path color="#62377a" d="M193.5 44.5l1.7 2.6 -1.7-1.7 -1.7-2.6z"/><path color="#9cc346" d="M264.9 125l1.6 1.3 -2 .8 -1.6-1.1z"/><path color="#cb3346" d="M229.8 93.4l1.7 5.1 -1.9 2.9 -1.7-5.2z"/><path color="#aec346" d="M259.6 122.5l1.6 2 -2 1.2 -1.6-1.9z"/><path color="#a2377a" d="M209 68.4l1.7 4.9 -1.8 .3 -1.6-5.3z"/><path color="#cb7b46" d="M242.1 106.6l1.6 4.9 -2 2.2 -1.6-4.9z"/><path color="#a23a7a" d="M221.2 83.9l1.6 4.9 -1.8 2.4 -1.7-5.1z"/><path color="#90c346" d="M272.2 126.6l3.3 2.5 -4-.7 -3.3-1.1z"/><path color="#6c377a" d="M197 48.8l1.7 3.4 -1.7-1.5 -1.8-3.6z"/><path color="#c7c346" d="M254.4 118.5l1.6 2.9 -2 1.5 -1.6-2.9z"/><path color="#a2387a" d="M212.5 72.8l1.7 4.8 -1.8 1 -1.7-5.3z"/><path color="#cb3946" d="M233.4 95.8l1.6 5.2 -1.9 2.7 -1.6-5.2z"/><path color="#cb8846" d="M245.6 109.5l1.6 4.6 -1.9 1.9 -1.6-4.5z"/><path color="#9ac346" d="M268.5 125.6l1.7 1.2 -2 .5 -1.7-1z"/><path color="#79377a" d="M200.4 53.7l1.7 4.1 -1.7-1.2 -1.7-4.4z"/><path color="#a23a7a" d="M224.7 86.2l1.6 4.9 -1.9 2.7 -1.6-5z"/><path color="#a9c346" d="M263.2 123.4l1.7 1.6 -2 1 -1.7-1.5z"/><path color="#a2387a" d="M216 76.4l1.7 4.7 -1.9 1.7 -1.6-5.2z"/><path color="#8a377a" d="M203.9 58.8l1.7 4.5 -1.8-.7 -1.7-4.8z"/><path color="#cb4146" d="M236.9 98.5l1.6 5.2 -1.9 2.5 -1.6-5.2z"/><path color="#cb9846" d="M249.2 112.4l1.6 4.1 -2 1.7 -1.6-4.1z"/><path color="#bfc346" d="M258 120.1l1.6 2.4 -2 1.3 -1.6-2.4z"/><path color="#65377a" d="M195.2 46.2l1.8 2.6 -1.8-1.7 -1.7-2.6z"/><path color="#cb1146" d="M228.2 88.4l1.6 5 -1.9 2.8 -1.6-5.1z"/><path color="#98377a" d="M207.3 63.8l1.7 4.6 -1.7-.1 -1.7-5z"/><path color="#a2397a" d="M219.5 79.3l1.7 4.6 -1.9 2.2 -1.6-5z"/><path color="#cb4e46" d="M240.5 101.4l1.6 5.2 -2 2.2 -1.6-5.1z"/><path color="#a5c346" d="M266.9 124.2l1.6 1.4 -2 .7 -1.6-1.3z"/><path color="#cba946" d="M252.7 115.1l1.7 3.4 -2 1.5 -1.6-3.5z"/><path color="#a2377a" d="M210.8 68.2l1.7 4.6 -1.8 .5 -1.7-4.9z"/><path color="#6f377a" d="M198.7 50.4l1.7 3.3 -1.7-1.5 -1.7-3.4z"/><path color="#b7c346" d="M261.6 121.4l1.6 2 -2 1.1 -1.6-2z"/><path color="#cb1146" d="M231.8 90.6l1.6 5.2 -1.9 2.7 -1.7-5.1z"/><path color="#cb6046" d="M244 104.6l1.6 4.9 -1.9 2 -1.6-4.9z"/><path color="#a2397a" d="M223 81.6l1.7 4.6 -1.9 2.6 -1.6-4.9z"/><path color="#7b377a" d="M202.1 55l1.8 3.8 -1.8-1 -1.7-4.1z"/><path color="#a2377a" d="M214.3 71.9l1.7 4.5 -1.8 1.2 -1.7-4.8z"/><path color="#cbb946" d="M256.3 117.3l1.7 2.8 -2 1.3 -1.6-2.9z"/><path color="#a2c346" d="M270.6 125.1l1.6 1.5 -2 .2 -1.7-1.2z"/><path color="#cb7346" d="M247.6 107.9l1.6 4.5 -2 1.7 -1.6-4.6z"/><path color="#cb1146" d="M235.3 93.2l1.6 5.3 -1.9 2.5 -1.6-5.2z"/><path color="#8a377a" d="M205.6 59.7l1.7 4.1 -1.7-.5 -1.7-4.5z"/><path color="#b1c346" d="M265.2 122.5l1.7 1.7 -2 .8 -1.7-1.6z"/><path color="#a2397a" d="M226.6 83.6l1.6 4.8 -1.9 2.7 -1.6-4.9z"/><path color="#67377a" d="M196.9 48l1.8 2.4 -1.7-1.6 -1.8-2.6z"/><path color="#a2387a" d="M217.8 74.9l1.7 4.4 -1.8 1.8 -1.7-4.7z"/><path color="#c7c346" d="M260 119l1.6 2.4 -2 1.1 -1.6-2.4z"/><path color="#cb8646" d="M251.1 111l1.6 4.1 -1.9 1.4 -1.6-4.1z"/><path color="#96377a" d="M209.1 64.1l1.7 4.1 -1.8 .2 -1.7-4.6z"/><path color="#cb1d46" d="M238.9 96.2l1.6 5.2 -2 2.3 -1.6-5.2z"/><path color="#71377a" d="M200.4 52l1.7 3 -1.7-1.3 -1.7-3.3z"/><path color="#adc346" d="M268.9 123.5l1.7 1.6 -2.1 .5 -1.6-1.4z"/><path color="#cb0f46" d="M230.1 85.7l1.7 4.9 -2 2.8 -1.6-5z"/><path color="#a2387a" d="M221.3 77.3l1.7 4.3 -1.8 2.3 -1.7-4.6z"/><path color="#a0377a" d="M212.6 67.9l1.7 4 -1.8 .9 -1.7-4.6z"/><path color="#cb9a46" d="M254.7 113.9l1.6 3.4 -1.9 1.2 -1.7-3.4z"/><path color="#cb2e46" d="M242.4 99.5l1.6 5.1 -1.9 2 -1.6-5.2z"/><path color="#bfc346" d="M263.6 120.5l1.6 2 -2 .9 -1.6-2z"/><path color="#7d377a" d="M203.9 56.3l1.7 3.4 -1.7-.9 -1.8-3.8z"/><path color="#cb4546" d="M246 103l1.6 4.9 -2 1.6 -1.6-4.9z"/><path color="#cb0f46" d="M233.7 88.1l1.6 5.1 -1.9 2.6 -1.6-5.2z"/><path color="#a2377a" d="M216.1 71l1.7 3.9 -1.8 1.5 -1.7-4.5z"/><path color="#a2387a" d="M224.9 79.3l1.7 4.3 -1.9 2.6 -1.7-4.6z"/><path color="#cbae46" d="M258.3 116.2l1.7 2.8 -2 1.1 -1.7-2.8z"/><path color="#8a377a" d="M207.4 60.5l1.7 3.6 -1.8-.3 -1.7-4.1z"/><path color="#6a377a" d="M198.7 49.8l1.7 2.2 -1.7-1.6 -1.8-2.4z"/><path color="#b8c346" d="M267.3 121.7l1.6 1.8 -2 .7 -1.7-1.7z"/><path color="#cb6046" d="M249.5 106.6l1.6 4.4 -1.9 1.4 -1.6-4.5z"/><path color="#cb1046" d="M237.2 91l1.7 5.2 -2 2.3 -1.6-5.3z"/><path color="#a2377a" d="M219.7 73.4l1.6 3.9 -1.8 2 -1.7-4.4z"/><path color="#94377a" d="M210.9 64.2l1.7 3.7 -1.8 .3 -1.7-4.1z"/><path color="#cbbf46" d="M262 118.1l1.6 2.4 -2 .9 -1.6-2.4z"/><path color="#cb0e46" d="M228.5 81.1l1.6 4.6 -1.9 2.7 -1.6-4.8z"/><path color="#73377a" d="M202.2 53.5l1.7 2.8 -1.8-1.3 -1.7-3z"/><path color="#cb7946" d="M253.1 110l1.6 3.9 -2 1.2 -1.6-4.1z"/><path color="#cb1046" d="M240.8 94.3l1.6 5.2 -1.9 1.9 -1.6-5.2z"/><path color="#9b377a" d="M214.4 67.4l1.7 3.6 -1.8 .9 -1.7-4z"/><path color="#7e377a" d="M205.7 57.4l1.7 3.1 -1.8-.8 -1.7-3.4z"/><path color="#cb9046" d="M256.7 113l1.6 3.2 -2 1.1 -1.6-3.4z"/><path color="#a2377a" d="M223.2 75.3l1.7 4 -1.9 2.3 -1.7-4.3z"/><path color="#c4c346" d="M265.6 119.7l1.7 2 -2.1 .8 -1.6-2z"/><path color="#cb0e46" d="M232 83.3l1.7 4.8 -1.9 2.5 -1.7-4.9z"/><path color="#cb1446" d="M244.4 97.9l1.6 5.1 -2 1.6 -1.6-5.1z"/><path color="#6d377a" d="M200.4 51.6l1.8 1.9 -1.8-1.5 -1.7-2.2z"/><path color="#89377a" d="M209.2 61.1l1.7 3.1 -1.8-.1 -1.7-3.6z"/><path color="#cb3046" d="M247.9 101.8l1.6 4.8 -1.9 1.3 -1.6-4.9z"/><path color="#a0377a" d="M218 69.9l1.7 3.5 -1.9 1.5 -1.7-3.9z"/><path color="#cba646" d="M260.3 115.5l1.7 2.6 -2 .9 -1.7-2.8z"/><path color="#cb0e46" d="M235.6 85.9l1.6 5.1 -1.9 2.2 -1.6-5.1z"/><path color="#a2387a" d="M226.8 77l1.7 4.1 -1.9 2.5 -1.7-4.3z"/><path color="#cb5046" d="M251.5 105.7l1.6 4.3 -2 1 -1.6-4.4z"/><path color="#74377a" d="M203.9 55.1l1.8 2.3 -1.8-1.1 -1.7-2.8z"/><path color="#91377a" d="M212.7 64.3l1.7 3.1 -1.8 .5 -1.7-3.7z"/><path color="#cbb946" d="M264 117.5l1.6 2.2 -2 .8 -1.6-2.4z"/><path color="#cb0f46" d="M239.2 89.1l1.6 5.2 -1.9 1.9 -1.7-5.2z"/><path color="#a2377a" d="M221.5 71.8l1.7 3.5 -1.9 2 -1.6-3.9z"/><path color="#cb7046" d="M255.1 109.3l1.6 3.7 -2 .9 -1.6-3.9z"/><path color="#cb0d46" d="M230.4 78.9l1.6 4.4 -1.9 2.4 -1.6-4.6z"/><path color="#7e377a" d="M207.4 58.5l1.8 2.6 -1.8-.6 -1.7-3.1z"/><path color="#cb0f46" d="M242.8 92.8l1.6 5.1 -2 1.6 -1.6-5.2z"/><path color="#96377a" d="M216.3 66.8l1.7 3.1 -1.9 1.1 -1.7-3.6z"/><path color="#cb8b46" d="M258.7 112.5l1.6 3 -2 .7 -1.6-3.2z"/><path color="#6f377a" d="M202.2 53.5l1.7 1.6 -1.7-1.6 -1.8-1.9z"/><path color="#cb1046" d="M246.3 96.9l1.6 4.9 -1.9 1.2 -1.6-5.1z"/><path color="#a2377a" d="M225.1 73.4l1.7 3.6 -1.9 2.3 -1.7-4z"/><path color="#cb0d46" d="M234 81.2l1.6 4.7 -1.9 2.2 -1.7-4.8z"/><path color="#87377a" d="M211 61.6l1.7 2.7 -1.8-.1 -1.7-3.1z"/><path color="#cba346" d="M262.4 115.1l1.6 2.4 -2 .6 -1.7-2.6z"/><path color="#cb2246" d="M249.9 101.1l1.6 4.6 -2 .9 -1.6-4.8z"/><path color="#99377a" d="M219.8 68.8l1.7 3 -1.8 1.6 -1.7-3.5z"/><path color="#cb0d46" d="M237.5 84.2l1.7 4.9 -2 1.9 -1.6-5.1z"/><path color="#cb4846" d="M253.5 105.3l1.6 4 -2 .7 -1.6-4.3z"/><path color="#cb0b46" d="M228.7 75l1.7 3.9 -1.9 2.2 -1.7-4.1z"/><path color="#8d377a" d="M214.5 64.2l1.8 2.6 -1.9 .6 -1.7-3.1z"/><path color="#cb6d46" d="M257.1 109.1l1.6 3.4 -2 .5 -1.6-3.7z"/><path color="#cb0e46" d="M241.1 87.8l1.7 5 -2 1.5 -1.6-5.2z"/><path color="#7f377a" d="M209.2 59.5l1.8 2.1 -1.8-.5 -1.8-2.6z"/><path color="#9b377a" d="M223.4 70.4l1.7 3 -1.9 1.9 -1.7-3.5z"/><path color="#cb0c46" d="M232.3 77l1.7 4.2 -2 2.1 -1.6-4.4z"/><path color="#cb0f46" d="M244.7 91.9l1.6 5 -1.9 1 -1.6-5.1z"/><path color="#91377a" d="M218.1 66.2l1.7 2.6 -1.8 1.1 -1.7-3.1z"/><path color="#cb8b46" d="M260.7 112.4l1.7 2.7 -2.1 .4 -1.6-3z"/><path color="#76377a" d="M205.7 57l3.5 2.5 -3.5-2.1 -3.5-3.9z"/><path color="#cb1046" d="M248.3 96.4l1.6 4.7 -2 .7 -1.6-4.9z"/><path color="#9b377a" d="M227 71.8l1.7 3.2 -1.9 2 -1.7-3.6z"/><path color="#cb0c46" d="M235.9 79.6l1.6 4.6 -1.9 1.7 -1.6-4.7z"/><path color="#cb1c46" d="M251.9 101.1l1.6 4.2 -2 .4 -1.6-4.6z"/><path color="#93377a" d="M221.7 67.8l1.7 2.6 -1.9 1.4 -1.7-3z"/><path color="#cb4846" d="M255.5 105.5l1.6 3.6 -2 .2 -1.6-4z"/><path color="#8a377a" d="M216.4 64.1l1.7 2.1 -1.8 .6 -1.8-2.6z"/><path color="#cb0d46" d="M239.5 83l1.6 4.8 -1.9 1.3 -1.7-4.9z"/><path color="#c10b46" d="M230.6 73.4l1.7 3.6 -1.9 1.9 -1.7-3.9z"/><path color="#cb7146" d="M259.1 109.4l1.6 3 -2 .1 -1.6-3.4z"/><path color="#cb0d46" d="M243.1 87.1l1.6 4.8 -1.9 .9 -1.7-5z"/><path color="#93377a" d="M225.3 69l1.7 2.8 -1.9 1.6 -1.7-3z"/><path color="#82377a" d="M212.8 61.3l3.6 2.8 -3.7 .2 -3.5-4.8z"/><path color="#cb0f46" d="M246.7 91.7l1.6 4.7 -2 .5 -1.6-5z"/><path color="#8c377a" d="M219.9 65.7l1.8 2.1 -1.9 1 -1.7-2.6z"/><path color="#c40b46" d="M234.2 75.5l1.7 4.1 -1.9 1.6 -1.7-4.2z"/><path color="#cb1046" d="M250.2 96.7l1.7 4.4 -2 0 -1.6-4.7z"/><path color="#cb1f46" d="M253.8 101.6l1.7 3.9 -2-.2 -1.6-4.2z"/><path color="#b20b46" d="M228.9 70.4l1.7 3 -1.9 1.6 -1.7-3.2z"/><path color="#cb0b46" d="M237.8 78.5l1.7 4.5 -2 1.2 -1.6-4.6z"/><path color="#cb5046" d="M257.4 106.3l1.7 3.1 -2-.3 -1.6-3.6z"/><path color="#8c377a" d="M223.6 66.9l1.7 2.1 -1.9 1.4 -1.7-2.6z"/><path color="#86377a" d="M218.2 64l1.7 1.7 -1.8 .5 -1.7-2.1z"/><path color="#cb0c46" d="M241.4 82.4l1.7 4.7 -2 .7 -1.6-4.8z"/><path color="#b40b46" d="M232.5 72.1l1.7 3.4 -1.9 1.5 -1.7-3.6z"/><path color="#cb0d46" d="M245 87.1l1.7 4.6 -2 .2 -1.6-4.8z"/><path color="#8a3050" d="M209.3 60.4l3.5 .9 -3.6-1.8 -3.5-2.5z"/><path color="#cb0e46" d="M248.6 92.3l1.6 4.4 -1.9-.3 -1.6-4.7z"/><path color="#8c377a" d="M227.2 68l1.7 2.4 -1.9 1.4 -1.7-2.8z"/><path color="#87377a" d="M221.8 65.2l1.8 1.7 -1.9 .9 -1.8-2.1z"/><path color="#cb1046" d="M252.2 97.7l1.6 3.9 -1.9-.5 -1.7-4.4z"/><path color="#b90b46" d="M236.2 74.6l1.6 3.9 -1.9 1.1 -1.7-4.1z"/><path color="#cb2b46" d="M255.8 102.9l1.6 3.4 -1.9-.8 -1.7-3.9z"/><path color="#c30b46" d="M239.8 78.2l1.6 4.2 -1.9 .6 -1.7-4.5z"/><path color="#a70b46" d="M230.8 69.4l1.7 2.7 -1.9 1.3 -1.7-3z"/><path color="#86377a" d="M225.4 66.2l1.8 1.8 -1.9 1 -1.7-2.1z"/><path color="#82377a" d="M220.1 64l1.7 1.2 -1.9 .5 -1.7-1.7z"/><path color="#cb0c46" d="M243.4 82.7l1.6 4.4 -1.9 0 -1.7-4.7z"/><path color="#cb0d46" d="M247 87.9l1.6 4.4 -1.9-.6 -1.7-4.6z"/><path color="#80377a" d="M216.5 62.9l3.6 1.1 -3.7 .1 -3.6-2.8z"/><path color="#aa0b46" d="M234.5 71.4l1.7 3.2 -2 .9 -1.7-3.4z"/><path color="#cb0f46" d="M250.6 93.7l1.6 4 -2-1 -1.6-4.4z"/><path color="#cb1146" d="M254.1 99.5l1.7 3.4 -2-1.3 -1.6-3.9z"/><path color="#9c0b46" d="M229.1 67.3l1.7 2.1 -1.9 1 -1.7-2.4z"/><path color="#b20b46" d="M238.1 74.4l1.7 3.8 -2 .3 -1.6-3.9z"/><path color="#c00b46" d="M241.7 78.6l1.7 4.1 -2-.3 -1.6-4.2z"/><path color="#9d0b46" d="M232.7 68.9l1.8 2.5 -2 .7 -1.7-2.7z"/><path color="#cb0c46" d="M245.3 83.8l1.7 4.1 -2-.8 -1.6-4.4z"/><path color="#81377a" d="M227.3 65.7l1.8 1.6 -1.9 .7 -1.8-1.8z"/><path color="#cb0d46" d="M248.9 89.7l1.7 4 -2-1.4 -1.6-4.4z"/><path color="#8f3050" d="M212.9 63.4l3.6-.5 -3.7-1.6 -3.5-.9z"/><path color="#cb0f46" d="M252.5 96.1l1.6 3.4 -1.9-1.8 -1.6-4z"/><path color="#7f377a" d="M223.8 64.2l3.5 1.5 -3.7 1.2 -3.5-2.9z"/><path color="#a30b46" d="M236.4 71.4l1.7 3 -1.9 .2 -1.7-3.2z"/><path color="#af0b46" d="M240 75l1.7 3.6 -1.9-.4 -1.7-3.8z"/><path color="#c20b46" d="M243.6 80l1.7 3.8 -1.9-1.1 -1.7-4.1z"/><path color="#cb0c46" d="M247.2 85.9l1.7 3.8 -1.9-1.8 -1.7-4.1z"/><path color="#cb0e46" d="M250.8 92.6l1.7 3.5 -1.9-2.4 -1.7-4z"/><path color="#970b46" d="M234.7 69l1.7 2.4 -1.9 0 -1.8-2.5z"/><path color="#8f3050" d="M220.2 64.4l3.6-.2 -3.7-.2 -3.6-1.1z"/><path color="#900b46" d="M231.2 66l3.5 3 -3.9 .4 -3.5-3.7z"/><path color="#a10b46" d="M238.3 72.1l1.7 2.9 -1.9-.6 -1.7-3z"/><path color="#b20b46" d="M241.9 76.6l1.7 3.4 -1.9-1.4 -1.7-3.6z"/><path color="#c90b46" d="M245.6 82.4l1.6 3.5 -1.9-2.1 -1.7-3.8z"/><path color="#cb0d46" d="M249.1 89.2l1.7 3.4 -1.9-2.9 -1.7-3.8z"/><path color="#950b46" d="M236.6 69.8l1.7 2.3 -1.9-.7 -1.7-2.4z"/><path color="#933050" d="M216.6 65.9l3.6-1.5 -3.7-1.5 -3.6 .5z"/><path color="#a40b46" d="M240.2 73.7l1.7 2.9 -1.9-1.6 -1.7-2.9z"/><path color="#7a377a" d="M227.6 65.2l3.6 .8 -3.9-.3 -3.5-1.5z"/><path color="#b90b46" d="M243.9 79.2l1.7 3.2 -2-2.4 -1.7-3.4z"/><path color="#cb0c46" d="M247.5 86l1.6 3.2 -1.9-3.3 -1.6-3.5z"/><path color="#980b46" d="M238.5 71.4l1.7 2.3 -1.9-1.6 -1.7-2.3z"/><path color="#ac0b46" d="M242.1 76.4l1.8 2.8 -2-2.6 -1.7-2.9z"/><path color="#fa0000" d="M245.8 82.9l1.7 3.1 -1.9-3.6 -1.7-3.2z"/><path color="#8d3050" d="M224 65.9l3.6-.7 -3.8-1 -3.6 .2z"/><path color="#8e0b46" d="M235 68.4l3.5 3 -3.8-2.4 -3.5-3z"/><path color="#c40000" d="M240.4 74l1.7 2.4 -1.9-2.7 -1.7-2.3z"/><path color="#e70000" d="M244 80.1l1.8 2.8 -1.9-3.7 -1.8-2.8z"/><path color="#953050" d="M220.4 67.8l3.6-1.9 -3.8-1.5 -3.6 1.5z"/><path color="#a30000" d="M231.4 67.1l3.6 1.3 -3.8-2.4 -3.6-.8z"/><path color="#b80000" d="M238.7 72l1.7 2 -1.9-2.6 -1.7-1.8z"/><path color="#d70000" d="M242.3 77.6l1.7 2.5 -1.9-3.7 -1.7-2.4z"/><path color="#af0000" d="M236.9 70.5l1.8 1.5 -1.9-2.4 -1.8-1.2z"/><path color="#ca0000" d="M240.6 75.3l1.7 2.3 -1.9-3.6 -1.7-2z"/><path color="#8d3050" d="M227.8 67.4l3.6-.3 -3.8-1.9 -3.6 .7z"/><path color="#bf0000" d="M238.8 73.4l1.8 1.9 -1.9-3.3 -1.8-1.5z"/><path color="#963050" d="M224.2 68.8l3.6-1.4 -3.8-1.5 -3.6 1.9z"/><path color="#b00000" d="M235.3 70.5l3.5 2.9 -3.8-5 -3.6-1.3z"/><path color="#ae0000" d="M231.7 68.9l3.6 1.6 -3.9-3.4 -3.6 .3z"/><path color="#943050" d="M228.1 68.8l3.6 .1 -3.9-1.5 -3.6 1.4z"/></g></g>
<use href="#rd" x="245.1" y="81.8"/><use href="#rd" x="261" y="112.9"/><use href="#rd" x="276.8" y="130"/><use href="#rd" x="292.3" y="136.1"/><use href="#rd" x="307.7" y="135.2"/><use href="#rd" x="225.9" y="81.8"/><use href="#rd" x="241.4" y="126.9"/><use href="#rd" x="257.1" y="134.4"/><use href="#rd" x="273.1" y="115.6"/><use href="#rd" x="288.7" y="101.7"/><use href="#rd" x="207.9" y="94"/><use href="#rd" x="223.2" y="141.7"/><use href="#rd" x="238.5" y="149.5"/><use href="#rd" x="253.7" y="143.2"/><use href="#rd" x="269.7" y="103.8"/><use href="#rd" x="206.6" y="125"/>
<g stroke="#555" stroke-width="0.6"><line x1="131.3" y1="7.3" x2="228.6" y2="34.6"/><line x1="228.6" y1="34.6" x2="225.2" y2="232.4"/></g>
<g clip-path="url(#sf)"><g fill="currentColor" stroke="currentColor" stroke-width="0.45" stroke-linejoin="round" filter="url(#bl2)"><path color="#ff1400" d="M131.3 62.8l3.2 .3 -2.7-2.2 -3.2 0z"/><path color="#ff1100" d="M128 62.8l3.3 0 -2.7-1.9 -3.2 .9z"/><path color="#ff1800" d="M124.8 63.4l3.2-.6 -2.6-1 -3.2 1.9z"/><path color="#cb4146" d="M118.6 66.5l1.6-1.2 -1.3 1 -1.6 1.7z"/><path color="#cb5046" d="M117 68.1l1.6-1.6 -1.3 1.5 -1.6 1.8z"/><path color="#ff2b00" d="M121.5 64.7l3.3-1.3 -2.6 .3 -3.3 2.6z"/><path color="#cb6246" d="M115.4 69.9l1.6-1.8 -1.3 1.7 -1.6 2z"/><path color="#ff1b00" d="M133.9 63.9l3.3 .1 -2.7-.9 -3.2-.3z"/><path color="#cb7346" d="M113.8 71.8l1.6-1.9 -1.3 1.9 -1.6 2.2z"/><path color="#cb8446" d="M112.1 74l1.7-2.2 -1.3 2.2 -1.6 2.2z"/><path color="#cb9646" d="M110.5 76.2l1.6-2.2 -1.2 2.2 -1.6 2.3z"/><path color="#cba946" d="M108.9 78.5l1.6-2.3 -1.2 2.3 -1.6 2.3z"/><path color="#cbbb46" d="M107.3 80.8l1.6-2.3 -1.2 2.3 -1.6 2.3z"/><path color="#c4c346" d="M105.7 83.1l1.6-2.3 -1.2 2.3 -1.6 2.2z"/><path color="#ff1300" d="M130.7 63.8l3.2 .1 -2.6-1.1 -3.3 0z"/><path color="#ff3300" d="M119.9 65.8l1.6-1.1 -1.3 .6 -1.6 1.2z"/><path color="#b8c346" d="M104.1 85.3l1.6-2.2 -1.2 2.2 -1.7 2.1z"/><path color="#adc346" d="M102.4 87.3l1.7-2 -1.3 2.1 -1.6 1.9z"/><path color="#ff4400" d="M118.3 67.1l1.6-1.3 -1.3 .7 -1.6 1.6z"/><path color="#a2c346" d="M100.8 89.2l1.6-1.9 -1.2 2 -1.6 1.8z"/><path color="#ff5900" d="M116.6 68.7l1.7-1.6 -1.3 1 -1.6 1.8z"/><path color="#99c346" d="M99.2 90.9l1.6-1.7 -1.2 1.9 -1.6 1.5z"/><path color="#ff7300" d="M115 70.6l1.6-1.9 -1.2 1.2 -1.6 1.9z"/><path color="#ff1100" d="M127.4 64.1l3.3-.3 -2.7-1 -3.2 .6z"/><path color="#90c346" d="M97.5 92.5l1.7-1.6 -1.2 1.7 -1.7 1.4z"/><path color="#ff8c00" d="M113.4 72.6l1.6-2 -1.2 1.2 -1.7 2.2z"/><path color="#88c346" d="M95.9 93.9l1.6-1.4 -1.2 1.5 -1.6 1.2z"/><path color="#ffa400" d="M111.8 74.8l1.6-2.2 -1.3 1.4 -1.6 2.2z"/><path color="#ffbe00" d="M110.2 77.1l1.6-2.3 -1.3 1.4 -1.6 2.3z"/><path color="#7dc346" d="M94.2 95.2l1.7-1.3 -1.2 1.3 -1.7 1.2z"/><path color="#ffd800" d="M108.5 79.4l1.7-2.3 -1.3 1.4 -1.6 2.3z"/><path color="#fff100" d="M106.9 81.7l1.6-2.3 -1.2 1.4 -1.6 2.3z"/><path color="#ff1700" d="M124.1 65.1l3.3-1 -2.6-.7 -3.3 1.3z"/><path color="#f7ff00" d="M105.3 83.9l1.6-2.2 -1.2 1.4 -1.6 2.2z"/><path color="#ff1200" d="M136.6 64.2l3.3-.4 -2.7 .2 -3.3-.1z"/><path color="#e7ff00" d="M103.7 86.1l1.6-2.2 -1.2 1.4 -1.7 2z"/><path color="#d7ff00" d="M102 88.1l1.7-2 -1.3 1.2 -1.6 1.9z"/><path color="#caff00" d="M100.4 89.9l1.6-1.8 -1.2 1.1 -1.6 1.7z"/><path color="#ff2b00" d="M120.9 67.1l3.2-2 -2.6-.4 -3.2 2.4z"/><path color="#bdff00" d="M98.7 91.6l1.7-1.7 -1.2 1 -1.7 1.6z"/><path color="#88ff00" d="M92.1 97.2l3.3-2.6 -2.4 1.8 -3.3 1.9z"/><path color="#ff7800" d="M114.7 72.1l1.6-2 -1.3 .5 -1.6 2z"/><path color="#ff0f00" d="M133.4 64.6l3.2-.4 -2.7-.3 -3.2-.1z"/><path color="#b2ff00" d="M97.1 93.1l1.6-1.5 -1.2 .9 -1.6 1.4z"/><path color="#ff9100" d="M113 74.2l1.7-2.1 -1.3 .5 -1.6 2.2z"/><path color="#ffaa00" d="M111.4 76.4l1.6-2.2 -1.2 .6 -1.6 2.3z"/><path color="#ff5000" d="M117.6 70.3l3.3-3.2 -2.6 0 -3.3 3.5z"/><path color="#a7ff00" d="M95.4 94.6l1.7-1.5 -1.2 .8 -1.7 1.3z"/><path color="#70ff00" d="M88.8 99.7l3.3-2.5 -2.4 1.1 -3.3 1.8z"/><path color="#ffc400" d="M109.8 78.7l1.6-2.3 -1.2 .7 -1.7 2.3z"/><path color="#ffde00" d="M108.2 81.1l1.6-2.4 -1.3 .7 -1.6 2.3z"/><path color="#fff800" d="M106.5 83.3l1.7-2.2 -1.3 .6 -1.6 2.2z"/><path color="#f3ff00" d="M104.9 85.5l1.6-2.2 -1.2 .6 -1.6 2.2z"/><path color="#ff0f00" d="M130.1 65.5l3.3-.9 -2.7-.8 -3.3 .3z"/><path color="#60ff00" d="M85.4 102l3.4-2.3 -2.4 .4 -3.4 1.7z"/><path color="#e4ff00" d="M103.3 87.5l1.6-2 -1.2 .6 -1.7 2z"/><path color="#ff6d00" d="M116 72.2l1.6-1.9 -1.3-.2 -1.6 2z"/><path color="#57ff00" d="M82.1 104.4l3.3-2.4 -2.4-.2 -3.3 1.8z"/><path color="#ff8800" d="M114.3 74.3l1.7-2.1 -1.3-.1 -1.7 2.1z"/><path color="#ff1600" d="M126.8 66.9l3.3-1.4 -2.7-1.4 -3.3 1z"/><path color="#ffa100" d="M112.7 76.5l1.6-2.2 -1.3-.1 -1.6 2.2z"/><path color="#ffba00" d="M111.1 78.8l1.6-2.3 -1.3-.1 -1.6 2.3z"/><path color="#53ff00" d="M78.7 106.8l3.4-2.4 -2.4-.8 -3.4 2z"/><path color="#d1ff00" d="M101.2 91.2l3.3-3.6 -2.5 .5 -3.3 3.5z"/><path color="#cb1146" d="M139.4 63.7l3.2-1.1 -2.7 1.2 -3.3 .4z"/><path color="#ffd400" d="M109.4 81.1l1.7-2.3 -1.3-.1 -1.6 2.4z"/><path color="#ffee00" d="M107.8 83.4l1.6-2.3 -1.2 0 -1.7 2.2z"/><path color="#faff00" d="M106.2 85.5l1.6-2.1 -1.3-.1 -1.6 2.2z"/><path color="#ff2b00" d="M123.5 69.3l3.3-2.4 -2.7-1.8 -3.2 2z"/><path color="#baff00" d="M97.9 94.5l3.3-3.3 -2.5 .4 -3.3 3z"/><path color="#52ff00" d="M75.3 109.3l3.4-2.5 -2.4-1.2 -3.3 2.3z"/><path color="#ebff00" d="M104.5 87.6l1.7-2.1 -1.3 0 -1.6 2z"/><path color="#ff0800" d="M136.1 65.3l3.3-1.6 -2.8 .5 -3.2 .4z"/><path color="#a6ff00" d="M94.6 97.4l3.3-2.9 -2.5 .1 -3.3 2.6z"/><path color="#53ff00" d="M72 112l3.3-2.7 -2.3-1.4 -3.4 2.7z"/><path color="#ff4f00" d="M120.3 72.6l3.2-3.3 -2.6-2.2 -3.3 3.2z"/><path color="#40ff00" d="M59 123.9l1.7-2.1 -1.2-.2 -1.6 2.4z"/><path color="#1dff00" d="M54 131.2l1.6-2.6 -1 .8 -1.7 3.1z"/><path color="#37ff00" d="M57.3 126.2l1.7-2.3 -1.1 .1 -1.7 2.6z"/><path color="#2bff00" d="M55.6 128.6l1.7-2.4 -1.1 .4 -1.6 2.8z"/><path color="#53ff00" d="M68.6 114.9l3.4-2.9 -2.4-1.4 -3.4 3.1z"/><path color="#8fff00" d="M91.2 100l3.4-2.6 -2.5-.2 -3.3 2.5z"/><path color="#ff8100" d="M117 76.6l3.3-4 -2.7-2.3 -3.3 4z"/><path color="#ff1000" d="M132.8 67.3l3.3-2 -2.7-.7 -3.3 .9z"/><path color="#51ff00" d="M65.2 118l3.4-3.1 -2.4-1.2 -3.3 3.6z"/><path color="#ffb100" d="M113.7 80.9l3.3-4.3 -2.7-2.3 -3.2 4.5z"/><path color="#79ff00" d="M87.9 102.5l3.3-2.5 -2.4-.3 -3.4 2.3z"/><path color="#4cff00" d="M61.8 121.5l3.4-3.5 -2.3-.7 -3.4 4.3z"/><path color="#ffe200" d="M110.4 85.3l3.3-4.4 -2.6-2.1 -3.3 4.6z"/><path color="#ff2400" d="M129.5 69.8l3.3-2.5 -2.7-1.8 -3.3 1.4z"/><path color="#69ff00" d="M84.5 105l3.4-2.5 -2.5-.5 -3.3 2.4z"/><path color="#f3ff00" d="M107.1 89.3l3.3-4 -2.6-1.9 -3.3 4.2z"/><path color="#45ff00" d="M60.1 123.4l1.7-1.9 -1.1 .3 -1.7 2.1z"/><path color="#ff5500" d="M123.2 72.6l1.7-1.6 -1.4-1.7 -1.6 1.5z"/><path color="#d7ff00" d="M103.8 92.8l3.3-3.5 -2.6-1.7 -3.3 3.6z"/><path color="#5eff00" d="M81.1 107.4l3.4-2.4 -2.4-.6 -3.4 2.4z"/><path color="#40ff00" d="M58.4 125.3l1.7-1.9 -1.1 .5 -1.7 2.3z"/><path color="#3aff00" d="M56.7 127.4l1.7-2.1 -1.1 .9 -1.7 2.4z"/><path color="#32ff00" d="M55 129.6l1.7-2.2 -1.1 1.2 -1.6 2.6z"/><path color="#ff4300" d="M126.2 73l3.3-3.2 -2.7-2.9 -3.3 2.4z"/><path color="#cb1046" d="M142.1 62.7l3.3-2.1 -2.8 2 -3.2 1.1z"/><path color="#ff6c00" d="M121.6 74.5l1.6-1.9 -1.3-1.8 -1.6 1.8z"/><path color="#ff8500" d="M120 76.4l1.6-1.9 -1.3-1.9 -1.7 1.9z"/><path color="#bfff00" d="M100.5 95.9l3.3-3.1 -2.6-1.6 -3.3 3.3z"/><path color="#57ff00" d="M77.7 109.8l3.4-2.4 -2.4-.6 -3.4 2.5z"/><path color="#ff9b00" d="M118.3 78.5l1.7-2.1 -1.4-1.9 -1.6 2.1z"/><path color="#ffb300" d="M116.7 80.6l1.6-2.1 -1.3-1.9 -1.7 2.1z"/><path color="#ff0700" d="M138.8 65.6l3.3-2.9 -2.7 1 -3.3 1.6z"/><path color="#acff00" d="M97.1 98.6l3.4-2.7 -2.6-1.4 -3.3 2.9z"/><path color="#54ff00" d="M74.3 112.2l3.4-2.4 -2.4-.5 -3.3 2.7z"/><path color="#ffcb00" d="M115 82.8l1.7-2.2 -1.4-1.9 -1.6 2.2z"/><path color="#ffe300" d="M113.4 84.9l1.6-2.1 -1.3-1.9 -1.6 2.2z"/><path color="#ff6a00" d="M124.6 74.8l1.6-1.8 -1.3-2 -1.7 1.6z"/><path color="#fffa00" d="M111.7 87l1.7-2.1 -1.3-1.8 -1.7 2.2z"/><path color="#99ff00" d="M93.7 101.1l3.4-2.5 -2.5-1.2 -3.4 2.6z"/><path color="#52ff00" d="M70.9 114.7l3.4-2.5 -2.3-.2 -3.4 2.9z"/><path color="#ff8200" d="M123 76.8l1.6-2 -1.4-2.2 -1.6 1.9z"/><path color="#ff1100" d="M135.6 69.2l3.2-3.6 -2.7-.3 -3.3 2z"/><path color="#f3ff00" d="M110.1 89l1.6-2 -1.3-1.7 -1.6 2z"/><path color="#4dff00" d="M61.2 122.5l1.7-1.6 -1.1 .6 -1.7 1.9z"/><path color="#ff9700" d="M121.3 78.8l1.7-2 -1.4-2.3 -1.6 1.9z"/><path color="#4bff00" d="M59.5 124.2l1.7-1.7 -1.1 .9 -1.7 1.9z"/><path color="#e5ff00" d="M108.4 90.9l1.7-1.9 -1.3-1.7 -1.7 2z"/><path color="#52ff00" d="M67.5 117.3l3.4-2.6 -2.3 .2 -3.4 3.1z"/><path color="#48c346" d="M57.8 126l1.7-1.8 -1.1 1.1 -1.7 2.1z"/><path color="#ffae00" d="M119.7 80.9l1.6-2.1 -1.3-2.4 -1.7 2.1z"/><path color="#ff5300" d="M129.3 73.4l1.6-1.8 -1.4-1.8 -1.6 1.5z"/><path color="#46c346" d="M56.1 127.8l1.7-1.8 -1.1 1.4 -1.7 2.2z"/><path color="#83ff00" d="M90.4 103.4l3.3-2.3 -2.5-1.1 -3.3 2.5z"/><path color="#ffc500" d="M118 83l1.7-2.1 -1.4-2.4 -1.6 2.1z"/><path color="#ff3a00" d="M132.3 73.4l3.3-4.2 -2.8-1.9 -3.3 2.5z"/><path color="#ff6a00" d="M127.6 75.3l1.7-1.9 -1.4-2.1 -1.7 1.7z"/><path color="#53ff00" d="M64.1 119.9l3.4-2.6 -2.3 .7 -3.4 3.5z"/><path color="#ffdd00" d="M116.4 85.2l1.6-2.2 -1.3-2.4 -1.7 2.2z"/><path color="#cb0f46" d="M145.1 60.5l1.7-1.1 -1.4 1.2 -1.7 .9z"/><path color="#ff8300" d="M126 77.3l1.6-2 -1.4-2.3 -1.6 1.8z"/><path color="#fff400" d="M114.7 87.2l1.7-2 -1.4-2.4 -1.6 2.1z"/><path color="#72ff00" d="M87 105.6l3.4-2.2 -2.5-.9 -3.4 2.5z"/><path color="#f7ff00" d="M113.1 89.2l1.6-2 -1.3-2.3 -1.7 2.1z"/><path color="#ff9800" d="M124.3 79.4l1.7-2.1 -1.4-2.5 -1.6 2z"/><path color="#ff0600" d="M143.5 61.9l1.6-1.4 -1.4 1 -1.6 1.2z"/><path color="#cdff00" d="M106.4 96.1l3.3-3.2 -2.6-3.6 -3.3 3.5z"/><path color="#e9ff00" d="M111.4 91.1l1.7-1.9 -1.4-2.2 -1.6 2z"/><path color="#ffaf00" d="M122.7 81.6l1.6-2.2 -1.3-2.6 -1.7 2z"/><path color="#dbff00" d="M109.7 92.9l1.7-1.8 -1.3-2.1 -1.7 1.9z"/><path color="#ff0600" d="M141.9 63.6l1.6-1.7 -1.4 .8 -1.6 1.3z"/><path color="#66ff00" d="M83.6 107.7l3.4-2.1 -2.5-.6 -3.4 2.4z"/><path color="#ffc600" d="M121 83.7l1.7-2.1 -1.4-2.8 -1.6 2.1z"/><path color="#ff6700" d="M130.6 75.6l1.7-2.2 -1.4-1.8 -1.6 1.8z"/><path color="#b7ff00" d="M103.1 98.7l3.3-2.6 -2.6-3.3 -3.3 3.1z"/><path color="#ffdd00" d="M119.4 85.8l1.6-2.1 -1.3-2.8 -1.7 2.1z"/><path color="#ff0700" d="M140.2 65.6l1.7-2 -1.4 .4 -1.7 1.6z"/><path color="#52c346" d="M62.3 121.3l1.8-1.4 -1.2 1 -1.7 1.6z"/><path color="#ff8300" d="M129 77.8l1.6-2.2 -1.3-2.2 -1.7 1.9z"/><path color="#fff400" d="M117.7 87.9l1.7-2.1 -1.4-2.8 -1.6 2.2z"/><path color="#52c346" d="M60.6 122.8l1.7-1.5 -1.1 1.2 -1.7 1.7z"/><path color="#60ff00" d="M80.1 109.7l3.5-2 -2.5-.3 -3.4 2.4z"/><path color="#ff9a00" d="M127.3 80.1l1.7-2.3 -1.4-2.5 -1.6 2z"/><path color="#f7ff00" d="M116.1 90l1.6-2.1 -1.3-2.7 -1.7 2z"/><path color="#53c346" d="M58.9 124.3l1.7-1.5 -1.1 1.4 -1.7 1.8z"/><path color="#a6ff00" d="M99.7 101l3.4-2.3 -2.6-2.8 -3.4 2.7z"/><path color="#ffb200" d="M125.7 82.3l1.6-2.2 -1.3-2.8 -1.7 2.1z"/><path color="#53c346" d="M57.2 125.8l1.7-1.5 -1.1 1.7 -1.7 1.8z"/><path color="#e9ff00" d="M114.4 91.9l1.7-1.9 -1.4-2.8 -1.6 2z"/><path color="#cb0e46" d="M146.5 59.3l1.7-1.3 -1.4 1.4 -1.7 1.1z"/><path color="#ffca00" d="M124.1 84.6l1.6-2.3 -1.4-2.9 -1.6 2.2z"/><path color="#dbff00" d="M112.7 93.7l1.7-1.8 -1.3-2.7 -1.7 1.9z"/><path color="#ff3d00" d="M135.3 72.7l1.6-2.5 -1.3-1 -1.7 2.1z"/><path color="#5dff00" d="M76.7 111.6l3.4-1.9 -2.4 .1 -3.4 2.4z"/><path color="#ffe100" d="M122.4 86.8l1.7-2.2 -1.4-3 -1.7 2.1z"/><path color="#ceff00" d="M111.1 95.3l1.6-1.6 -1.3-2.6 -1.7 1.8z"/><path color="#ff5d00" d="M133.7 75.2l1.6-2.5 -1.4-1.4 -1.6 2.1z"/><path color="#92ff00" d="M96.3 103l3.4-2 -2.6-2.4 -3.4 2.5z"/><path color="#ff0500" d="M144.9 61l1.6-1.7 -1.4 1.2 -1.6 1.4z"/><path color="#fff900" d="M120.8 89l1.6-2.2 -1.4-3.1 -1.6 2.1z"/><path color="#ff1000" d="M138.3 71.1l3.3-5.6 -2.8 .1 -3.2 3.6z"/><path color="#ff7e00" d="M132 77.8l1.7-2.6 -1.4-1.8 -1.7 2.2z"/><path color="#c2ff00" d="M109.4 96.9l1.7-1.6 -1.4-2.4 -1.6 1.6z"/><path color="#f4ff00" d="M119.1 91l1.7-2 -1.4-3.2 -1.7 2.1z"/><path color="#ff0600" d="M143.3 63.1l1.6-2.1 -1.4 .9 -1.6 1.7z"/><path color="#ff9900" d="M130.4 80.4l1.6-2.6 -1.4-2.2 -1.6 2.2z"/><path color="#5dff00" d="M73.3 113.5l3.4-1.9 -2.4 .6 -3.4 2.5z"/><path color="#56c346" d="M66.9 117.6l1.7-1.2 -1.1 .9 -1.7 1.3z"/><path color="#b8ff00" d="M107.7 98.2l1.7-1.3 -1.3-2.4 -1.7 1.6z"/><path color="#e5ff00" d="M117.4 93l1.7-2 -1.4-3.1 -1.6 2.1z"/><path color="#ffb300" d="M128.7 83l1.7-2.6 -1.4-2.6 -1.7 2.3z"/><path color="#ff0700" d="M141.6 65.5l1.7-2.4 -1.4 .5 -1.7 2z"/><path color="#7fff00" d="M92.9 104.8l3.4-1.8 -2.6-1.9 -3.3 2.3z"/><path color="#58c346" d="M65.2 118.8l1.7-1.2 -1.1 1 -1.7 1.3z"/><path color="#ffce00" d="M127.1 85.4l1.6-2.4 -1.4-2.9 -1.6 2.2z"/><path color="#d7ff00" d="M115.8 94.9l1.6-1.9 -1.3-3 -1.7 1.9z"/><path color="#5ac346" d="M63.5 119.9l1.7-1.1 -1.1 1.1 -1.8 1.4z"/><path color="#ffe700" d="M125.4 87.8l1.7-2.4 -1.4-3.1 -1.6 2.3z"/><path color="#60ff00" d="M69.8 115.4l3.5-1.9 -2.4 1.2 -3.4 2.6z"/><path color="#caff00" d="M114.1 96.6l1.7-1.7 -1.4-3 -1.7 1.8z"/><path color="#ffff00" d="M123.8 90.2l1.6-2.4 -1.3-3.2 -1.7 2.2z"/><path color="#5cc346" d="M61.7 121.2l1.8-1.3 -1.2 1.4 -1.7 1.5z"/><path color="#beff00" d="M112.4 98.1l1.7-1.5 -1.4-2.9 -1.6 1.6z"/><path color="#ff4600" d="M136.7 74l1.6-2.9 -1.4-.9 -1.6 2.5z"/><path color="#eeff00" d="M122.1 92.4l1.7-2.2 -1.4-3.4 -1.6 2.2z"/><path color="#73ff00" d="M89.5 106.4l3.4-1.6 -2.5-1.4 -3.4 2.2z"/><path color="#5ec346" d="M60 122.4l1.7-1.2 -1.1 1.6 -1.7 1.5z"/><path color="#ff6d00" d="M135.1 77.1l1.6-3.1 -1.4-1.3 -1.6 2.5z"/><path color="#cb0e46" d="M148 58l1.6-1.5 -1.4 1.5 -1.7 1.3z"/><path color="#dfff00" d="M120.5 94.4l1.6-2 -1.3-3.4 -1.7 2z"/><path color="#b3ff00" d="M110.8 99.5l1.6-1.4 -1.3-2.8 -1.7 1.6z"/><path color="#ff9000" d="M133.4 80.1l1.7-3 -1.4-1.9 -1.7 2.6z"/><path color="#60c346" d="M58.3 123.7l1.7-1.3 -1.1 1.9 -1.7 1.5z"/><path color="#a3ff00" d="M105.7 102.8l3.4-2.1 -2.7-4.6 -3.3 2.6z"/><path color="#ffaf00" d="M131.8 83.1l1.6-3 -1.4-2.3 -1.6 2.6z"/><path color="#d1ff00" d="M118.8 96.4l1.7-2 -1.4-3.4 -1.7 2z"/><path color="#aaff00" d="M109.1 100.7l1.7-1.2 -1.4-2.6 -1.7 1.3z"/><path color="#ffce00" d="M130.1 85.9l1.7-2.8 -1.4-2.7 -1.7 2.6z"/><path color="#ff0400" d="M146.3 60l1.7-2 -1.5 1.3 -1.6 1.7z"/><path color="#c3ff00" d="M117.1 98.2l1.7-1.8 -1.4-3.4 -1.6 1.9z"/><path color="#ffea00" d="M128.5 88.6l1.6-2.7 -1.4-2.9 -1.6 2.4z"/><path color="#6cff00" d="M86 107.9l3.5-1.5 -2.5-.8 -3.4 2.1z"/><path color="#ff0500" d="M144.7 62.5l1.6-2.5 -1.4 1 -1.6 2.1z"/><path color="#faff00" d="M126.8 91.2l1.7-2.6 -1.4-3.2 -1.7 2.4z"/><path color="#b7ff00" d="M115.5 99.8l1.6-1.6 -1.3-3.3 -1.7 1.7z"/><path color="#e9ff00" d="M125.2 93.7l1.6-2.5 -1.4-3.4 -1.6 2.4z"/><path color="#8cff00" d="M102.3 104.5l3.4-1.7 -2.6-4.1 -3.4 2.3z"/><path color="#5ec346" d="M68.1 116.4l1.7-1 -1.2 1 -1.7 1.2z"/><path color="#ff0600" d="M143 65.4l1.7-2.9 -1.4 .6 -1.7 2.4z"/><path color="#d8ff00" d="M123.5 95.9l1.7-2.2 -1.4-3.5 -1.7 2.2z"/><path color="#acff00" d="M113.8 101.2l1.7-1.4 -1.4-3.2 -1.7 1.5z"/><path color="#ff0700" d="M141.4 68.5l1.6-3.1 -1.4 .1 -1.6 2.7z"/><path color="#61c346" d="M66.3 117.4l1.8-1 -1.2 1.2 -1.7 1.2z"/><path color="#ff2100" d="M139.7 71.9l1.7-3.4 -1.4-.3 -1.7 2.9z"/><path color="#c9ff00" d="M121.9 98l1.6-2.1 -1.4-3.5 -1.6 2z"/><path color="#69ff00" d="M82.6 109.3l3.4-1.4 -2.4-.2 -3.5 2z"/><path color="#ff4e00" d="M138.1 75.3l1.6-3.4 -1.4-.8 -1.6 2.9z"/><path color="#a2ff00" d="M112.1 102.5l1.7-1.3 -1.4-3.1 -1.6 1.4z"/><path color="#ff7c00" d="M136.5 78.8l1.6-3.5 -1.4-1.3 -1.6 3.1z"/><path color="#baff00" d="M120.2 100l1.7-2 -1.4-3.6 -1.7 2z"/><path color="#63c346" d="M64.6 118.3l1.7-.9 -1.1 1.4 -1.7 1.1z"/><path color="#ffa200" d="M134.8 82.3l1.7-3.5 -1.4-1.7 -1.7 3z"/><path color="#ffc600" d="M133.2 85.7l1.6-3.4 -1.4-2.2 -1.6 3z"/><path color="#7aff00" d="M98.9 105.7l3.4-1.2 -2.6-3.5 -3.4 2z"/><path color="#ffe700" d="M131.5 88.8l1.7-3.1 -1.4-2.6 -1.7 2.8z"/><path color="#93ff00" d="M110.4 103.6l1.7-1.1 -1.3-3 -1.7 1.2z"/><path color="#adff00" d="M118.5 101.7l1.7-1.7 -1.4-3.6 -1.7 1.8z"/><path color="#66c346" d="M62.8 119.3l1.8-1 -1.1 1.6 -1.8 1.3z"/><path color="#f9ff00" d="M129.9 91.8l1.6-3 -1.4-2.9 -1.6 2.7z"/><path color="#e5ff00" d="M128.2 94.6l1.7-2.8 -1.4-3.2 -1.7 2.6z"/><path color="#cb0d46" d="M149.4 56.6l1.6-1.7 -1.4 1.6 -1.6 1.5z"/><path color="#a1ff00" d="M116.8 103.3l1.7-1.6 -1.4-3.5 -1.6 1.6z"/><path color="#6bff00" d="M79.1 110.5l3.5-1.2 -2.5 .4 -3.4 1.9z"/><path color="#84ff00" d="M108.7 104.5l1.7-.9 -1.3-2.9 -1.7 1.1z"/><path color="#d2ff00" d="M126.6 97.2l1.6-2.6 -1.4-3.4 -1.6 2.5z"/><path color="#69c346" d="M61.1 120.4l1.7-1.1 -1.1 1.9 -1.7 1.2z"/><path color="#c1ff00" d="M124.9 99.6l1.7-2.4 -1.4-3.5 -1.7 2.2z"/><path color="#ff0300" d="M147.7 58.9l1.7-2.3 -1.4 1.4 -1.7 2z"/><path color="#8fff00" d="M115.2 104.6l1.6-1.3 -1.3-3.5 -1.7 1.4z"/><path color="#6cc346" d="M59.3 121.4l1.8-1 -1.1 2 -1.7 1.3z"/><path color="#6fff00" d="M95.4 106.8l3.5-1.1 -2.6-2.7 -3.4 1.8z"/><path color="#b1ff00" d="M123.3 101.8l1.6-2.2 -1.4-3.7 -1.6 2.1z"/><path color="#79ff00" d="M107 105.3l1.7-.8 -1.3-2.7 -1.7 1z"/><path color="#ff0400" d="M146.1 61.7l1.6-2.8 -1.4 1.1 -1.6 2.5z"/><path color="#7eff00" d="M113.5 105.7l1.7-1.1 -1.4-3.4 -1.7 1.3z"/><path color="#a2ff00" d="M121.6 103.7l1.7-1.9 -1.4-3.8 -1.7 2z"/><path color="#ff0600" d="M144.4 65l1.7-3.3 -1.4 .8 -1.7 2.9z"/><path color="#64c346" d="M75.6 111.7l3.5-1.2 -2.4 1.1 -3.4 1.9z"/><path color="#ff0700" d="M142.8 68.6l1.6-3.6 -1.4 .4 -1.6 3.1z"/><path color="#8cff00" d="M119.9 105.5l1.7-1.8 -1.4-3.7 -1.7 1.7z"/><path color="#ff1f00" d="M141.2 72.5l1.6-3.9 -1.4-.1 -1.7 3.4z"/><path color="#67c346" d="M69.2 115l1.7-.8 -1.1 1.2 -1.7 1z"/><path color="#ff5300" d="M139.5 76.5l1.7-4 -1.5-.6 -1.6 3.4z"/><path color="#6fff00" d="M111.8 106.6l1.7-.9 -1.4-3.2 -1.7 1.1z"/><path color="#ff8700" d="M137.9 80.5l1.6-4 -1.4-1.2 -1.6 3.5z"/><path color="#ffb200" d="M136.2 84.4l1.7-3.9 -1.4-1.7 -1.7 3.5z"/><path color="#ffda00" d="M134.6 88.2l1.6-3.8 -1.4-2.1 -1.6 3.4z"/><path color="#feff00" d="M132.9 91.7l1.7-3.5 -1.4-2.5 -1.7 3.1z"/><path color="#e6ff00" d="M131.3 95l1.6-3.3 -1.4-2.9 -1.6 3z"/><path color="#d0ff00" d="M129.6 98l1.7-3 -1.4-3.2 -1.7 2.8z"/><path color="#76ff00" d="M118.2 106.9l1.7-1.4 -1.4-3.8 -1.7 1.6z"/><path color="#6bff00" d="M92 107.6l3.4-.8 -2.5-2 -3.4 1.6z"/><path color="#bcff00" d="M128 100.8l1.6-2.8 -1.4-3.4 -1.6 2.6z"/><path color="#6ac346" d="M67.5 115.8l1.7-.8 -1.1 1.4 -1.8 1z"/><path color="#63ff00" d="M110.1 107.4l1.7-.8 -1.4-3 -1.7 .9z"/><path color="#a9ff00" d="M126.3 103.3l1.7-2.5 -1.4-3.6 -1.7 2.4z"/><path color="#68c346" d="M72.1 112.9l3.5-1.2 -2.3 1.8 -3.5 1.9z"/><path color="#64ff00" d="M116.5 108.2l1.7-1.3 -1.4-3.6 -1.6 1.3z"/><path color="#92ff00" d="M124.7 105.6l1.6-2.3 -1.4-3.7 -1.6 2.2z"/><path color="#6dc346" d="M65.7 116.6l1.8-.8 -1.2 1.6 -1.7 .9z"/><path color="#5dff00" d="M105 108.8l3.4-.8 -2.7-5.2 -3.4 1.7z"/><path color="#76ff00" d="M123 107.6l1.7-2 -1.4-3.8 -1.7 1.9z"/><path color="#59ff00" d="M108.4 108l1.7-.6 -1.4-2.9 -1.7 .8z"/><path color="#54ff00" d="M114.9 109.2l1.6-1 -1.3-3.6 -1.7 1.1z"/><path color="#cb0c46" d="M150.8 55.1l1.7-1.8 -1.5 1.6 -1.6 1.7z"/><path color="#70c346" d="M63.9 117.4l1.8-.8 -1.1 1.7 -1.8 1z"/><path color="#5dff00" d="M121.3 109.3l1.7-1.7 -1.4-3.9 -1.7 1.8z"/><path color="#6cff00" d="M88.5 108.3l3.5-.7 -2.5-1.2 -3.5 1.5z"/><path color="#ff0200" d="M149.2 57.7l1.6-2.6 -1.4 1.5 -1.7 2.3z"/><path color="#48ff00" d="M113.2 109.9l1.7-.7 -1.4-3.5 -1.7 .9z"/><path color="#73c346" d="M62.2 118.2l1.7-.8 -1.1 1.9 -1.7 1.1z"/><path color="#48ff00" d="M119.6 110.8l1.7-1.5 -1.4-3.8 -1.7 1.4z"/><path color="#d4ff00" d="M132.7 98l1.6-3.6 -1.4-2.7 -1.6 3.3z"/><path color="#eeff00" d="M134.3 94.4l1.7-3.9 -1.4-2.3 -1.7 3.5z"/><path color="#ff0400" d="M147.5 60.9l1.7-3.2 -1.5 1.2 -1.6 2.8z"/><path color="#bcff00" d="M131 101.3l1.7-3.3 -1.4-3 -1.7 3z"/><path color="#ffed00" d="M136 90.5l1.6-4.2 -1.4-1.9 -1.6 3.8z"/><path color="#a6ff00" d="M129.4 104.3l1.6-3 -1.4-3.3 -1.6 2.8z"/><path color="#ffc000" d="M137.6 86.3l1.7-4.4 -1.4-1.4 -1.7 3.9z"/><path color="#ff0500" d="M145.9 64.6l1.6-3.7 -1.4 .8 -1.7 3.3z"/><path color="#ff9000" d="M139.3 81.9l1.6-4.5 -1.4-.9 -1.6 4z"/><path color="#85ff00" d="M127.7 107l1.7-2.7 -1.4-3.5 -1.7 2.5z"/><path color="#ff5700" d="M140.9 77.4l1.7-4.4 -1.4-.5 -1.7 4z"/><path color="#77c346" d="M60.4 119l1.8-.8 -1.1 2.2 -1.8 1z"/><path color="#ff0700" d="M144.2 68.6l1.7-4 -1.5 .4 -1.6 3.6z"/><path color="#ff1b00" d="M142.6 73l1.6-4.4 -1.4 0 -1.6 3.9z"/><path color="#36ff00" d="M117.9 111.9l1.7-1.1 -1.4-3.9 -1.7 1.3z"/><path color="#3eff00" d="M111.5 110.5l1.7-.6 -1.4-3.3 -1.7 .8z"/><path color="#54ff00" d="M101.5 109.2l3.5-.4 -2.7-4.3 -3.4 1.2z"/><path color="#63ff00" d="M126.1 109.4l1.6-2.4 -1.4-3.7 -1.6 2.3z"/><path color="#46ff00" d="M124.4 111.5l1.7-2.1 -1.4-3.8 -1.7 2z"/><path color="#72ff00" d="M85 108.8l3.5-.5 -2.5-.4 -3.4 1.4z"/><path color="#28ff00" d="M116.2 112.8l1.7-.9 -1.4-3.7 -1.6 1z"/><path color="#71c346" d="M70.3 113.5l1.8-.6 -1.2 1.3 -1.7 .8z"/><path color="#37ff00" d="M109.7 110.9l1.8-.4 -1.4-3.1 -1.7 .6z"/><path color="#2dff00" d="M122.7 113.3l1.7-1.8 -1.4-3.9 -1.7 1.7z"/><path color="#1dff00" d="M114.5 113.5l1.7-.7 -1.3-3.6 -1.7 .7z"/><path color="#17ff00" d="M121 114.7l1.7-1.4 -1.4-4 -1.7 1.5z"/><path color="#74c346" d="M68.6 114.1l1.7-.6 -1.1 1.5 -1.7 .8z"/><path color="#54ff00" d="M98 109.4l3.5-.2 -2.6-3.5 -3.5 1.1z"/><path color="#a9ff00" d="M132.5 104.4l1.6-3.6 -1.4-2.8 -1.7 3.3z"/><path color="#83ff00" d="M130.8 107.7l1.7-3.3 -1.5-3.1 -1.6 3z"/><path color="#c3ff00" d="M134.1 100.8l1.7-4 -1.5-2.4 -1.6 3.6z"/><path color="#5aff00" d="M129.1 110.6l1.7-2.9 -1.4-3.4 -1.7 2.7z"/><path color="#06ff00" d="M119.3 115.8l1.7-1.1 -1.4-3.9 -1.7 1.1z"/><path color="#e1ff00" d="M135.8 96.8l1.6-4.3 -1.4-2 -1.7 3.9z"/><path color="#78c346" d="M66.8 114.7l1.8-.6 -1.1 1.7 -1.8 .8z"/><path color="#6cc346" d="M81.5 109.3l3.5-.5 -2.4 .5 -3.5 1.2z"/><path color="#ff0000" d="M152.2 53.5l1.7-2 -1.4 1.8 -1.7 1.8z"/><path color="#35ff00" d="M127.5 113.2l1.6-2.6 -1.4-3.6 -1.6 2.4z"/><path color="#16ff00" d="M112.8 113.9l1.7-.4 -1.3-3.6 -1.7 .6z"/><path color="#fffd00" d="M137.4 92.5l1.7-4.6 -1.5-1.6 -1.6 4.2z"/><path color="#ffcb00" d="M139.1 87.9l1.6-4.8 -1.4-1.2 -1.7 4.4z"/><path color="#16ff00" d="M125.8 115.4l1.7-2.2 -1.4-3.8 -1.7 2.1z"/><path color="#ff0100" d="M150.6 56.4l1.6-2.9 -1.4 1.6 -1.6 2.6z"/><path color="#00ff0b" d="M117.6 116.6l1.7-.8 -1.4-3.9 -1.7 .9z"/><path color="#ff9500" d="M140.7 83.1l1.6-5 -1.4-.7 -1.6 4.5z"/><path color="#7bc346" d="M65.1 115.3l1.7-.6 -1.1 1.9 -1.8 .8z"/><path color="#00ff07" d="M124.1 117.3l1.7-1.9 -1.4-3.9 -1.7 1.8z"/><path color="#ff5700" d="M142.3 78.1l1.7-4.9 -1.4-.2 -1.7 4.4z"/><path color="#ff0300" d="M148.9 59.9l1.7-3.5 -1.4 1.3 -1.7 3.2z"/><path color="#11ff00" d="M111.1 114.1l1.7-.2 -1.3-3.4 -1.8 .4z"/><path color="#ff1400" d="M144 73.2l1.6-4.8 -1.4 .2 -1.6 4.4z"/><path color="#ff0400" d="M147.3 63.9l1.6-4 -1.4 1 -1.6 3.7z"/><path color="#ff0600" d="M145.6 68.4l1.7-4.5 -1.4 .7 -1.7 4z"/><path color="#20ff00" d="M107.7 114l3.4 .1 -2.7-6.1 -3.4 .8z"/><path color="#00ff2b" d="M122.4 118.7l1.7-1.4 -1.4-4 -1.7 1.4z"/><path color="#7ec346" d="M63.3 116l1.8-.7 -1.2 2.1 -1.7 .8z"/><path color="#5bff00" d="M94.6 109.3l3.4 .1 -2.6-2.6 -3.4 .8z"/><path color="#00ff1a" d="M115.9 117.1l1.7-.5 -1.4-3.8 -1.7 .7z"/><path color="#73c346" d="M78 109.8l3.5-.5 -2.4 1.2 -3.5 1.2z"/><path color="#00ff47" d="M120.7 119.8l1.7-1.1 -1.4-4 -1.7 1.1z"/><path color="#80c346" d="M61.5 116.6l1.8-.6 -1.1 2.2 -1.8 .8z"/><path color="#5eff00" d="M132.2 110.8l1.7-3.6 -1.4-2.8 -1.7 3.3z"/><path color="#31ff00" d="M130.6 114l1.6-3.2 -1.4-3.1 -1.7 2.9z"/><path color="#90ff00" d="M133.9 107.2l1.6-3.9 -1.4-2.5 -1.6 3.6z"/><path color="#09ff00" d="M128.9 116.8l1.7-2.8 -1.5-3.4 -1.6 2.6z"/><path color="#00ff23" d="M114.2 117.4l1.7-.3 -1.4-3.6 -1.7 .4z"/><path color="#b5ff00" d="M135.5 103.3l1.7-4.4 -1.4-2.1 -1.7 4z"/><path color="#00ff29" d="M127.2 119.2l1.7-2.4 -1.4-3.6 -1.7 2.2z"/><path color="#d5ff00" d="M137.2 98.9l1.6-4.6 -1.4-1.8 -1.6 4.3z"/><path color="#00ff5b" d="M119 120.6l1.7-.8 -1.4-4 -1.7 .8z"/><path color="#00ff58" d="M125.5 121.2l1.7-2 -1.4-3.8 -1.7 1.9z"/><path color="#f8ff00" d="M138.8 94.3l1.7-5.1 -1.4-1.3 -1.7 4.6z"/><path color="#23ff00" d="M104.2 113.5l3.5 .5 -2.7-5.2 -3.5 .4z"/><path color="#7bc346" d="M74.4 110.2l3.6-.4 -2.4 1.9 -3.5 1.2z"/><path color="#00ff27" d="M112.5 117.4l1.7 0 -1.4-3.5 -1.7 .2z"/><path color="#67ff00" d="M91 109.1l3.6 .2 -2.6-1.7 -3.5 .7z"/><path color="#00ff7e" d="M123.8 122.8l1.7-1.6 -1.4-3.9 -1.7 1.4z"/><path color="#ffd200" d="M140.5 89.2l1.6-5.2 -1.4-.9 -1.6 4.8z"/><path color="#00ff68" d="M117.3 121l1.7-.4 -1.4-4 -1.7 .5z"/><path color="#f40000" d="M153.7 51.9l1.7-2.1 -1.5 1.7 -1.7 2z"/><path color="#ff9800" d="M142.1 84l1.7-5.4 -1.5-.5 -1.6 5z"/><path color="#00ff99" d="M122.1 123.9l1.7-1.1 -1.4-4.1 -1.7 1.1z"/><path color="#82c346" d="M68 112.8l1.7-.4 -1.1 1.7 -1.8 .6z"/><path color="#ff5300" d="M143.8 78.6l1.6-5.4 -1.4 0 -1.7 4.9z"/><path color="#ff0000" d="M152 55l1.7-3.1 -1.5 1.6 -1.6 2.9z"/><path color="#00ff25" d="M110.8 117.3l1.7 .1 -1.4-3.3 -1.7 0z"/><path color="#ff0a00" d="M145.4 73.2l1.7-5.2 -1.5 .4 -1.6 4.8z"/><path color="#0cff00" d="M132 117.2l1.6-3.5 -1.4-2.9 -1.6 3.2z"/><path color="#00ff6e" d="M115.6 121.1l1.7-.1 -1.4-3.9 -1.7 .3z"/><path color="#00ff35" d="M130.3 120.3l1.7-3.1 -1.4-3.2 -1.7 2.8z"/><path color="#ff0200" d="M150.4 58.8l1.6-3.8 -1.4 1.4 -1.7 3.5z"/><path color="#ff0600" d="M147.1 68l1.6-4.8 -1.4 .7 -1.7 4.5z"/><path color="#3dff00" d="M133.6 113.7l1.7-4 -1.4-2.5 -1.7 3.6z"/><path color="#ff0400" d="M148.7 63.2l1.7-4.4 -1.5 1.1 -1.6 4z"/><path color="#00ff73" d="M128.6 122.9l1.7-2.6 -1.4-3.5 -1.7 2.4z"/><path color="#00ffa9" d="M120.4 124.6l1.7-.7 -1.4-4.1 -1.7 .8z"/><path color="#75ff00" d="M135.3 109.7l1.7-4.3 -1.5-2.1 -1.6 3.9z"/><path color="#85c346" d="M66.2 113.3l1.8-.5 -1.2 1.9 -1.7 .6z"/><path color="#83c346" d="M70.9 110.7l3.5-.5 -2.3 2.7 -3.5 1.2z"/><path color="#00ffa3" d="M127 125.1l1.6-2.2 -1.4-3.7 -1.7 2z"/><path color="#a9ff00" d="M137 105.4l1.6-4.7 -1.4-1.8 -1.7 4.4z"/><path color="#77ff00" d="M87.5 108.7l3.5 .4 -2.5-.8 -3.5 .5z"/><path color="#2fff00" d="M100.7 112.7l3.5 .8 -2.7-4.3 -3.5 .2z"/><path color="#00ffc5" d="M125.3 126.8l1.7-1.7 -1.5-3.9 -1.7 1.6z"/><path color="#00ff1f" d="M109 117l1.8 .3 -1.4-3.2 -1.7-.1z"/><path color="#cdff00" d="M138.6 100.7l1.7-5.1 -1.5-1.3 -1.6 4.6z"/><path color="#00ff6d" d="M113.9 121l1.7 .1 -1.4-3.7 -1.7 0z"/><path color="#87c346" d="M64.4 113.7l1.8-.4 -1.1 2 -1.8 .7z"/><path color="#00ffb1" d="M118.7 124.9l1.7-.3 -1.4-4 -1.7 .4z"/><path color="#f3ff00" d="M140.3 95.6l1.6-5.5 -1.4-.9 -1.7 5.1z"/><path color="#00ffde" d="M123.6 127.9l1.7-1.1 -1.5-4 -1.7 1.1z"/><path color="#88c346" d="M62.6 114.2l1.8-.5 -1.1 2.3 -1.8 .6z"/><path color="#ffd500" d="M141.9 90.1l1.7-5.6 -1.5-.5 -1.6 5.2z"/><path color="#00ff14" d="M107.3 116.5l1.7 .5 -1.3-3 -1.8-.2z"/><path color="#00ffb4" d="M117 124.9l1.7 0 -1.4-3.9 -1.7 .1z"/><path color="#00ff67" d="M112.1 120.6l1.8 .4 -1.4-3.6 -1.7-.1z"/><path color="#00ffee" d="M121.9 128.6l1.7-.7 -1.5-4 -1.7 .7z"/><path color="#00ff73" d="M131.7 123.5l1.7-3.5 -1.4-2.8 -1.7 3.1z"/><path color="#00ffb2" d="M130.1 126.4l1.6-2.9 -1.4-3.2 -1.7 2.6z"/><path color="#00ff23" d="M133.4 120l1.7-3.9 -1.5-2.4 -1.6 3.5z"/><path color="#ff9600" d="M143.6 84.5l1.6-5.8 -1.4-.1 -1.7 5.4z"/><path color="#00ffe2" d="M128.4 128.8l1.7-2.4 -1.5-3.5 -1.6 2.2z"/><path color="#22ff00" d="M135.1 116.1l1.6-4.3 -1.4-2.1 -1.7 4z"/><path color="#76c346" d="M84 108.4l3.5 .3 -2.5 .1 -3.5 .5z"/><path color="#ff4b00" d="M145.2 78.7l1.7-5.8 -1.5 .3 -1.6 5.4z"/><path color="#e30000" d="M155.2 50.3l1.6-2.3 -1.4 1.8 -1.7 2.1z"/><path color="#00f6ff" d="M126.7 130.7l1.7-1.9 -1.4-3.7 -1.7 1.7z"/><path color="#5fff00" d="M136.7 111.8l1.7-4.8 -1.4-1.6 -1.7 4.3z"/><path color="#42ff00" d="M97.2 111.6l3.5 1.1 -2.7-3.3 -3.4-.1z"/><path color="#00fff6" d="M120.1 128.9l1.8-.3 -1.5-4 -1.7 .3z"/><path color="#00ffb0" d="M115.3 124.6l1.7 .3 -1.4-3.8 -1.7-.1z"/><path color="#00ff05" d="M105.5 116l1.8 .5 -1.4-2.7 -1.7-.3z"/><path color="#00ff5b" d="M110.4 120.1l1.7 .5 -1.3-3.3 -1.8-.3z"/><path color="#ff0800" d="M146.9 72.9l1.6-5.5 -1.4 .6 -1.7 5.2z"/><path color="#f60000" d="M153.5 53.5l1.7-3.2 -1.5 1.6 -1.7 3.1z"/><path color="#a1ff00" d="M138.4 107l1.6-5.1 -1.4-1.2 -1.6 4.7z"/><path color="#00daff" d="M125 132l1.7-1.3 -1.4-3.9 -1.7 1.1z"/><path color="#ff0500" d="M148.5 67.4l1.7-5.2 -1.5 1 -1.6 4.8z"/><path color="#ff0100" d="M151.8 57.5l1.7-4 -1.5 1.5 -1.6 3.8z"/><path color="#8ac346" d="M69.1 110.9l1.8-.2 -1.2 1.7 -1.7 .4z"/><path color="#ff0300" d="M150.2 62.2l1.6-4.7 -1.4 1.3 -1.7 4.4z"/><path color="#c8ff00" d="M140 101.9l1.7-5.5 -1.4-.8 -1.7 5.1z"/><path color="#00fff6" d="M118.4 128.8l1.7 .1 -1.4-4 -1.7 0z"/><path color="#00c9ff" d="M123.3 132.7l1.7-.7 -1.4-4.1 -1.7 .7z"/><path color="#00ffa7" d="M113.5 124.1l1.8 .5 -1.4-3.6 -1.8-.4z"/><path color="#00ff4b" d="M108.7 119.4l1.7 .7 -1.4-3.1 -1.7-.5z"/><path color="#8bc346" d="M67.3 111.2l1.8-.3 -1.1 1.9 -1.8 .5z"/><path color="#f1ff00" d="M141.7 96.4l1.6-5.8 -1.4-.5 -1.6 5.5z"/><path color="#83c346" d="M80.4 108l3.6 .4 -2.5 .9 -3.5 .5z"/><path color="#00ffe7" d="M131.5 129.6l1.7-3.3 -1.5-2.8 -1.6 2.9z"/><path color="#00e0ff" d="M129.8 132.3l1.7-2.7 -1.4-3.2 -1.7 2.4z"/><path color="#00ffa5" d="M133.2 126.3l1.6-3.9 -1.4-2.4 -1.7 3.5z"/><path color="#00ff4f" d="M134.8 122.4l1.7-4.3 -1.4-2 -1.7 3.9z"/><path color="#00b4ff" d="M128.1 134.4l1.7-2.1 -1.4-3.5 -1.7 1.9z"/><path color="#00c2ff" d="M121.6 133l1.7-.3 -1.4-4.1 -1.8 .3z"/><path color="#ffd300" d="M143.3 90.6l1.7-6.1 -1.4 0 -1.7 5.6z"/><path color="#5bff00" d="M93.6 110.5l3.6 1.1 -2.6-2.3 -3.6-.2z"/><path color="#00ffef" d="M116.7 128.4l1.7 .4 -1.4-3.9 -1.7-.3z"/><path color="#8cc346" d="M65.5 111.5l1.8-.3 -1.1 2.1 -1.8 .4z"/><path color="#0eff00" d="M136.5 118.1l1.7-4.8 -1.5-1.5 -1.6 4.3z"/><path color="#0095ff" d="M126.4 135.9l1.7-1.5 -1.4-3.7 -1.7 1.3z"/><path color="#00ff99" d="M111.8 123.4l1.7 .7 -1.4-3.5 -1.7-.5z"/><path color="#00ff36" d="M106.9 118.6l1.8 .8 -1.4-2.9 -1.8-.5z"/><path color="#ff8f00" d="M145 84.5l1.6-6.1 -1.4 .3 -1.6 5.8z"/><path color="#52ff00" d="M138.2 113.3l1.6-5.2 -1.4-1.1 -1.7 4.8z"/><path color="#8dc346" d="M63.7 111.8l1.8-.3 -1.1 2.2 -1.8 .5z"/><path color="#00c4ff" d="M119.8 132.8l1.8 .2 -1.5-4.1 -1.7-.1z"/><path color="#0082ff" d="M124.7 136.7l1.7-.8 -1.4-3.9 -1.7 .7z"/><path color="#ff3e00" d="M146.6 78.4l1.7-6.1 -1.4 .6 -1.7 5.8z"/><path color="#02ff00" d="M103.4 116.8l3.5 1.8 -2.7-5.1 -3.5-.8z"/><path color="#9bff00" d="M139.8 108.1l1.7-5.6 -1.5-.6 -1.6 5.1z"/><path color="#00ffe2" d="M114.9 127.7l1.8 .7 -1.4-3.8 -1.8-.5z"/><path color="#8bc346" d="M76.8 107.6l3.6 .4 -2.4 1.8 -3.6 .4z"/><path color="#d20000" d="M156.6 48.6l1.7-2.3 -1.5 1.7 -1.6 2.3z"/><path color="#ff0700" d="M148.3 72.3l1.7-5.8 -1.5 .9 -1.6 5.5z"/><path color="#00ff85" d="M110 122.5l1.8 .9 -1.4-3.3 -1.7-.7z"/><path color="#00a9ff" d="M131.2 135.6l1.7-3.1 -1.4-2.9 -1.7 2.7z"/><path color="#00e8ff" d="M132.9 132.5l1.7-3.8 -1.4-2.4 -1.7 3.3z"/><path color="#007bff" d="M123 137l1.7-.3 -1.4-4 -1.7 .3z"/><path color="#c7ff00" d="M141.5 102.5l1.6-5.9 -1.4-.2 -1.7 5.5z"/><path color="#e60000" d="M155 52l1.6-3.4 -1.4 1.7 -1.7 3.2z"/><path color="#ff0400" d="M150 66.5l1.6-5.4 -1.4 1.1 -1.7 5.2z"/><path color="#0076ff" d="M129.5 138l1.7-2.4 -1.4-3.3 -1.7 2.1z"/><path color="#00ffcb" d="M134.6 128.7l1.7-4.3 -1.5-2 -1.6 3.9z"/><path color="#ff0000" d="M153.3 56.2l1.7-4.2 -1.5 1.5 -1.7 4z"/><path color="#ff0200" d="M151.6 61.1l1.7-4.9 -1.5 1.3 -1.6 4.7z"/><path color="#00ceff" d="M118.1 132.3l1.7 .5 -1.4-4 -1.7-.4z"/><path color="#76ff00" d="M90.1 109.3l3.5 1.2 -2.6-1.4 -3.5-.4z"/><path color="#0052ff" d="M127.8 139.7l1.7-1.7 -1.4-3.6 -1.7 1.5z"/><path color="#00ff70" d="M136.3 124.4l1.6-4.8 -1.4-1.5 -1.7 4.3z"/><path color="#f4ff00" d="M143.1 96.6l1.7-6.2 -1.5 .2 -1.6 5.8z"/><path color="#00ffd0" d="M113.2 126.8l1.7 .9 -1.4-3.6 -1.7-.7z"/><path color="#007fff" d="M121.3 136.9l1.7 .1 -1.4-4 -1.8-.2z"/><path color="#003eff" d="M126.1 140.7l1.7-1 -1.4-3.8 -1.7 .8z"/><path color="#00ff6b" d="M108.3 121.4l1.7 1.1 -1.3-3.1 -1.8-.8z"/><path color="#01ff00" d="M137.9 119.6l1.7-5.3 -1.4-1 -1.7 4.8z"/><path color="#8fc346" d="M73.2 107.4l3.6 .2 -2.4 2.6 -3.5 .5z"/><path color="#ffcb00" d="M144.8 90.4l1.6-6.3 -1.4 .4 -1.7 6.1z"/><path color="#00dfff" d="M116.3 131.5l1.8 .8 -1.4-3.9 -1.8-.7z"/><path color="#22ff00" d="M99.8 114.9l3.6 1.9 -2.7-4.1 -3.5-1.1z"/><path color="#4cff00" d="M139.6 114.3l1.6-5.7 -1.4-.5 -1.6 5.2z"/><path color="#003aff" d="M124.4 141.1l1.7-.4 -1.4-4 -1.7 .3z"/><path color="#ff8300" d="M146.4 84.1l1.7-6.4 -1.5 .7 -1.6 6.1z"/><path color="#00ffb9" d="M111.4 125.7l1.8 1.1 -1.4-3.4 -1.8-.9z"/><path color="#008bff" d="M119.5 136.3l1.8 .6 -1.5-4.1 -1.7-.5z"/><path color="#0078ff" d="M132.7 138.5l1.6-3.6 -1.4-2.4 -1.7 3.1z"/><path color="#003fff" d="M131 141.3l1.7-2.8 -1.5-2.9 -1.7 2.4z"/><path color="#91c346" d="M66.7 109.3l1.8-.1 -1.2 2 -1.8 .3z"/><path color="#00ff4d" d="M106.5 120.4l1.8 1 -1.4-2.8 -1.8-.9z"/><path color="#00c1ff" d="M134.3 134.9l1.7-4.2 -1.4-2 -1.7 3.8z"/><path color="#9dff00" d="M141.2 108.6l1.7-6 -1.4-.1 -1.7 5.6z"/><path color="#0028ff" d="M129.3 143.3l1.7-2 -1.5-3.3 -1.7 1.7z"/><path color="#7cc346" d="M86.5 108l3.6 1.3 -2.6-.6 -3.5-.3z"/><path color="#ff2b00" d="M148.1 77.7l1.7-6.3 -1.5 .9 -1.7 6.1z"/><path color="#00f6ff" d="M114.6 130.4l1.7 1.1 -1.4-3.8 -1.7-.9z"/><path color="#00ffe7" d="M136 130.7l1.7-4.8 -1.4-1.5 -1.7 4.3z"/><path color="#003dff" d="M122.7 140.9l1.7 .2 -1.4-4.1 -1.7-.1z"/><path color="#001aff" d="M127.6 144.5l1.7-1.2 -1.5-3.6 -1.7 1z"/><path color="#92c346" d="M69.6 107.2l3.6 .2 -2.3 3.3 -3.6 .5z"/><path color="#c00000" d="M158.1 46.9l1.7-2.4 -1.5 1.8 -1.7 2.3z"/><path color="#ff0600" d="M149.8 71.4l1.6-6.1 -1.4 1.2 -1.7 5.8z"/><path color="#90c346" d="M64.9 109.5l1.8-.2 -1.2 2.2 -1.8 .3z"/><path color="#cbff00" d="M142.9 102.6l1.7-6.3 -1.5 .3 -1.6 5.9z"/><path color="#00ff86" d="M137.7 125.9l1.7-5.4 -1.5-.9 -1.6 4.8z"/><path color="#00ff9f" d="M109.7 124.5l1.7 1.2 -1.4-3.2 -1.7-1.1z"/><path color="#00a0ff" d="M117.8 135.4l1.7 .9 -1.4-4 -1.8-.8z"/><path color="#ff0400" d="M151.4 65.3l1.7-5.6 -1.5 1.4 -1.6 5.4z"/><path color="#d60000" d="M156.4 50.4l1.7-3.5 -1.5 1.7 -1.6 3.4z"/><path color="#ff0100" d="M153.1 59.7l1.7-5 -1.5 1.5 -1.7 4.9z"/><path color="#00ff2c" d="M104.7 119.2l1.8 1.2 -1.4-2.7 -1.7-.9z"/><path color="#f10000" d="M154.8 54.7l1.6-4.3 -1.4 1.6 -1.7 4.2z"/><path color="#0015ff" d="M125.8 145l1.8-.5 -1.5-3.8 -1.7 .4z"/><path color="#fbff00" d="M144.6 96.3l1.6-6.6 -1.4 .7 -1.7 6.2z"/><path color="#0049ff" d="M120.9 140.3l1.8 .6 -1.4-4 -1.8-.6z"/><path color="#00ff06" d="M139.4 120.5l1.6-5.8 -1.4-.4 -1.7 5.3z"/><path color="#47ff00" d="M96.3 112.8l3.5 2.1 -2.6-3.3 -3.6-1.1z"/><path color="#00ffed" d="M112.8 129.1l1.8 1.3 -1.4-3.6 -1.8-1.1z"/><path color="#0023ff" d="M132.4 144.3l1.7-3.3 -1.4-2.5 -1.7 2.8z"/><path color="#0009ff" d="M130.7 146.6l1.7-2.3 -1.4-3 -1.7 2z"/><path color="#004fff" d="M134.1 141l1.7-4 -1.5-2.1 -1.6 3.6z"/><path color="#8bc346" d="M82.9 106.8l3.6 1.2 -2.5 .4 -3.6-.4z"/><path color="#ffbd00" d="M146.2 89.7l1.7-6.6 -1.5 1 -1.6 6.3z"/><path color="#0018ff" d="M124.1 144.9l1.7 .1 -1.4-3.9 -1.7-.2z"/><path color="#00ff7e" d="M107.9 123.2l1.8 1.3 -1.4-3.1 -1.8-1z"/><path color="#00bbff" d="M116 134.1l1.8 1.3 -1.5-3.9 -1.7-1.1z"/><path color="#4fff00" d="M141 114.7l1.7-6.2 -1.5 .1 -1.6 5.7z"/><path color="#00a3ff" d="M135.8 137l1.7-4.8 -1.5-1.5 -1.7 4.2z"/><path color="#0800ff" d="M129 148l1.7-1.4 -1.4-3.3 -1.7 1.2z"/><path color="#00ff09" d="M103 118.1l1.7 1.1 -1.3-2.4 -1.8-.9z"/><path color="#0060ff" d="M119.2 139.3l1.7 1 -1.4-4 -1.7-.9z"/><path color="#ff6e00" d="M147.9 83.1l1.7-6.6 -1.5 1.2 -1.7 6.4z"/><path color="#00fffa" d="M137.5 132.2l1.6-5.4 -1.4-.9 -1.7 4.8z"/><path color="#00ffce" d="M111.1 127.7l1.7 1.4 -1.4-3.4 -1.7-1.2z"/><path color="#a4ff00" d="M142.7 108.5l1.6-6.5 -1.4 .6 -1.7 6z"/><path color="#0f00ff" d="M127.3 148.7l1.7-.7 -1.4-3.5 -1.8 .5z"/><path color="#0021ff" d="M122.4 144.3l1.7 .6 -1.4-4 -1.8-.6z"/><path color="#ff1200" d="M149.6 76.5l1.6-6.5 -1.4 1.4 -1.7 6.3z"/><path color="#00ff58" d="M106.1 121.9l1.8 1.3 -1.4-2.8 -1.8-1.2z"/><path color="#00dbff" d="M114.2 132.7l1.8 1.4 -1.4-3.7 -1.8-1.3z"/><path color="#00ff8e" d="M139.1 126.8l1.7-5.9 -1.4-.4 -1.7 5.4z"/><path color="#95c346" d="M67.8 107.3l1.8-.1 -1.1 2 -1.8 .1z"/><path color="#11ff00" d="M101.2 116.9l1.8 1.2 -1.4-2.2 -1.8-1z"/><path color="#d4ff00" d="M144.3 102l1.7-6.7 -1.4 1 -1.7 6.3z"/><path color="#6dff00" d="M92.7 110.8l3.6 2 -2.7-2.3 -3.5-1.2z"/><path color="#ae0000" d="M159.6 45.3l1.7-2.4 -1.5 1.6 -1.7 2.4z"/><path color="#ff0500" d="M151.2 70l1.7-6.1 -1.5 1.4 -1.6 6.1z"/><path color="#0c00ff" d="M125.5 148.7l1.8 0 -1.5-3.7 -1.7-.1z"/><path color="#93c346" d="M79.3 105.7l3.6 1.1 -2.5 1.2 -3.6-.4z"/><path color="#007fff" d="M117.4 138l1.8 1.3 -1.4-3.9 -1.8-1.3z"/><path color="#1300ff" d="M132.2 149.4l1.7-2.6 -1.5-2.5 -1.7 2.3z"/><path color="#000dff" d="M133.9 146.8l1.6-3.7 -1.4-2.1 -1.7 3.3z"/><path color="#ff0300" d="M152.9 63.9l1.7-5.7 -1.5 1.5 -1.7 5.6z"/><path color="#c50000" d="M157.9 48.7l1.7-3.4 -1.5 1.6 -1.7 3.5z"/><path color="#00ffac" d="M109.3 126.3l1.8 1.4 -1.4-3.2 -1.8-1.3z"/><path color="#2800ff" d="M130.4 151.1l1.8-1.7 -1.5-2.8 -1.7 1.4z"/><path color="#0037ff" d="M135.5 143.1l1.7-4.5 -1.4-1.6 -1.7 4z"/><path color="#00ff01" d="M140.8 120.9l1.7-6.3 -1.5 .1 -1.6 5.8z"/><path color="#94c346" d="M66 107.3l1.8 0 -1.1 2 -1.8 .2z"/><path color="#ff0000" d="M154.6 58.2l1.6-5.1 -1.4 1.6 -1.7 5z"/><path color="#002fff" d="M120.6 143.3l1.8 1 -1.5-4 -1.7-1z"/><path color="#e10000" d="M156.2 53.1l1.7-4.4 -1.5 1.7 -1.6 4.3z"/><path color="#fff400" d="M146 95.3l1.7-6.8 -1.5 1.2 -1.6 6.6z"/><path color="#00ff30" d="M104.3 120.5l1.8 1.4 -1.4-2.7 -1.7-1.1z"/><path color="#008eff" d="M137.2 138.6l1.7-5.3 -1.4-1.1 -1.7 4.8z"/><path color="#3000ff" d="M128.7 152l1.7-.9 -1.4-3.1 -1.7 .7z"/><path color="#00ffff" d="M112.5 131.2l1.7 1.5 -1.4-3.6 -1.7-1.4z"/><path color="#0200ff" d="M123.8 148.1l1.7 .6 -1.4-3.8 -1.7-.6z"/><path color="#5aff00" d="M142.5 114.6l1.6-6.7 -1.4 .6 -1.7 6.2z"/><path color="#ffa800" d="M147.7 88.5l1.6-6.9 -1.4 1.5 -1.7 6.6z"/><path color="#00a4ff" d="M115.7 136.5l1.7 1.5 -1.4-3.9 -1.8-1.4z"/><path color="#00fcff" d="M138.9 133.3l1.7-6 -1.5-.5 -1.6 5.4z"/><path color="#00ff87" d="M107.5 124.8l1.8 1.5 -1.4-3.1 -1.8-1.3z"/><path color="#2e00ff" d="M127 152.2l1.7-.2 -1.4-3.3 -1.8 0z"/><path color="#0044ff" d="M118.8 141.9l1.8 1.4 -1.4-4 -1.8-1.3z"/><path color="#99c346" d="M75.6 104.7l3.7 1 -2.5 1.9 -3.6-.2z"/><path color="#00ff07" d="M102.5 119.1l1.8 1.4 -1.3-2.4 -1.8-1.2z"/><path color="#7dc346" d="M89 108.7l3.7 2.1 -2.6-1.5 -3.6-1.3z"/><path color="#ff5100" d="M149.3 81.6l1.7-6.8 -1.4 1.7 -1.7 6.6z"/><path color="#adff00" d="M144.1 107.9l1.7-7 -1.5 1.1 -1.6 6.5z"/><path color="#000eff" d="M122 147.1l1.8 1 -1.4-3.8 -1.8-1z"/><path color="#2900ff" d="M133.6 151.8l1.7-3 -1.4-2 -1.7 2.6z"/><path color="#00ffd9" d="M110.7 129.6l1.8 1.6 -1.4-3.5 -1.8-1.4z"/><path color="#0400ff" d="M135.3 148.8l1.7-4.1 -1.5-1.6 -1.6 3.7z"/><path color="#4100ff" d="M131.9 153.8l1.7-2 -1.4-2.4 -1.8 1.7z"/><path color="#00ff8a" d="M140.6 127.3l1.6-6.5 -1.4 .1 -1.7 5.9z"/><path color="#ff0700" d="M151 74.8l1.7-6.5 -1.5 1.7 -1.6 6.5z"/><path color="#29ff00" d="M98.9 116.3l3.6 2.8 -2.7-4.2 -3.5-2.1z"/><path color="#2400ff" d="M125.2 151.7l1.8 .5 -1.5-3.5 -1.7-.6z"/><path color="#00ccff" d="M113.9 134.8l1.8 1.7 -1.5-3.8 -1.7-1.5z"/><path color="#002cff" d="M137 144.7l1.7-5 -1.5-1.1 -1.7 4.5z"/><path color="#4c00ff" d="M130.2 154.9l1.7-1.1 -1.5-2.7 -1.7 .9z"/><path color="#00ff5b" d="M105.7 123.2l1.8 1.6 -1.4-2.9 -1.8-1.4z"/><path color="#e1ff00" d="M145.8 100.9l1.7-7 -1.5 1.4 -1.7 6.7z"/><path color="#9d0000" d="M161.1 43.7l1.7-2.4 -1.5 1.6 -1.7 2.4z"/><path color="#ff0400" d="M152.7 68.3l1.7-6.2 -1.5 1.8 -1.7 6.1z"/><path color="#006cff" d="M117.1 140.3l1.7 1.6 -1.4-3.9 -1.7-1.5z"/><path color="#99c346" d="M69 105.3l1.8 .2 -1.2 1.7 -1.8 .1z"/><path color="#0aff00" d="M142.2 120.8l1.7-6.9 -1.4 .7 -1.7 6.3z"/><path color="#b30000" d="M159.4 47.1l1.7-3.4 -1.5 1.6 -1.7 3.4z"/><path color="#ff0200" d="M154.4 62.1l1.7-5.6 -1.5 1.7 -1.7 5.7z"/><path color="#0085ff" d="M138.7 139.7l1.6-5.9 -1.4-.5 -1.7 5.3z"/><path color="#0023ff" d="M120.3 145.8l1.7 1.3 -1.4-3.8 -1.8-1.4z"/><path color="#9bc346" d="M72 103.9l3.6 .8 -2.4 2.7 -3.6-.2z"/><path color="#d10000" d="M157.7 51.4l1.7-4.3 -1.5 1.6 -1.7 4.4z"/><path color="#f20000" d="M156.1 56.5l1.6-5.1 -1.5 1.7 -1.6 5.1z"/><path color="#00ffb2" d="M108.9 127.9l1.8 1.7 -1.4-3.3 -1.8-1.5z"/><path color="#ffdd00" d="M147.5 93.9l1.6-7.2 -1.4 1.8 -1.7 6.8z"/><path color="#1200ff" d="M123.5 150.8l1.7 .9 -1.4-3.6 -1.8-1z"/><path color="#97c346" d="M67.2 105.3l1.8 0 -1.2 2 -1.8 0z"/><path color="#8ec346" d="M85.4 106.7l3.6 2 -2.5-.7 -3.6-1.2z"/><path color="#00f7ff" d="M112.1 133.1l1.8 1.7 -1.4-3.6 -1.8-1.6z"/><path color="#00ff2d" d="M103.9 121.7l1.8 1.5 -1.4-2.7 -1.8-1.4z"/><path color="#6dff00" d="M143.9 113.9l1.7-7.2 -1.5 1.2 -1.6 6.7z"/><path color="#00feff" d="M140.3 133.8l1.7-6.5 -1.4 0 -1.7 6z"/><path color="#3800ff" d="M135 153.6l1.7-3.4 -1.4-1.4 -1.7 3z"/><path color="#0099ff" d="M115.3 138.6l1.8 1.7 -1.4-3.8 -1.8-1.7z"/><path color="#5300ff" d="M133.3 155.9l1.7-2.3 -1.4-1.8 -1.7 2z"/><path color="#ff8d00" d="M149.1 86.7l1.7-7 -1.5 1.9 -1.6 6.9z"/><path color="#0d00ff" d="M136.7 150.2l1.7-4.5 -1.4-1 -1.7 4.1z"/><path color="#003bff" d="M118.5 144.1l1.8 1.7 -1.5-3.9 -1.7-1.6z"/><path color="#6000ff" d="M131.6 157.3l1.7-1.4 -1.4-2.1 -1.7 1.1z"/><path color="#00ff88" d="M107.1 126.3l1.8 1.6 -1.4-3.1 -1.8-1.6z"/><path color="#59ff00" d="M95.3 113.5l3.6 2.8 -2.6-3.5 -3.6-2z"/><path color="#4d00ff" d="M128.1 157.7l3.5-.4 -2.9-5.3 -3.5-.3z"/><path color="#0005ff" d="M121.7 149.4l1.8 1.4 -1.5-3.7 -1.7-1.3z"/><path color="#bbff00" d="M145.6 106.7l1.7-7.3 -1.5 1.5 -1.7 7z"/><path color="#ff2e00" d="M150.8 79.7l1.7-6.8 -1.5 1.9 -1.7 6.8z"/><path color="#00ff7a" d="M142 127.3l1.7-7 -1.5 .5 -1.6 6.5z"/><path color="#0028ff" d="M138.4 145.7l1.7-5.5 -1.4-.5 -1.7 5z"/><path color="#00ff00" d="M102.1 120.2l1.8 1.5 -1.4-2.6 -1.8-1.4z"/><path color="#00ffdc" d="M110.3 131.3l1.8 1.8 -1.4-3.5 -1.8-1.7z"/><path color="#2f00ff" d="M124.9 154.1l1.8 .8 -1.5-3.2 -1.7-.9z"/><path color="#ff0600" d="M152.5 72.9l1.7-6.6 -1.5 2 -1.7 6.5z"/><path color="#00c7ff" d="M113.5 136.8l1.8 1.8 -1.4-3.8 -1.8-1.7z"/><path color="#8f0000" d="M162.6 42.1l1.7-2.3 -1.5 1.5 -1.7 2.4z"/><path color="#0088ff" d="M140.1 140.2l1.7-6.4 -1.5 0 -1.6 5.9z"/><path color="#f2ff00" d="M147.3 99.4l1.6-7.4 -1.4 1.9 -1.7 7z"/><path color="#98c346" d="M81.8 104.8l3.6 1.9 -2.5 .1 -3.6-1.1z"/><path color="#0066ff" d="M116.7 142.3l1.8 1.8 -1.4-3.8 -1.8-1.7z"/><path color="#ff0300" d="M154.2 66.3l1.7-6.1 -1.5 1.9 -1.7 6.2z"/><path color="#00ff57" d="M105.3 124.6l1.8 1.7 -1.4-3.1 -1.8-1.5z"/><path color="#1cff00" d="M143.7 120.3l1.7-7.4 -1.5 1 -1.7 6.9z"/><path color="#a20000" d="M160.9 45.5l1.7-3.4 -1.5 1.6 -1.7 3.4z"/><path color="#001eff" d="M119.9 147.8l1.8 1.6 -1.4-3.6 -1.8-1.7z"/><path color="#9cc346" d="M70.2 103.6l1.8 .3 -1.2 1.6 -1.8-.2z"/><path color="#ff0100" d="M155.9 60.2l1.6-5.6 -1.4 1.9 -1.7 5.6z"/><path color="#bf0000" d="M159.2 49.7l1.7-4.2 -1.5 1.6 -1.7 4.3z"/><path color="#e10000" d="M157.5 54.6l1.7-4.9 -1.5 1.7 -1.6 5.1z"/><path color="#1cff00" d="M100.3 118.6l1.8 1.6 -1.4-2.5 -1.8-1.4z"/><path color="#00ffb1" d="M108.5 129.6l1.8 1.7 -1.4-3.4 -1.8-1.6z"/><path color="#1700ff" d="M123.2 152.8l1.7 1.3 -1.4-3.3 -1.8-1.4z"/><path color="#3d00ff" d="M136.5 154.7l1.7-3.8 -1.5-.7 -1.7 3.4z"/><path color="#ffc000" d="M148.9 92l1.7-7.4 -1.5 2.1 -1.6 7.2z"/><path color="#00fff2" d="M141.8 133.8l1.7-7 -1.5 .5 -1.7 6.5z"/><path color="#0e00ff" d="M138.2 150.9l1.7-4.9 -1.5-.3 -1.7 4.5z"/><path color="#00f5ff" d="M111.7 134.9l1.8 1.9 -1.4-3.7 -1.8-1.8z"/><path color="#87ff00" d="M91.7 110.7l3.6 2.8 -2.6-2.7 -3.7-2.1z"/><path color="#86ff00" d="M145.4 112.9l1.6-7.7 -1.4 1.5 -1.7 7.2z"/><path color="#99c346" d="M68.3 103.4l1.9 .2 -1.2 1.7 -1.8 0z"/><path color="#4600ff" d="M126.4 157l1.7 .7 -1.4-2.8 -1.8-.8z"/><path color="#00ff26" d="M103.5 122.9l1.8 1.7 -1.4-2.9 -1.8-1.5z"/><path color="#0097ff" d="M114.9 140.5l1.8 1.8 -1.4-3.7 -1.8-1.8z"/><path color="#ff6a00" d="M150.6 84.6l1.7-7.1 -1.5 2.2 -1.7 7z"/><path color="#003aff" d="M118.2 146l1.7 1.8 -1.4-3.7 -1.8-1.8z"/><path color="#37ff00" d="M98.5 117.1l1.8 1.5 -1.4-2.3 -1.8-1.4z"/><path color="#002cff" d="M139.9 146l1.7-6 -1.5 .2 -1.7 5.5z"/><path color="#9fc346" d="M78.1 103.1l3.7 1.7 -2.5 .9 -3.7-1z"/><path color="#00ff5d" d="M143.5 126.8l1.7-7.5 -1.5 1 -1.7 7z"/><path color="#00ff84" d="M106.7 127.8l1.8 1.8 -1.4-3.3 -1.8-1.7z"/><path color="#0005ff" d="M121.4 151.3l1.8 1.5 -1.5-3.4 -1.8-1.6z"/><path color="#ccff00" d="M147 105.2l1.7-7.7 -1.4 1.9 -1.7 7.3z"/><path color="#5e00ff" d="M134.5 159.9l3.4-4.9 -2.9-1.4 -3.4 3.7z"/><path color="#ff0800" d="M152.3 77.5l1.7-6.9 -1.5 2.3 -1.7 6.8z"/><path color="#00ffdb" d="M109.9 133.1l1.8 1.8 -1.4-3.6 -1.8-1.7z"/><path color="#2f00ff" d="M124.6 155.9l1.8 1.1 -1.5-2.9 -1.7-1.3z"/><path color="#06ff00" d="M101.7 121.3l1.8 1.6 -1.4-2.7 -1.8-1.6z"/><path color="#0099ff" d="M141.6 140l1.7-6.8 -1.5 .6 -1.7 6.4z"/><path color="#ff0500" d="M154 70.6l1.7-6.4 -1.5 2.1 -1.7 6.6z"/><path color="#830000" d="M164.2 40.7l1.7-2.2 -1.6 1.3 -1.7 2.3z"/><path color="#00c8ff" d="M113.1 138.7l1.8 1.8 -1.4-3.7 -1.8-1.9z"/><path color="#52ff00" d="M96.7 115.5l1.8 1.6 -1.4-2.2 -1.8-1.4z"/><path color="#35ff00" d="M145.2 119.3l1.6-7.9 -1.4 1.5 -1.7 7.4z"/><path color="#fff500" d="M148.7 97.5l1.7-7.7 -1.5 2.2 -1.6 7.4z"/><path color="#0068ff" d="M116.4 144.2l1.8 1.8 -1.5-3.7 -1.8-1.8z"/><path color="#6a00ff" d="M131 161.4l3.5-1.5 -2.9-2.6 -3.5 .4z"/><path color="#ff0200" d="M155.7 64.2l1.7-6.1 -1.5 2.1 -1.7 6.1z"/><path color="#920000" d="M162.5 43.9l1.7-3.2 -1.6 1.4 -1.7 3.4z"/><path color="#00ff51" d="M104.9 126.1l1.8 1.7 -1.4-3.2 -1.8-1.7z"/><path color="#3800ff" d="M137.9 155l1.7-4.1 -1.4 0 -1.7 3.8z"/><path color="#a8ff00" d="M88 108l3.7 2.7 -2.7-2 -3.6-2z"/><path color="#f40000" d="M157.4 58.1l1.7-5.4 -1.6 1.9 -1.6 5.6z"/><path color="#0021ff" d="M119.6 149.6l1.8 1.7 -1.5-3.5 -1.7-1.8z"/><path color="#ad0000" d="M160.8 47.9l1.7-4 -1.6 1.6 -1.7 4.2z"/><path color="#cf0000" d="M159.1 52.7l1.7-4.8 -1.6 1.8 -1.7 4.9z"/><path color="#a1c346" d="M74.4 101.6l3.7 1.5 -2.5 1.6 -3.6-.8z"/><path color="#00ffd9" d="M143.3 133.2l1.6-7.4 -1.4 1 -1.7 7z"/><path color="#1300ff" d="M122.8 154.5l1.8 1.4 -1.4-3.1 -1.8-1.5z"/><path color="#0500ff" d="M139.6 150.9l1.7-5.3 -1.4 .4 -1.7 4.9z"/><path color="#00ffaf" d="M108.1 131.3l1.8 1.8 -1.4-3.5 -1.8-1.8z"/><path color="#23ff00" d="M99.9 119.6l1.8 1.7 -1.4-2.7 -1.8-1.5z"/><path color="#ff9f00" d="M150.4 89.8l1.7-7.5 -1.5 2.3 -1.7 7.4z"/><path color="#6bff00" d="M94.8 114l1.9 1.5 -1.4-2 -1.8-1.4z"/><path color="#00f7ff" d="M111.3 136.8l1.8 1.9 -1.4-3.8 -1.8-1.8z"/><path color="#a3ff00" d="M146.8 111.4l1.7-8.1 -1.5 1.9 -1.6 7.7z"/><path color="#009aff" d="M114.6 142.4l1.8 1.8 -1.5-3.7 -1.8-1.8z"/><path color="#0039ff" d="M141.3 145.6l1.7-6.3 -1.4 .7 -1.7 6z"/><path color="#00ff1f" d="M103.1 124.3l1.8 1.8 -1.4-3.2 -1.8-1.6z"/><path color="#ff3e00" d="M152.1 82.3l1.7-7.3 -1.5 2.5 -1.7 7.1z"/><path color="#003eff" d="M117.8 147.8l1.8 1.8 -1.4-3.6 -1.8-1.8z"/><path color="#00ff33" d="M144.9 125.8l1.7-8 -1.4 1.5 -1.7 7.5z"/><path color="#4e00ff" d="M127.5 160.5l3.5 .9 -2.9-3.7 -3.5-1.8z"/><path color="#3fff00" d="M98 117.9l1.9 1.7 -1.4-2.5 -1.8-1.6z"/><path color="#000aff" d="M121 152.9l1.8 1.6 -1.4-3.2 -1.8-1.7z"/><path color="#00ff80" d="M106.3 129.6l1.8 1.7 -1.4-3.5 -1.8-1.7z"/><path color="#e0ff00" d="M148.5 103.3l1.7-8.1 -1.5 2.3 -1.7 7.7z"/><path color="#83ff00" d="M93 112.4l1.8 1.6 -1.3-1.9 -1.8-1.4z"/><path color="#ff0700" d="M153.8 75l1.7-6.8 -1.5 2.4 -1.7 6.9z"/><path color="#9dc346" d="M70.7 100.5l3.7 1.1 -2.4 2.3 -3.7-.5z"/><path color="#99c346" d="M84.3 105.4l3.7 2.6 -2.6-1.3 -3.6-1.9z"/><path color="#00ffd9" d="M109.5 135l1.8 1.8 -1.4-3.7 -1.8-1.8z"/><path color="#780000" d="M165.7 39.3l1.7-2.1 -1.5 1.3 -1.7 2.2z"/><path color="#00b8ff" d="M143 139.3l1.7-7.2 -1.4 1.1 -1.7 6.8z"/><path color="#2700ff" d="M124.3 157.2l1.7 1.3 -1.4-2.6 -1.8-1.4z"/><path color="#ff0300" d="M155.5 68.2l1.7-6.4 -1.5 2.4 -1.7 6.4z"/><path color="#00caff" d="M112.8 140.6l1.8 1.8 -1.5-3.7 -1.8-1.9z"/><path color="#0bff00" d="M101.2 122.6l1.9 1.7 -1.4-3 -1.8-1.7z"/><path color="#4d00ff" d="M137.7 157.7l1.7-3.3 -1.5 .6 -1.7 3z"/><path color="#6400ff" d="M135.9 160l1.8-2.3 -1.5 .3 -1.7 1.9z"/><path color="#860000" d="M164 42.3l1.7-3 -1.5 1.4 -1.7 3.2z"/><path color="#2700ff" d="M139.4 154.4l1.7-4.4 -1.5 .9 -1.7 4.1z"/><path color="#54ff00" d="M146.6 117.8l1.7-8.3 -1.5 1.9 -1.6 7.9z"/><path color="#006eff" d="M116 146.1l1.8 1.7 -1.4-3.6 -1.8-1.8z"/><path color="#ff0100" d="M157.2 61.8l1.7-5.8 -1.5 2.1 -1.7 6.1z"/><path color="#ffd400" d="M150.2 95.2l1.7-7.9 -1.5 2.5 -1.7 7.7z"/><path color="#9b0000" d="M162.3 46.2l1.7-3.9 -1.5 1.6 -1.7 4z"/><path color="#59ff00" d="M96.2 116.3l1.8 1.6 -1.3-2.4 -1.9-1.5z"/><path color="#e10000" d="M158.9 56l1.7-5.3 -1.5 2 -1.7 5.4z"/><path color="#bc0000" d="M160.6 50.7l1.7-4.5 -1.5 1.7 -1.7 4.8z"/><path color="#00ff4d" d="M104.5 127.8l1.8 1.8 -1.4-3.5 -1.8-1.8z"/><path color="#99ff00" d="M91.2 110.9l1.8 1.5 -1.3-1.7 -1.9-1.3z"/><path color="#0027ff" d="M119.2 151.2l1.8 1.7 -1.4-3.3 -1.8-1.8z"/><path color="#000eff" d="M141.1 150l1.7-5.6 -1.5 1.2 -1.7 5.3z"/><path color="#00ffb3" d="M144.7 132.1l1.7-7.9 -1.5 1.6 -1.6 7.4z"/><path color="#00ffad" d="M107.7 133.3l1.8 1.7 -1.4-3.7 -1.8-1.7z"/><path color="#0900ff" d="M122.5 155.8l1.8 1.4 -1.5-2.7 -1.8-1.6z"/><path color="#27ff00" d="M99.4 120.8l1.8 1.8 -1.3-3 -1.9-1.7z"/><path color="#ff7a00" d="M151.9 87.3l1.7-7.7 -1.5 2.7 -1.7 7.5z"/><path color="#00f9ff" d="M111 138.9l1.8 1.7 -1.5-3.8 -1.8-1.8z"/><path color="#b7ff00" d="M148.3 109.5l1.7-8.4 -1.5 2.2 -1.7 8.1z"/><path color="#009eff" d="M114.2 144.4l1.8 1.7 -1.4-3.7 -1.8-1.8z"/><path color="#72ff00" d="M94.4 114.6l1.8 1.7 -1.4-2.3 -1.8-1.6z"/><path color="#a0c346" d="M80.6 103l3.7 2.4 -2.5-.6 -3.7-1.7z"/><path color="#005cff" d="M142.8 144.4l1.7-6.7 -1.5 1.6 -1.7 6.3z"/><path color="#3500ff" d="M125.7 159.5l1.8 1 -1.5-2 -1.7-1.3z"/><path color="#a7ff00" d="M89.3 109.4l1.9 1.5 -1.4-1.5 -1.8-1.4z"/><path color="#00ff1b" d="M102.7 126l1.8 1.8 -1.4-3.5 -1.9-1.7z"/><path color="#0044ff" d="M117.4 149.6l1.8 1.6 -1.4-3.4 -1.8-1.7z"/><path color="#ff1000" d="M153.6 79.6l1.7-7.2 -1.5 2.6 -1.7 7.3z"/><path color="#02ff00" d="M146.4 124.2l1.7-8.3 -1.5 1.9 -1.7 8z"/><path color="#6000ff" d="M133.9 161.9l3.5-2.8 -2.9 .8 -3.5 1.5z"/><path color="#00ff80" d="M105.9 131.5l1.8 1.8 -1.4-3.7 -1.8-1.8z"/><path color="#0012ff" d="M120.7 154.3l1.8 1.5 -1.5-2.9 -1.8-1.7z"/><path color="#6e0000" d="M167.2 38.1l1.8-1.9 -1.6 1 -1.7 2.1z"/><path color="#43ff00" d="M97.6 119.1l1.8 1.7 -1.4-2.9 -1.8-1.6z"/><path color="#f6ff00" d="M150 101.1l1.7-8.4 -1.5 2.5 -1.7 8.1z"/><path color="#ff0500" d="M155.3 72.4l1.7-6.7 -1.5 2.5 -1.7 6.8z"/><path color="#00ffda" d="M109.1 137.1l1.9 1.8 -1.5-3.9 -1.8-1.7z"/><path color="#00e7ff" d="M144.5 137.7l1.7-7.4 -1.5 1.8 -1.7 7.2z"/><path color="#8aff00" d="M92.5 113l1.9 1.6 -1.4-2.2 -1.8-1.5z"/><path color="#7b0000" d="M165.5 40.9l1.7-2.8 -1.5 1.2 -1.7 3z"/><path color="#00cbff" d="M112.4 142.7l1.8 1.7 -1.4-3.8 -1.8-1.7z"/><path color="#4e00ff" d="M137.4 159.1l1.7-2.6 -1.4 1.2 -1.8 2.3z"/><path color="#1a00ff" d="M123.9 158.3l1.8 1.2 -1.4-2.3 -1.8-1.4z"/><path color="#3300ff" d="M139.1 156.5l1.7-3.6 -1.4 1.5 -1.7 3.3z"/><path color="#ff0200" d="M157 65.7l1.7-6.3 -1.5 2.4 -1.7 6.4z"/><path color="#0cff00" d="M100.8 124.2l1.9 1.8 -1.5-3.4 -1.8-1.8z"/><path color="#8d0000" d="M163.8 44.5l1.7-3.6 -1.5 1.4 -1.7 3.9z"/><path color="#0072ff" d="M115.6 148.1l1.8 1.5 -1.4-3.5 -1.8-1.7z"/><path color="#0900ff" d="M140.8 152.9l1.8-4.7 -1.5 1.8 -1.7 4.4z"/><path color="#f40000" d="M158.7 59.4l1.7-5.6 -1.5 2.2 -1.7 5.8z"/><path color="#7aff00" d="M148.1 115.9l1.7-8.6 -1.5 2.2 -1.7 8.3z"/><path color="#a90000" d="M162.1 48.8l1.7-4.3 -1.5 1.7 -1.7 4.5z"/><path color="#ce0000" d="M160.4 53.8l1.7-5 -1.5 1.9 -1.7 5.3z"/><path color="#ffb000" d="M151.7 92.7l1.7-8.1 -1.5 2.7 -1.7 7.9z"/><path color="#00ff4e" d="M104.1 129.7l1.8 1.8 -1.4-3.7 -1.8-1.8z"/><path color="#a3c346" d="M76.9 100.8l3.7 2.2 -2.5 .1 -3.7-1.5z"/><path color="#002cff" d="M118.9 152.9l1.8 1.4 -1.5-3.1 -1.8-1.6z"/><path color="#5200ff" d="M130.4 162.4l3.5-.5 -2.9-.5 -3.5-.9z"/><path color="#5dff00" d="M95.7 117.3l1.9 1.8 -1.4-2.8 -1.8-1.7z"/><path color="#002dff" d="M142.6 148.2l1.7-5.9 -1.5 2.1 -1.7 5.6z"/><path color="#00ffb0" d="M107.3 135.4l1.8 1.7 -1.4-3.8 -1.8-1.8z"/><path color="#00ff7d" d="M146.2 130.3l1.7-8.2 -1.5 2.1 -1.7 7.9z"/><path color="#9fff00" d="M90.7 111.3l1.8 1.7 -1.3-2.1 -1.9-1.5z"/><path color="#0001ff" d="M122.1 157.1l1.8 1.2 -1.4-2.5 -1.8-1.5z"/><path color="#00f6ff" d="M110.6 141.1l1.8 1.6 -1.4-3.8 -1.9-1.8z"/><path color="#28ff00" d="M99 122.4l1.8 1.8 -1.4-3.4 -1.8-1.7z"/><path color="#ff4a00" d="M153.4 84.6l1.7-7.7 -1.5 2.7 -1.7 7.7z"/><path color="#b0ff00" d="M87 108.1l3.7 3.2 -2.7-3.3 -3.7-2.6z"/><path color="#009dff" d="M113.8 146.5l1.8 1.6 -1.4-3.7 -1.8-1.7z"/><path color="#cdff00" d="M149.8 107.3l1.7-8.7 -1.5 2.5 -1.7 8.4z"/><path color="#0098ff" d="M144.3 142.3l1.7-6.9 -1.5 2.3 -1.7 6.7z"/><path color="#00ff1f" d="M102.2 127.8l1.9 1.9 -1.4-3.7 -1.9-1.8z"/><path color="#75ff00" d="M93.9 115.6l1.8 1.7 -1.3-2.7 -1.9-1.6z"/><path color="#0047ff" d="M117.1 151.6l1.8 1.3 -1.5-3.3 -1.8-1.5z"/><path color="#ff0700" d="M155.1 76.9l1.7-7.2 -1.5 2.7 -1.7 7.2z"/><path color="#650000" d="M168.8 37l1.7-1.7 -1.5 .9 -1.8 1.9z"/><path color="#2bff00" d="M147.9 122.1l1.7-8.5 -1.5 2.3 -1.7 8.3z"/><path color="#00ff86" d="M105.5 133.6l1.8 1.8 -1.4-3.9 -1.8-1.8z"/><path color="#0019ff" d="M120.3 156l1.8 1.1 -1.4-2.8 -1.8-1.4z"/><path color="#9fc346" d="M73.2 98.8l3.7 2 -2.5 .8 -3.7-1.1z"/><path color="#00ffe0" d="M108.7 139.4l1.9 1.7 -1.5-4 -1.8-1.7z"/><path color="#42ff00" d="M97.1 120.5l1.9 1.9 -1.4-3.3 -1.9-1.8z"/><path color="#2f00ff" d="M126.8 161.6l3.6 .8 -2.9-1.9 -3.6-2.2z"/><path color="#700000" d="M167.1 39.6l1.7-2.6 -1.6 1.1 -1.7 2.8z"/><path color="#ff0400" d="M156.8 69.7l1.7-6.6 -1.5 2.6 -1.7 6.7z"/><path color="#ffe900" d="M151.5 98.6l1.7-8.5 -1.5 2.6 -1.7 8.4z"/><path color="#00c5ff" d="M112 145l1.8 1.5 -1.4-3.8 -1.8-1.6z"/><path color="#00ffd9" d="M146 135.4l1.7-7.6 -1.5 2.5 -1.7 7.4z"/><path color="#810000" d="M165.4 42.9l1.7-3.3 -1.6 1.3 -1.7 3.6z"/><path color="#ff0100" d="M158.5 63.1l1.7-6.1 -1.5 2.4 -1.7 6.3z"/><path color="#2a00ff" d="M138.8 157.1l1.8-3 -1.5 2.4 -1.7 2.6z"/><path color="#8bff00" d="M92 113.8l1.9 1.8 -1.4-2.6 -1.8-1.7z"/><path color="#09ff00" d="M100.4 126l1.8 1.8 -1.4-3.6 -1.8-1.8z"/><path color="#006fff" d="M115.3 150.3l1.8 1.3 -1.5-3.5 -1.8-1.6z"/><path color="#0b00ff" d="M140.6 154.1l1.7-3.8 -1.5 2.6 -1.7 3.6z"/><path color="#400bfe" d="M137.1 159.2l1.7-2.1 -1.4 2 -1.8 1.7z"/><path color="#960000" d="M163.6 46.9l1.8-4 -1.6 1.6 -1.7 4.3z"/><path color="#df0000" d="M160.2 57l1.7-5.4 -1.5 2.2 -1.7 5.6z"/><path color="#b90000" d="M161.9 51.6l1.7-4.7 -1.5 1.9 -1.7 5z"/><path color="#a3ff00" d="M149.6 113.6l1.7-8.8 -1.5 2.5 -1.7 8.6z"/><path color="#00ff58" d="M103.7 131.8l1.8 1.8 -1.4-3.9 -1.9-1.9z"/><path color="#001fff" d="M142.3 150.3l1.7-5 -1.4 2.9 -1.8 4.7z"/><path color="#002eff" d="M118.5 154.9l1.8 1.1 -1.4-3.1 -1.8-1.3z"/><path color="#460bfe" d="M135.3 160.7l1.8-1.5 -1.5 1.6 -1.7 1.1z"/><path color="#ff8900" d="M153.2 90.1l1.7-8.3 -1.5 2.8 -1.7 8.1z"/><path color="#beff00" d="M83.2 104.9l3.8 3.2 -2.7-2.7 -3.7-2.4z"/><path color="#00ffb9" d="M106.9 137.7l1.8 1.7 -1.4-4 -1.8-1.8z"/><path color="#5bff00" d="M95.3 118.7l1.8 1.8 -1.4-3.2 -1.8-1.7z"/><path color="#00ecff" d="M110.2 143.5l1.8 1.5 -1.4-3.9 -1.9-1.7z"/><path color="#00ff2f" d="M147.7 127.8l1.7-8.3 -1.5 2.6 -1.7 8.2z"/><path color="#006aff" d="M144 145.3l1.7-6 -1.4 3 -1.7 5.9z"/><path color="#9fff00" d="M90.2 112l1.8 1.8 -1.3-2.5 -1.9-1.6z"/><path color="#0094ff" d="M113.5 148.9l1.8 1.4 -1.5-3.8 -1.8-1.5z"/><path color="#23ff00" d="M98.5 124.2l1.9 1.8 -1.4-3.6 -1.9-1.9z"/><path color="#ff1a00" d="M154.9 81.8l1.7-7.7 -1.5 2.8 -1.7 7.7z"/><path color="#e6ff00" d="M151.3 104.8l1.7-8.8 -1.5 2.6 -1.7 8.7z"/><path color="#0700ff" d="M123.2 160.7l3.6 .9 -2.9-3.3 -3.6-2.3z"/><path color="#00ff2b" d="M101.8 130l1.9 1.8 -1.5-4 -1.8-1.8z"/><path color="#5e0000" d="M170.4 36.1l1.7-1.5 -1.6 .7 -1.7 1.7z"/><path color="#0043ff" d="M116.7 153.8l1.8 1.1 -1.4-3.3 -1.8-1.3z"/><path color="#72ff00" d="M93.4 116.8l1.9 1.9 -1.4-3.1 -1.9-1.8z"/><path color="#00ff94" d="M105.1 136l1.8 1.7 -1.4-4.1 -1.8-1.8z"/><path color="#00e6ff" d="M145.7 139.3l1.7-7 -1.4 3.1 -1.7 6.9z"/><path color="#ff0500" d="M156.6 74.1l1.7-7.1 -1.5 2.7 -1.7 7.2z"/><path color="#00ffee" d="M108.4 141.9l1.8 1.6 -1.5-4.1 -1.8-1.7z"/><path color="#680000" d="M168.7 38.4l1.7-2.3 -1.6 .9 -1.7 2.6z"/><path color="#001aff" d="M120 157.8l1.8 .8 -1.5-2.6 -1.8-1.1z"/><path color="#5bff00" d="M149.4 119.5l1.7-8.6 -1.5 2.7 -1.7 8.5z"/><path color="#a9ff00" d="M88.3 110.3l1.9 1.7 -1.4-2.3 -1.8-1.6z"/><path color="#00b7ff" d="M111.6 147.6l1.9 1.3 -1.5-3.9 -1.8-1.5z"/><path color="#3cff00" d="M96.7 122.3l1.8 1.9 -1.4-3.7 -1.8-1.8z"/><path color="#ff0200" d="M158.3 67l1.7-6.5 -1.5 2.6 -1.7 6.6z"/><path color="#760000" d="M166.9 41.4l1.8-3 -1.6 1.2 -1.7 3.3z"/><path color="#a1c346" d="M79.5 101.8l3.7 3.1 -2.6-1.9 -3.7-2.2z"/><path color="#ffc300" d="M153 96l1.7-8.7 -1.5 2.8 -1.7 8.5z"/><path color="#0063ff" d="M114.9 152.7l1.8 1.1 -1.4-3.5 -1.8-1.4z"/><path color="#f20000" d="M160 60.5l1.8-5.8 -1.6 2.3 -1.7 6.1z"/><path color="#890000" d="M165.2 45.1l1.7-3.7 -1.5 1.5 -1.8 4z"/><path color="#00ff00" d="M100 128.1l1.8 1.9 -1.4-4 -1.9-1.8z"/><path color="#370bfe" d="M133.3 161l3.5-2.4 -2.9 3.3 -3.5 .5z"/><path color="#cb0000" d="M161.8 54.7l1.7-5.1 -1.6 2 -1.7 5.4z"/><path color="#a50000" d="M163.5 49.6l1.7-4.5 -1.6 1.8 -1.7 4.7z"/><path color="#00ff8a" d="M147.4 132.3l1.8-7.7 -1.5 3.2 -1.7 7.6z"/><path color="#87ff00" d="M91.6 115l1.8 1.8 -1.4-3 -1.8-1.8z"/><path color="#00ff6b" d="M103.2 134.2l1.9 1.8 -1.4-4.2 -1.9-1.8z"/><path color="#1410fe" d="M140.3 154.2l1.7-3.3 -1.4 3.2 -1.8 3z"/><path color="#002aff" d="M118.2 157l1.8 .8 -1.5-2.9 -1.8-1.1z"/><path color="#200bfe" d="M138.5 156.7l1.8-2.5 -1.5 2.9 -1.7 2.1z"/><path color="#00ffcb" d="M106.5 140.3l1.9 1.6 -1.5-4.2 -1.8-1.7z"/><path color="#b1ff00" d="M86.5 108.5l1.8 1.8 -1.3-2.2 -1.9-1.6z"/><path color="#1427fe" d="M142 150.9l1.8-4.1 -1.5 3.5 -1.7 3.8z"/><path color="#bdff00" d="M151.1 110.9l1.7-8.9 -1.5 2.8 -1.7 8.8z"/><path color="#2b0bfe" d="M136.8 158.6l1.7-1.9 -1.4 2.5 -1.8 1.5z"/><path color="#00d9ff" d="M109.8 146.2l1.8 1.4 -1.4-4.1 -1.8-1.6z"/><path color="#ff5a00" d="M154.7 87.3l1.7-8.2 -1.5 2.7 -1.7 8.3z"/><path color="#53ff00" d="M94.8 120.3l1.9 2 -1.4-3.6 -1.9-1.9z"/><path color="#0063ff" d="M143.8 146.8l1.7-5.1 -1.5 3.6 -1.7 5z"/><path color="#0082ff" d="M113.1 151.6l1.8 1.1 -1.4-3.8 -1.9-1.3z"/><path color="#0008ff" d="M121.4 160.3l1.8 .4 -1.4-2.1 -1.8-.8z"/><path color="#19ff00" d="M98.1 126.2l1.9 1.9 -1.5-3.9 -1.8-1.9z"/><path color="#1cff00" d="M149.2 124.6l1.7-8.2 -1.5 3.1 -1.7 8.3z"/><path color="#9aff00" d="M89.7 113l1.9 2 -1.4-3 -1.9-1.7z"/><path color="#2f0bfe" d="M129.7 162.3l3.6-1.3 -2.9 1.4 -3.6-.8z"/><path color="#0039ff" d="M116.4 156.2l1.8 .8 -1.5-3.2 -1.8-1.1z"/><path color="#00ff41" d="M101.4 132.4l1.8 1.8 -1.4-4.2 -1.8-1.9z"/><path color="#ff0700" d="M156.4 79.1l1.7-7.7 -1.5 2.7 -1.7 7.7z"/><path color="#00cbff" d="M145.5 141.7l1.7-6.2 -1.5 3.8 -1.7 6z"/><path color="#b8ff00" d="M84.6 106.7l1.9 1.8 -1.4-2 -1.9-1.6z"/><path color="#00ffaa" d="M104.7 138.7l1.8 1.6 -1.4-4.3 -1.9-1.8z"/><path color="#9fc346" d="M75.7 98.9l3.8 2.9 -2.6-1 -3.7-2z"/><path color="#fffd00" d="M152.8 102l1.7-8.8 -1.5 2.8 -1.7 8.8z"/><path color="#00f9ff" d="M108 144.7l1.8 1.5 -1.4-4.3 -1.9-1.6z"/><path color="#6aff00" d="M93 118.4l1.8 1.9 -1.4-3.5 -1.8-1.8z"/><path color="#ff0400" d="M158.1 71.4l1.7-7 -1.5 2.6 -1.7 7.1z"/><path color="#0014ff" d="M119.6 159.9l1.8 .4 -1.4-2.5 -1.8-.8z"/><path color="#009fff" d="M111.3 150.4l1.8 1.2 -1.5-4 -1.8-1.4z"/><path color="#6c0000" d="M168.5 40.1l1.7-2.7 -1.5 1 -1.8 3z"/><path color="#30ff00" d="M96.2 124.2l1.9 2 -1.4-3.9 -1.9-2z"/><path color="#00ffb9" d="M147.2 135.5l1.7-6.9 -1.5 3.7 -1.7 7z"/><path color="#a6ff00" d="M87.8 111.1l1.9 1.9 -1.4-2.7 -1.8-1.8z"/><path color="#004cff" d="M114.5 155.4l1.9 .8 -1.5-3.5 -1.8-1.1z"/><path color="#93ff00" d="M150.9 116.4l1.7-8.6 -1.5 3.1 -1.7 8.6z"/><path color="#ff0100" d="M159.8 64.4l1.8-6.3 -1.6 2.4 -1.7 6.5z"/><path color="#7d0000" d="M166.8 43.5l1.7-3.4 -1.6 1.3 -1.7 3.7z"/><path color="#00ff19" d="M99.5 130.5l1.9 1.9 -1.4-4.3 -1.9-1.9z"/><path color="#bdff00" d="M82.7 105l1.9 1.7 -1.4-1.8 -1.8-1.5z"/><path color="#5a0000" d="M171.8 36.6l3.5-2.7 -3.2 .7 -3.4 3.8z"/><path color="#dd0000" d="M161.6 58.1l1.7-5.6 -1.5 2.2 -1.8 5.8z"/><path color="#930000" d="M165 47.7l1.8-4.2 -1.6 1.6 -1.7 4.5z"/><path color="#ff9a00" d="M154.5 93.2l1.7-8.7 -1.5 2.8 -1.7 8.7z"/><path color="#b50000" d="M163.3 52.5l1.7-4.8 -1.5 1.9 -1.7 5.1z"/><path color="#00ff87" d="M102.8 136.9l1.9 1.8 -1.5-4.5 -1.8-1.8z"/><path color="#1700ff" d="M126.1 163.4l3.6-1.1 -2.9-.7 -3.6-.9z"/><path color="#00ffe6" d="M106.1 143.2l1.9 1.5 -1.5-4.4 -1.8-1.6z"/><path color="#001fff" d="M117.8 159.5l1.8 .4 -1.4-2.9 -1.8-.8z"/><path color="#7eff00" d="M91.1 116.3l1.9 2.1 -1.4-3.4 -1.9-2z"/><path color="#00bbff" d="M109.4 149.1l1.9 1.3 -1.5-4.2 -1.8-1.5z"/><path color="#00ff1a" d="M148.9 128.6l1.8-7.7 -1.5 3.7 -1.8 7.7z"/><path color="#0064ff" d="M112.7 154.5l1.8 .9 -1.4-3.8 -1.8-1.2z"/><path color="#47ff00" d="M94.4 122.2l1.8 2 -1.4-3.9 -1.8-1.9z"/><path color="#aeff00" d="M85.9 109.1l1.9 2 -1.3-2.6 -1.9-1.8z"/><path color="#daff00" d="M152.6 107.8l1.7-8.8 -1.5 3 -1.7 8.9z"/><path color="#ff2900" d="M156.2 84.5l1.7-8.2 -1.5 2.8 -1.7 8.2z"/><path color="#c0ff00" d="M80.8 103.2l1.9 1.8 -1.3-1.6 -1.9-1.6z"/><path color="#1424fe" d="M140 153.4l1.8-2.9 -1.5 3.7 -1.8 2.5z"/><path color="#1437fe" d="M141.8 150.5l1.7-3.6 -1.5 4 -1.7 3.3z"/><path color="#09ff00" d="M97.7 128.5l1.8 2 -1.4-4.3 -1.9-2z"/><path color="#1415fe" d="M138.2 155.8l1.8-2.4 -1.5 3.3 -1.7 1.9z"/><path color="#0029ff" d="M116 159l1.8 .5 -1.4-3.3 -1.9-.8z"/><path color="#1466fe" d="M143.5 146.9l1.7-4.4 -1.4 4.3 -1.8 4.1z"/><path color="#00ff60" d="M101 135l1.8 1.9 -1.4-4.5 -1.9-1.9z"/><path color="#140bfe" d="M136.5 157.7l1.7-1.9 -1.4 2.8 -1.8 1.4z"/><path color="#00ffc7" d="M104.3 141.5l1.8 1.7 -1.4-4.5 -1.9-1.8z"/><path color="#91ff00" d="M89.2 114.2l1.9 2.1 -1.4-3.3 -1.9-1.9z"/><path color="#00d8ff" d="M107.6 147.8l1.8 1.3 -1.4-4.4 -1.9-1.5z"/><path color="#ff0500" d="M157.9 76.3l1.8-7.5 -1.6 2.6 -1.7 7.7z"/><path color="#00d2ff" d="M145.2 142.5l1.8-5.2 -1.5 4.4 -1.7 5.1z"/><path color="#0b00ff" d="M122.5 164.5l3.6-1.1 -2.9-2.7 -3.6-.8z"/><path color="#5eff00" d="M150.7 120.9l1.7-8.1 -1.5 3.6 -1.7 8.2z"/><path color="#007cff" d="M110.9 153.5l1.8 1 -1.4-4.1 -1.9-1.3z"/><path color="#1b0bfe" d="M134.7 159.3l1.8-1.6 -1.5 2.3 -1.7 1z"/><path color="#b4ff00" d="M84 107.1l1.9 2 -1.3-2.4 -1.9-1.7z"/><path color="#640000" d="M170.1 39l1.7-2.4 -1.6 .8 -1.7 2.7z"/><path color="#ffd300" d="M154.3 99l1.7-8.7 -1.5 2.9 -1.7 8.8z"/><path color="#5dff00" d="M92.5 120l1.9 2.2 -1.4-3.8 -1.9-2.1z"/><path color="#ff0200" d="M159.7 68.8l1.7-6.8 -1.6 2.4 -1.7 7z"/><path color="#0033ff" d="M114.2 158.4l1.8 .6 -1.5-3.6 -1.8-.9z"/><path color="#00ffc4" d="M147 137.3l1.7-6.1 -1.5 4.3 -1.7 6.2z"/><path color="#1f0bfe" d="M132.9 160.6l1.8-1.3 -1.4 1.7 -1.8 .7z"/><path color="#20ff00" d="M95.8 126.4l1.9 2.1 -1.5-4.3 -1.8-2z"/><path color="#720000" d="M168.3 42.1l1.8-3.1 -1.6 1.1 -1.7 3.4z"/><path color="#f20000" d="M161.4 62l1.7-6.1 -1.5 2.2 -1.8 6.3z"/><path color="#00ff39" d="M99.1 133l1.9 2 -1.5-4.5 -1.8-2z"/><path color="#860000" d="M166.6 46l1.7-3.9 -1.5 1.4 -1.8 4.2z"/><path color="#00ffa8" d="M102.4 139.7l1.9 1.8 -1.5-4.6 -1.8-1.9z"/><path color="#c90000" d="M163.1 55.9l1.8-5.3 -1.6 1.9 -1.7 5.6z"/><path color="#a1ff00" d="M87.3 112.1l1.9 2.1 -1.4-3.1 -1.9-2z"/><path color="#a20000" d="M164.9 50.6l1.7-4.6 -1.6 1.7 -1.7 4.8z"/><path color="#00f4ff" d="M105.7 146.2l1.9 1.6 -1.5-4.6 -1.8-1.7z"/><path color="#220bfe" d="M131.2 161.8l1.7-1.2 -1.4 1.1 -1.8 .6z"/><path color="#baff00" d="M152.4 112.8l1.7-8.4 -1.5 3.4 -1.7 8.6z"/><path color="#0094ff" d="M109.1 152.3l1.8 1.2 -1.5-4.4 -1.8-1.3z"/><path color="#ff6e00" d="M156 90.3l1.7-8.5 -1.5 2.7 -1.7 8.7z"/><path color="#b9ff00" d="M82.1 105.1l1.9 2 -1.3-2.1 -1.9-1.8z"/><path color="#00ff3e" d="M148.7 131.2l1.7-6.9 -1.5 4.3 -1.7 6.9z"/><path color="#003dff" d="M112.4 157.7l1.8 .7 -1.5-3.9 -1.8-1z"/><path color="#72ff00" d="M90.6 117.8l1.9 2.2 -1.4-3.7 -1.9-2.1z"/><path color="#0300ff" d="M118.9 165.3l3.6-.8 -2.9-4.6 -3.6-.9z"/><path color="#38ff00" d="M93.9 124.1l1.9 2.3 -1.4-4.2 -1.9-2.2z"/><path color="#beff00" d="M78.3 100.9l3.8 4.2 -2.6-3.3 -3.8-2.9z"/><path color="#0012ff" d="M115.6 162.1l1.9 .2 -1.5-3.3 -1.8-.6z"/><path color="#00ff11" d="M97.2 130.9l1.9 2.1 -1.4-4.5 -1.9-2.1z"/><path color="#ff0700" d="M157.7 81.8l1.8-8 -1.6 2.5 -1.7 8.2z"/><path color="#00ff87" d="M100.6 137.8l1.8 1.9 -1.4-4.7 -1.9-2z"/><path color="#aaff00" d="M85.4 109.8l1.9 2.3 -1.4-3 -1.9-2z"/><path color="#00ffec" d="M103.9 144.6l1.8 1.6 -1.4-4.7 -1.9-1.8z"/><path color="#faff00" d="M154.1 104.4l1.7-8.6 -1.5 3.2 -1.7 8.8z"/><path color="#00aeff" d="M107.2 151l1.9 1.3 -1.5-4.5 -1.9-1.6z"/><path color="#3cff00" d="M150.4 124.3l1.8-7.5 -1.5 4.1 -1.8 7.7z"/><path color="#004eff" d="M110.5 156.8l1.9 .9 -1.5-4.2 -1.8-1.2z"/><path color="#5d0000" d="M171.7 38.1l1.7-2.1 -1.6 .6 -1.7 2.4z"/><path color="#86ff00" d="M88.7 115.4l1.9 2.4 -1.4-3.6 -1.9-2.1z"/><path color="#145cfe" d="M141.5 149.6l1.7-3.4 -1.4 4.3 -1.8 2.9z"/><path color="#ff0400" d="M159.5 73.8l1.7-7.4 -1.5 2.4 -1.8 7.5z"/><path color="#143afe" d="M139.7 152.4l1.8-2.8 -1.5 3.8 -1.8 2.4z"/><path color="#1488fe" d="M143.2 146.2l1.8-3.9 -1.5 4.6 -1.7 3.6z"/><path color="#0019ff" d="M113.8 161.7l1.8 .4 -1.4-3.7 -1.8-.7z"/><path color="#142afe" d="M137.9 154.9l1.8-2.5 -1.5 3.4 -1.7 1.9z"/><path color="#510000" d="M175 35.6l3.5-1.5 -3.2-.2 -3.5 2.7z"/><path color="#4fff00" d="M92 121.8l1.9 2.3 -1.4-4.1 -1.9-2.2z"/><path color="#14bcfe" d="M145 142.3l1.7-4.6 -1.5 4.8 -1.7 4.4z"/><path color="#690000" d="M169.9 41l1.8-2.9 -1.6 .9 -1.8 3.1z"/><path color="#141efe" d="M136.2 157l1.7-2.1 -1.4 2.8 -1.8 1.6z"/><path color="#ff0100" d="M161.2 66.4l1.8-6.6 -1.6 2.2 -1.7 6.8z"/><path color="#1400ff" d="M129 164.2l3.6-3.5 -2.9 1.6 -3.6 1.1z"/><path color="#ffa700" d="M155.8 95.8l1.8-8.5 -1.6 3 -1.7 8.7z"/><path color="#0eff00" d="M95.3 128.6l1.9 2.3 -1.4-4.5 -1.9-2.3z"/><path color="#b1ff00" d="M83.5 107.5l1.9 2.3 -1.4-2.7 -1.9-2z"/><path color="#a3ff00" d="M152.2 116.8l1.7-7.9 -1.5 3.9 -1.7 8.1z"/><path color="#00ff5f" d="M98.7 135.6l1.9 2.2 -1.5-4.8 -1.9-2.1z"/><path color="#00ffcd" d="M102 142.7l1.9 1.9 -1.5-4.9 -1.8-1.9z"/><path color="#00caff" d="M105.4 149.4l1.8 1.6 -1.5-4.8 -1.8-1.6z"/><path color="#7b0000" d="M168.2 44.6l1.7-3.6 -1.6 1.1 -1.7 3.9z"/><path color="#1414fe" d="M134.4 159l1.8-2 -1.5 2.3 -1.8 1.3z"/><path color="#de0000" d="M163 59.8l1.7-5.8 -1.6 1.9 -1.7 6.1z"/><path color="#1000ff" d="M117.1 165.4l1.8-.1 -1.4-3 -1.9-.2z"/><path color="#14c3c6" d="M146.7 137.7l1.8-5.3 -1.5 4.9 -1.8 5.2z"/><path color="#0065ff" d="M108.7 155.7l1.8 1.1 -1.4-4.5 -1.9-1.3z"/><path color="#920000" d="M166.4 48.9l1.8-4.3 -1.6 1.4 -1.7 4.6z"/><path color="#b50000" d="M164.7 54l1.7-5.1 -1.5 1.7 -1.8 5.3z"/><path color="#0021ff" d="M112 161.1l1.8 .6 -1.4-4 -1.9-.9z"/><path color="#140bfe" d="M132.6 160.7l1.8-1.7 -1.5 1.6 -1.7 1.2z"/><path color="#9aff00" d="M86.8 113l1.9 2.4 -1.4-3.3 -1.9-2.3z"/><path color="#00ff3d" d="M148.5 132.4l1.7-6.1 -1.5 4.9 -1.7 6.1z"/><path color="#ff3b00" d="M157.6 87.3l1.7-8.2 -1.6 2.7 -1.7 8.5z"/><path color="#2600ff" d="M125.5 167.4l3.5-3.2 -2.9-.8 -3.6 1.1z"/><path color="#0c00ff" d="M115.3 165.4l1.8 0 -1.5-3.3 -1.8-.4z"/><path color="#66ff00" d="M90.1 119.2l1.9 2.6 -1.4-4 -1.9-2.4z"/><path color="#deff00" d="M153.9 108.9l1.7-8.1 -1.5 3.6 -1.7 8.4z"/><path color="#b7ff00" d="M81.6 105.1l1.9 2.4 -1.4-2.4 -1.9-2.1z"/><path color="#27ff00" d="M93.5 126.1l1.8 2.5 -1.4-4.5 -1.9-2.3z"/><path color="#00e8ff" d="M103.5 147.7l1.9 1.7 -1.5-4.8 -1.9-1.9z"/><path color="#00ffab" d="M100.1 140.6l1.9 2.1 -1.4-4.9 -1.9-2.2z"/><path color="#007eff" d="M106.8 154.3l1.9 1.4 -1.5-4.7 -1.8-1.6z"/><path color="#00ff34" d="M96.8 133.3l1.9 2.3 -1.5-4.7 -1.9-2.3z"/><path color="#002bff" d="M110.1 160.2l1.9 .9 -1.5-4.3 -1.8-1.1z"/><path color="#31ff00" d="M150.2 126.3l1.7-6.7 -1.5 4.7 -1.7 6.9z"/><path color="#ff0600" d="M159.3 79.1l1.7-7.7 -1.5 2.4 -1.8 8z"/><path color="#570000" d="M173.3 37.5l1.7-1.9 -1.6 .4 -1.7 2.1z"/><path color="#0700ff" d="M113.5 165.1l1.8 .3 -1.5-3.7 -1.8-.6z"/><path color="#a6ff00" d="M84.9 110.4l1.9 2.6 -1.4-3.2 -1.9-2.3z"/><path color="#3600ff" d="M121.9 170.1l3.6-2.7 -3-2.9 -3.6 .8z"/><path color="#ffd600" d="M155.6 100.8l1.8-8.2 -1.6 3.2 -1.7 8.6z"/><path color="#ff0300" d="M161 71.4l1.8-7.1 -1.6 2.1 -1.7 7.4z"/><path color="#620000" d="M171.5 40.1l1.8-2.6 -1.6 .6 -1.8 2.9z"/><path color="#7dff00" d="M88.2 116.5l1.9 2.7 -1.4-3.8 -1.9-2.4z"/><path color="#bcff00" d="M79.7 102.6l1.9 2.5 -1.4-2.1 -1.9-2.1z"/><path color="#8fff00" d="M151.9 119.6l1.8-7.2 -1.5 4.4 -1.8 7.5z"/><path color="#009bff" d="M105 152.7l1.8 1.6 -1.4-4.9 -1.9-1.7z"/><path color="#00fff4" d="M101.6 145.6l1.9 2.1 -1.5-5 -1.9-2.1z"/><path color="#0037ff" d="M108.3 159.1l1.8 1.1 -1.4-4.5 -1.9-1.4z"/><path color="#41ff00" d="M91.5 123.4l2 2.7 -1.5-4.3 -1.9-2.6z"/><path color="#720000" d="M169.8 43.4l1.7-3.3 -1.6 .9 -1.7 3.6z"/><path color="#00ff85" d="M98.3 138.2l1.8 2.4 -1.4-5 -1.9-2.3z"/><path color="#f80000" d="M162.8 64.3l1.7-6.3 -1.5 1.8 -1.8 6.6z"/><path color="#00ff07" d="M94.9 130.7l1.9 2.6 -1.5-4.7 -1.8-2.5z"/><path color="#0001ff" d="M111.6 164.6l1.9 .5 -1.5-4 -1.9-.9z"/><path color="#870000" d="M168 47.5l1.8-4.1 -1.6 1.2 -1.8 4.3z"/><path color="#cd0000" d="M164.5 58l1.8-5.6 -1.6 1.6 -1.7 5.8z"/><path color="#1482fe" d="M141.2 148.6l1.7-3.3 -1.4 4.3 -1.8 2.8z"/><path color="#a40000" d="M166.3 52.4l1.7-4.9 -1.6 1.4 -1.7 5.1z"/><path color="#145cfe" d="M139.4 151.6l1.8-3 -1.5 3.8 -1.8 2.5z"/><path color="#ff7900" d="M157.4 92.6l1.7-8.2 -1.5 2.9 -1.8 8.5z"/><path color="#14adfe" d="M142.9 145.3l1.8-3.7 -1.5 4.6 -1.7 3.4z"/><path color="#143bfe" d="M137.6 154.4l1.8-2.8 -1.5 3.3 -1.7 2.1z"/><path color="#4000ff" d="M118.2 171.9l3.7-1.8 -3-4.8 -3.6 .1z"/><path color="#b0ff00" d="M82.9 107.6l2 2.8 -1.4-2.9 -1.9-2.4z"/><path color="#14c3e2" d="M144.7 141.6l1.8-4.3 -1.5 5 -1.8 3.9z"/><path color="#142afe" d="M135.9 156.9l1.7-2.5 -1.4 2.6 -1.8 2z"/><path color="#3100ff" d="M114.9 168.9l1.9-.1 -1.5-3.4 -1.8-.3z"/><path color="#ccff00" d="M153.7 112.4l1.7-7.5 -1.5 4 -1.7 7.9z"/><path color="#14c3a9" d="M146.5 137.3l1.7-4.7 -1.5 5.1 -1.7 4.6z"/><path color="#141bfe" d="M134.1 159.3l1.8-2.4 -1.5 2.1 -1.8 1.7z"/><path color="#95ff00" d="M86.3 113.6l1.9 2.9 -1.4-3.5 -1.9-2.6z"/><path color="#004aff" d="M106.4 157.6l1.9 1.5 -1.5-4.8 -1.8-1.6z"/><path color="#0002ff" d="M132.3 161.6l1.8-2.3 -1.5 1.4 -1.8 1.8z"/><path color="#00bcff" d="M103.1 150.7l1.9 2 -1.5-5 -1.9-2.1z"/><path color="#ff0800" d="M159.1 84.4l1.8-7.8 -1.6 2.5 -1.7 8.2z"/><path color="#000bff" d="M109.8 163.7l1.8 .9 -1.5-4.4 -1.8-1.1z"/><path color="#00ffcf" d="M99.7 143.3l1.9 2.3 -1.5-5 -1.8-2.4z"/><path color="#14c35b" d="M148.2 132.6l1.8-5.4 -1.5 5.2 -1.8 5.3z"/><path color="#5dff00" d="M89.6 120.5l1.9 2.9 -1.4-4.2 -1.9-2.7z"/><path color="#1400ff" d="M130.5 163.9l1.8-2.3 -1.5 .9 -1.8 1.7z"/><path color="#00ff55" d="M96.3 135.6l2 2.6 -1.5-4.9 -1.9-2.6z"/><path color="#19ff00" d="M93 127.9l1.9 2.8 -1.4-4.6 -2-2.7z"/><path color="#2c00ff" d="M113.1 168.7l1.8 .2 -1.4-3.8 -1.9-.5z"/><path color="#4d0000" d="M178.3 35.6l3.5-.3 -3.3-1.2 -3.5 1.5z"/><path color="#fff800" d="M155.4 104.9l1.8-7.8 -1.6 3.7 -1.7 8.1z"/><path color="#b9ff00" d="M81 104.7l1.9 2.9 -1.3-2.5 -1.9-2.5z"/><path color="#ff0500" d="M160.9 76.6l1.7-7.4 -1.6 2.2 -1.7 7.7z"/><path color="#39ff00" d="M150 127.2l1.7-5.9 -1.5 5 -1.7 6.1z"/><path color="#5800ff" d="M116.4 172.4l1.8-.5 -1.4-3.1 -1.9 .1z"/><path color="#0018ff" d="M107.9 162.5l1.9 1.2 -1.5-4.6 -1.9-1.5z"/><path color="#006bff" d="M104.6 155.8l1.8 1.8 -1.4-4.9 -1.9-2z"/><path color="#ff0100" d="M162.6 69.2l1.8-6.8 -1.6 1.9 -1.8 7.1z"/><path color="#a7ff00" d="M84.3 110.6l2 3 -1.4-3.2 -2-2.8z"/><path color="#00e3ff" d="M101.2 148.5l1.9 2.2 -1.5-5.1 -1.9-2.3z"/><path color="#6b0000" d="M171.4 42.6l1.8-3.1 -1.7 .6 -1.7 3.3z"/><path color="#2300ff" d="M111.3 168.1l1.8 .6 -1.5-4.1 -1.8-.9z"/><path color="#ffa300" d="M157.2 97.1l1.7-7.8 -1.5 3.3 -1.8 8.2z"/><path color="#8bff00" d="M151.7 121.3l1.8-6.5 -1.6 4.8 -1.7 6.7z"/><path color="#00ffa4" d="M97.8 140.6l1.9 2.7 -1.4-5.1 -2-2.6z"/><path color="#e60000" d="M164.4 62.4l1.7-6 -1.6 1.6 -1.7 6.3z"/><path color="#7aff00" d="M87.7 117.3l1.9 3.2 -1.4-4 -1.9-2.9z"/><path color="#7e0000" d="M169.6 46.4l1.8-3.8 -1.6 .8 -1.8 4.1z"/><path color="#00ff20" d="M94.4 132.6l1.9 3 -1.4-4.9 -1.9-2.8z"/><path color="#38ff00" d="M91.1 124.8l1.9 3.1 -1.5-4.5 -1.9-2.9z"/><path color="#bc0000" d="M166.1 56.4l1.8-5.4 -1.6 1.4 -1.8 5.6z"/><path color="#960000" d="M167.9 51l1.7-4.6 -1.6 1.1 -1.7 4.9z"/><path color="#580000" d="M174.8 39.1l3.5-3.5 -3.3 0 -3.5 4.5z"/><path color="#3100ff" d="M128.4 168.7l3.6-5.4 -3 .9 -3.5 3.2z"/><path color="#5600ff" d="M114.6 172.5l1.8-.1 -1.5-3.5 -1.8-.2z"/><path color="#c4ff00" d="M153.5 114.8l1.7-6.9 -1.5 4.5 -1.8 7.2z"/><path color="#ff4000" d="M158.9 89.3l1.8-7.6 -1.6 2.7 -1.7 8.2z"/><path color="#5b00ff" d="M124.8 173.4l3.6-4.7 -2.9-1.3 -3.6 2.7z"/><path color="#002aff" d="M106 160.9l1.9 1.6 -1.5-4.9 -1.8-1.8z"/><path color="#1600ff" d="M109.4 167.2l1.9 .9 -1.5-4.4 -1.9-1.2z"/><path color="#0093ff" d="M102.7 153.6l1.9 2.2 -1.5-5.1 -1.9-2.2z"/><path color="#b4ff00" d="M82.4 107.2l1.9 3.4 -1.4-3 -1.9-2.9z"/><path color="#1473fe" d="M139.1 151.4l1.8-3.3 -1.5 3.5 -1.8 2.8z"/><path color="#149ffe" d="M140.9 148.1l1.8-3.5 -1.5 4 -1.8 3z"/><path color="#144afe" d="M137.3 154.5l1.8-3.1 -1.5 3 -1.7 2.5z"/><path color="#00ffee" d="M99.3 145.8l1.9 2.7 -1.5-5.2 -1.9-2.7z"/><path color="#5000ff" d="M112.7 172.3l1.9 .2 -1.5-3.8 -1.8-.6z"/><path color="#002fff" d="M135.6 157.5l1.7-3 -1.4 2.4 -1.8 2.4z"/><path color="#14c3f2" d="M142.7 144.6l1.7-3.8 -1.5 4.5 -1.7 3.3z"/><path color="#0013ff" d="M133.8 160.5l1.8-3 -1.5 1.8 -1.8 2.3z"/><path color="#0a00ff" d="M132 163.3l1.8-2.8 -1.5 1.1 -1.8 2.3z"/><path color="#14c3bf" d="M144.4 140.8l1.8-4.1 -1.5 4.9 -1.8 3.7z"/><path color="#ff0600" d="M160.7 81.7l1.7-7.5 -1.5 2.4 -1.8 7.8z"/><path color="#00ff6f" d="M95.9 137.6l1.9 3 -1.5-5 -1.9-3z"/><path color="#f6ff00" d="M155.2 107.9l1.8-7.1 -1.6 4.1 -1.7 7.5z"/><path color="#7b00ff" d="M121.2 176.9l3.6-3.5 -2.9-3.3 -3.7 1.8z"/><path color="#98ff00" d="M85.7 113.9l2 3.4 -1.4-3.7 -2-3z"/><path color="#14c381" d="M146.2 136.7l1.8-4.5 -1.5 5.1 -1.8 4.3z"/><path color="#10ff00" d="M92.5 129.3l1.9 3.3 -1.4-4.7 -1.9-3.1z"/><path color="#5bff00" d="M89.1 121.3l2 3.5 -1.5-4.3 -1.9-3.2z"/><path color="#1cc346" d="M148 132.2l1.7-4.9 -1.5 5.3 -1.7 4.7z"/><path color="#0400ff" d="M107.5 165.7l1.9 1.5 -1.5-4.7 -1.9-1.6z"/><path color="#ff0300" d="M162.4 74.2l1.8-6.9 -1.6 1.9 -1.7 7.4z"/><path color="#0040ff" d="M104.1 158.8l1.9 2.1 -1.4-5.1 -1.9-2.2z"/><path color="#4500ff" d="M110.9 171.6l1.8 .7 -1.4-4.2 -1.9-.9z"/><path color="#ffbf00" d="M157 100.8l1.7-7.3 -1.5 3.6 -1.8 7.8z"/><path color="#650000" d="M173 42l1.8-2.9 -1.6 .4 -1.8 3.1z"/><path color="#00c2ff" d="M100.8 151l1.9 2.6 -1.5-5.1 -1.9-2.7z"/><path color="#4dc346" d="M149.7 127.3l1.8-5.4 -1.5 5.3 -1.8 5.4z"/><path color="#ff0000" d="M164.2 67.3l1.8-6.4 -1.6 1.5 -1.8 6.8z"/><path color="#7e00f8" d="M117.5 179l3.7-2.1 -3-5 -3.6 .6z"/><path color="#770000" d="M171.3 45.7l1.7-3.7 -1.6 .6 -1.8 3.8z"/><path color="#7a00ff" d="M114.2 176l1.9 0 -1.5-3.5 -1.9-.2z"/><path color="#00ffba" d="M97.4 142.7l1.9 3.1 -1.5-5.2 -1.9-3z"/><path color="#d70000" d="M166 60.9l1.7-5.8 -1.6 1.3 -1.7 6z"/><path color="#8d0000" d="M169.5 50l1.8-4.3 -1.7 .7 -1.7 4.6z"/><path color="#ae0000" d="M167.7 55.1l1.8-5.1 -1.6 1 -1.8 5.4z"/><path color="#82c346" d="M151.5 121.9l1.8-5.8 -1.6 5.2 -1.7 5.9z"/><path color="#00ff2d" d="M94 134.1l1.9 3.5 -1.5-5 -1.9-3.3z"/><path color="#adff00" d="M83.8 110.2l1.9 3.7 -1.4-3.3 -1.9-3.4z"/><path color="#ff6c00" d="M158.7 93.5l1.8-7.3 -1.6 3.1 -1.7 7.8z"/><path color="#38ff00" d="M90.6 125.7l1.9 3.6 -1.4-4.5 -2-3.5z"/><path color="#80ff00" d="M87.2 117.6l1.9 3.7 -1.4-4 -2-3.4z"/><path color="#3500ff" d="M109 170.4l1.9 1.2 -1.5-4.4 -1.9-1.5z"/><path color="#0012ff" d="M105.6 163.8l1.9 1.9 -1.5-4.8 -1.9-2.1z"/><path color="#c6ff00" d="M153.3 116.1l1.7-6.2 -1.5 4.9 -1.8 6.5z"/><path color="#0070ff" d="M102.2 156.2l1.9 2.6 -1.4-5.2 -1.9-2.6z"/><path color="#4d0000" d="M181.6 36.5l3.5 .7 -3.3-1.9 -3.5 .3z"/><path color="#7200ff" d="M112.4 175.6l1.8 .4 -1.5-3.7 -1.8-.7z"/><path color="#ff0900" d="M160.5 86.2l1.8-7.2 -1.6 2.7 -1.8 7.6z"/><path color="#00faff" d="M98.8 147.9l2 3.1 -1.5-5.2 -1.9-3.1z"/><path color="#4100ff" d="M129.9 168.8l1.8-3.1 -1.5 .4 -1.8 2.6z"/><path color="#6000ff" d="M128.1 171.7l1.8-2.9 -1.5-.1 -1.8 2.4z"/><path color="#2000ff" d="M131.7 165.7l1.8-3.3 -1.5 .9 -1.8 2.8z"/><path color="#f3ff00" d="M155 109.9l1.8-6.5 -1.6 4.5 -1.7 6.9z"/><path color="#0004ff" d="M133.5 162.4l1.8-3.4 -1.5 1.5 -1.8 2.8z"/><path color="#7c00ff" d="M126.3 174.3l1.8-2.6 -1.5-.6 -1.8 2.3z"/><path color="#7a00e9" d="M115.7 179.4l1.8-.4 -1.4-3 -1.9 0z"/><path color="#0027ff" d="M135.3 159l1.7-3.5 -1.4 2 -1.8 3z"/><path color="#00ff7b" d="M95.4 139.1l2 3.6 -1.5-5.1 -1.9-3.5z"/><path color="#0056ff" d="M137 155.5l1.8-3.5 -1.5 2.5 -1.7 3z"/><path color="#ff0500" d="M162.3 79l1.7-6.9 -1.6 2.1 -1.7 7.5z"/><path color="#147bfe" d="M138.8 152l1.8-3.7 -1.5 3.1 -1.8 3.1z"/><path color="#1e00ff" d="M107.1 168.6l1.9 1.8 -1.5-4.7 -1.9-1.9z"/><path color="#14aefe" d="M140.6 148.3l1.8-3.9 -1.5 3.7 -1.8 3.3z"/><path color="#6300ff" d="M110.5 174.7l1.9 .9 -1.5-4 -1.9-1.2z"/><path color="#11ff00" d="M92 130.3l2 3.8 -1.5-4.8 -1.9-3.6z"/><path color="#14c3dd" d="M142.4 144.4l1.8-4 -1.5 4.2 -1.8 3.5z"/><path color="#002dff" d="M103.7 161.3l1.9 2.5 -1.5-5 -1.9-2.6z"/><path color="#620000" d="M174.6 41.7l1.8-2.7 -1.6 .1 -1.8 2.9z"/><path color="#a5ff00" d="M85.2 113.5l2 4.1 -1.5-3.7 -1.9-3.7z"/><path color="#64ff00" d="M88.6 121.6l2 4.1 -1.5-4.4 -1.9-3.7z"/><path color="#ff0200" d="M164 72.1l1.8-6.5 -1.6 1.7 -1.8 6.9z"/><path color="#14c3a4" d="M144.2 140.4l1.7-4.2 -1.5 4.6 -1.7 3.8z"/><path color="#ffcd00" d="M156.8 103.4l1.7-6.7 -1.5 4.1 -1.8 7.1z"/><path color="#7b00ee" d="M113.8 179.3l1.9 .1 -1.5-3.4 -1.8-.4z"/><path color="#530000" d="M178.1 39.2l3.5-2.7 -3.3-.9 -3.5 3.5z"/><path color="#00aaff" d="M100.3 153.1l1.9 3.1 -1.4-5.2 -2-3.1z"/><path color="#710000" d="M172.9 45.2l1.7-3.5 -1.6 .3 -1.7 3.7z"/><path color="#14c35e" d="M145.9 136.2l1.8-4.4 -1.5 4.9 -1.8 4.1z"/><path color="#f20000" d="M165.8 65.6l1.8-6.1 -1.6 1.4 -1.8 6.4z"/><path color="#860000" d="M171.1 49.3l1.8-4.1 -1.6 .5 -1.8 4.3z"/><path color="#ca0000" d="M167.6 59.5l1.7-5.4 -1.6 1 -1.7 5.8z"/><path color="#32c346" d="M147.7 131.8l1.8-4.8 -1.5 5.2 -1.8 4.5z"/><path color="#a30000" d="M169.3 54.1l1.8-4.8 -1.6 .7 -1.8 5.1z"/><path color="#00ffc5" d="M96.9 144.2l1.9 3.7 -1.4-5.2 -2-3.6z"/><path color="#ff8600" d="M158.5 96.7l1.8-6.7 -1.6 3.5 -1.7 7.3z"/><path color="#7a00e9" d="M124.2 179.9l3.6-5.1 -3-1.4 -3.6 3.5z"/><path color="#61c346" d="M149.5 127l1.8-5 -1.6 5.3 -1.7 4.9z"/><path color="#4d00ff" d="M108.6 173.2l1.9 1.5 -1.5-4.3 -1.9-1.8z"/><path color="#0100ff" d="M105.2 166.3l1.9 2.3 -1.5-4.8 -1.9-2.5z"/><path color="#7d00f6" d="M112 178.6l1.8 .7 -1.4-3.7 -1.9-.9z"/><path color="#00ff2a" d="M93.5 135.1l1.9 4 -1.4-5 -2-3.8z"/><path color="#8dc346" d="M151.3 122l1.7-5.3 -1.5 5.2 -1.8 5.4z"/><path color="#ff2d00" d="M160.3 90l1.8-6.8 -1.6 3 -1.8 7.3z"/><path color="#7300d4" d="M120.5 183.4l3.7-3.5 -3-3 -3.7 2.1z"/><path color="#0059ff" d="M101.8 158.3l1.9 3 -1.5-5.1 -1.9-3.1z"/><path color="#43ff00" d="M90 125.9l2 4.4 -1.4-4.6 -2-4.1z"/><path color="#94ff00" d="M86.6 117.1l2 4.5 -1.4-4 -2-4.1z"/><path color="#a8c346" d="M153 116.7l1.8-5.6 -1.5 5 -1.8 5.8z"/><path color="#8000fe" d="M127.8 174.8l1.8-3 -1.5-.1 -1.8 2.6z"/><path color="#6100ff" d="M129.6 171.8l1.8-3.3 -1.5 .3 -1.8 2.9z"/><path color="#ff0600" d="M162.1 83.2l1.7-6.6 -1.5 2.4 -1.8 7.2z"/><path color="#00efff" d="M98.4 149.4l1.9 3.7 -1.5-5.2 -1.9-3.7z"/><path color="#3d00ff" d="M131.4 168.5l1.8-3.6 -1.5 .8 -1.8 3.1z"/><path color="#1400ff" d="M133.2 164.9l1.8-3.7 -1.5 1.2 -1.8 3.3z"/><path color="#3000ff" d="M106.7 171l1.9 2.2 -1.5-4.6 -1.9-2.3z"/><path color="#7900ff" d="M110.1 177.3l1.9 1.3 -1.5-3.9 -1.9-1.5z"/><path color="#0015ff" d="M135 161.2l1.7-3.9 -1.4 1.7 -1.8 3.4z"/><path color="#5f0000" d="M176.3 41.7l1.8-2.5 -1.7-.2 -1.8 2.7z"/><path color="#f7ff00" d="M154.8 111.1l1.8-5.9 -1.6 4.7 -1.7 6.2z"/><path color="#ff0400" d="M163.8 76.6l1.8-6.4 -1.6 1.9 -1.7 6.9z"/><path color="#7200ce" d="M116.8 185l3.7-1.6 -3-4.4 -3.7 .3z"/><path color="#00ff77" d="M94.9 140l2 4.2 -1.5-5.1 -1.9-4z"/><path color="#003fff" d="M136.7 157.3l1.8-3.9 -1.5 2.1 -1.7 3.5z"/><path color="#0021ff" d="M103.3 163.4l1.9 2.9 -1.5-5 -1.9-3z"/><path color="#6d0000" d="M174.5 45l1.8-3.3 -1.7 0 -1.7 3.5z"/><path color="#008eff" d="M138.5 153.4l1.8-4.1 -1.5 2.7 -1.8 3.5z"/><path color="#7600dd" d="M113.5 182l1.8 .4 -1.5-3.1 -1.8-.7z"/><path color="#ff0100" d="M165.6 70.2l1.8-6 -1.6 1.4 -1.8 6.5z"/><path color="#ffce00" d="M156.6 105.2l1.7-6.1 -1.5 4.3 -1.8 6.5z"/><path color="#00e1ff" d="M140.3 149.3l1.8-4.2 -1.5 3.2 -1.8 3.7z"/><path color="#810000" d="M172.7 48.9l1.8-3.9 -1.6 .2 -1.8 4.1z"/><path color="#1fff00" d="M91.5 130.5l2 4.6 -1.5-4.8 -2-4.4z"/><path color="#e40000" d="M167.4 64.2l1.8-5.6 -1.6 .9 -1.8 6.1z"/><path color="#9a0000" d="M171 53.4l1.7-4.5 -1.6 .4 -1.8 4.8z"/><path color="#00a1ff" d="M99.9 154.6l1.9 3.7 -1.5-5.2 -1.9-3.7z"/><path color="#be0000" d="M169.2 58.6l1.8-5.2 -1.7 .7 -1.7 5.4z"/><path color="#00ffc9" d="M142.1 145.1l1.8-4.3 -1.5 3.6 -1.8 3.9z"/><path color="#510000" d="M184.9 38.3l3.5 1.5 -3.3-2.6 -3.5-.7z"/><path color="#7cff00" d="M88 121.1l2 4.8 -1.4-4.3 -2-4.5z"/><path color="#14c395" d="M143.9 140.8l1.8-4.5 -1.5 4.1 -1.8 4z"/><path color="#ff8f00" d="M158.3 99.1l1.8-6.2 -1.6 3.8 -1.7 6.7z"/><path color="#5d00ff" d="M108.2 175.4l1.9 1.9 -1.5-4.1 -1.9-2.2z"/><path color="#14c348" d="M145.7 136.3l1.8-4.5 -1.6 4.4 -1.7 4.2z"/><path color="#00ffc0" d="M96.4 145.1l2 4.3 -1.5-5.2 -2-4.2z"/><path color="#7a00ea" d="M111.6 181l1.9 1 -1.5-3.4 -1.9-1.3z"/><path color="#0c00ff" d="M104.8 168.2l1.9 2.8 -1.5-4.7 -1.9-2.9z"/><path color="#ff4200" d="M160.1 92.9l1.8-6.2 -1.6 3.3 -1.8 6.7z"/><path color="#42c346" d="M147.5 131.8l1.7-4.8 -1.5 4.8 -1.8 4.4z"/><path color="#7900e8" d="M127.5 177.9l1.8-3 -1.5-.1 -1.8 2.8z"/><path color="#72c346" d="M149.2 127l1.8-4.9 -1.5 4.9 -1.8 4.8z"/><path color="#0052ff" d="M101.4 159.7l1.9 3.7 -1.5-5.1 -1.9-3.7z"/><path color="#7400d6" d="M125.6 180.6l1.9-2.7 -1.5-.3 -1.8 2.3z"/><path color="#8000fe" d="M129.3 174.9l1.8-3.4 -1.5 .3 -1.8 3z"/><path color="#00ff11" d="M92.9 135.2l2 4.8 -1.4-4.9 -2-4.6z"/><path color="#7000c9" d="M115 184.9l1.8 .1 -1.5-2.6 -1.8-.4z"/><path color="#ff0700" d="M161.9 86.7l1.8-6.2 -1.6 2.7 -1.8 6.8z"/><path color="#5c00ff" d="M131.1 171.5l1.8-3.7 -1.5 .7 -1.8 3.3z"/><path color="#96c346" d="M151 122.1l1.8-5.1 -1.5 5 -1.8 5z"/><path color="#3200ff" d="M132.9 167.8l1.8-3.9 -1.5 1 -1.8 3.6z"/><path color="#ff0500" d="M163.7 80.5l1.8-6 -1.7 2.1 -1.7 6.6z"/><path color="#540000" d="M181.4 40.4l3.5-2.1 -3.3-1.8 -3.5 2.7z"/><path color="#5eff00" d="M89.5 125.3l2 5.2 -1.5-4.6 -2-4.8z"/><path color="#00f6ff" d="M97.9 150.3l2 4.3 -1.5-5.2 -2-4.3z"/><path color="#0400ff" d="M134.7 163.9l1.8-4.1 -1.5 1.4 -1.8 3.7z"/><path color="#7f00fb" d="M109.7 179.4l1.9 1.6 -1.5-3.7 -1.9-1.9z"/><path color="#b1c346" d="M152.8 117l1.8-5.2 -1.6 4.9 -1.7 5.3z"/><path color="#3900ff" d="M106.3 172.8l1.9 2.6 -1.5-4.4 -1.9-2.8z"/><path color="#ff0200" d="M165.5 74.5l1.7-5.9 -1.6 1.6 -1.8 6.4z"/><path color="#0029ff" d="M136.5 159.8l1.7-4.3 -1.5 1.8 -1.7 3.9z"/><path color="#7300d3" d="M113.1 184.2l1.9 .7 -1.5-2.9 -1.9-1z"/><path color="#7e0000" d="M174.4 48.8l1.8-3.7 -1.7-.1 -1.8 3.9z"/><path color="#ffff00" d="M154.6 111.8l1.8-5.4 -1.6 4.7 -1.8 5.6z"/><path color="#fc0000" d="M167.2 68.6l1.8-5.5 -1.6 1.1 -1.8 6z"/><path color="#001eff" d="M102.8 164.7l2 3.5 -1.5-4.8 -1.9-3.7z"/><path color="#006eff" d="M138.2 155.5l1.8-4.4 -1.5 2.3 -1.8 3.9z"/><path color="#940000" d="M172.6 53.1l1.8-4.3 -1.7 .1 -1.7 4.5z"/><path color="#d90000" d="M169 63.1l1.8-5.2 -1.6 .7 -1.8 5.6z"/><path color="#b50000" d="M170.8 57.9l1.8-4.8 -1.6 .3 -1.8 5.2z"/><path color="#00ff5d" d="M94.4 140.1l2 5 -1.5-5.1 -2-4.8z"/><path color="#6e00c3" d="M123.5 185.4l3.6-4.7 -2.9-.8 -3.7 3.5z"/><path color="#ffc600" d="M156.4 106.4l1.7-5.6 -1.5 4.4 -1.8 5.9z"/><path color="#00caff" d="M140 151.1l1.8-4.5 -1.5 2.7 -1.8 4.1z"/><path color="#660000" d="M177.8 45.5l3.6-5.1 -3.3-1.2 -3.6 5.8z"/><path color="#00aaff" d="M99.4 155.4l2 4.3 -1.5-5.1 -2-4.3z"/><path color="#00ffd7" d="M141.8 146.6l1.8-4.6 -1.5 3.1 -1.8 4.2z"/><path color="#ff8d00" d="M158.1 100.8l1.8-5.7 -1.6 4 -1.7 6.1z"/><path color="#3bff00" d="M90.9 129.8l2 5.4 -1.4-4.7 -2-5.2z"/><path color="#6300ff" d="M107.8 177l1.9 2.4 -1.5-4 -1.9-2.6z"/><path color="#6800b4" d="M119.8 188.2l3.7-2.8 -3-2 -3.7 1.6z"/><path color="#7800e3" d="M111.2 182.9l1.9 1.3 -1.5-3.2 -1.9-1.6z"/><path color="#00ff73" d="M143.6 142l1.8-4.7 -1.5 3.5 -1.8 4.3z"/><path color="#ff4900" d="M159.9 95.1l1.8-5.6 -1.6 3.4 -1.8 6.2z"/><path color="#0d00ff" d="M104.3 169.4l2 3.4 -1.5-4.6 -2-3.5z"/><path color="#7400d7" d="M127.1 180.7l1.8-3 -1.4 .2 -1.9 2.7z"/><path color="#01ff00" d="M145.4 137.3l1.8-4.8 -1.5 3.8 -1.8 4.5z"/><path color="#7a00ec" d="M128.9 177.7l1.9-3.3 -1.5 .5 -1.8 3z"/><path color="#00ffa8" d="M95.9 145.2l2 5.1 -1.5-5.2 -2-5z"/><path color="#7900ff" d="M130.8 174.4l1.8-3.7 -1.5 .8 -1.8 3.4z"/><path color="#ff0800" d="M161.7 89.5l1.8-5.7 -1.6 2.9 -1.8 6.2z"/><path color="#48ff00" d="M147.2 132.5l1.8-4.9 -1.5 4.2 -1.8 4.5z"/><path color="#4f00ff" d="M132.6 170.7l1.8-3.9 -1.5 1 -1.8 3.7z"/><path color="#005dff" d="M100.9 160.4l1.9 4.3 -1.4-5 -2-4.3z"/><path color="#ff0600" d="M163.5 83.8l1.8-5.6 -1.6 2.3 -1.8 6.2z"/><path color="#590000" d="M188.3 40.9l3.5 1.9 -3.4-3 -3.5-1.5z"/><path color="#2100ff" d="M134.4 166.8l1.8-4.2 -1.5 1.3 -1.8 3.9z"/><path color="#7bc346" d="M149 127.6l1.8-5 -1.6 4.4 -1.7 4.8z"/><path color="#ff0300" d="M165.3 78.2l1.8-5.5 -1.6 1.8 -1.8 6z"/><path color="#7d0000" d="M176 49l1.8-3.5 -1.6-.4 -1.8 3.7z"/><path color="#13ff00" d="M92.4 134.4l2 5.7 -1.5-4.9 -2-5.4z"/><path color="#6a00b9" d="M116 188.7l3.8-.5 -3-3.2 -3.7-.8z"/><path color="#7e00f9" d="M109.3 180.8l1.9 2.1 -1.5-3.5 -1.9-2.4z"/><path color="#0010ff" d="M136.2 162.6l1.8-4.4 -1.5 1.6 -1.8 4.1z"/><path color="#9cc346" d="M150.8 122.6l1.8-5 -1.6 4.5 -1.8 4.9z"/><path color="#ff0100" d="M167.1 72.7l1.8-5.3 -1.7 1.2 -1.7 5.9z"/><path color="#910000" d="M174.2 53.1l1.8-4.1 -1.6-.2 -1.8 4.3z"/><path color="#3800ff" d="M105.8 173.9l2 3.1 -1.5-4.2 -2-3.4z"/><path color="#ef0000" d="M168.9 67.4l1.8-5.1 -1.7 .8 -1.8 5.5z"/><path color="#ae0000" d="M172.4 57.5l1.8-4.4 -1.6 0 -1.8 4.8z"/><path color="#cf0000" d="M170.7 62.3l1.7-4.8 -1.6 .4 -1.8 5.2z"/><path color="#7200cf" d="M112.7 185.8l1.9 1 -1.5-2.6 -1.9-1.3z"/><path color="#00ffef" d="M97.4 150.2l2 5.2 -1.5-5.1 -2-5.1z"/><path color="#b7c346" d="M152.6 117.6l1.8-5.1 -1.6 4.5 -1.8 5.1z"/><path color="#0043ff" d="M138 158.2l1.8-4.6 -1.6 1.9 -1.7 4.3z"/><path color="#0026ff" d="M102.4 165.3l1.9 4.1 -1.5-4.7 -1.9-4.3z"/><path color="#fff100" d="M154.4 112.5l1.8-5.2 -1.6 4.5 -1.8 5.2z"/><path color="#00a3ff" d="M139.8 153.6l1.8-4.7 -1.6 2.2 -1.8 4.4z"/><path color="#ffbb00" d="M156.2 107.3l1.7-5.2 -1.5 4.3 -1.8 5.4z"/><path color="#00fff7" d="M141.6 148.9l1.8-4.9 -1.6 2.6 -1.8 4.5z"/><path color="#00ff29" d="M93.9 139.3l2 5.9 -1.5-5.1 -2-5.7z"/><path color="#ff8500" d="M157.9 102.1l1.8-5.2 -1.6 3.9 -1.7 5.6z"/><path color="#590000" d="M184.7 42.6l3.6-1.7 -3.4-2.6 -3.5 2.1z"/><path color="#6000ff" d="M107.3 178l2 2.8 -1.5-3.8 -2-3.1z"/><path color="#00c5ff" d="M98.9 155.3l2 5.1 -1.5-5 -2-5.2z"/><path color="#7800e3" d="M110.8 184.1l1.9 1.7 -1.5-2.9 -1.9-2.1z"/><path color="#00ff91" d="M143.4 144l1.8-4.9 -1.6 2.9 -1.8 4.6z"/><path color="#7100cc" d="M126.8 182.9l1.8-2.8 -1.5 .6 -1.8 2.5z"/><path color="#7700de" d="M128.6 180.1l1.8-3.2 -1.5 .8 -1.8 3z"/><path color="#6b00bc" d="M125 185.2l1.8-2.3 -1.5 .3 -1.8 2.2z"/><path color="#ff4600" d="M159.7 96.9l1.8-5.2 -1.6 3.4 -1.8 5.7z"/><path color="#7d00f5" d="M130.4 176.9l1.9-3.5 -1.5 1 -1.9 3.3z"/><path color="#6800ff" d="M132.3 173.4l1.8-3.9 -1.5 1.2 -1.8 3.7z"/><path color="#0300ff" d="M103.9 169.9l1.9 4 -1.5-4.5 -1.9-4.1z"/><path color="#00ff14" d="M145.2 139.1l1.7-5 -1.5 3.2 -1.8 4.7z"/><path color="#ff0800" d="M161.5 91.7l1.8-5.2 -1.6 3 -1.8 5.6z"/><path color="#6d00c0" d="M114.2 188.1l1.8 .6 -1.4-1.9 -1.9-1z"/><path color="#7d0000" d="M177.7 49.6l1.8-3.3 -1.7-.8 -1.8 3.5z"/><path color="#ff0600" d="M163.3 86.5l1.8-5.2 -1.6 2.5 -1.8 5.7z"/><path color="#3b00ff" d="M134.1 169.5l1.8-4.1 -1.5 1.4 -1.8 3.9z"/><path color="#41ff00" d="M146.9 134.1l1.8-5.1 -1.5 3.5 -1.8 4.8z"/><path color="#900000" d="M175.9 53.4l1.8-3.8 -1.7-.6 -1.8 4.1z"/><path color="#ff0400" d="M165.1 81.3l1.8-5 -1.6 1.9 -1.8 5.6z"/><path color="#00ff78" d="M95.4 144.2l2 6 -1.5-5 -2-5.9z"/><path color="#0a00ff" d="M135.9 165.4l1.8-4.4 -1.5 1.6 -1.8 4.2z"/><path color="#ff0200" d="M166.9 76.3l1.8-4.9 -1.6 1.3 -1.8 5.5z"/><path color="#aa0000" d="M174.1 57.5l1.8-4.1 -1.7-.3 -1.8 4.4z"/><path color="#690000" d="M181.1 47.3l3.6-4.7 -3.3-2.2 -3.6 5.1z"/><path color="#ff0000" d="M168.7 71.4l1.8-4.8 -1.6 .8 -1.8 5.3z"/><path color="#c80000" d="M172.3 61.9l1.8-4.4 -1.7 0 -1.7 4.8z"/><path color="#e50000" d="M170.5 66.6l1.8-4.7 -1.6 .4 -1.8 5.1z"/><path color="#8eff00" d="M148.7 129l1.8-5 -1.5 3.6 -1.8 4.9z"/><path color="#007aff" d="M100.4 160.3l2 5 -1.5-4.9 -2-5.1z"/><path color="#0028ff" d="M137.7 161l1.8-4.6 -1.5 1.8 -1.8 4.4z"/><path color="#7f00fd" d="M108.8 181.6l2 2.5 -1.5-3.3 -2-2.8z"/><path color="#bfff00" d="M150.5 124l1.8-5.2 -1.5 3.8 -1.8 5z"/><path color="#2d00ff" d="M105.4 174.3l1.9 3.7 -1.5-4.1 -1.9-4z"/><path color="#7300d2" d="M112.2 186.8l2 1.3 -1.5-2.3 -1.9-1.7z"/><path color="#0075ff" d="M139.5 156.4l1.8-4.7 -1.5 1.9 -1.8 4.6z"/><path color="#6800b4" d="M122.7 188.3l3.7-3.9 -2.9 1 -3.7 2.8z"/><path color="#e6ff00" d="M152.3 118.8l1.8-5.1 -1.5 3.9 -1.8 5z"/><path color="#00ffc2" d="M96.9 149.3l2 6 -1.5-5.1 -2-6z"/><path color="#ffea00" d="M154.1 113.7l1.8-5.1 -1.5 3.9 -1.8 5.1z"/><path color="#00dbff" d="M141.3 151.7l1.8-5 -1.5 2.2 -1.8 4.7z"/><path color="#630000" d="M191.7 44.3l3.5 1.9 -3.4-3.4 -3.5-1.9z"/><path color="#0037ff" d="M101.9 165.1l2 4.8 -1.5-4.6 -2-5z"/><path color="#ffb300" d="M155.9 108.6l1.8-5 -1.5 3.7 -1.8 5.2z"/><path color="#00ffb9" d="M143.1 146.7l1.8-5 -1.5 2.3 -1.8 4.9z"/><path color="#6600ae" d="M119 190.3l3.7-2 -2.9-.1 -3.8 .5z"/><path color="#7500d8" d="M128.3 181.8l1.8-2.9 -1.5 1.2 -1.8 2.8z"/><path color="#ff7d00" d="M157.7 103.6l1.8-5 -1.6 3.5 -1.7 5.2z"/><path color="#7000c7" d="M126.4 184.4l1.9-2.6 -1.5 1.1 -1.8 2.3z"/><path color="#7f0000" d="M179.4 50.4l1.7-3.1 -1.6-1 -1.8 3.3z"/><path color="#7b00ec" d="M130.1 178.9l1.8-3.4 -1.5 1.4 -1.8 3.2z"/><path color="#ff3f00" d="M159.5 98.6l1.8-4.9 -1.6 3.2 -1.8 5.2z"/><path color="#7800ff" d="M131.9 175.5l1.9-3.6 -1.5 1.5 -1.9 3.5z"/><path color="#7a00e9" d="M110.3 184.7l1.9 2.1 -1.4-2.7 -2-2.5z"/><path color="#5400ff" d="M106.9 178.3l1.9 3.3 -1.5-3.6 -1.9-3.7z"/><path color="#910000" d="M177.6 54l1.8-3.6 -1.7-.8 -1.8 3.8z"/><path color="#00ff3f" d="M144.9 141.7l1.8-5.1 -1.5 2.5 -1.8 4.9z"/><path color="#ff0800" d="M161.3 93.7l1.8-4.8 -1.6 2.8 -1.8 5.2z"/><path color="#4e00ff" d="M133.8 171.9l1.8-4 -1.5 1.6 -1.8 3.9z"/><path color="#a90000" d="M175.8 57.9l1.8-3.9 -1.7-.6 -1.8 4.1z"/><path color="#00f3ff" d="M98.4 154.3l2 6 -1.5-5 -2-6z"/><path color="#ff0600" d="M163.1 88.9l1.8-4.8 -1.6 2.4 -1.8 5.2z"/><path color="#c40000" d="M174 62l1.8-4.1 -1.7-.4 -1.8 4.4z"/><path color="#ff0400" d="M164.9 84.1l1.8-4.6 -1.6 1.8 -1.8 5.2z"/><path color="#2aff00" d="M146.7 136.6l1.8-5.2 -1.6 2.7 -1.7 5z"/><path color="#2000ff" d="M135.6 167.9l1.8-4.2 -1.5 1.7 -1.8 4.1z"/><path color="#dd0000" d="M172.2 66.2l1.8-4.2 -1.7-.1 -1.8 4.7z"/><path color="#ff0300" d="M166.7 79.5l1.8-4.6 -1.6 1.4 -1.8 5z"/><path color="#f60000" d="M170.3 70.5l1.9-4.3 -1.7 .4 -1.8 4.8z"/><path color="#000eff" d="M103.4 169.8l2 4.5 -1.5-4.4 -2-4.8z"/><path color="#ff0100" d="M168.5 74.9l1.8-4.4 -1.6 .9 -1.8 4.9z"/><path color="#0012ff" d="M137.4 163.7l1.8-4.5 -1.5 1.8 -1.8 4.4z"/><path color="#7cff00" d="M148.5 131.4l1.8-5.2 -1.6 2.8 -1.8 5.1z"/><path color="#680000" d="M184.6 46.1l1.8-1.9 -1.7-1.6 -1.8 2.1z"/><path color="#630000" d="M188.1 45.9l3.6-1.6 -3.4-3.4 -3.6 1.7z"/><path color="#6c00be" d="M115.2 190.2l3.8 .1 -3-1.6 -3.8-1.9z"/><path color="#0049ff" d="M139.2 159.2l1.8-4.6 -1.5 1.8 -1.8 4.6z"/><path color="#b7ff00" d="M150.3 126.2l1.8-5.2 -1.6 3 -1.8 5z"/><path color="#740000" d="M182.8 48.6l1.8-2.5 -1.7-1.4 -1.8 2.6z"/><path color="#7600ff" d="M108.4 181.9l1.9 2.8 -1.5-3.1 -1.9-3.3z"/><path color="#00a8ff" d="M99.9 159.4l2 5.7 -1.5-4.8 -2-6z"/><path color="#e1ff00" d="M152.1 121l1.8-5.2 -1.6 3 -1.8 5.2z"/><path color="#00adff" d="M141 154.6l1.8-4.9 -1.5 2 -1.8 4.7z"/><path color="#7500d9" d="M111.8 187.3l1.9 1.5 -1.5-2 -1.9-2.1z"/><path color="#1b00ff" d="M104.9 174.2l2 4.1 -1.5-4 -2-4.5z"/><path color="#820000" d="M181 51.6l1.8-3 -1.7-1.3 -1.7 3.1z"/><path color="#ffee00" d="M153.9 115.8l1.8-5.1 -1.6 3 -1.8 5.1z"/><path color="#00ffe8" d="M142.8 149.7l1.8-5 -1.5 2 -1.8 5z"/><path color="#930000" d="M179.2 55l1.8-3.4 -1.6-1.2 -1.8 3.6z"/><path color="#ffb400" d="M155.7 110.7l1.8-5.1 -1.6 3 -1.8 5.1z"/><path color="#aa0000" d="M177.4 58.6l1.8-3.6 -1.6-1 -1.8 3.9z"/><path color="#ff7c00" d="M157.5 105.6l1.8-4.9 -1.6 2.9 -1.8 5z"/><path color="#7500d8" d="M127.9 183l1.9-2.8 -1.5 1.6 -1.9 2.6z"/><path color="#7a00ea" d="M129.8 180.2l1.8-3.1 -1.5 1.8 -1.8 2.9z"/><path color="#00ff77" d="M144.6 144.7l1.9-5.1 -1.6 2.1 -1.8 5z"/><path color="#7000c9" d="M126.1 185.4l1.8-2.4 -1.5 1.4 -1.8 2.2z"/><path color="#c20000" d="M175.6 62.4l1.8-3.8 -1.6-.7 -1.8 4.1z"/><path color="#7f00ff" d="M131.6 177.1l1.8-3.4 -1.5 1.8 -1.8 3.4z"/><path color="#005bff" d="M101.4 164.3l2 5.5 -1.5-4.7 -2-5.7z"/><path color="#ff3d00" d="M159.3 100.7l1.8-4.7 -1.6 2.6 -1.8 5z"/><path color="#d80000" d="M173.8 66.2l1.8-3.8 -1.6-.4 -1.8 4.2z"/><path color="#6c00bd" d="M124.2 187.4l1.9-2 -1.5 1.2 -1.9 1.7z"/><path color="#5900ff" d="M133.4 173.7l1.9-3.7 -1.5 1.9 -1.9 3.6z"/><path color="#ff0800" d="M161.1 96l1.9-4.6 -1.7 2.3 -1.8 4.9z"/><path color="#ee0000" d="M172 70.1l1.8-3.9 -1.6 0 -1.9 4.3z"/><path color="#6e0000" d="M186.3 47.8l1.8-1.9 -1.7-1.7 -1.8 1.9z"/><path color="#ff0600" d="M163 91.4l1.8-4.5 -1.7 2 -1.8 4.8z"/><path color="#0aff00" d="M146.5 139.6l1.8-5.2 -1.6 2.2 -1.8 5.1z"/><path color="#ff0000" d="M170.2 74.2l1.8-4.1 -1.7 .4 -1.8 4.4z"/><path color="#ff0500" d="M164.8 86.9l1.8-4.4 -1.7 1.6 -1.8 4.8z"/><path color="#ff0200" d="M168.4 78.3l1.8-4.1 -1.7 .7 -1.8 4.6z"/><path color="#ff0300" d="M166.6 82.5l1.8-4.2 -1.7 1.2 -1.8 4.6z"/><path color="#2e00ff" d="M135.3 170l1.8-4 -1.5 1.9 -1.8 4z"/><path color="#7c00f2" d="M109.9 185.1l1.9 2.2 -1.5-2.6 -1.9-2.8z"/><path color="#6900b6" d="M122.4 189l1.8-1.6 -1.5 .9 -1.8 1.3z"/><path color="#700000" d="M195.1 48.3l3.6 1.5 -3.5-3.6 -3.5-1.9z"/><path color="#4200ff" d="M106.4 178.3l2 3.6 -1.5-3.6 -2-4.1z"/><path color="#0002ff" d="M137.1 166l1.8-4.2 -1.5 1.9 -1.8 4.2z"/><path color="#5dff00" d="M148.3 134.4l1.8-5.3 -1.6 2.3 -1.8 5.2z"/><path color="#7a0000" d="M184.5 50.2l1.8-2.4 -1.7-1.7 -1.8 2.5z"/><path color="#6800b3" d="M120.5 190.1l1.9-1.1 -1.5 .6 -1.9 .7z"/><path color="#7200ce" d="M113.3 189.3l1.9 .9 -1.5-1.4 -1.9-1.5z"/><path color="#0032ff" d="M138.9 161.8l1.8-4.5 -1.5 1.9 -1.8 4.5z"/><path color="#a9ff00" d="M150.1 129.1l1.8-5.3 -1.6 2.4 -1.8 5.2z"/><path color="#0025ff" d="M102.9 169.2l2 5 -1.5-4.4 -2-5.5z"/><path color="#880000" d="M182.7 53.1l1.8-2.9 -1.7-1.6 -1.8 3z"/><path color="#0084ff" d="M140.7 157.3l1.9-4.6 -1.6 1.9 -1.8 4.6z"/><path color="#d4ff00" d="M151.9 123.8l1.8-5.2 -1.6 2.4 -1.8 5.2z"/><path color="#970000" d="M180.9 56.3l1.8-3.2 -1.7-1.5 -1.8 3.4z"/><path color="#ad0000" d="M179.1 59.7l1.8-3.4 -1.7-1.3 -1.8 3.6z"/><path color="#00e9ff" d="M142.6 152.7l1.8-4.9 -1.6 1.9 -1.8 4.9z"/><path color="#ffff00" d="M153.7 118.6l1.8-5.2 -1.6 2.4 -1.8 5.2z"/><path color="#6500ff" d="M107.9 182.1l2 3 -1.5-3.2 -2-3.6z"/><path color="#c30000" d="M177.3 63.2l1.8-3.5 -1.7-1.1 -1.8 3.8z"/><path color="#7800e2" d="M111.4 187.7l1.9 1.6 -1.5-2 -1.9-2.2z"/><path color="#ffc200" d="M155.5 113.4l1.8-5 -1.6 2.3 -1.8 5.1z"/><path color="#700000" d="M191.5 50l3.6-1.7 -3.4-4 -3.6 1.6z"/><path color="#760000" d="M188 49.7l1.8-1.8 -1.7-2 -1.8 1.9z"/><path color="#00ffac" d="M144.4 147.8l1.8-5 -1.6 1.9 -1.8 5z"/><path color="#d70000" d="M175.5 66.7l1.8-3.5 -1.7-.8 -1.8 3.8z"/><path color="#0400ff" d="M104.4 173.9l2 4.4 -1.5-4.1 -2-5z"/><path color="#ff8700" d="M157.3 108.4l1.8-5 -1.6 2.2 -1.8 5.1z"/><path color="#e90000" d="M173.7 70.3l1.8-3.6 -1.7-.5 -1.8 3.9z"/><path color="#fb0000" d="M171.9 74l1.8-3.7 -1.7-.2 -1.8 4.1z"/><path color="#ff4600" d="M159.1 103.4l1.9-4.7 -1.7 2 -1.8 4.9z"/><path color="#00ff2d" d="M146.2 142.8l1.8-5.1 -1.5 1.9 -1.9 5.1z"/><path color="#7b00ed" d="M129.4 181.1l1.9-2.9 -1.5 2 -1.9 2.8z"/><path color="#810000" d="M186.2 52.1l1.8-2.4 -1.7-1.9 -1.8 2.4z"/><path color="#ff0100" d="M170 77.8l1.9-3.8 -1.7 .2 -1.8 4.1z"/><path color="#7600dd" d="M127.6 183.7l1.8-2.6 -1.5 1.9 -1.8 2.4z"/><path color="#7d00ff" d="M131.3 178.2l1.8-3.2 -1.5 2.1 -1.8 3.1z"/><path color="#ff0a00" d="M161 98.7l1.8-4.5 -1.7 1.8 -1.8 4.7z"/><path color="#ff0200" d="M168.2 81.6l1.8-3.8 -1.6 .5 -1.8 4.2z"/><path color="#ff0600" d="M162.8 94.2l1.8-4.4 -1.6 1.6 -1.9 4.6z"/><path color="#5b00ff" d="M133.1 175l1.9-3.5 -1.6 2.2 -1.8 3.4z"/><path color="#7200d0" d="M125.7 185.9l1.9-2.2 -1.5 1.7 -1.9 2z"/><path color="#ff0300" d="M166.4 85.7l1.8-4.1 -1.6 .9 -1.8 4.4z"/><path color="#ff0500" d="M164.6 89.8l1.8-4.1 -1.6 1.2 -1.8 4.5z"/><path color="#6c00bd" d="M118.2 191.4l3.8-2 -3 .9 -3.8-.1z"/><path color="#3300ff" d="M135 171.5l1.8-3.7 -1.5 2.2 -1.9 3.7z"/><path color="#37ff00" d="M148 137.7l1.8-5.2 -1.5 1.9 -1.8 5.2z"/><path color="#6f00c6" d="M123.9 187.8l1.8-1.9 -1.5 1.5 -1.8 1.6z"/><path color="#8e0000" d="M184.4 54.8l1.8-2.7 -1.7-1.9 -1.8 2.9z"/><path color="#0800ff" d="M136.8 167.8l1.8-3.9 -1.5 2.1 -1.8 4z"/><path color="#6d00bf" d="M122 189.4l1.9-1.6 -1.5 1.2 -1.9 1.1z"/><path color="#7f00fc" d="M109.4 185.5l2 2.2 -1.5-2.6 -2-3z"/><path color="#8bff00" d="M149.8 132.5l1.9-5.2 -1.6 1.8 -1.8 5.3z"/><path color="#9f0000" d="M182.6 57.8l1.8-3 -1.7-1.7 -1.8 3.2z"/><path color="#0025ff" d="M138.6 163.9l1.9-4.2 -1.6 2.1 -1.8 4.2z"/><path color="#2e00ff" d="M105.9 178.3l2 3.8 -1.5-3.8 -2-4.4z"/><path color="#b30000" d="M180.8 61l1.8-3.2 -1.7-1.5 -1.8 3.4z"/><path color="#0067ff" d="M140.5 159.7l1.8-4.4 -1.6 2 -1.8 4.5z"/><path color="#c2ff00" d="M151.7 127.3l1.8-5.3 -1.6 1.8 -1.8 5.3z"/><path color="#c70000" d="M179 64.3l1.8-3.3 -1.7-1.3 -1.8 3.5z"/><path color="#7e0000" d="M189.7 51.8l1.8-1.8 -1.7-2.1 -1.8 1.8z"/><path color="#00c5ff" d="M142.3 155.3l1.8-4.6 -1.5 2 -1.9 4.6z"/><path color="#edff00" d="M153.5 122l1.8-5.1 -1.6 1.7 -1.8 5.2z"/><path color="#7f0000" d="M198.6 52.7l3.6 .8 -3.5-3.7 -3.6-1.5z"/><path color="#d80000" d="M177.2 67.6l1.8-3.3 -1.7-1.1 -1.8 3.5z"/><path color="#7200ce" d="M114.4 191.6l3.8-.2 -3-1.2 -3.8-2.5z"/><path color="#ffda00" d="M155.3 116.9l1.8-5.1 -1.6 1.6 -1.8 5.2z"/><path color="#e70000" d="M175.3 70.9l1.9-3.3 -1.7-.9 -1.8 3.6z"/><path color="#00ffd6" d="M144.1 150.7l1.9-4.7 -1.6 1.8 -1.8 4.9z"/><path color="#890000" d="M187.9 54.1l1.8-2.3 -1.7-2.1 -1.8 2.4z"/><path color="#f70000" d="M173.5 74.3l1.8-3.4 -1.6-.6 -1.8 3.7z"/><path color="#ff9d00" d="M157.1 111.8l1.8-5 -1.6 1.6 -1.8 5z"/><path color="#ff0000" d="M171.7 77.8l1.8-3.5 -1.6-.3 -1.9 3.8z"/><path color="#5600ff" d="M107.5 182.6l1.9 2.9 -1.5-3.4 -2-3.8z"/><path color="#00ff67" d="M146 146l1.8-4.9 -1.6 1.7 -1.8 5z"/><path color="#960000" d="M186.1 56.7l1.8-2.6 -1.7-2 -1.8 2.7z"/><path color="#ff5d00" d="M158.9 106.8l1.9-4.8 -1.7 1.4 -1.8 5z"/><path color="#7a00ea" d="M110.9 188.5l2 1.4 -1.5-2.2 -2-2.2z"/><path color="#ff0100" d="M169.9 81.4l1.8-3.6 -1.7 0 -1.8 3.8z"/><path color="#ff1c00" d="M160.8 102l1.8-4.5 -1.6 1.2 -1.9 4.7z"/><path color="#ff0300" d="M168.1 85.1l1.8-3.7 -1.7 .2 -1.8 4.1z"/><path color="#ff0700" d="M162.6 97.5l1.8-4.4 -1.6 1.1 -1.8 4.5z"/><path color="#ff0400" d="M166.2 89l1.9-3.9 -1.7 .6 -1.8 4.1z"/><path color="#ff0500" d="M164.4 93.1l1.8-4.1 -1.6 .8 -1.8 4.4z"/><path color="#11ff00" d="M147.8 141.1l1.8-5 -1.6 1.6 -1.8 5.1z"/><path color="#a80000" d="M184.3 59.6l1.8-2.9 -1.7-1.9 -1.8 3z"/><path color="#7400ff" d="M130.9 178.7l1.9-3 -1.5 2.5 -1.9 2.9z"/><path color="#6e0bf6" d="M129.1 181.5l1.8-2.8 -1.5 2.4 -1.8 2.6z"/><path color="#5400ff" d="M132.8 175.7l1.8-3.2 -1.5 2.5 -1.8 3.2z"/><path color="#6a0beb" d="M127.2 184l1.9-2.5 -1.5 2.2 -1.9 2.2z"/><path color="#bb0000" d="M182.5 62.6l1.8-3 -1.7-1.8 -1.8 3.2z"/><path color="#63ff00" d="M149.6 136.1l1.8-5.1 -1.6 1.5 -1.8 5.2z"/><path color="#3000ff" d="M134.6 172.5l1.9-3.4 -1.5 2.4 -1.9 3.5z"/><path color="#820000" d="M195 54.6l3.6-1.9 -3.5-4.4 -3.6 1.7z"/><path color="#680be2" d="M125.3 186.2l1.9-2.2 -1.5 1.9 -1.8 1.9z"/><path color="#880000" d="M191.5 54l1.8-1.7 -1.8-2.3 -1.8 1.8z"/><path color="#0900ff" d="M136.5 169.1l1.8-3.7 -1.5 2.4 -1.8 3.7z"/><path color="#cd0000" d="M180.7 65.7l1.8-3.1 -1.7-1.6 -1.8 3.3z"/><path color="#660bdc" d="M123.5 188.2l1.8-2 -1.4 1.6 -1.9 1.6z"/><path color="#acff00" d="M151.4 131l1.9-5.2 -1.6 1.5 -1.9 5.2z"/><path color="#0021ff" d="M138.3 165.4l1.9-3.9 -1.6 2.4 -1.8 3.9z"/><path color="#db0000" d="M178.9 68.8l1.8-3.1 -1.7-1.4 -1.8 3.3z"/><path color="#7a00ff" d="M109 186.5l1.9 2 -1.5-3 -1.9-2.9z"/><path color="#7000ca" d="M121.6 189.8l1.9-1.6 -1.5 1.2 -1.9 1.2z"/><path color="#0057ff" d="M140.2 161.5l1.8-4 -1.5 2.2 -1.9 4.2z"/><path color="#920000" d="M189.7 56.2l1.8-2.2 -1.8-2.2 -1.8 2.3z"/><path color="#d8ff00" d="M153.3 125.8l1.8-5.1 -1.6 1.3 -1.8 5.3z"/><path color="#e90000" d="M177 71.9l1.9-3.1 -1.7-1.2 -1.9 3.3z"/><path color="#00adff" d="M142 157.5l1.9-4.3 -1.6 2.1 -1.8 4.4z"/><path color="#7600db" d="M112.5 191.1l1.9 .5 -1.5-1.7 -2-1.4z"/><path color="#6f00c6" d="M119.7 191.2l1.9-1.4 -1.5 .8 -1.9 .8z"/><path color="#fff900" d="M155.1 120.7l1.8-5 -1.6 1.2 -1.8 5.1z"/><path color="#f60000" d="M175.2 75.1l1.8-3.2 -1.7-1 -1.8 3.4z"/><path color="#a10000" d="M187.8 58.8l1.9-2.6 -1.8-2.1 -1.8 2.6z"/><path color="#00fff5" d="M143.9 153.2l1.8-4.4 -1.6 1.9 -1.8 4.6z"/><path color="#ff0000" d="M173.4 78.3l1.8-3.2 -1.7-.8 -1.8 3.5z"/><path color="#ffbb00" d="M156.9 115.7l1.8-5 -1.6 1.1 -1.8 5.1z"/><path color="#b30000" d="M186 61.5l1.8-2.7 -1.7-2.1 -1.8 2.9z"/><path color="#ff0100" d="M171.6 81.7l1.8-3.4 -1.7-.5 -1.8 3.6z"/><path color="#00ff96" d="M145.7 148.8l1.8-4.6 -1.5 1.8 -1.9 4.7z"/><path color="#ff7f00" d="M158.7 110.7l1.9-4.8 -1.7 .9 -1.8 5z"/><path color="#ff0200" d="M169.7 85.2l1.9-3.5 -1.7-.3 -1.8 3.7z"/><path color="#ff3a00" d="M160.6 105.9l1.8-4.6 -1.6 .7 -1.9 4.8z"/><path color="#ff0300" d="M167.9 88.9l1.8-3.7 -1.6-.1 -1.9 3.9z"/><path color="#ff0800" d="M162.4 101.3l1.8-4.4 -1.6 .6 -1.8 4.5z"/><path color="#c40000" d="M184.2 64.4l1.8-2.9 -1.7-1.9 -1.8 3z"/><path color="#ff0400" d="M166.1 92.8l1.8-3.9 -1.7 .1 -1.8 4.1z"/><path color="#00ff1d" d="M147.5 144.2l1.9-4.7 -1.6 1.6 -1.8 4.9z"/><path color="#ff0600" d="M164.2 96.9l1.9-4.1 -1.7 .3 -1.8 4.4z"/><path color="#910000" d="M193.2 56.3l1.8-1.7 -1.7-2.3 -1.8 1.7z"/><path color="#7b00ec" d="M110.5 190.1l2 1 -1.6-2.6 -1.9-2z"/><path color="#8f0000" d="M202.1 57.1l3.6-.1 -3.5-3.5 -3.6-.8z"/><path color="#d40000" d="M182.4 67.4l1.8-3 -1.7-1.8 -1.8 3.1z"/><path color="#3cff00" d="M149.4 139.5l1.8-4.8 -1.6 1.4 -1.8 5z"/><path color="#9e0000" d="M191.4 58.5l1.8-2.2 -1.7-2.3 -1.8 2.2z"/><path color="#e10000" d="M180.6 70.3l1.8-2.9 -1.7-1.7 -1.8 3.1z"/><path color="#8cff00" d="M151.2 134.7l1.8-4.9 -1.6 1.2 -1.8 5.1z"/><path color="#ed0000" d="M178.7 73.3l1.9-3 -1.7-1.5 -1.9 3.1z"/><path color="#5c0bfe" d="M130.6 179l1.9-2.9 -1.6 2.6 -1.8 2.8z"/><path color="#470bfe" d="M132.5 176.1l1.8-3.1 -1.5 2.7 -1.9 3z"/><path color="#6f0bfe" d="M128.7 181.7l1.9-2.7 -1.5 2.5 -1.9 2.5z"/><path color="#c0ff00" d="M153 129.8l1.9-5 -1.6 1 -1.9 5.2z"/><path color="#2f0bfe" d="M134.3 173l1.9-3.2 -1.6 2.7 -1.8 3.2z"/><path color="#ad0000" d="M189.6 60.9l1.8-2.4 -1.7-2.3 -1.9 2.6z"/><path color="#6d0bf3" d="M126.9 184.2l1.8-2.5 -1.5 2.3 -1.9 2.2z"/><path color="#0200ff" d="M136.2 169.8l1.8-3.4 -1.5 2.7 -1.9 3.4z"/><path color="#7100ca" d="M117.4 193.8l3.8-3.2 -3 .8 -3.8 .2z"/><path color="#f80000" d="M176.9 76.3l1.8-3 -1.7-1.4 -1.8 3.2z"/><path color="#6a0bea" d="M125 186.5l1.9-2.3 -1.6 2 -1.8 2z"/><path color="#0023ff" d="M138 166.4l1.9-3.6 -1.6 2.6 -1.8 3.7z"/><path color="#ebff00" d="M154.9 124.8l1.8-4.9 -1.6 .8 -1.8 5.1z"/><path color="#0055ff" d="M139.9 162.8l1.8-3.7 -1.5 2.4 -1.9 3.9z"/><path color="#7500d9" d="M123.1 188.6l1.9-2.1 -1.5 1.7 -1.9 1.6z"/><path color="#be0000" d="M187.7 63.6l1.9-2.7 -1.8-2.1 -1.8 2.7z"/><path color="#ff0000" d="M175.1 79.3l1.8-3 -1.7-1.2 -1.8 3.2z"/><path color="#ffdf00" d="M156.7 119.9l1.8-4.9 -1.6 .7 -1.8 5z"/><path color="#00a3ff" d="M141.7 159.1l1.9-3.9 -1.6 2.3 -1.8 4z"/><path color="#7300d1" d="M121.2 190.6l1.9-2 -1.5 1.2 -1.9 1.4z"/><path color="#ff0100" d="M173.2 82.5l1.9-3.2 -1.7-1 -1.8 3.4z"/><path color="#960000" d="M198.5 59.3l3.6-2.2 -3.5-4.4 -3.6 1.9z"/><path color="#ce0000" d="M185.9 66.4l1.8-2.8 -1.7-2.1 -1.8 2.9z"/><path color="#ffa200" d="M158.5 115l1.9-4.7 -1.7 .4 -1.8 5z"/><path color="#00f6ff" d="M143.6 155.2l1.8-4 -1.5 2 -1.9 4.3z"/><path color="#9d0000" d="M194.9 58.7l1.9-1.7 -1.8-2.4 -1.8 1.7z"/><path color="#ff0200" d="M171.4 85.9l1.8-3.4 -1.6-.8 -1.9 3.5z"/><path color="#ff6300" d="M160.4 110.3l1.8-4.7 -1.6 .3 -1.9 4.8z"/><path color="#ff0300" d="M169.6 89.4l1.8-3.5 -1.7-.7 -1.8 3.7z"/><path color="#00ffb0" d="M145.4 151.2l1.9-4.2 -1.6 1.8 -1.8 4.4z"/><path color="#ff2100" d="M162.2 105.6l1.9-4.4 -1.7 .1 -1.8 4.6z"/><path color="#dc0000" d="M184.1 69.2l1.8-2.8 -1.7-2 -1.8 3z"/><path color="#ff0400" d="M167.7 93.1l1.9-3.7 -1.7-.5 -1.8 3.9z"/><path color="#ff0700" d="M164.1 101.2l1.8-4.2 -1.7-.1 -1.8 4.4z"/><path color="#ff0500" d="M165.9 97l1.8-3.9 -1.6-.3 -1.9 4.1z"/><path color="#7200d0" d="M113.6 196.2l3.8-2.4 -3-2.2 -3.9-1.5z"/><path color="#00ff48" d="M147.3 147l1.8-4.4 -1.6 1.6 -1.8 4.6z"/><path color="#ab0000" d="M193.1 60.8l1.8-2.1 -1.7-2.4 -1.8 2.2z"/><path color="#e80000" d="M182.3 72l1.8-2.8 -1.7-1.8 -1.8 2.9z"/><path color="#1bff00" d="M149.1 142.6l1.9-4.5 -1.6 1.4 -1.9 4.7z"/><path color="#f20000" d="M180.4 74.9l1.9-2.9 -1.7-1.7 -1.9 3z"/><path color="#ba0000" d="M191.3 63.2l1.8-2.4 -1.7-2.3 -1.8 2.4z"/><path color="#66ff00" d="M151 138.1l1.8-4.6 -1.6 1.2 -1.8 4.8z"/><path color="#fc0000" d="M178.6 77.8l1.8-2.9 -1.7-1.6 -1.8 3z"/><path color="#aaff00" d="M152.8 133.5l1.9-4.6 -1.7 .9 -1.8 4.9z"/><path color="#ca0000" d="M189.5 65.8l1.8-2.6 -1.7-2.3 -1.9 2.7z"/><path color="#ff0000" d="M176.8 80.7l1.8-2.9 -1.7-1.5 -1.8 3z"/><path color="#d3ff00" d="M154.7 128.9l1.8-4.7 -1.6 .6 -1.9 5z"/><path color="#ab0000" d="M196.7 61.1l1.8-1.8 -1.7-2.3 -1.9 1.7z"/><path color="#d80000" d="M187.6 68.5l1.9-2.7 -1.8-2.2 -1.8 2.8z"/><path color="#ff0100" d="M174.9 83.8l1.9-3.1 -1.7-1.4 -1.9 3.2z"/><path color="#fcff00" d="M156.5 124.2l1.8-4.7 -1.6 .4 -1.8 4.9z"/><path color="#ff0200" d="M173.1 87l1.8-3.2 -1.7-1.3 -1.8 3.4z"/><path color="#ffc900" d="M158.3 119.5l1.9-4.7 -1.7 .2 -1.8 4.9z"/><path color="#a20000" d="M205.7 61.4l3.6-1 -3.6-3.4 -3.6 .1z"/><path color="#3b0bfe" d="M132.1 176.2l1.9-3 -1.5 2.9 -1.9 2.9z"/><path color="#500bfe" d="M130.2 179.1l1.9-2.9 -1.5 2.8 -1.9 2.7z"/><path color="#240bfe" d="M134 173.2l1.9-3.1 -1.6 2.9 -1.8 3.1z"/><path color="#e50000" d="M185.8 71.2l1.8-2.7 -1.7-2.1 -1.8 2.8z"/><path color="#630bfe" d="M128.4 181.8l1.8-2.7 -1.5 2.6 -1.8 2.5z"/><path color="#1413fe" d="M135.9 170.1l1.8-3.2 -1.5 2.9 -1.9 3.2z"/><path color="#6f0bfa" d="M126.5 184.5l1.9-2.7 -1.5 2.4 -1.9 2.3z"/><path color="#ff0300" d="M171.3 90.3l1.8-3.3 -1.7-1.1 -1.8 3.5z"/><path color="#142bfe" d="M137.7 166.9l1.9-3.3 -1.6 2.8 -1.8 3.4z"/><path color="#ff8f00" d="M160.2 114.8l1.8-4.5 -1.6 0 -1.9 4.7z"/><path color="#b90000" d="M194.9 63.2l1.8-2.1 -1.8-2.4 -1.8 2.1z"/><path color="#7a00ec" d="M124.6 187.1l1.9-2.6 -1.5 2 -1.9 2.1z"/><path color="#005fff" d="M139.6 163.6l1.9-3.4 -1.6 2.6 -1.9 3.6z"/><path color="#ff0400" d="M169.4 93.9l1.9-3.6 -1.7-.9 -1.9 3.7z"/><path color="#ff4f00" d="M162 110.3l1.9-4.4 -1.7-.3 -1.8 4.7z"/><path color="#7700df" d="M122.7 189.6l1.9-2.5 -1.5 1.5 -1.9 2z"/><path color="#00a6ff" d="M141.5 160.2l1.8-3.6 -1.6 2.5 -1.8 3.7z"/><path color="#ff0500" d="M167.6 97.7l1.8-3.8 -1.7-.8 -1.8 3.9z"/><path color="#ff1000" d="M163.9 105.9l1.8-4.2 -1.6-.5 -1.9 4.4z"/><path color="#f00000" d="M184 74l1.8-2.8 -1.7-2 -1.8 2.8z"/><path color="#ff0600" d="M165.7 101.7l1.9-4 -1.7-.7 -1.8 4.2z"/><path color="#00f2ff" d="M143.3 156.6l1.9-3.6 -1.6 2.2 -1.9 3.9z"/><path color="#7300d4" d="M120.8 192l1.9-2.4 -1.5 1 -1.9 1.7z"/><path color="#00ffbe" d="M145.2 153l1.8-3.8 -1.6 2 -1.8 4z"/><path color="#c80000" d="M193 65.5l1.9-2.3 -1.8-2.4 -1.8 2.4z"/><path color="#7100ca" d="M118.9 194.3l1.9-2.3 -1.5 .3 -1.9 1.5z"/><path color="#fa0000" d="M182.1 76.7l1.9-2.7 -1.7-2 -1.9 2.9z"/><path color="#00ff63" d="M147 149.2l1.9-4 -1.6 1.8 -1.9 4.2z"/><path color="#04ff00" d="M148.9 145.2l1.8-4 -1.6 1.4 -1.8 4.4z"/><path color="#ff0000" d="M180.3 79.5l1.8-2.8 -1.7-1.8 -1.8 2.9z"/><path color="#d60000" d="M191.2 68l1.8-2.5 -1.7-2.3 -1.8 2.6z"/><path color="#47ff00" d="M150.7 141.2l1.9-4.2 -1.6 1.1 -1.9 4.5z"/><path color="#ff0100" d="M178.5 82.4l1.8-2.9 -1.7-1.7 -1.8 2.9z"/><path color="#af0000" d="M202.1 63.9l3.6-2.5 -3.6-4.3 -3.6 2.2z"/><path color="#b90000" d="M198.5 63.4l1.8-1.7 -1.8-2.4 -1.8 1.8z"/><path color="#8eff00" d="M152.6 137l1.8-4.3 -1.6 .8 -1.8 4.6z"/><path color="#e30000" d="M189.4 70.6l1.8-2.6 -1.7-2.2 -1.9 2.7z"/><path color="#ff0100" d="M176.6 85.4l1.9-3 -1.7-1.7 -1.9 3.1z"/><path color="#bdff00" d="M154.4 132.7l1.9-4.4 -1.6 .6 -1.9 4.6z"/><path color="#ef0000" d="M187.6 73.3l1.8-2.7 -1.8-2.1 -1.8 2.7z"/><path color="#e3ff00" d="M156.3 128.3l1.8-4.4 -1.6 .3 -1.8 4.7z"/><path color="#ff0200" d="M174.8 88.5l1.8-3.1 -1.7-1.6 -1.8 3.2z"/><path color="#c60000" d="M196.6 65.5l1.9-2.1 -1.8-2.3 -1.8 2.1z"/><path color="#ffef00" d="M158.1 123.9l1.9-4.4 -1.7 0 -1.8 4.7z"/><path color="#ff0300" d="M172.9 91.8l1.9-3.3 -1.7-1.5 -1.8 3.3z"/><path color="#6b00bc" d="M116.7 200.6l3.7-6.3 -3-.5 -3.8 2.4z"/><path color="#ffb700" d="M160 119.5l1.8-4.4 -1.6-.3 -1.9 4.7z"/><path color="#f90000" d="M185.7 76l1.9-2.7 -1.8-2.1 -1.8 2.8z"/><path color="#ff0400" d="M171.1 95.2l1.8-3.4 -1.6-1.5 -1.9 3.6z"/><path color="#ff8000" d="M161.8 115.1l1.9-4.3 -1.7-.5 -1.8 4.5z"/><path color="#ff0500" d="M169.2 98.8l1.9-3.6 -1.7-1.3 -1.8 3.8z"/><path color="#ff4100" d="M163.7 110.8l1.8-4.2 -1.6-.7 -1.9 4.4z"/><path color="#d40000" d="M194.8 67.8l1.8-2.3 -1.7-2.3 -1.9 2.3z"/><path color="#ff0600" d="M167.4 102.6l1.8-3.8 -1.6-1.1 -1.9 4z"/><path color="#ff0800" d="M165.5 106.6l1.9-4 -1.7-.9 -1.8 4.2z"/><path color="#ff0000" d="M183.9 78.7l1.8-2.7 -1.7-2 -1.9 2.7z"/><path color="#e10000" d="M193 70.2l1.8-2.4 -1.8-2.3 -1.8 2.5z"/><path color="#ff0100" d="M182 81.5l1.9-2.8 -1.8-2 -1.8 2.8z"/><path color="#450bfe" d="M129.9 179.2l1.9-3 -1.6 2.9 -1.8 2.7z"/><path color="#590bfe" d="M128 182.2l1.9-3 -1.5 2.6 -1.9 2.7z"/><path color="#2f0bfe" d="M131.8 176.2l1.9-3 -1.6 3 -1.9 2.9z"/><path color="#7c00ff" d="M126.1 185.2l1.9-3 -1.5 2.3 -1.9 2.6z"/><path color="#180bfe" d="M133.7 173.2l1.8-3 -1.5 3 -1.9 3z"/><path color="#7c00f1" d="M124.2 188.2l1.9-3 -1.5 1.9 -1.9 2.5z"/><path color="#7700e0" d="M122.3 191.2l1.9-3 -1.5 1.4 -1.9 2.4z"/><path color="#141efe" d="M135.5 170.2l1.9-3.1 -1.5 3 -1.9 3.1z"/><path color="#7200d0" d="M120.4 194.3l1.9-3.1 -1.5 .8 -1.9 2.3z"/><path color="#1435fe" d="M137.4 167.1l1.9-3.1 -1.6 2.9 -1.8 3.2z"/><path color="#145efe" d="M139.3 164l1.9-3.2 -1.6 2.8 -1.9 3.3z"/><path color="#00b5ff" d="M141.2 160.8l1.8-3.3 -1.5 2.7 -1.9 3.4z"/><path color="#ff0100" d="M180.2 84.4l1.8-2.9 -1.7-2 -1.8 2.9z"/><path color="#c60000" d="M200.2 65.7l1.9-1.8 -1.8-2.2 -1.8 1.7z"/><path color="#00faff" d="M143 157.5l1.9-3.3 -1.6 2.4 -1.8 3.6z"/><path color="#ed0000" d="M191.1 72.8l1.9-2.6 -1.8-2.2 -1.8 2.6z"/><path color="#00ffbe" d="M144.9 154.2l1.9-3.4 -1.6 2.2 -1.9 3.6z"/><path color="#00ff6e" d="M146.8 150.8l1.8-3.5 -1.6 1.9 -1.8 3.8z"/><path color="#ff0200" d="M178.3 87.3l1.9-2.9 -1.7-2 -1.9 3z"/><path color="#00ff0f" d="M148.6 147.3l1.9-3.7 -1.6 1.6 -1.9 4z"/><path color="#32ff00" d="M150.5 143.6l1.9-3.7 -1.7 1.3 -1.8 4z"/><path color="#f90000" d="M189.3 75.5l1.8-2.7 -1.7-2.2 -1.8 2.7z"/><path color="#b40000" d="M209.3 65.2l3.6-1.8 -3.6-3 -3.6 1z"/><path color="#d20000" d="M198.4 67.7l1.8-2 -1.7-2.3 -1.9 2.1z"/><path color="#71ff00" d="M152.4 139.9l1.8-3.9 -1.6 1 -1.9 4.2z"/><path color="#ff0200" d="M176.5 90.4l1.8-3.1 -1.7-1.9 -1.8 3.1z"/><path color="#aaff00" d="M154.2 136l1.9-3.9 -1.7 .6 -1.8 4.3z"/><path color="#ff0300" d="M174.6 93.5l1.9-3.1 -1.7-1.9 -1.9 3.3z"/><path color="#ff0000" d="M187.5 78.1l1.8-2.6 -1.7-2.2 -1.9 2.7z"/><path color="#ceff00" d="M156.1 132.1l1.8-4.1 -1.6 .3 -1.9 4.4z"/><path color="#f2ff00" d="M157.9 128l1.9-4.1 -1.7 0 -1.8 4.4z"/><path color="#ff0400" d="M172.8 96.8l1.8-3.3 -1.7-1.7 -1.8 3.4z"/><path color="#df0000" d="M196.6 70l1.8-2.3 -1.8-2.2 -1.8 2.3z"/><path color="#ffdd00" d="M159.8 123.9l1.9-4.1 -1.7-.3 -1.9 4.4z"/><path color="#ff0500" d="M170.9 100.3l1.9-3.5 -1.7-1.6 -1.9 3.6z"/><path color="#ff0100" d="M185.6 80.9l1.9-2.8 -1.8-2.1 -1.8 2.7z"/><path color="#ffa900" d="M161.7 119.8l1.8-4.1 -1.7-.6 -1.8 4.4z"/><path color="#ff0600" d="M169.1 104l1.8-3.7 -1.7-1.5 -1.8 3.8z"/><path color="#ff7400" d="M163.5 115.7l1.9-4 -1.7-.9 -1.9 4.3z"/><path color="#ff0800" d="M167.2 107.8l1.9-3.8 -1.7-1.4 -1.9 4z"/><path color="#ff3900" d="M165.4 111.7l1.8-3.9 -1.7-1.2 -1.8 4.2z"/><path color="#ec0000" d="M194.7 72.4l1.9-2.4 -1.8-2.2 -1.8 2.4z"/><path color="#ff0100" d="M183.8 83.6l1.8-2.7 -1.7-2.2 -1.9 2.8z"/><path color="#d20000" d="M202 67.9l1.9-1.8 -1.8-2.2 -1.9 1.8z"/><path color="#c60000" d="M205.7 68.1l3.6-2.9 -3.6-3.8 -3.6 2.5z"/><path color="#ff0200" d="M181.9 86.5l1.9-2.9 -1.8-2.1 -1.8 2.9z"/><path color="#f80000" d="M192.9 75l1.8-2.6 -1.7-2.2 -1.9 2.6z"/><path color="#6400ab" d="M118.2 202l1.9-4.1 -1.6-.5 -1.8 3.2z"/><path color="#ff0200" d="M180.1 89.4l1.8-2.9 -1.7-2.1 -1.9 2.9z"/><path color="#6e00c3" d="M120.1 197.9l1.9-4 -1.6 .4 -1.9 3.1z"/><path color="#ff0000" d="M191 77.6l1.9-2.6 -1.8-2.2 -1.8 2.7z"/><path color="#dd0000" d="M200.2 69.9l1.8-2 -1.8-2.2 -1.8 2z"/><path color="#7500d9" d="M122 193.9l1.9-3.7 -1.6 1 -1.9 3.1z"/><path color="#ff0300" d="M178.2 92.4l1.9-3 -1.8-2.1 -1.8 3.1z"/><path color="#7b00ef" d="M123.9 190.2l1.8-3.6 -1.5 1.6 -1.9 3z"/><path color="#ff0400" d="M176.4 95.6l1.8-3.2 -1.7-2 -1.9 3.1z"/><path color="#ff0100" d="M189.2 80.3l1.8-2.7 -1.7-2.1 -1.8 2.6z"/><path color="#7800ff" d="M125.7 186.6l1.9-3.5 -1.5 2.1 -1.9 3z"/><path color="#5800ff" d="M127.6 183.1l1.9-3.4 -1.5 2.5 -1.9 3z"/><path color="#ea0000" d="M198.4 72.1l1.8-2.2 -1.8-2.2 -1.8 2.3z"/><path color="#ff0400" d="M174.5 98.8l1.9-3.2 -1.8-2.1 -1.8 3.3z"/><path color="#3b0bfe" d="M129.5 179.7l1.9-3.2 -1.5 2.7 -1.9 3z"/><path color="#240bfe" d="M131.4 176.5l1.9-3.2 -1.5 2.9 -1.9 3z"/><path color="#1413fe" d="M133.3 173.3l1.9-3.1 -1.5 3 -1.9 3z"/><path color="#00ffb3" d="M144.6 155l1.9-3.1 -1.6 2.3 -1.9 3.3z"/><path color="#00ff6a" d="M146.5 151.9l1.9-3.1 -1.6 2 -1.9 3.4z"/><path color="#00fff4" d="M142.7 158l1.9-3 -1.6 2.5 -1.8 3.3z"/><path color="#1429fe" d="M135.2 170.2l1.9-3.1 -1.6 3.1 -1.8 3z"/><path color="#00ff16" d="M148.4 148.8l1.9-3.2 -1.7 1.7 -1.8 3.5z"/><path color="#149dfe" d="M140.9 161.1l1.8-3.1 -1.5 2.8 -1.9 3.2z"/><path color="#1471fe" d="M139 164.1l1.9-3 -1.6 2.9 -1.9 3.1z"/><path color="#1446fe" d="M137.1 167.1l1.9-3 -1.6 3 -1.9 3.1z"/><path color="#28ff00" d="M150.3 145.6l1.8-3.3 -1.6 1.3 -1.9 3.7z"/><path color="#ff0100" d="M187.4 83l1.8-2.7 -1.7-2.2 -1.9 2.8z"/><path color="#5fff00" d="M152.1 142.3l1.9-3.4 -1.6 1 -1.9 3.7z"/><path color="#ff0500" d="M172.6 102.2l1.9-3.4 -1.7-2 -1.9 3.5z"/><path color="#9aff00" d="M154 138.9l1.9-3.6 -1.7 .7 -1.8 3.9z"/><path color="#bdff00" d="M155.9 135.3l1.8-3.6 -1.6 .4 -1.9 3.9z"/><path color="#ff0700" d="M170.8 105.6l1.8-3.4 -1.7-1.9 -1.8 3.7z"/><path color="#ddff00" d="M157.7 131.7l1.9-3.7 -1.7 0 -1.8 4.1z"/><path color="#ffff00" d="M159.6 128l1.9-3.8 -1.7-.3 -1.9 4.1z"/><path color="#ff0800" d="M168.9 109.2l1.9-3.6 -1.7-1.6 -1.9 3.8z"/><path color="#ffcf00" d="M161.5 124.2l1.8-3.7 -1.6-.7 -1.9 4.1z"/><path color="#f60000" d="M196.5 74.5l1.9-2.4 -1.8-2.1 -1.9 2.4z"/><path color="#ff3700" d="M167.1 112.9l1.8-3.7 -1.7-1.4 -1.8 3.9z"/><path color="#ff9f00" d="M163.3 120.5l1.9-3.8 -1.7-1 -1.8 4.1z"/><path color="#ff6d00" d="M165.2 116.7l1.9-3.8 -1.7-1.2 -1.9 4z"/><path color="#ff0200" d="M185.5 85.8l1.9-2.8 -1.8-2.1 -1.8 2.7z"/><path color="#dc0000" d="M203.8 69.9l1.9-1.8 -1.8-2 -1.9 1.8z"/><path color="#ff0200" d="M183.6 88.7l1.9-2.9 -1.7-2.2 -1.9 2.9z"/><path color="#ff0000" d="M194.7 77.1l1.8-2.6 -1.8-2.1 -1.8 2.6z"/><path color="#ff0300" d="M181.8 91.7l1.8-3 -1.7-2.2 -1.8 2.9z"/><path color="#ff0100" d="M192.8 79.7l1.9-2.6 -1.8-2.1 -1.9 2.6z"/><path color="#6400aa" d="M119.7 202.8l1.9-5 -1.5 .1 -1.9 4.1z"/><path color="#e70000" d="M202 71.9l1.8-2 -1.8-2 -1.8 2z"/><path color="#ff0300" d="M179.9 94.7l1.9-3 -1.7-2.3 -1.9 3z"/><path color="#c20000" d="M213 68.3l3.6-2.4 -3.7-2.5 -3.6 1.8z"/><path color="#ff0400" d="M178.1 97.8l1.8-3.1 -1.7-2.3 -1.8 3.2z"/><path color="#ff0200" d="M191 82.4l1.8-2.7 -1.8-2.1 -1.8 2.7z"/><path color="#7000ca" d="M121.6 197.8l1.9-4.6 -1.5 .7 -1.9 4z"/><path color="#f40000" d="M200.1 74.1l1.9-2.2 -1.8-2 -1.8 2.2z"/><path color="#ff0500" d="M176.2 101l1.9-3.2 -1.7-2.2 -1.9 3.2z"/><path color="#ff0200" d="M189.1 85.2l1.9-2.8 -1.8-2.1 -1.8 2.7z"/><path color="#ff0600" d="M174.4 104.2l1.8-3.2 -1.7-2.2 -1.9 3.4z"/><path color="#7900e6" d="M123.5 193.2l1.9-4.4 -1.5 1.4 -1.9 3.7z"/><path color="#ff0700" d="M172.5 107.6l1.9-3.4 -1.8-2 -1.8 3.4z"/><path color="#ff0000" d="M198.3 76.5l1.8-2.4 -1.7-2 -1.9 2.4z"/><path color="#ff0c00" d="M170.6 111l1.9-3.4 -1.7-2 -1.9 3.6z"/><path color="#ff0300" d="M187.3 88.1l1.8-2.9 -1.7-2.2 -1.9 2.8z"/><path color="#ff3900" d="M168.8 114.4l1.8-3.4 -1.7-1.8 -1.8 3.7z"/><path color="#ff6a00" d="M166.9 117.9l1.9-3.5 -1.7-1.5 -1.9 3.8z"/><path color="#7d00ff" d="M125.4 188.8l1.9-4.1 -1.6 1.9 -1.8 3.6z"/><path color="#ff9800" d="M165 121.4l1.9-3.5 -1.7-1.2 -1.9 3.8z"/><path color="#ffc400" d="M163.1 124.9l1.9-3.5 -1.7-.9 -1.8 3.7z"/><path color="#fff000" d="M161.3 128.3l1.8-3.4 -1.6-.7 -1.9 3.8z"/><path color="#ebff00" d="M159.4 131.6l1.9-3.3 -1.7-.3 -1.9 3.7z"/><path color="#ff0300" d="M185.4 91l1.9-2.9 -1.8-2.3 -1.9 2.9z"/><path color="#cdff00" d="M157.5 134.9l1.9-3.3 -1.7 .1 -1.8 3.6z"/><path color="#b0ff00" d="M155.6 138.1l1.9-3.2 -1.6 .4 -1.9 3.6z"/><path color="#8aff00" d="M153.8 141.1l1.8-3 -1.6 .8 -1.9 3.4z"/><path color="#ff0100" d="M196.4 79l1.9-2.5 -1.8-2 -1.8 2.6z"/><path color="#d70000" d="M209.3 71.4l3.7-3.1 -3.7-3.1 -3.6 2.9z"/><path color="#5600ff" d="M127.3 184.7l1.9-3.9 -1.6 2.3 -1.9 3.5z"/><path color="#57ff00" d="M151.9 144.1l1.9-3 -1.7 1.2 -1.8 3.3z"/><path color="#26ff00" d="M150 147l1.9-2.9 -1.6 1.5 -1.9 3.2z"/><path color="#00ff0f" d="M148.1 149.8l1.9-2.8 -1.6 1.8 -1.9 3.1z"/><path color="#ff0400" d="M183.5 94l1.9-3 -1.8-2.3 -1.8 3z"/><path color="#3000ff" d="M129.2 180.8l1.9-3.6 -1.6 2.5 -1.9 3.4z"/><path color="#00ff5b" d="M146.2 152.6l1.9-2.8 -1.6 2.1 -1.9 3.1z"/><path color="#00ffa1" d="M144.3 155.5l1.9-2.9 -1.6 2.4 -1.9 3z"/><path color="#0b00ff" d="M131.1 177.2l1.9-3.5 -1.6 2.8 -1.9 3.2z"/><path color="#ff0100" d="M194.6 81.7l1.8-2.7 -1.7-1.9 -1.9 2.6z"/><path color="#14c3e5" d="M142.4 158.3l1.9-2.8 -1.6 2.5 -1.8 3.1z"/><path color="#141cfe" d="M133 173.7l1.9-3.3 -1.6 2.9 -1.9 3.2z"/><path color="#14b0fe" d="M140.6 161.2l1.8-2.9 -1.5 2.8 -1.9 3z"/><path color="#ff0400" d="M181.7 97l1.8-3 -1.7-2.3 -1.9 3z"/><path color="#1434fe" d="M134.9 170.4l1.9-3.2 -1.6 3 -1.9 3.1z"/><path color="#1485fe" d="M138.7 164.1l1.9-2.9 -1.6 2.9 -1.9 3z"/><path color="#145bfe" d="M136.8 167.2l1.9-3.1 -1.6 3 -1.9 3.1z"/><path color="#ff0500" d="M179.8 100.1l1.9-3.1 -1.8-2.3 -1.8 3.1z"/><path color="#ff0200" d="M192.7 84.4l1.9-2.7 -1.8-2 -1.8 2.7z"/><path color="#ff0500" d="M177.9 103.3l1.9-3.2 -1.7-2.3 -1.9 3.2z"/><path color="#6600ae" d="M121.3 203l1.9-5.7 -1.6 .5 -1.9 5z"/><path color="#fc0000" d="M201.9 75.9l1.9-2.2 -1.8-1.8 -1.9 2.2z"/><path color="#ff0300" d="M190.9 87.3l1.8-2.9 -1.7-2 -1.9 2.8z"/><path color="#ff0600" d="M176.1 106.5l1.8-3.2 -1.7-2.3 -1.8 3.2z"/><path color="#ee0000" d="M205.6 75.3l3.7-3.9 -3.6-3.3 -3.7 3.8z"/><path color="#ff0700" d="M174.2 109.7l1.9-3.2 -1.7-2.3 -1.9 3.4z"/><path color="#ff0300" d="M189 90.2l1.9-2.9 -1.8-2.1 -1.8 2.9z"/><path color="#ff0100" d="M200.1 78.3l1.8-2.4 -1.8-1.8 -1.8 2.4z"/><path color="#ff1500" d="M172.3 112.9l1.9-3.2 -1.7-2.1 -1.9 3.4z"/><path color="#ff3e00" d="M170.5 116.2l1.8-3.3 -1.7-1.9 -1.8 3.4z"/><path color="#7300d4" d="M123.2 197.3l1.8-5.2 -1.5 1.1 -1.9 4.6z"/><path color="#ff6a00" d="M168.6 119.4l1.9-3.2 -1.7-1.8 -1.9 3.5z"/><path color="#ff0400" d="M187.2 93.2l1.8-3 -1.7-2.1 -1.9 2.9z"/><path color="#ff9400" d="M166.7 122.6l1.9-3.2 -1.7-1.5 -1.9 3.5z"/><path color="#ff0100" d="M198.2 80.8l1.9-2.5 -1.8-1.8 -1.9 2.5z"/><path color="#ffbb00" d="M164.8 125.8l1.9-3.2 -1.7-1.2 -1.9 3.5z"/><path color="#ff0400" d="M185.3 96.3l1.9-3.1 -1.8-2.2 -1.9 3z"/><path color="#ffe300" d="M163 128.8l1.8-3 -1.7-.9 -1.8 3.4z"/><path color="#f7ff00" d="M161.1 131.9l1.9-3.1 -1.7-.5 -1.9 3.3z"/><path color="#7d00f5" d="M125 192.1l1.9-4.9 -1.5 1.6 -1.9 4.4z"/><path color="#dcff00" d="M159.2 134.8l1.9-2.9 -1.7-.3 -1.9 3.3z"/><path color="#ff0200" d="M196.4 83.5l1.8-2.7 -1.8-1.8 -1.8 2.7z"/><path color="#ff0500" d="M183.4 99.4l1.9-3.1 -1.8-2.3 -1.8 3z"/><path color="#c2ff00" d="M157.3 137.6l1.9-2.8 -1.7 .1 -1.9 3.2z"/><path color="#a9ff00" d="M155.4 140.3l1.9-2.7 -1.7 .5 -1.8 3z"/><path color="#ff0500" d="M181.6 102.5l1.8-3.1 -1.7-2.4 -1.9 3.1z"/><path color="#ff0300" d="M194.5 86.3l1.9-2.8 -1.8-1.8 -1.9 2.7z"/><path color="#83ff00" d="M153.5 142.9l1.9-2.6 -1.6 .8 -1.9 3z"/><path color="#5f00ff" d="M126.9 187.2l1.9-4.6 -1.5 2.1 -1.9 4.1z"/><path color="#ca0000" d="M216.7 70.3l3.7-2.5 -3.8-1.9 -3.6 2.4z"/><path color="#ff0600" d="M179.7 105.6l1.9-3.1 -1.8-2.4 -1.9 3.2z"/><path color="#56ff00" d="M151.6 145.5l1.9-2.6 -1.6 1.2 -1.9 2.9z"/><path color="#ff0000" d="M203.8 77.5l1.8-2.2 -1.8-1.6 -1.9 2.2z"/><path color="#ff0700" d="M177.8 108.8l1.9-3.2 -1.8-2.3 -1.8 3.2z"/><path color="#2bff00" d="M149.8 148l1.8-2.5 -1.6 1.5 -1.9 2.8z"/><path color="#ff0300" d="M192.7 89.3l1.8-3 -1.8-1.9 -1.8 2.9z"/><path color="#3200ff" d="M128.8 182.6l1.9-4.2 -1.5 2.4 -1.9 3.9z"/><path color="#00ff00" d="M147.9 150.5l1.9-2.5 -1.7 1.8 -1.9 2.8z"/><path color="#ff0800" d="M175.9 111.9l1.9-3.1 -1.7-2.3 -1.9 3.2z"/><path color="#00ff45" d="M146 153.1l1.9-2.6 -1.7 2.1 -1.9 2.9z"/><path color="#0700ff" d="M130.7 178.4l1.9-3.9 -1.5 2.7 -1.9 3.6z"/><path color="#ff0400" d="M190.8 92.3l1.9-3 -1.8-2 -1.9 2.9z"/><path color="#ff2100" d="M174.1 115l1.8-3.1 -1.7-2.2 -1.9 3.2z"/><path color="#ff0100" d="M201.9 79.9l1.9-2.4 -1.9-1.6 -1.8 2.4z"/><path color="#14c3a9" d="M144.1 155.7l1.9-2.6 -1.7 2.4 -1.9 2.8z"/><path color="#001fff" d="M132.6 174.5l1.9-3.6 -1.5 2.8 -1.9 3.5z"/><path color="#ff4500" d="M172.2 118l1.9-3 -1.8-2.1 -1.8 3.3z"/><path color="#14c3d3" d="M142.2 158.5l1.9-2.8 -1.7 2.6 -1.8 2.9z"/><path color="#6a00b8" d="M122.8 202.6l1.9-6.3 -1.5 1 -1.9 5.7z"/><path color="#143efe" d="M134.5 170.9l1.9-3.4 -1.5 2.9 -1.9 3.3z"/><path color="#ff0400" d="M188.9 95.3l1.9-3 -1.8-2.1 -1.8 3z"/><path color="#14c3fd" d="M140.2 161.3l2-2.8 -1.6 2.7 -1.9 2.9z"/><path color="#146cfe" d="M136.4 167.5l1.9-3.2 -1.5 2.9 -1.9 3.2z"/><path color="#1498fe" d="M138.3 164.3l1.9-3 -1.5 2.8 -1.9 3.1z"/><path color="#ff6d00" d="M170.3 121l1.9-3 -1.7-1.8 -1.9 3.2z"/><path color="#ff0200" d="M200 82.4l1.9-2.5 -1.8-1.6 -1.9 2.5z"/><path color="#ff9200" d="M168.4 124l1.9-3 -1.7-1.6 -1.9 3.2z"/><path color="#ff0500" d="M187 98.5l1.9-3.2 -1.7-2.1 -1.9 3.1z"/><path color="#e00000" d="M213 73.6l3.7-3.3 -3.7-2 -3.7 3.1z"/><path color="#ffb500" d="M166.5 126.9l1.9-2.9 -1.7-1.4 -1.9 3.2z"/><path color="#ff0500" d="M185.2 101.6l1.8-3.1 -1.7-2.2 -1.9 3.1z"/><path color="#ffd800" d="M164.7 129.7l1.8-2.8 -1.7-1.1 -1.8 3z"/><path color="#ff0200" d="M198.2 85.2l1.8-2.8 -1.8-1.6 -1.8 2.7z"/><path color="#ff0600" d="M183.3 104.8l1.9-3.2 -1.8-2.2 -1.8 3.1z"/><path color="#fffc00" d="M162.8 132.4l1.9-2.7 -1.7-.9 -1.9 3.1z"/><path color="#7800e2" d="M124.7 196.3l1.9-5.7 -1.6 1.5 -1.8 5.2z"/><path color="#e9ff00" d="M160.9 135l1.9-2.6 -1.7-.5 -1.9 2.9z"/><path color="#ff0700" d="M181.4 107.9l1.9-3.1 -1.7-2.3 -1.9 3.1z"/><path color="#ff0300" d="M196.3 88l1.9-2.8 -1.8-1.7 -1.9 2.8z"/><path color="#d2ff00" d="M159 137.5l1.9-2.5 -1.7-.2 -1.9 2.8z"/><path color="#ff0700" d="M179.6 111l1.8-3.1 -1.7-2.3 -1.9 3.2z"/><path color="#ff0400" d="M194.4 91l1.9-3 -1.8-1.7 -1.8 3z"/><path color="#bbff00" d="M157.1 139.8l1.9-2.3 -1.7 .1 -1.9 2.7z"/><path color="#ff1000" d="M177.7 114.1l1.9-3.1 -1.8-2.2 -1.9 3.1z"/><path color="#7200ff" d="M126.6 190.6l1.9-5.3 -1.6 1.9 -1.9 4.9z"/><path color="#f80000" d="M209.3 77.5l3.7-3.9 -3.7-2.2 -3.7 3.9z"/><path color="#ff2e00" d="M175.8 117.1l1.9-3 -1.8-2.2 -1.8 3.1z"/><path color="#a6ff00" d="M155.2 142.1l1.9-2.3 -1.7 .5 -1.9 2.6z"/><path color="#ff0400" d="M192.6 94.1l1.8-3.1 -1.7-1.7 -1.9 3z"/><path color="#ff4f00" d="M173.9 120l1.9-2.9 -1.7-2.1 -1.9 3z"/><path color="#82ff00" d="M153.3 144.3l1.9-2.2 -1.7 .8 -1.9 2.6z"/><path color="#ff0500" d="M190.7 97.3l1.9-3.2 -1.8-1.8 -1.9 3z"/><path color="#ff7200" d="M172 122.8l1.9-2.8 -1.7-2 -1.9 3z"/><path color="#3d00ff" d="M128.5 185.3l1.9-4.9 -1.6 2.2 -1.9 4.6z"/><path color="#5bff00" d="M151.4 146.6l1.9-2.3 -1.7 1.2 -1.8 2.5z"/><path color="#ff0500" d="M188.8 100.5l1.9-3.2 -1.8-2 -1.9 3.2z"/><path color="#ff9300" d="M170.1 125.6l1.9-2.8 -1.7-1.8 -1.9 3z"/><path color="#33ff00" d="M149.5 148.8l1.9-2.2 -1.6 1.4 -1.9 2.5z"/><path color="#ff0600" d="M186.9 103.7l1.9-3.2 -1.8-2 -1.8 3.1z"/><path color="#ffb200" d="M168.3 128.2l1.8-2.6 -1.7-1.6 -1.9 2.9z"/><path color="#0b00ff" d="M130.4 180.4l1.9-4.4 -1.6 2.4 -1.9 4.2z"/><path color="#0cff00" d="M147.6 151.1l1.9-2.3 -1.6 1.7 -1.9 2.6z"/><path color="#ff0100" d="M205.6 82.2l3.7-4.7 -3.7-2.2 -3.7 4.6z"/><path color="#ff0700" d="M185.1 106.9l1.8-3.2 -1.7-2.1 -1.9 3.2z"/><path color="#7000c8" d="M124.4 201.5l1.9-6.7 -1.6 1.5 -1.9 6.3z"/><path color="#ffd100" d="M166.4 130.7l1.9-2.5 -1.8-1.3 -1.8 2.8z"/><path color="#00ff2d" d="M145.7 153.5l1.9-2.4 -1.6 2 -1.9 2.6z"/><path color="#0021ff" d="M132.3 176l1.9-4.1 -1.6 2.6 -1.9 3.9z"/><path color="#ff0700" d="M183.2 110.1l1.9-3.2 -1.8-2.1 -1.9 3.1z"/><path color="#14c396" d="M143.8 156.1l1.9-2.6 -1.6 2.2 -1.9 2.8z"/><path color="#ff0300" d="M198.1 89.5l1.9-3 -1.8-1.3 -1.9 2.8z"/><path color="#0051ff" d="M134.2 171.9l1.9-3.7 -1.6 2.7 -1.9 3.6z"/><path color="#ff0800" d="M181.3 113.2l1.9-3.1 -1.8-2.2 -1.8 3.1z"/><path color="#14c3c3" d="M141.9 158.8l1.9-2.7 -1.6 2.4 -2 2.8z"/><path color="#0096ff" d="M136.1 168.2l1.9-3.4 -1.6 2.7 -1.9 3.4z"/><path color="#14c3ed" d="M139.9 161.7l2-2.9 -1.7 2.5 -1.9 3z"/><path color="#14a6fe" d="M138 164.8l1.9-3.1 -1.6 2.6 -1.9 3.2z"/><path color="#cb0000" d="M220.5 71.1l3.7-2.3 -3.8-1 -3.7 2.5z"/><path color="#ff1f00" d="M179.4 116.2l1.9-3 -1.7-2.2 -1.9 3.1z"/><path color="#ff0400" d="M196.3 92.6l1.8-3.1 -1.8-1.5 -1.9 3z"/><path color="#ff0300" d="M201.8 87.6l3.8-5.4 -3.7-2.3 -3.7 5.3z"/><path color="#ff3b00" d="M177.5 119.2l1.9-3 -1.7-2.1 -1.9 3z"/><path color="#ff0500" d="M194.4 95.7l1.9-3.1 -1.9-1.6 -1.8 3.1z"/><path color="#7d00f5" d="M126.3 194.8l1.9-6.1 -1.6 1.9 -1.9 5.7z"/><path color="#ff5900" d="M175.7 122l1.8-2.8 -1.7-2.1 -1.9 2.9z"/><path color="#ff0500" d="M192.5 99l1.9-3.3 -1.8-1.6 -1.9 3.2z"/><path color="#ff7900" d="M173.8 124.7l1.9-2.7 -1.8-2 -1.9 2.8z"/><path color="#ff0600" d="M190.6 102.3l1.9-3.3 -1.8-1.7 -1.9 3.2z"/><path color="#fffb00" d="M164.3 136.3l3.8-4.2 -3.4-2.4 -3.8 5.3z"/><path color="#ff9500" d="M171.9 127.3l1.9-2.6 -1.8-1.9 -1.9 2.8z"/><path color="#ff0600" d="M188.7 105.6l1.9-3.3 -1.8-1.8 -1.9 3.2z"/><path color="#5200ff" d="M128.2 188.7l1.9-5.5 -1.6 2.1 -1.9 5.3z"/><path color="#ffb000" d="M170 129.7l1.9-2.4 -1.8-1.7 -1.8 2.6z"/><path color="#ff0700" d="M186.8 108.9l1.9-3.3 -1.8-1.9 -1.8 3.2z"/><path color="#e10000" d="M216.8 74.3l3.7-3.2 -3.8-.8 -3.7 3.3z"/><path color="#ff0800" d="M185 112.1l1.8-3.2 -1.7-2 -1.9 3.2z"/><path color="#85ff00" d="M153.1 145.6l1.9-2 -1.7 .7 -1.9 2.3z"/><path color="#ffcc00" d="M168.1 132.1l1.9-2.4 -1.7-1.5 -1.9 2.5z"/><path color="#dbff00" d="M160.5 140.1l3.8-3.8 -3.4-1.3 -3.8 4.8z"/><path color="#ff1500" d="M183.1 115.2l1.9-3.1 -1.8-2 -1.9 3.1z"/><path color="#ff0400" d="M200 90.6l1.8-3 -1.8-1.1 -1.9 3z"/><path color="#62ff00" d="M151.1 147.5l2-1.9 -1.7 1 -1.9 2.2z"/><path color="#1800ff" d="M130.1 183.2l1.9-5.1 -1.6 2.3 -1.9 4.9z"/><path color="#ff2d00" d="M181.2 118.2l1.9-3 -1.8-2 -1.9 3z"/><path color="#ff0400" d="M198.1 93.8l1.9-3.2 -1.9-1.1 -1.8 3.1z"/><path color="#3dff00" d="M149.2 149.6l1.9-2.1 -1.6 1.3 -1.9 2.3z"/><path color="#ff4700" d="M179.3 121.1l1.9-2.9 -1.8-2 -1.9 3z"/><path color="#b6ff00" d="M156.7 143.4l3.8-3.3 -3.4-.3 -3.8 4.5z"/><path color="#001bff" d="M132 178.1l1.9-4.5 -1.6 2.4 -1.9 4.4z"/><path color="#ff0500" d="M196.2 97l1.9-3.2 -1.8-1.2 -1.9 3.1z"/><path color="#ff6300" d="M177.4 123.9l1.9-2.8 -1.8-1.9 -1.8 2.8z"/><path color="#18ff00" d="M147.3 151.7l1.9-2.1 -1.6 1.5 -1.9 2.4z"/><path color="#7600dc" d="M125.9 199.7l1.9-6.9 -1.5 2 -1.9 6.7z"/><path color="#f90000" d="M213.1 78.3l3.7-4 -3.8-.7 -3.7 3.9z"/><path color="#ff0600" d="M194.3 100.3l1.9-3.3 -1.8-1.3 -1.9 3.3z"/><path color="#00ff17" d="M145.4 154.1l1.9-2.4 -1.6 1.8 -1.9 2.6z"/><path color="#ff8000" d="M175.5 126.5l1.9-2.6 -1.7-1.9 -1.9 2.7z"/><path color="#004fff" d="M133.9 173.6l1.9-4.1 -1.6 2.4 -1.9 4.1z"/><path color="#00ff59" d="M143.5 156.6l1.9-2.5 -1.6 2 -1.9 2.7z"/><path color="#ff0600" d="M192.4 103.7l1.9-3.4 -1.8-1.3 -1.9 3.3z"/><path color="#009cff" d="M135.8 169.5l1.9-3.8 -1.6 2.5 -1.9 3.7z"/><path color="#ff9800" d="M173.6 129l1.9-2.5 -1.7-1.8 -1.9 2.6z"/><path color="#00ff9c" d="M141.6 159.3l1.9-2.7 -1.6 2.2 -2 2.9z"/><path color="#00e3ff" d="M137.7 165.7l1.9-3.3 -1.6 2.4 -1.9 3.4z"/><path color="#00ffd9" d="M139.6 162.4l2-3.1 -1.7 2.4 -1.9 3.1z"/><path color="#ff0700" d="M190.5 107.1l1.9-3.4 -1.8-1.4 -1.9 3.3z"/><path color="#ffb100" d="M171.7 131.4l1.9-2.4 -1.7-1.7 -1.9 2.4z"/><path color="#ff0700" d="M188.6 110.4l1.9-3.3 -1.8-1.5 -1.9 3.3z"/><path color="#6e00ff" d="M127.8 192.8l1.9-6.3 -1.5 2.2 -1.9 6.1z"/><path color="#ff0a00" d="M186.7 113.7l1.9-3.3 -1.8-1.5 -1.8 3.2z"/><path color="#ffca00" d="M169.8 133.6l1.9-2.2 -1.7-1.7 -1.9 2.4z"/><path color="#ff0100" d="M209.3 83.1l3.8-4.8 -3.8-.8 -3.7 4.7z"/><path color="#ff2000" d="M184.8 116.9l1.9-3.2 -1.7-1.6 -1.9 3.1z"/><path color="#ff3800" d="M183 120l1.8-3.1 -1.7-1.7 -1.9 3z"/><path color="#a5ff00" d="M154.7 145.1l2-1.7 -1.7 .2 -1.9 2z"/><path color="#ff5100" d="M181.1 123l1.9-3 -1.8-1.8 -1.9 2.9z"/><path color="#2c00ff" d="M129.7 186.5l1.9-5.6 -1.5 2.3 -1.9 5.5z"/><path color="#ff6c00" d="M179.2 125.7l1.9-2.7 -1.8-1.9 -1.9 2.8z"/><path color="#c40000" d="M224.4 70.3l3.7-1.5 -3.9 0 -3.7 2.3z"/><path color="#89ff00" d="M152.8 146.8l1.9-1.7 -1.6 .5 -2 1.9z"/><path color="#ff0300" d="M205.5 88.7l3.8-5.6 -3.7-.9 -3.8 5.4z"/><path color="#ff0500" d="M198 97.9l1.9-3.3 -1.8-.8 -1.9 3.2z"/><path color="#ff8600" d="M177.3 128.4l1.9-2.7 -1.8-1.8 -1.9 2.6z"/><path color="#ff0600" d="M196.1 101.3l1.9-3.4 -1.8-.9 -1.9 3.3z"/><path color="#68ff00" d="M150.9 148.6l1.9-1.8 -1.7 .7 -1.9 2.1z"/><path color="#ff9d00" d="M175.4 130.9l1.9-2.5 -1.8-1.9 -1.9 2.5z"/><path color="#000eff" d="M131.6 180.9l1.9-5.1 -1.5 2.3 -1.9 5.1z"/><path color="#ff0600" d="M194.2 104.7l1.9-3.4 -1.8-1 -1.9 3.4z"/><path color="#ffee00" d="M167.7 139.2l3.9-3.8 -3.5-3.3 -3.8 4.2z"/><path color="#ff0700" d="M192.3 108.2l1.9-3.5 -1.8-1 -1.9 3.4z"/><path color="#ff0400" d="M201.8 95l3.7-6.3 -3.7-1.1 -3.7 6.2z"/><path color="#46ff00" d="M149 150.5l1.9-1.9 -1.7 1 -1.9 2.1z"/><path color="#ffb400" d="M173.5 133.2l1.9-2.3 -1.8-1.9 -1.9 2.4z"/><path color="#ff0800" d="M190.4 111.6l1.9-3.4 -1.8-1.1 -1.9 3.3z"/><path color="#0043ff" d="M133.5 175.8l2-4.5 -1.6 2.3 -1.9 4.5z"/><path color="#22ff00" d="M147 152.6l2-2.1 -1.7 1.2 -1.9 2.4z"/><path color="#ff1100" d="M188.5 115l1.9-3.4 -1.8-1.2 -1.9 3.3z"/><path color="#ffcb00" d="M171.6 135.4l1.9-2.2 -1.8-1.8 -1.9 2.2z"/><path color="#7d00f6" d="M127.5 197l1.9-6.8 -1.6 2.6 -1.9 6.9z"/><path color="#ff2700" d="M186.6 118.3l1.9-3.3 -1.8-1.3 -1.9 3.2z"/><path color="#00ff07" d="M145.1 154.9l1.9-2.3 -1.6 1.5 -1.9 2.5z"/><path color="#0097ff" d="M135.5 171.3l1.9-4.1 -1.6 2.3 -1.9 4.1z"/><path color="#ff3f00" d="M184.7 121.5l1.9-3.2 -1.8-1.4 -1.8 3.1z"/><path color="#d80000" d="M220.7 73.1l3.7-2.8 -3.9 .8 -3.7 3.2z"/><path color="#00ff4b" d="M143.2 157.5l1.9-2.6 -1.6 1.7 -1.9 2.7z"/><path color="#ebff00" d="M163.9 142.3l3.8-3.1 -3.4-2.9 -3.8 3.8z"/><path color="#00e5ff" d="M137.4 167.2l1.9-3.6 -1.6 2.1 -1.9 3.8z"/><path color="#00ff92" d="M141.3 160.3l1.9-2.8 -1.6 1.8 -2 3.1z"/><path color="#00ffd3" d="M139.3 163.6l2-3.3 -1.7 2.1 -1.9 3.3z"/><path color="#ff5900" d="M182.8 124.5l1.9-3 -1.7-1.5 -1.9 3z"/><path color="#ff7300" d="M180.9 127.4l1.9-2.9 -1.7-1.5 -1.9 2.7z"/><path color="#ff8b00" d="M179 130.1l1.9-2.7 -1.7-1.7 -1.9 2.7z"/><path color="#4500ff" d="M129.4 190.2l1.9-6.2 -1.6 2.5 -1.9 6.3z"/><path color="#ff0500" d="M199.9 98.3l1.9-3.3 -1.9-.4 -1.9 3.3z"/><path color="#ff0000" d="M213.1 80.3l1.9-2.4 -1.9 .4 -1.9 2.3z"/><path color="#ffa200" d="M177.1 132.7l1.9-2.6 -1.7-1.7 -1.9 2.5z"/><path color="#ceff00" d="M160.1 144.9l3.8-2.6 -3.4-2.2 -3.8 3.3z"/><path color="#ff0600" d="M198 101.8l1.9-3.5 -1.9-.4 -1.9 3.4zM196.1 105.3l1.9-3.5 -1.9-.5 -1.9 3.4z"/><path color="#ef0000" d="M216.9 77.1l3.8-4 -3.9 1.2 -3.7 4z"/><path color="#ffb800" d="M175.2 135.1l1.9-2.4 -1.7-1.8 -1.9 2.3z"/><path color="#ff0100" d="M211.2 82.8l1.9-2.5 -1.9 .3 -1.9 2.5z"/><path color="#ff0700" d="M194.2 108.8l1.9-3.5 -1.9-.6 -1.9 3.5z"/><path color="#0300ff" d="M131.3 184l1.9-5.5 -1.6 2.4 -1.9 5.6z"/><path color="#ff0800" d="M192.3 112.3l1.9-3.5 -1.9-.6 -1.9 3.4z"/><path color="#ffce00" d="M173.3 137.3l1.9-2.2 -1.7-1.9 -1.9 2.2z"/><path color="#ff1200" d="M190.4 115.8l1.9-3.5 -1.9-.7 -1.9 3.4z"/><path color="#ff0200" d="M209.3 85.6l1.9-2.8 -1.9 .3 -1.9 2.7z"/><path color="#ff2900" d="M188.4 119.2l2-3.4 -1.9-.8 -1.9 3.3z"/><path color="#b1ff00" d="M156.2 147.3l3.9-2.4 -3.4-1.5 -3.9 3.4z"/><path color="#ffe400" d="M171.4 139.4l1.9-2.1 -1.7-1.9 -1.9 2z"/><path color="#ff4200" d="M186.5 122.5l1.9-3.3 -1.8-.9 -1.9 3.2z"/><path color="#ff0300" d="M207.4 88.5l1.9-2.9 -1.9 .2 -1.9 2.9z"/><path color="#0035ff" d="M133.2 178.5l1.9-5 -1.6 2.3 -1.9 5.1z"/><path color="#ff5c00" d="M184.6 125.8l1.9-3.3 -1.8-1 -1.9 3z"/><path color="#4aff00" d="M148.7 151.7l1.9-1.8 -1.6 .6 -2 2.1z"/><path color="#fff900" d="M169.5 141.2l1.9-1.8 -1.7-2 -2 1.8z"/><path color="#ff7700" d="M182.7 128.8l1.9-3 -1.8-1.3 -1.9 2.9z"/><path color="#ff0300" d="M205.5 91.6l1.9-3.1 -1.9 .2 -1.8 3z"/><path color="#26ff00" d="M146.8 153.8l1.9-2.1 -1.7 .9 -1.9 2.3z"/><path color="#0089ff" d="M135.1 173.5l2-4.4 -1.6 2.2 -2 4.5z"/><path color="#ff9000" d="M180.8 131.8l1.9-3 -1.8-1.4 -1.9 2.7z"/><path color="#ff0400" d="M203.6 94.8l1.9-3.2 -1.8 .1 -1.9 3.3z"/><path color="#00ff00" d="M144.8 156.1l2-2.3 -1.7 1.1 -1.9 2.6z"/><path color="#86ff00" d="M152.3 150l3.9-2.7 -3.4-.5 -3.8 3.7z"/><path color="#00ddff" d="M137.1 169.1l1.9-3.9 -1.6 2 -1.9 4.1z"/><path color="#ffa700" d="M178.9 134.5l1.9-2.7 -1.8-1.7 -1.9 2.6z"/><path color="#00ff45" d="M142.9 158.8l1.9-2.7 -1.6 1.4 -1.9 2.8z"/><path color="#5e00ff" d="M129.1 193.5l1.9-6.5 -1.6 3.2 -1.9 6.8z"/><path color="#00ffd5" d="M139 165.2l2-3.4 -1.7 1.8 -1.9 3.6z"/><path color="#ff0500" d="M201.7 98.2l1.9-3.4 -1.8 .2 -1.9 3.3z"/><path color="#00ff91" d="M141 161.8l1.9-3 -1.6 1.5 -2 3.3z"/><path color="#fd0000" d="M215 79.5l1.9-2.4 -1.9 .8 -1.9 2.4z"/><path color="#ffbe00" d="M177 137.1l1.9-2.6 -1.8-1.8 -1.9 2.4z"/><path color="#ff0500" d="M199.8 101.7l1.9-3.5 -1.8 .1 -1.9 3.5z"/><path color="#ff0600" d="M197.9 105.2l1.9-3.5 -1.8 .1 -1.9 3.5z"/><path color="#ffd500" d="M175.1 139.5l1.9-2.4 -1.8-2 -1.9 2.2z"/><path color="#ff0700" d="M196 108.8l1.9-3.6 -1.8 .1 -1.9 3.5z"/><path color="#ff0100" d="M213.1 82.1l1.9-2.6 -1.9 .8 -1.9 2.5z"/><path color="#ff0700" d="M194.1 112.4l1.9-3.6 -1.8 0 -1.9 3.5z"/><path color="#ffeb00" d="M173.2 141.7l1.9-2.2 -1.8-2.2 -1.9 2.1z"/><path color="#1600ff" d="M131 187l1.9-5.9 -1.6 2.9 -1.9 6.2z"/><path color="#ff0b00" d="M192.2 116l1.9-3.6 -1.8-.1 -1.9 3.5z"/><path color="#ecff00" d="M167.4 146.8l3.8-3.2 -3.5-4.4 -3.8 3.1z"/><path color="#ff0100" d="M211.2 84.9l1.9-2.8 -1.9 .7 -1.9 2.8z"/><path color="#ff2400" d="M190.3 119.6l1.9-3.6 -1.8-.2 -2 3.4z"/><path color="#ff3e00" d="M188.4 123.1l1.9-3.5 -1.9-.4 -1.9 3.3z"/><path color="#feff00" d="M171.2 143.6l2-1.9 -1.8-2.3 -1.9 1.8z"/><path color="#ff5a00" d="M186.4 126.6l2-3.5 -1.9-.6 -1.9 3.3z"/><path color="#ff0200" d="M209.3 87.8l1.9-2.9 -1.9 .7 -1.9 2.9z"/><path color="#ff7800" d="M184.5 130l1.9-3.4 -1.8-.8 -1.9 3z"/><path color="#0027ff" d="M132.9 181.1l1.9-5.2 -1.6 2.6 -1.9 5.5z"/><path color="#ff9300" d="M182.6 133.2l1.9-3.2 -1.8-1.2 -1.9 3z"/><path color="#6aff00" d="M150.4 151.6l1.9-1.6 -1.7-.1 -1.9 1.8z"/><path color="#ff0300" d="M207.4 90.9l1.9-3.1 -1.9 .7 -1.9 3.1z"/><path color="#ffac00" d="M180.7 136.3l1.9-3.1 -1.8-1.4 -1.9 2.7z"/><path color="#d3ff00" d="M163.5 149.2l3.9-2.4 -3.5-4.5 -3.8 2.6z"/><path color="#ffc500" d="M178.8 139.2l1.9-2.9 -1.8-1.8 -1.9 2.6z"/><path color="#ff0400" d="M205.5 94.1l1.9-3.2 -1.9 .7 -1.9 3.2z"/><path color="#49ff00" d="M148.4 153.4l2-1.8 -1.7 .1 -1.9 2.1z"/><path color="#0077ff" d="M134.8 175.9l2-4.6 -1.7 2.2 -1.9 5z"/><path color="#ffdd00" d="M176.9 141.9l1.9-2.7 -1.8-2.1 -1.9 2.4z"/><path color="#ff0400" d="M203.6 97.5l1.9-3.4 -1.9 .7 -1.9 3.4z"/><path color="#26ff00" d="M146.5 155.4l1.9-2 -1.6 .4 -2 2.3z"/><path color="#00d0ff" d="M136.8 171.3l1.9-4.1 -1.6 1.9 -2 4.4z"/><path color="#ff0500" d="M201.7 100.9l1.9-3.4 -1.9 .7 -1.9 3.5z"/><path color="#fff500" d="M174.9 144.3l2-2.4 -1.8-2.4 -1.9 2.2z"/><path color="#00ff02" d="M144.5 157.8l2-2.4 -1.7 .7 -1.9 2.7z"/><path color="#00ffde" d="M138.7 167.2l2-3.6 -1.7 1.6 -1.9 3.9z"/><path color="#00ff49" d="M142.6 160.5l1.9-2.7 -1.6 1 -1.9 3z"/><path color="#ff0500" d="M199.8 104.5l1.9-3.6 -1.9 .8 -1.9 3.5z"/><path color="#00ff96" d="M140.7 163.6l1.9-3.1 -1.6 1.3 -2 3.4z"/><path color="#f6ff00" d="M173 146.6l1.9-2.3 -1.7-2.6 -2 1.9z"/><path color="#ff0600" d="M197.9 108.1l1.9-3.6 -1.9 .7 -1.9 3.6z"/><path color="#bcff00" d="M159.7 151.1l3.8-1.9 -3.4-4.3 -3.9 2.4z"/><path color="#ff0700" d="M196 111.8l1.9-3.7 -1.9 .7 -1.9 3.6z"/><path color="#ff0800" d="M194 115.6l2-3.8 -1.9 .6 -1.9 3.6z"/><path color="#e8ff00" d="M171.1 148.5l1.9-1.9 -1.8-3 -1.9 1.8z"/><path color="#ff1700" d="M192.1 119.3l1.9-3.7 -1.8 .4 -1.9 3.6z"/><path color="#2500ff" d="M130.6 189.1l2-5.9 -1.6 3.8 -1.9 6.5z"/><path color="#ff3300" d="M190.2 123.1l1.9-3.8 -1.8 .3 -1.9 3.5z"/><path color="#ff5300" d="M188.3 126.9l1.9-3.8 -1.8 0 -2 3.5z"/><path color="#ff7500" d="M186.3 130.7l2-3.8 -1.9-.3 -1.9 3.4z"/><path color="#ff9300" d="M184.4 134.4l1.9-3.7 -1.8-.7 -1.9 3.2z"/><path color="#dbff00" d="M169.2 150.1l1.9-1.6 -1.8-3.1 -1.9 1.4z"/><path color="#ffb000" d="M182.5 137.9l1.9-3.5 -1.8-1.2 -1.9 3.1z"/><path color="#ffcd00" d="M180.6 141.3l1.9-3.4 -1.8-1.6 -1.9 2.9z"/><path color="#ffe900" d="M178.6 144.4l2-3.1 -1.8-2.1 -1.9 2.7z"/><path color="#a4ff00" d="M155.8 153l3.9-1.9 -3.5-3.8 -3.9 2.7z"/><path color="#001dff" d="M132.6 183.2l1.9-5.3 -1.6 3.2 -1.9 5.9z"/><path color="#d0ff00" d="M167.2 151.5l2-1.4 -1.8-3.3 -1.9 1.3z"/><path color="#fcff00" d="M176.7 147.3l1.9-2.9 -1.7-2.5 -2 2.4z"/><path color="#ebff00" d="M174.8 149.9l1.9-2.6 -1.8-3 -1.9 2.3z"/><path color="#0067ff" d="M134.5 177.9l1.9-4.6 -1.6 2.6 -1.9 5.2z"/><path color="#c5ff00" d="M165.3 152.7l1.9-1.2 -1.7-3.4 -2 1.1z"/><path color="#dbff00" d="M172.9 152.2l1.9-2.3 -1.8-3.3 -1.9 1.9z"/><path color="#74ff00" d="M151.8 155.2l4-2.2 -3.5-3 -3.9 3.4z"/><path color="#00c3ff" d="M136.4 173.3l2-4.1 -1.6 2.1 -2 4.6z"/><path color="#cdff00" d="M170.9 154.1l2-1.9 -1.8-3.7 -1.9 1.6z"/><path color="#00ff0c" d="M144.3 159.8l1.9-2.3 -1.7 .3 -1.9 2.7z"/><path color="#bbff00" d="M163.3 153.7l2-1 -1.8-3.5 -1.9 1z"/><path color="#00ffe8" d="M138.4 169.2l2-3.6 -1.7 1.6 -1.9 4.1z"/><path color="#00ff53" d="M142.3 162.5l2-2.7 -1.7 .7 -1.9 3.1z"/><path color="#00ff9f" d="M140.4 165.6l1.9-3.1 -1.6 1.1 -2 3.6z"/><path color="#c0ff00" d="M169 155.7l1.9-1.6 -1.7-4 -2 1.4z"/><path color="#b1ff00" d="M161.4 154.5l1.9-.8 -1.7-3.5 -1.9 .9z"/><path color="#38ff00" d="M147.9 158l3.9-2.8 -3.4-1.8 -3.9 4.4z"/><path color="#b5ff00" d="M167 157.1l2-1.4 -1.8-4.2 -1.9 1.2z"/><path color="#a7ff00" d="M159.4 155.3l2-.8 -1.7-3.4 -2 1z"/><path color="#acff00" d="M165.1 158.2l1.9-1.1 -1.7-4.4 -2 1z"/><path color="#1420fe" d="M132.2 183.8l2-5 -1.6 4.4 -2 5.9z"/><path color="#9cff00" d="M157.5 156.1l1.9-.8 -1.7-3.2 -1.9 .9z"/><path color="#a3ff00" d="M163.2 159l1.9-.8 -1.8-4.5 -1.9 .8z"/><path color="#0065ff" d="M134.2 178.8l1.9-4.3 -1.6 3.4 -1.9 5.3z"/><path color="#17ff00" d="M146 159.8l1.9-1.8 -1.7-.5 -1.9 2.3z"/><path color="#89ff00" d="M155.5 156.8l2-.7 -1.7-3.1 -2 1z"/><path color="#00c0ff" d="M136.1 174.5l2-3.9 -1.7 2.7 -1.9 4.6z"/><path color="#00ff18" d="M144 162l2-2.2 -1.7 0 -2 2.7z"/><path color="#96ff00" d="M161.2 159.7l2-.7 -1.8-4.5 -2 .8z"/><path color="#00ffed" d="M138.1 170.6l1.9-3.3 -1.6 1.9 -2 4.1z"/><path color="#00ff5d" d="M142 164.4l2-2.4 -1.7 .5 -1.9 3.1z"/><path color="#00ffa5" d="M140 167.3l2-2.9 -1.6 1.2 -2 3.6z"/><path color="#75ff00" d="M153.6 157.6l1.9-.8 -1.7-2.8 -2 1.2z"/><path color="#87ff00" d="M159.2 160.3l2-.6 -1.8-4.4 -1.9 .8z"/><path color="#78ff00" d="M157.3 160.7l1.9-.4 -1.7-4.2 -2 .7z"/><path color="#6aff00" d="M155.3 161.1l2-.4 -1.8-3.9 -1.9 .8z"/><path color="#4fff00" d="M151.4 161.9l3.9-.8 -3.5-5.9 -3.9 2.8z"/><path color="#1469fe" d="M133.8 177.4l2-3.6 -1.6 5 -2 5z"/><path color="#14a5fe" d="M135.8 173.8l1.9-3.1 -1.6 3.8 -1.9 4.3z"/><path color="#00ff9e" d="M139.7 168l2-2.3 -1.7 1.6 -1.9 3.3z"/><path color="#14c3e7" d="M137.7 170.7l2-2.7 -1.6 2.6 -2 3.9z"/><path color="#22ff00" d="M147.4 162.9l4-1 -3.5-3.9 -3.9 4z"/><path color="#00ff22" d="M143.4 164.3l4-1.4 -3.4-.9 -4 5.3z"/><path color="#14c375" d="M141.4 165.3l2-1 -1.7 1.4 -2 2.3z"/><path color="#14c39c" d="M139.4 166.6l2-1.3 -1.7 2.7 -2 2.7z"/><path color="#14c3c4" d="M137.4 168.1l2-1.5 -1.7 4.1 -1.9 3.1z"/><path color="#14c3ee" d="M135.4 170l2-1.9 -1.6 5.7 -2 3.6z"/></g></g>
<use href="#rd" x="135.4" y="170"/><use href="#rd" x="154.5" y="161.3"/><use href="#rd" x="173.2" y="151.8"/><use href="#rd" x="191.7" y="120.1"/><use href="#rd" x="210.1" y="86.6"/><use href="#rd" x="228.1" y="68.8"/><use href="#rd" x="119.7" y="202.8"/><use href="#rd" x="137.9" y="165.3"/><use href="#rd" x="156" y="137.5"/><use href="#rd" x="174" y="104.9"/><use href="#rd" x="191.8" y="76.5"/><use href="#rd" x="209.3" y="60.4"/><use href="#rd" x="104.4" y="173.9"/><use href="#rd" x="122.7" y="186.1"/><use href="#rd" x="140.1" y="152.7"/><use href="#rd" x="157.4" y="104.6"/><use href="#rd" x="174.7" y="60.3"/><use href="#rd" x="191.8" y="42.8"/><use href="#rd" x="89.5" y="125.3"/><use href="#rd" x="107.9" y="155.1"/><use href="#rd" x="125.4" y="161.3"/><use href="#rd" x="158.6" y="73.2"/><use href="#rd" x="175.3" y="33.9"/><use href="#rd" x="75.7" y="98.9"/><use href="#rd" x="93.6" y="113.9"/><use href="#rd" x="111" y="129.9"/><use href="#rd" x="127.8" y="134.8"/><use href="#rd" x="143.8" y="94.2"/><use href="#rd" x="159.8" y="44.5"/><use href="#rd" x="63.7" y="111.8"/><use href="#rd" x="80.8" y="109.4"/><use href="#rd" x="97.5" y="106.2"/><use href="#rd" x="113.8" y="96.9"/><use href="#rd" x="129.7" y="76.9"/><use href="#rd" x="145.4" y="60.6"/><use href="#rd" x="52.9" y="132.5"/><use href="#rd" x="85" y="100.8"/><use href="#rd" x="100.9" y="89.7"/><use href="#rd" x="116.4" y="69"/><use href="#rd" x="131.8" y="60.9"/>
<g stroke="#777" stroke-width="0.7" fill="none"><line x1="49" y1="13.9" x2="205.6" y2="1.3"/><line x1="205.6" y1="1.3" x2="312.1" y2="25.9"/><line x1="312.1" y1="25.9" x2="304.6" y2="213.3"/></g>
<g stroke="#222" stroke-width="0.9"><line x1="49" y1="13.9" x2="54.7" y2="188"/><line x1="50.1" y1="188" x2="54.7" y2="188"/><line x1="49.6" y1="171.4" x2="54.2" y2="171.4"/><line x1="49" y1="154.6" x2="53.6" y2="154.6"/><line x1="48.5" y1="137.6" x2="53.1" y2="137.6"/><line x1="47.9" y1="120.4" x2="52.5" y2="120.4"/><line x1="47.3" y1="103.1" x2="51.9" y2="103.1"/><line x1="46.8" y1="85.6" x2="51.4" y2="85.6"/><line x1="46.2" y1="67.9" x2="50.8" y2="67.9"/><line x1="45.6" y1="50.1" x2="50.2" y2="50.1"/><line x1="45" y1="32.1" x2="49.6" y2="32.1"/><line x1="44.4" y1="13.9" x2="49" y2="13.9"/></g>
<g font-size="8.3" fill="#222"><text x="48.4" y="190.9" text-anchor="end">-800</text><text x="47.9" y="174.3" text-anchor="end">-600</text><text x="47.3" y="157.5" text-anchor="end">-400</text><text x="46.8" y="140.5" text-anchor="end">-200</text><text x="46.2" y="123.3" text-anchor="end">0</text><text x="45.6" y="106" text-anchor="end">200</text><text x="45.1" y="88.5" text-anchor="end">400</text><text x="44.5" y="70.8" text-anchor="end">600</text><text x="43.9" y="53" text-anchor="end">800</text><text x="43.3" y="35" text-anchor="end">1000</text><text x="42.7" y="16.8" text-anchor="end">1200</text></g>
<text transform="translate(22,98.5) rotate(90)" font-size="8.8" text-anchor="middle" fill="#222">Shear stress/MPa</text>
<g stroke="#222" stroke-width="0.7"><line x1="54.7" y1="188" x2="136.1" y2="253.8"/><line x1="136.1" y1="253.8" x2="304.6" y2="213.3"/><line x1="136.1" y1="253.8" x2="133.1" y2="257.2"/><line x1="120.3" y1="241" x2="117.3" y2="244.4"/><line x1="105.4" y1="229" x2="102.4" y2="232.4"/><line x1="91.5" y1="217.8" x2="88.5" y2="221.2"/><line x1="78.5" y1="207.3" x2="75.5" y2="210.7"/><line x1="66.2" y1="197.4" x2="63.2" y2="200.8"/><line x1="54.7" y1="188" x2="51.7" y2="191.4"/><line x1="136.1" y1="253.8" x2="137.3" y2="257"/><line x1="182" y1="242.8" x2="183.2" y2="246"/><line x1="225.2" y1="232.4" x2="226.4" y2="235.6"/><line x1="266" y1="222.6" x2="267.2" y2="225.8"/><line x1="304.6" y1="213.3" x2="305.8" y2="216.5"/><line x1="159.4" y1="248.2" x2="160.1" y2="250.2"/><line x1="204" y1="237.5" x2="204.7" y2="239.5"/><line x1="245.9" y1="227.4" x2="246.6" y2="229.4"/><line x1="285.6" y1="217.9" x2="286.3" y2="219.9"/></g>
<g font-size="8.5" fill="#222"><text x="135.5" y="270" text-anchor="middle">1</text><text x="119.8" y="256.7" text-anchor="middle">2</text><text x="105.2" y="244.3" text-anchor="middle">3</text><text x="91.4" y="232.7" text-anchor="middle">4</text><text x="78.6" y="221.7" text-anchor="middle">5</text><text x="66.5" y="211.4" text-anchor="middle">6</text><text x="55.1" y="201.6" text-anchor="middle">7</text></g>
<text transform="translate(80.8,233) rotate(40)" font-size="8.5" text-anchor="middle" fill="#222">Steel stranded wire number</text>
<g font-size="6.8" fill="#333"><text transform="translate(139.5,258.8) rotate(27) scale(0.75,0.62)">-100</text><text transform="translate(185.4,247.8) rotate(27) scale(0.75,0.62)">-50</text><text transform="translate(228.6,237.4) rotate(27) scale(0.75,0.62)">0</text><text transform="translate(269.4,227.6) rotate(27) scale(0.75,0.62)">50</text><text transform="translate(308,218.3) rotate(27) scale(0.75,0.62)">100</text></g>
<text transform="translate(237.5,245.5) rotate(-14.6) scale(1,0.62)" font-size="8.8" text-anchor="middle" fill="#222">Distance from structural surface/mm</text>
<text transform="translate(142.6,20.2) skewY(21)" font-size="9.3" letter-spacing="-0.4" fill="#1a1a1a">Joint plane</text>
<rect x="317.2" y="17.4" width="9.5" height="174" fill="url(#cbg)" stroke="#333" stroke-width="0.6"/>
<g stroke="#222" stroke-width="0.8"><line x1="326.8" y1="19.6" x2="330.5" y2="19.6"/><line x1="326.8" y1="36.6" x2="330.5" y2="36.6"/><line x1="326.8" y1="53.6" x2="330.5" y2="53.6"/><line x1="326.8" y1="70.6" x2="330.5" y2="70.6"/><line x1="326.8" y1="87.6" x2="330.5" y2="87.6"/><line x1="326.8" y1="104.7" x2="330.5" y2="104.7"/><line x1="326.8" y1="121.7" x2="330.5" y2="121.7"/><line x1="326.8" y1="138.7" x2="330.5" y2="138.7"/><line x1="326.8" y1="155.7" x2="330.5" y2="155.7"/><line x1="326.8" y1="172.7" x2="330.5" y2="172.7"/><line x1="326.8" y1="189.7" x2="330.5" y2="189.7"/></g>
<g font-size="8" fill="#222"><text x="332.5" y="22.4">1060.00</text><text x="332.5" y="39.4">912.50</text><text x="332.5" y="56.4">765.00</text><text x="332.5" y="73.4">617.50</text><text x="332.5" y="90.4">470.00</text><text x="332.5" y="107.5">322.50</text><text x="332.5" y="124.5">175.00</text><text x="332.5" y="141.5">27.50</text><text x="332.5" y="158.5">-120.00</text><text x="332.5" y="175.5">-267.50</text><text x="332.5" y="192.5">-415.00</text></g>
</g>
</svg>
</body></html>
